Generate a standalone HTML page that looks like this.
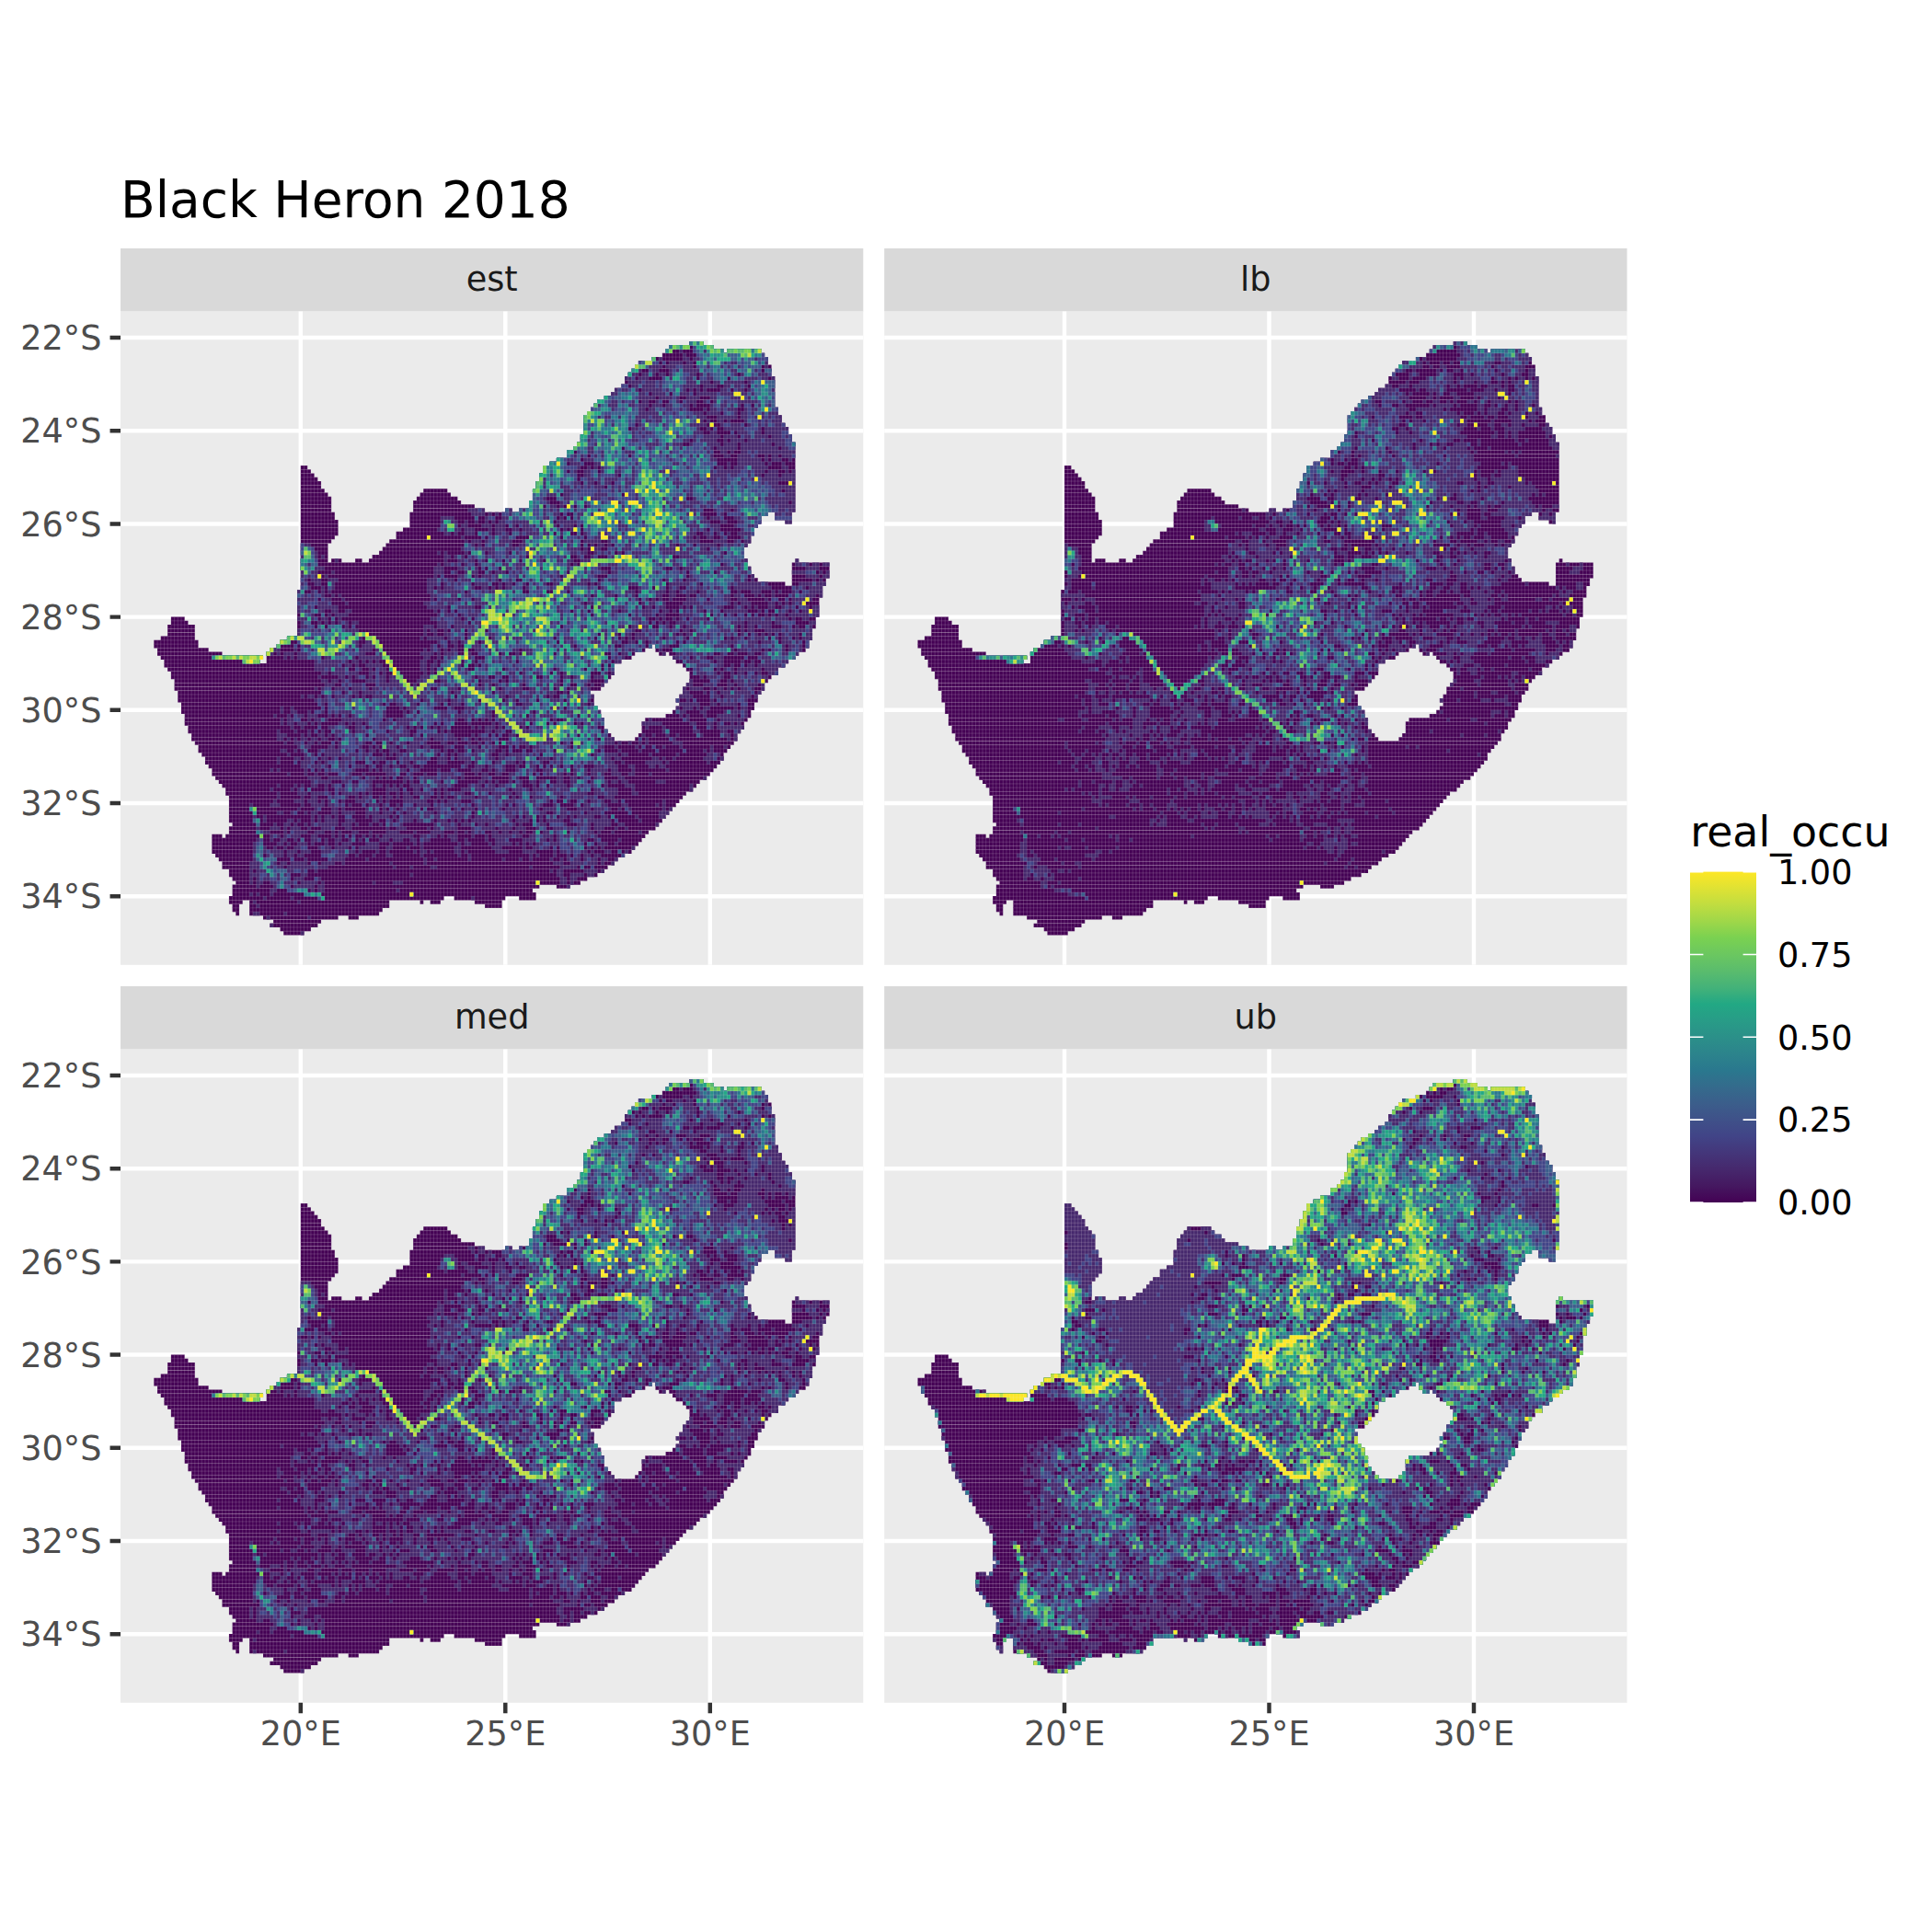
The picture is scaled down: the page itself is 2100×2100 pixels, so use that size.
<!DOCTYPE html><html><head><meta charset="utf-8"><title>Black Heron 2018</title><style>html,body{margin:0;padding:0;background:#fff}svg{display:block}text{font-family:"DejaVu Sans","Liberation Sans",sans-serif}</style></head><body><svg width="2100" height="2100" viewBox="0 0 2100 2100"><rect width="2100" height="2100" fill="#fff"/><defs><clipPath id="sa"><path d="M62.83 413.04L59.19 408.89L59.19 403.93L55.38 399.79L55.38 391.5L51.73 387.36L47.92 383.22L47.92 379.08L44.28 374.94L40.47 370.8L40.47 365.83L36.83 365.83L36.83 357.55L44.28 357.55L44.28 353.41L51.73 353.41L51.73 340.99L55.38 340.99L55.38 332.37L69.95 332.37L69.95 336.85L73.6 336.85L73.6 340.99L81.05 340.99L81.05 357.55L84.86 357.55L84.86 365.83L95.96 365.83L95.96 369.97L110.86 369.97L110.86 374.61L155.58 374.61L155.58 378.58L151.77 378.58L151.77 382.39L159.39 382.39L159.39 369.97L163.04 369.97L163.04 365.83L170.49 365.83L170.49 361.69L174.13 361.69L174.13 357.55L181.26 357.55L181.26 353.41L192.52 353.41L192.52 302.06L196.16 302.06L196.16 167.07L203.62 167.07L203.62 171.21L207.26 171.21L207.26 175.69L211.07 175.69L211.07 180.32L214.88 180.32L214.88 184.46L218.52 184.46L218.52 192.75L222.33 192.75L222.33 196.89L225.98 196.89L225.98 201.03L229.79 201.03L229.79 218.42L233.43 218.42L233.43 226.7L237.24 226.7L237.24 243.26L233.43 243.26L233.43 247.4L229.79 247.4L229.79 251.54L225.98 251.54L225.98 273.08L229.79 273.08L229.79 268.94L240.55 268.94L240.55 273.08L255.46 273.08L255.46 268.94L262.91 268.94L262.91 273.08L270.37 273.08L270.37 268.94L274.01 268.94L273.97 264.3L281.42 264.3L281.42 260.16L285.23 260.16L285.23 256.02L288.88 256.02L288.88 251.88L292.69 251.88L292.69 247.74L300.14 247.74L300.14 239.45L307.59 239.45L307.59 234.98L315.05 234.98L315.05 218.42L318.69 218.42L318.69 205.5L322.5 205.5L322.5 201.36L326.14 201.36L326.14 197.22L329.95 197.22L329.95 193.08L355.13 193.08L355.13 197.22L359.27 197.22L359.27 201.36L366.72 201.36L366.72 205.5L370.04 205.5L370.04 209.64L384.94 209.64L384.94 213.78L396.2 213.78L396.2 218.42L418.9 218.42L418.9 213.78L425.52 213.78L425.52 218.42L432.98 218.42L432.98 213.78L444.57 213.78L444.57 205.5L448.38 205.5L448.38 193.08L452.02 193.08L452.02 184.8L455.83 184.8L455.83 176.51L459.48 176.51L459.48 167.4L466.93 167.4L466.93 163.26L474.38 163.26L474.38 159.12L485.15 159.12L485.15 150.84L492.6 150.84L492.6 146.7L496.74 146.7L496.74 142.56L500.55 142.56L500.55 134.28L504.2 134.28L503.79 112.91L507.31 108.86L511.71 104.46L515.23 100.59L518.75 96.19L533.71 91.79L533.71 87.39L541.63 82.99L545.15 78.59L548.67 75.07L552.19 66.28L555.71 62.23L559.58 58L567.15 53.96L585.63 49.56L592.66 41.64L596.18 37.24L619.06 37.24L619.06 32.84L633.14 32.84L633.14 37.24L644.58 37.24L644.58 41.11L656.02 41.11L656.02 45.16L659.54 45.16L659.54 41.11L696.49 41.11L700.01 46.04L703.53 53.96L707.93 66.28L711.45 79.47L711.45 104.11L714.97 107.63L719.02 121.71L722.54 125.23L726.41 129.1L729.93 142.83L733.8 146.35L733.8 218.5L729.93 218.5L729.93 230.82L722.54 230.82L722.54 226.42L711.45 226.42L711.45 218.5L704.06 218.5L704.06 222.02L696.49 222.02L696.49 226.42L692.98 230.82L689.46 238.74L685.41 246.66L681.89 251.94L678.02 255.46L678.02 268.66L681.89 273.06L685.41 285.38L689.46 289.77L696.49 294.17L718.49 294.17L722.54 298.22L729.93 298.22L729.93 273.06L733.8 272.99L733.8 268.85L737.45 268.85L737.45 272.99L770.57 272.99L770.57 289.56L767.26 289.56L767.26 297.84L763.12 297.84L763.12 310.26L759.81 310.26L759.81 331.79L755.67 331.79L755.67 344.22L752.35 344.22L752.35 356.64L748.21 356.64L748.21 364.92L740.76 369.89L733.31 375.69L725.85 380.65L718.4 386.45L710.95 395.56L703.49 403.01L700.18 407.16L696.04 415.44L689.41 424.55L689.41 432L685.27 436.97L677.82 449.39L674.51 457.67L670.37 462.64L667.05 470.1L659.6 475.06L655.46 483.35L652.15 490.8L644.69 496.6L640.55 504.05L633.1 509.02L625.65 516.47L618.19 521.44L610.74 528.89L607.43 533.86L603.29 537.18L596.66 545.46L592.52 549.6L588.38 554.57L585.07 558.71L577.61 563.68L570.16 571.13L566.85 575.27L559.39 581.4L555.54 585.38L552.23 588.69L544.78 592.83L540.64 597.8L533.51 601.94L526.06 606.08L522.42 610.22L514.96 614.36L504.2 618.5L496.74 622.64L489.29 622.64L489.29 627.28L474.38 627.28L474.38 622.64L456.16 622.64L456.16 627.28L448.71 627.28L448.71 631.42L452.02 631.42L452.02 640.03L432.98 640.03L432.98 635.89L418.9 635.89L418.9 640.03L414.76 640.03L414.76 648.32L396.2 648.32L396.2 644.17L384.94 644.17L384.94 640.03L363.41 640.03L363.41 635.89L351.82 635.89L351.82 640.03L348.17 640.03L348.17 644.17L336.91 644.17L336.91 640.03L329.95 640.03L329.95 644.17L326.14 644.17L326.14 640.03L293.02 640.03L293.02 648.32L285.56 648.32L285.56 652.46L281.42 652.46L281.42 656.6L259.1 656.6L259.1 660.74L248.34 660.74L248.34 656.6L236.74 656.6L236.74 660.74L218.52 660.74L218.52 664.88L214.88 664.88L214.88 669.02L206.93 669.02L206.93 673.16L199.48 673.16L199.48 677.63L177.94 677.63L177.94 673.16L173.8 673.16L173.8 669.02L163.04 669.02L163.04 664.88L166.35 664.88L166.35 660.74L155.58 660.74L155.58 656.6L140.68 656.6L140.68 640.03L133.22 640.03L133.22 644.17L129.41 644.17L129.41 656.6L125.77 656.6L125.77 652.46L122.13 652.46L122.13 644.17L118.32 644.17L118.32 635.89L122.13 635.89L122.13 622.64L125.77 622.64L125.77 618.5L122.13 618.5L122.13 614.36L118.32 614.36L118.32 606.08L110.86 606.08L110.86 597.8L107.22 597.8L107.22 592.83L103.41 592.83L103.41 588.69L99.77 588.69L99.77 567.98L110.86 567.98L110.86 572.12L114.67 572.12L114.67 567.98L118.32 567.98L118.32 559.7L122.13 559.7L122.13 555.56L118.32 555.56L118.32 525.75L114.67 525.75L114.67 517.47L110.86 517.47L110.86 512.5L107.22 512.5L107.22 508.36L103.41 508.36L103.41 504.22L99.77 504.22L99.77 500.07L95.96 495.93L92.31 487.65L88.5 483.51L85.19 475.23L81.38 471.09L77.74 462.81L74.09 457.84L74.09 453.7L70.28 445.42L70.28 441.28L66.47 437.13L66.47 424.71L62.83 424.71L62.83 421.4ZM578.44 361.61L581.75 361.61L581.75 369.06L585.07 369.06L585.07 374.03L592.52 374.03L592.52 369.89L596.66 369.89L596.66 374.03L599.97 374.03L599.97 377.34L604.11 377.34L604.11 382.31L611.57 382.31L611.57 386.45L614.88 386.45L614.88 391.42L619.02 391.42L619.02 403.84L614.88 403.84L614.88 407.98L611.57 407.98L611.57 416.27L607.43 416.27L607.43 420.41L604.11 420.41L604.11 424.55L607.43 424.55L607.43 428.69L604.11 428.69L604.11 432.83L599.97 432.83L599.97 436.97L592.52 436.97L592.52 441.11L570.99 441.11L570.99 445.25L566.85 445.25L566.85 457.67L562.71 457.67L562.71 462.64L559.39 462.64L559.39 466.78L537.03 466.78L537.03 462.64L533.72 462.64L533.72 458.5L529.58 458.5L529.58 454.36L526.27 454.36L526.27 441.94L522.13 441.94L522.13 432.83L518.81 432.83L518.81 428.69L514.67 428.69L514.67 416.27L511.36 416.27L511.36 412.12L522.13 412.12L522.13 407.98L526.27 407.98L526.27 403.84L529.58 403.84L529.58 399.7L533.72 399.7L533.72 394.73L537.03 394.73L537.03 382.31L544.49 382.31L544.49 378.17L555.25 378.17L555.25 374.03L559.39 374.03L559.39 369.89L570.99 369.89L570.99 365.75L578.44 365.75Z" clip-rule="evenodd"/></clipPath><g id="grid" clip-path="url(#sa)"><g transform="translate(25.22,28.4) scale(3.7083,4.2167)"><path d="M3 0V160M4 0V160M5 0V160M6 0V160M7 0V160M8 0V160M9 0V160M10 0V160M11 0V160M12 0V160M13 0V160M14 0V160M15 0V160M16 0V160M17 0V160M18 0V160M19 0V160M20 0V160M21 0V160M22 0V160M23 0V160M24 0V160M25 0V160M26 0V160M27 0V160M28 0V160M29 0V160M30 0V160M31 0V160M32 0V160M33 0V160M34 0V160M35 0V160M36 0V160M37 0V160M38 0V160M39 0V160M40 0V160M41 0V160M42 0V160M43 0V160M44 0V160M45 0V160M46 0V160M47 0V160M48 0V160M49 0V160M50 0V160M51 0V160M52 0V160M53 0V160M54 0V160M55 0V160M56 0V160M57 0V160M58 0V160M59 0V160M60 0V160M61 0V160M62 0V160M63 0V160M64 0V160M65 0V160M66 0V160M67 0V160M68 0V160M69 0V160M70 0V160M71 0V160M72 0V160M73 0V160M74 0V160M75 0V160M76 0V160M77 0V160M78 0V160M79 0V160M80 0V160M81 0V160M82 0V160M83 0V160M84 0V160M85 0V160M86 0V160M87 0V160M88 0V160M89 0V160M90 0V160M91 0V160M92 0V160M93 0V160M94 0V160M95 0V160M96 0V160M97 0V160M98 0V160M99 0V160M100 0V160M101 0V160M102 0V160M103 0V160M104 0V160M105 0V160M106 0V160M107 0V160M108 0V160M109 0V160M110 0V160M111 0V160M112 0V160M113 0V160M114 0V160M115 0V160M116 0V160M117 0V160M118 0V160M119 0V160M120 0V160M121 0V160M122 0V160M123 0V160M124 0V160M125 0V160M126 0V160M127 0V160M128 0V160M129 0V160M130 0V160M131 0V160M132 0V160M133 0V160M134 0V160M135 0V160M136 0V160M137 0V160M138 0V160M139 0V160M140 0V160M141 0V160M142 0V160M143 0V160M144 0V160M145 0V160M146 0V160M147 0V160M148 0V160M149 0V160M150 0V160M151 0V160M152 0V160M153 0V160M154 0V160M155 0V160M156 0V160M157 0V160M158 0V160M159 0V160M160 0V160M161 0V160M162 0V160M163 0V160M164 0V160M165 0V160M166 0V160M167 0V160M168 0V160M169 0V160M170 0V160M171 0V160M172 0V160M173 0V160M174 0V160M175 0V160M176 0V160M177 0V160M178 0V160M179 0V160M180 0V160M181 0V160M182 0V160M183 0V160M184 0V160M185 0V160M186 0V160M187 0V160M188 0V160M189 0V160M190 0V160M191 0V160M192 0V160M193 0V160M194 0V160M195 0V160M196 0V160M197 0V160M198 0V160M199 0V160M200 0V160M201 0V160M0 1H205M0 2H205M0 3H205M0 4H205M0 5H205M0 6H205M0 7H205M0 8H205M0 9H205M0 10H205M0 11H205M0 12H205M0 13H205M0 14H205M0 15H205M0 16H205M0 17H205M0 18H205M0 19H205M0 20H205M0 21H205M0 22H205M0 23H205M0 24H205M0 25H205M0 26H205M0 27H205M0 28H205M0 29H205M0 30H205M0 31H205M0 32H205M0 33H205M0 34H205M0 35H205M0 36H205M0 37H205M0 38H205M0 39H205M0 40H205M0 41H205M0 42H205M0 43H205M0 44H205M0 45H205M0 46H205M0 47H205M0 48H205M0 49H205M0 50H205M0 51H205M0 52H205M0 53H205M0 54H205M0 55H205M0 56H205M0 57H205M0 58H205M0 59H205M0 60H205M0 61H205M0 62H205M0 63H205M0 64H205M0 65H205M0 66H205M0 67H205M0 68H205M0 69H205M0 70H205M0 71H205M0 72H205M0 73H205M0 74H205M0 75H205M0 76H205M0 77H205M0 78H205M0 79H205M0 80H205M0 81H205M0 82H205M0 83H205M0 84H205M0 85H205M0 86H205M0 87H205M0 88H205M0 89H205M0 90H205M0 91H205M0 92H205M0 93H205M0 94H205M0 95H205M0 96H205M0 97H205M0 98H205M0 99H205M0 100H205M0 101H205M0 102H205M0 103H205M0 104H205M0 105H205M0 106H205M0 107H205M0 108H205M0 109H205M0 110H205M0 111H205M0 112H205M0 113H205M0 114H205M0 115H205M0 116H205M0 117H205M0 118H205M0 119H205M0 120H205M0 121H205M0 122H205M0 123H205M0 124H205M0 125H205M0 126H205M0 127H205M0 128H205M0 129H205M0 130H205M0 131H205M0 132H205M0 133H205M0 134H205M0 135H205M0 136H205M0 137H205M0 138H205M0 139H205M0 140H205M0 141H205M0 142H205M0 143H205M0 144H205M0 145H205M0 146H205M0 147H205M0 148H205M0 149H205M0 150H205M0 151H205M0 152H205M0 153H205M0 154H205" fill="none" stroke="#ebebeb" stroke-opacity="0.17" stroke-width="1" vector-effect="non-scaling-stroke"/></g></g></defs><text x="131" y="235.5" font-size="55" fill="#000">Black Heron 2018</text><g transform="translate(131,270)"><rect width="807.3" height="68.6" fill="#d9d9d9"/><text x="403.65" y="46.2" font-size="36.67" fill="#1a1a1a" text-anchor="middle">est</text></g><g transform="translate(131,338.6)"><rect width="807.3" height="710.2" fill="#ebebeb"/><path d="M0 28.4H807.3M0 129.6H807.3M0 230.8H807.3M0 332H807.3M0 433.2H807.3M0 534.4H807.3M0 635.6H807.3M195.8 0V710.2M418.3 0V710.2M640.8 0V710.2" stroke="#fff" stroke-width="4.45" fill="none"/><g transform="translate(25.22,28.4) scale(3.7083,4.2167)" fill="none" stroke-width="1.04"><g stroke="#440154"><path d="M160 1.5h4"/><path d="M154 2.5h13"/><path d="M153 3.5h28" stroke-dasharray="17 1 10 1"/><path d="M152 4.5h30"/><path d="M149 5.5h34"/><path d="M145 6.5h38"/><path d="M144 7.5h40"/><path d="M143 8.5h41"/><path d="M142 9.5h42"/><path d="M141 10.5h44"/><path d="M141 11.5h44"/><path d="M140 12.5h45"/><path d="M138 13.5h47"/><path d="M137 14.5h48"/><path d="M135 15.5h50"/><path d="M133 16.5h52"/><path d="M132 17.5h53"/><path d="M131 18.5h55"/><path d="M130 19.5h56"/><path d="M129 20.5h58"/><path d="M129 21.5h58"/><path d="M129 22.5h59"/><path d="M129 23.5h60"/><path d="M129 24.5h60"/><path d="M128 25.5h62"/><path d="M128 26.5h62"/><path d="M127 27.5h64"/><path d="M126 28.5h65"/><path d="M124 29.5h67"/><path d="M124 30.5h67"/><path d="M121 31.5h70"/><path d="M119 32.5h72"/><path d="M46 33.5h145" stroke-dasharray="2 69 74 1"/><path d="M46 34.5h145" stroke-dasharray="3 68 74 1"/><path d="M46 35.5h145" stroke-dasharray="4 66 75 1"/><path d="M46 36.5h145" stroke-dasharray="5 65 75 1"/><path d="M46 37.5h145" stroke-dasharray="6 63 76 1"/><path d="M46 38.5h145" stroke-dasharray="6 63 76 1"/><path d="M46 39.5h145" stroke-dasharray="7 29 7 25 77 1"/><path d="M46 40.5h145" stroke-dasharray="8 27 9 24 77 1"/><path d="M46 41.5h145" stroke-dasharray="9 25 12 22 77 1"/><path d="M46 42.5h145" stroke-dasharray="9 24 14 20 78 1"/><path d="M46 43.5h145" stroke-dasharray="9 24 18 16 78 1"/><path d="M46 44.5h145" stroke-dasharray="9 24 21 6 2 2 81 1"/><path d="M46 45.5h144" stroke-dasharray="10 22 105 2 5 1"/><path d="M46 46.5h144" stroke-dasharray="10 22 103 4 5 1"/><path d="M46 47.5h144" stroke-dasharray="11 21 103 7 2 1"/><path d="M46 48.5h134" stroke-dasharray="11 21 102 1"/><path d="M46 49.5h133" stroke-dasharray="11 19 103 1"/><path d="M46 50.5h133" stroke-dasharray="11 17 105 1"/><path d="M46 51.5h132" stroke-dasharray="10 18 104 1"/><path d="M46 52.5h132" stroke-dasharray="9 17 106 1"/><path d="M46 53.5h131" stroke-dasharray="8 17 106 1"/><path d="M46 54.5h130" stroke-dasharray="8 16 106 1"/><path d="M46 55.5h130" stroke-dasharray="8 15 107 1"/><path d="M46 56.5h130" stroke-dasharray="8 13 109 1"/><path d="M46 57.5h146" stroke-dasharray="8 1 3 4 2 2 111 14 1 1"/><path d="M46 58.5h155" stroke-dasharray="131 13 11 1"/><path d="M46 59.5h155" stroke-dasharray="132 12 11 1"/><path d="M46 60.5h155" stroke-dasharray="132 12 11 1"/><path d="M46 61.5h155" stroke-dasharray="133 11 11 1"/><path d="M46 62.5h154" stroke-dasharray="134 10 10 1"/><path d="M46 63.5h154" stroke-dasharray="142 2 10 1"/><path d="M46 64.5h153"/><path d="M45 65.5h154"/><path d="M45 66.5h154"/><path d="M45 67.5h153"/><path d="M45 68.5h153"/><path d="M45 69.5h153"/><path d="M45 70.5h153"/><path d="M45 71.5h153"/><path d="M8 72.5h189" stroke-dasharray="4 33 152 1"/><path d="M8 73.5h189" stroke-dasharray="5 32 152 1"/><path d="M7 74.5h190" stroke-dasharray="8 30 152 1"/><path d="M7 75.5h189" stroke-dasharray="8 30 151 1"/><path d="M7 76.5h189" stroke-dasharray="8 30 151 1"/><path d="M5 77.5h191" stroke-dasharray="10 27 154 1"/><path d="M3 78.5h192" stroke-dasharray="13 24 155 1"/><path d="M3 79.5h192" stroke-dasharray="13 23 110 1 45 1"/><path d="M4 80.5h190" stroke-dasharray="15 18 110 3 44 1"/><path d="M4 81.5h188" stroke-dasharray="19 13 108 7 2 1 38 1"/><path d="M5 82.5h186" stroke-dasharray="30 1 107 12 36 1"/><path d="M6 83.5h183" stroke-dasharray="28 2 104 16 33 1"/><path d="M6 84.5h182" stroke-dasharray="132 20 30 1"/><path d="M7 85.5h179" stroke-dasharray="131 21 27 1"/><path d="M8 86.5h178" stroke-dasharray="130 22 26 1"/><path d="M8 87.5h176" stroke-dasharray="129 23 24 1"/><path d="M9 88.5h174" stroke-dasharray="127 24 23 1"/><path d="M9 89.5h173" stroke-dasharray="126 24 23 1"/><path d="M9 90.5h173" stroke-dasharray="125 24 24 1"/><path d="M10 91.5h171" stroke-dasharray="121 27 23 1"/><path d="M10 92.5h170" stroke-dasharray="122 25 23 1"/><path d="M10 93.5h170" stroke-dasharray="122 24 24 1"/><path d="M11 94.5h168" stroke-dasharray="121 25 22 1"/><path d="M11 95.5h168" stroke-dasharray="122 23 23 1"/><path d="M11 96.5h167" stroke-dasharray="123 21 23 1"/><path d="M12 97.5h166" stroke-dasharray="122 19 25 1"/><path d="M12 98.5h165" stroke-dasharray="123 12 30 1"/><path d="M12 99.5h164" stroke-dasharray="123 11 30 1"/><path d="M13 100.5h163" stroke-dasharray="122 11 30 1"/><path d="M13 101.5h162" stroke-dasharray="123 10 29 1"/><path d="M14 102.5h160" stroke-dasharray="123 8 29 1"/><path d="M14 103.5h160" stroke-dasharray="124 6 30 1"/><path d="M15 104.5h158"/><path d="M16 105.5h156"/><path d="M16 106.5h155"/><path d="M17 107.5h153"/><path d="M18 108.5h152"/><path d="M18 109.5h151"/><path d="M19 110.5h149"/><path d="M20 111.5h147"/><path d="M20 112.5h146"/><path d="M21 113.5h144"/><path d="M22 114.5h141"/><path d="M23 115.5h139"/><path d="M24 116.5h137"/><path d="M24 117.5h135"/><path d="M25 118.5h133"/><path d="M25 119.5h132"/><path d="M25 120.5h131"/><path d="M25 121.5h130"/><path d="M25 122.5h129"/><path d="M25 123.5h128"/><path d="M25 124.5h127"/><path d="M26 125.5h125"/><path d="M25 126.5h125"/><path d="M25 127.5h123"/><path d="M20 128.5h127" stroke-dasharray="3 1 123 1"/><path d="M20 129.5h126"/><path d="M20 130.5h125"/><path d="M20 131.5h124"/><path d="M20 132.5h123"/><path d="M21 133.5h120"/><path d="M22 134.5h117"/><path d="M23 135.5h115"/><path d="M23 136.5h113"/><path d="M25 137.5h110"/><path d="M25 138.5h108"/><path d="M26 139.5h104"/><path d="M27 140.5h101"/><path d="M26 141.5h99" stroke-dasharray="90 5 4 1"/><path d="M26 142.5h88"/><path d="M26 143.5h89"/><path d="M25 144.5h90" stroke-dasharray="63 3 15 4 5 1"/><path d="M25 145.5h80" stroke-dasharray="4 2 41 9 1 2 3 10 8 1"/><path d="M26 146.5h79" stroke-dasharray="2 3 41 28 5 1"/><path d="M26 147.5h44" stroke-dasharray="2 3 39 1"/><path d="M27 148.5h42" stroke-dasharray="1 3 38 1"/><path d="M35 149.5h28" stroke-dasharray="22 3 3 1"/><path d="M38 150.5h14"/><path d="M37 151.5h14"/><path d="M40 152.5h9"/><path d="M41 153.5h6"/></g><g stroke="#46286d"><path d="M160 1.5h4"/><path d="M154 2.5h13" stroke-dasharray="6 1 6 1"/><path d="M153 3.5h28" stroke-dasharray="2 2 1 3 9 1 10 1"/><path d="M158 4.5h24" stroke-dasharray="1 3 20 1"/><path d="M149 5.5h34" stroke-dasharray="1 1 1 6 2 1 22 1"/><path d="M145 6.5h38" stroke-dasharray="6 1 1 1 4 1 2 1 21 1"/><path d="M144 7.5h39" stroke-dasharray="8 1 8 1 19 1 1 1"/><path d="M143 8.5h41" stroke-dasharray="3 2 3 3 27 1 2 1"/><path d="M142 9.5h42" stroke-dasharray="3 1 4 1 2 1 8 1 11 1 9 1"/><path d="M141 10.5h44" stroke-dasharray="3 1 3 4 10 1 8 1 11 1 1 1"/><path d="M142 11.5h43" stroke-dasharray="24 1 9 1 8 1"/><path d="M140 12.5h45" stroke-dasharray="2 1 20 1 4 2 7 1 7 1"/><path d="M138 13.5h47" stroke-dasharray="7 1 13 1 1 1 1 1 1 4 3 1 3 1 8 1"/><path d="M137 14.5h48" stroke-dasharray="11 1 5 1 6 1 23 1"/><path d="M135 15.5h50" stroke-dasharray="15 1 6 2 4 3 19 1"/><path d="M133 16.5h52" stroke-dasharray="12 1 2 2 2 2 3 1 4 2 2 1 18 1"/><path d="M132 17.5h53" stroke-dasharray="16 1 3 1 7 1 1 4 9 1 2 1 6 1"/><path d="M131 18.5h55" stroke-dasharray="16 1 12 4 1 1 8 2 10 1"/><path d="M130 19.5h56" stroke-dasharray="34 1 4 1 4 1 11 1"/><path d="M129 20.5h58" stroke-dasharray="36 3 6 1 12 1"/><path d="M129 21.5h58" stroke-dasharray="35 1 1 2 2 1 1 4 11 1"/><path d="M129 22.5h59" stroke-dasharray="15 1 20 1 1 2 7 1 11 1"/><path d="M129 23.5h60" stroke-dasharray="13 1 20 2 1 1 1 2 11 1 7 1"/><path d="M129 24.5h60" stroke-dasharray="35 2 2 4 1 1 7 1 7 1"/><path d="M128 25.5h62" stroke-dasharray="41 1 4 1 8 1 6 1"/><path d="M128 26.5h62" stroke-dasharray="32 1 7 2 1 1 4 1 13 1"/><path d="M127 27.5h64" stroke-dasharray="31 2 9 1 4 1 9 1 6 1"/><path d="M126 28.5h65" stroke-dasharray="14 1 26 1 6 1 11 1 4 1"/><path d="M124 29.5h67" stroke-dasharray="2 1 40 2 2 1 1 2 16 1"/><path d="M124 30.5h67" stroke-dasharray="6 1 11 1 24 3 2 2 6 2 1 1 2 1 4 1"/><path d="M121 31.5h69" stroke-dasharray="7 1 39 6 7 1 1 1 3 2 1 1"/><path d="M119 32.5h69" stroke-dasharray="5 1 4 3 36 3 1 2 8 1 1 3 1 1"/><path d="M117 33.5h72" stroke-dasharray="11 2 1 1 1 1 33 1 2 1 1 1 10 4 2 1"/><path d="M117 34.5h74" stroke-dasharray="7 1 2 2 4 1 48 1 3 2 1 1 1 1"/><path d="M116 35.5h75" stroke-dasharray="11 2 10 1 41 1 4 1 4 1"/><path d="M116 36.5h75" stroke-dasharray="11 1 63 1"/><path d="M115 37.5h76" stroke-dasharray="13 1 3 1 4 1 48 3 2 1"/><path d="M115 38.5h76" stroke-dasharray="20 1 55 1"/><path d="M114 39.5h77" stroke-dasharray="73 1 3 1"/><path d="M114 40.5h77" stroke-dasharray="8 1 17 1 50 1"/><path d="M114 41.5h77" stroke-dasharray="4 3 38 2 30 1"/><path d="M113 42.5h78" stroke-dasharray="6 3 67 1 1 1"/><path d="M113 43.5h78" stroke-dasharray="4 1 3 1 1 1 2 1 2 1 61 1"/><path d="M95 44.5h96" stroke-dasharray="5 6 2 2 54 3 5 1 18 1"/><path d="M96 45.5h94" stroke-dasharray="4 1 1 1 1 1 17 1 1 2 38 4 2 1 12 2 5 1"/><path d="M87 46.5h103" stroke-dasharray="4 6 1 2 3 2 16 1 1 1 1 1 39 1 4 3 8 4 5 1"/><path d="M87 47.5h103" stroke-dasharray="5 2 1 2 1 2 1 1 1 1 16 1 45 3 2 3 7 7 2 1"/><path d="M87 48.5h93" stroke-dasharray="5 1 2 4 3 1 3 1 2 1 11 1 4 1 1 1 40 4 7 1"/><path d="M86 49.5h93" stroke-dasharray="7 1 3 4 1 1 3 2 2 1 11 1 1 1 3 1 36 1 3 6 4 1"/><path d="M88 50.5h91" stroke-dasharray="2 1 1 2 3 1 4 1 4 1 12 1 4 2 1 1 33 2 3 1 2 1 1 2 5 1"/><path d="M83 51.5h95" stroke-dasharray="1 9 1 5 1 1 8 4 9 1 6 1 31 1 1 2 2 2 2 4 3 1"/><path d="M94 52.5h84" stroke-dasharray="1 1 3 1 8 3 17 1 5 2 27 4 4 2 2 1 2 1"/><path d="M46 53.5h131" stroke-dasharray="3 45 3 1 1 1 8 2 18 1 1 1 1 1 2 1 1 1 18 1 4 1 6 1 8 1"/><path d="M46 54.5h130" stroke-dasharray="4 43 35 1 1 1 3 2 29 1 10 1"/><path d="M46 55.5h130" stroke-dasharray="5 35 1 1 1 5 1 1 4 1 6 1 22 2 6 1 1 1 29 1 5 1"/><path d="M46 56.5h130" stroke-dasharray="5 1 1 35 2 1 3 1 17 1 12 2 2 2 2 3 19 2 19 1"/><path d="M46 57.5h146" stroke-dasharray="5 5 1 31 1 3 5 1 2 1 4 1 4 1 6 1 8 2 49 14 1 1"/><path d="M46 58.5h155" stroke-dasharray="5 35 1 1 5 1 3 1 27 1 1 1 41 1 7 14 4 1 2 1 2 1"/><path d="M46 59.5h152" stroke-dasharray="7 32 3 4 6 1 1 1 3 1 29 3 16 2 2 1 20 16 4 1"/><path d="M46 60.5h155" stroke-dasharray="5 4 1 29 3 2 2 2 4 2 2 1 3 1 17 1 11 1 22 1 7 1 10 12 7 1 1 1 1 1"/><path d="M46 61.5h155" stroke-dasharray="6 1 1 31 1 1 1 4 4 1 1 1 23 1 10 3 23 1 17 1 1 15 4 1 2 1"/><path d="M46 62.5h153" stroke-dasharray="2 1 3 2 3 26 8 1 12 1 4 2 22 1 18 1 5 1 18 1 1 17 1 1 1 1"/><path d="M46 63.5h154" stroke-dasharray="2 2 2 2 2 27 4 1 8 1 5 2 1 1 2 1 3 1 5 2 10 1 1 1 20 1 9 1 19 9 8 1"/><path d="M46 64.5h153" stroke-dasharray="3 3 1 1 2 27 2 1 1 1 9 2 2 1 1 1 1 1 5 1 21 1 8 3 4 1 3 1 3 2 13 1 11 6 4 1 4 1"/><path d="M45 65.5h154" stroke-dasharray="2 2 2 1 1 1 1 28 11 1 16 2 5 2 4 1 19 1 8 1 2 1 5 1 9 2 1 3 3 3 1 1 1 3 2 1 6 1"/><path d="M45 66.5h154" stroke-dasharray="8 2 1 1 1 26 47 1 6 1 5 1 7 2 2 3 1 2 10 1 3 3 1 1 1 2 1 4 8 1 1 1"/><path d="M45 67.5h151" stroke-dasharray="6 1 3 3 1 25 1 1 6 1 3 1 48 1 2 1 1 1 1 2 1 4 6 1 6 2 3 5 1 1 2 2 1 1 6 1"/><path d="M45 68.5h149" stroke-dasharray="10 4 1 22 47 1 15 1 7 5 14 1 1 1 3 5 2 1 1 1 1 1 4 1"/><path d="M45 69.5h153" stroke-dasharray="5 1 6 26 6 1 7 2 32 1 14 1 2 1 3 4 1 1 1 1 9 3 3 1 1 1 1 3 2 2 4 1 3 1 2 1"/><path d="M45 70.5h153" stroke-dasharray="8 2 2 2 2 24 1 1 2 1 1 1 33 1 4 1 8 1 11 1 2 1 1 1 7 1 4 1 7 3 1 1 1 2 4 1 2 1 5 1"/><path d="M46 71.5h152" stroke-dasharray="4 2 1 1 1 1 4 26 6 1 38 1 10 1 7 1 2 4 9 1 3 1 2 1 2 1 1 1 1 2 1 1 1 1 2 1 9 1"/><path d="M45 72.5h150" stroke-dasharray="6 1 2 1 1 1 1 26 9 1 2 1 51 2 1 1 1 2 1 1 2 1 5 1 23 1 1 2 2 1"/><path d="M46 73.5h151" stroke-dasharray="3 2 1 1 1 1 1 1 3 1 2 23 9 1 52 1 1 1 1 1 1 2 20 1 7 1 6 4 2 1"/><path d="M46 74.5h150" stroke-dasharray="4 1 2 1 4 1 1 1 1 20 3 1 4 1 31 1 19 1 6 2 3 1 3 1 15 1 1 1 2 1 4 3 3 1 1 2 2 1"/><path d="M45 75.5h151" stroke-dasharray="18 19 1 1 2 2 1 1 4 1 5 1 43 2 11 1 2 1 13 1 1 1 2 3 14 1"/><path d="M45 76.5h151" stroke-dasharray="21 16 1 2 1 2 6 1 38 1 5 1 3 1 12 1 1 1 15 1 2 1 2 1 1 1 1 1 1 1 5 1 3 1"/><path d="M42 77.5h154" stroke-dasharray="22 1 3 13 1 1 5 1 5 1 6 1 18 1 11 1 6 1 1 1 1 1 8 1 6 1 10 1 1 1 3 1 6 1 2 1 3 1 1 1 3 1"/><path d="M40 78.5h155" stroke-dasharray="3 2 18 2 4 17 3 1 2 1 5 1 22 1 18 2 2 1 2 1 8 1 1 1 21 1 5 1 6 1 1 1"/><path d="M39 79.5h156" stroke-dasharray="1 4 1 1 17 1 6 14 2 1 2 2 1 2 32 1 11 2 7 1 1 1 4 3 15 1 15 1 4 1 1 1"/><path d="M37 80.5h156" stroke-dasharray="3 4 1 1 21 1 2 12 1 1 3 1 1 1 2 2 1 2 13 1 35 5 1 3 18 1 7 1 1 1 4 1 4 1"/><path d="M36 81.5h156" stroke-dasharray="2 1 1 1 3 1 20 3 3 10 4 1 1 1 4 2 2 2 6 1 2 2 1 1 9 1 14 2 2 1 3 9 1 3 11 2 2 2 1 3 2 2 11 1"/><path d="M20 82.5h171" stroke-dasharray="15 6 1 1 1 1 7 1 9 1 9 10 2 2 1 1 9 3 36 1 4 14 5 1 4 2 3 6 1 3 11 1"/><path d="M29 83.5h160" stroke-dasharray="5 16 10 1 2 1 1 1 1 1 1 2 2 8 2 2 1 1 6 1 3 1 11 1 27 1 2 18 9 1 2 5 1 2 1 2 8 1"/><path d="M50 84.5h138" stroke-dasharray="8 1 2 1 1 2 5 2 1 8 2 1 2 1 6 1 1 2 1 1 35 1 1 1 1 21 11 2 1 2 1 1 2 1 8 1"/><path d="M50 85.5h136" stroke-dasharray="10 2 2 2 1 1 3 1 2 7 2 1 1 1 9 2 8 1 14 1 8 1 4 1 3 23 6 1 1 1 3 1 7 1 4 1"/><path d="M52 86.5h134" stroke-dasharray="2 1 8 3 3 1 1 2 2 7 1 1 1 1 24 1 8 1 2 1 8 3 2 1 1 23 7 1 1 2 1 1 2 1 2 1 1 2 3 1"/><path d="M51 87.5h132" stroke-dasharray="1 5 2 1 1 1 3 1 1 1 3 1 4 5 16 1 3 2 2 2 8 2 5 1 2 1 5 1 4 27 1 1 5 2 11 1"/><path d="M52 88.5h130" stroke-dasharray="2 1 2 1 3 4 6 1 5 3 5 2 11 1 5 1 1 1 15 1 8 4 1 24 1 5 3 2 1 1 9 1"/><path d="M53 89.5h129" stroke-dasharray="3 2 7 3 10 1 1 1 17 1 3 1 8 1 10 1 2 2 3 1 1 2 1 24 2 3 4 3 2 1 6 1 1 1"/><path d="M50 90.5h132" stroke-dasharray="1 1 3 1 4 1 5 1 17 2 6 1 11 1 6 2 7 1 3 1 6 27 1 1 4 2 1 1 2 1 1 1 1 1 4 2 1 1"/><path d="M52 91.5h129" stroke-dasharray="6 1 4 1 26 1 11 1 18 2 1 1 6 27 2 4 1 1 2 1 10 1 1 1"/><path d="M46 92.5h134" stroke-dasharray="1 1 2 1 1 1 2 1 5 1 1 1 1 2 24 1 14 1 11 1 1 2 10 25 4 5 3 1 8 1 1 1"/><path d="M50 93.5h127" stroke-dasharray="31 1 7 1 8 1 6 1 3 1 5 1 7 1 7 25 1 2 1 1 1 4 1 1 9 1"/><path d="M51 94.5h126" stroke-dasharray="2 1 16 1 1 2 6 1 6 1 1 1 3 1 15 2 19 1 1 25 6 3 2 1 5 1 2 1"/><path d="M40 95.5h137" stroke-dasharray="1 2 1 8 1 1 17 4 1 1 8 4 2 3 29 1 9 23 1 1 3 1 1 1 2 7 1 1 2 1"/><path d="M40 96.5h137" stroke-dasharray="1 2 2 3 1 1 3 1 17 5 1 1 2 1 11 1 9 1 11 1 19 22 3 4 2 5 7 1"/><path d="M38 97.5h139" stroke-dasharray="1 3 1 1 3 1 3 3 1 1 1 1 2 1 10 5 26 1 9 1 14 1 6 23 1 1 1 4 1 3 6 1 2 1"/><path d="M40 98.5h136" stroke-dasharray="1 1 4 2 1 1 4 4 12 1 2 1 18 2 2 1 1 1 1 1 1 1 16 1 1 2 12 13 1 9 2 5 3 1 7 1"/><path d="M40 99.5h135" stroke-dasharray="1 1 2 1 3 1 1 1 1 5 2 1 1 1 2 1 20 1 1 1 3 4 1 6 1 1 9 1 4 1 1 1 5 1 1 1 6 11 6 8 2 3 2 1 2 2 1 1 1 1"/><path d="M43 100.5h133" stroke-dasharray="1 2 1 4 1 2 6 2 3 1 11 1 1 1 1 1 2 1 1 1 3 6 1 1 1 1 3 1 1 1 4 1 1 1 20 14 1 4 1 8 1 3 2 1 8 1"/><path d="M39 101.5h136" stroke-dasharray="1 4 1 3 1 1 1 1 1 2 6 1 9 1 6 2 6 1 1 1 1 10 2 1 3 2 26 1 1 16 2 7 2 6 2 2 2 1"/><path d="M39 102.5h135" stroke-dasharray="3 4 1 1 1 2 2 1 1 1 9 1 12 1 2 1 9 5 1 1 3 1 1 1 1 2 2 1 17 1 8 10 1 2 1 3 1 2 1 5 2 5 3 1 1 1"/><path d="M39 103.5h135" stroke-dasharray="2 1 1 1 1 1 2 1 2 1 2 2 1 1 9 1 16 1 7 1 3 1 1 1 5 3 26 1 4 7 1 1 1 6 2 15 1 1 1 1"/><path d="M41 104.5h117" stroke-dasharray="1 2 3 1 2 1 1 3 1 1 8 2 1 2 2 1 4 1 5 4 2 2 1 3 1 2 1 1 2 1 1 1 17 1 2 1 12 1 1 2 1 2 1 1 1 7 3 1"/><path d="M45 105.5h126" stroke-dasharray="4 5 2 1 7 2 1 1 1 1 4 1 6 1 2 4 3 3 4 1 5 3 1 1 1 2 1 1 11 1 9 3 1 5 1 1 1 2 1 2 1 4 1 8 1 3 1 1"/><path d="M40 106.5h127" stroke-dasharray="2 2 1 1 2 3 11 1 2 1 2 1 1 2 3 2 10 1 1 2 1 2 2 1 6 2 1 1 1 3 1 2 6 1 12 1 1 4 1 5 1 4 1 7 1 5 1 1 1 1"/><path d="M42 107.5h127" stroke-dasharray="1 4 3 1 1 1 14 3 1 1 1 1 12 1 2 1 1 1 10 2 2 1 9 1 14 1 7 1 2 6 1 7 1 8 4 1"/><path d="M39 108.5h131" stroke-dasharray="1 4 2 1 4 1 2 1 2 1 13 3 10 2 3 1 1 1 11 1 11 1 3 1 17 1 2 9 2 1 1 2 1 8 4 1 1 1"/><path d="M39 109.5h127" stroke-dasharray="1 4 1 1 4 1 1 1 9 3 2 1 1 2 3 1 3 1 4 3 3 5 2 1 5 1 6 1 1 1 5 2 19 2 1 6 5 1 1 11 1 1"/><path d="M46 110.5h107" stroke-dasharray="8 1 5 1 4 1 2 2 2 1 2 2 2 2 1 11 2 2 3 1 5 3 1 2 3 1 1 1 1 1 2 1 2 1 3 3 7 3 2 4 2 1 2 1"/><path d="M37 111.5h117" stroke-dasharray="1 1 1 7 1 1 1 1 1 1 9 4 1 1 1 1 7 1 3 5 1 3 2 4 3 2 1 1 3 3 6 2 8 1 4 1 5 1 2 4 1 9 1 1"/><path d="M42 112.5h107" stroke-dasharray="1 4 1 2 1 2 1 3 4 3 1 6 4 2 2 3 1 3 8 3 1 1 2 2 2 2 7 1 1 1 6 1 1 1 4 1 4 2 3 2 2 4 1 1"/><path d="M48 113.5h117" stroke-dasharray="4 2 10 1 3 1 1 1 1 1 1 2 3 1 12 1 1 5 3 5 3 3 2 6 2 2 2 1 3 1 3 4 2 23 1 1"/><path d="M49 114.5h104" stroke-dasharray="6 3 3 2 4 9 1 1 1 2 6 1 4 6 2 1 1 1 1 3 1 1 2 2 2 1 3 2 2 2 5 1 5 1 2 1 2 8 3 1"/><path d="M39 115.5h122" stroke-dasharray="1 4 1 1 1 2 2 2 1 1 3 1 8 1 2 1 1 1 1 1 1 2 13 4 4 1 3 1 7 3 1 1 2 1 5 1 9 1 1 5 3 16 1 1"/><path d="M37 116.5h124" stroke-dasharray="1 5 1 1 2 1 1 4 1 2 11 4 4 1 1 2 2 1 3 1 1 1 1 4 14 1 5 1 17 1 7 4 1 16 1 1"/><path d="M39 117.5h106" stroke-dasharray="1 5 3 1 6 1 1 1 5 1 1 1 1 4 1 2 1 1 2 1 6 1 1 1 6 2 5 1 6 1 21 2 7 4 2 1"/><path d="M39 118.5h99" stroke-dasharray="1 6 1 2 2 3 6 2 1 1 3 2 1 1 2 1 1 1 3 2 3 2 1 1 1 2 6 1 9 1 1 1 3 1 8 1 10 2 3 1"/><path d="M38 119.5h115" stroke-dasharray="1 5 3 1 3 1 1 1 3 1 1 3 6 1 1 1 1 4 7 2 1 1 1 1 4 3 23 1 1 2 2 2 3 1 4 2 2 1 1 11 1 1"/><path d="M31 120.5h122" stroke-dasharray="1 5 3 6 1 2 4 1 5 1 1 3 1 1 3 1 2 2 1 1 3 1 4 1 11 1 9 1 1 1 8 3 2 4 2 1 7 4 2 8 1 1 1 1"/><path d="M31 121.5h124" stroke-dasharray="2 12 1 4 2 3 2 1 1 6 4 1 1 1 2 1 6 1 1 2 5 1 2 1 3 1 7 1 10 1 7 3 4 1 5 2 1 1 2 9 1 1 1 1"/><path d="M32 122.5h122" stroke-dasharray="1 6 2 2 2 2 1 1 2 4 2 1 4 3 4 1 3 1 2 1 8 1 10 1 21 2 9 1 5 7 1 8 3 1"/><path d="M32 123.5h121" stroke-dasharray="1 2 1 13 1 1 1 1 2 1 1 2 2 4 1 1 5 1 1 1 21 1 12 1 1 1 3 1 1 1 3 1 2 1 1 1 5 2 2 1 1 6 1 6 2 1"/><path d="M32 124.5h114" stroke-dasharray="2 1 1 6 2 1 1 3 1 1 1 1 4 2 3 5 2 2 2 1 5 1 5 1 3 1 1 1 1 1 1 1 12 1 4 1 1 1 1 1 5 2 12 1 1 6 1 1"/><path d="M33 125.5h118" stroke-dasharray="1 4 1 2 2 1 1 2 1 1 8 1 3 1 1 3 1 2 1 1 5 9 7 1 4 1 2 1 8 1 1 3 4 1 5 3 4 1 5 2 2 9 1 1"/><path d="M33 126.5h109" stroke-dasharray="1 3 3 1 1 1 3 2 1 3 4 3 2 10 1 2 3 6 1 1 7 4 7 1 4 1 3 3 3 2 11 1 3 3 1 2 1 1"/><path d="M33 127.5h113" stroke-dasharray="4 4 1 1 5 2 3 2 1 1 1 3 2 3 1 4 4 4 1 4 4 3 1 2 1 1 4 2 2 1 2 1 2 1 1 2 2 1 7 1 7 1 1 3 1 7 1 1"/><path d="M34 128.5h99" stroke-dasharray="1 2 3 1 5 3 2 4 1 1 1 1 1 1 1 2 1 1 1 1 1 1 9 2 5 1 1 1 3 4 1 3 1 1 9 2 7 1 12 1"/><path d="M33 129.5h107" stroke-dasharray="2 2 1 2 2 2 1 1 1 2 3 1 1 2 2 2 2 1 1 1 1 3 3 1 3 2 2 1 3 6 2 2 1 5 1 2 4 4 7 1 1 1 9 2 2 5 1 1"/><path d="M32 130.5h107" stroke-dasharray="3 4 2 1 1 2 3 1 1 3 1 2 1 1 3 4 4 3 1 6 1 1 1 10 1 1 2 5 1 1 5 1 1 1 1 1 1 1 14 1 2 1 3 2 1 1"/><path d="M32 131.5h112" stroke-dasharray="4 2 1 2 1 2 4 3 4 1 4 1 1 1 6 2 2 4 1 3 1 9 2 9 3 6 1 2 5 1 1 1 7 1 1 1 1 1 1 8 1 1"/><path d="M32 132.5h110" stroke-dasharray="9 1 3 1 3 3 10 1 1 4 1 2 1 7 1 1 2 1 1 6 2 1 1 8 4 4 4 5 1 1 8 1 1 3 2 2 1 1 1 1"/><path d="M32 133.5h109" stroke-dasharray="3 1 5 1 2 1 2 5 8 2 1 4 1 3 2 8 1 10 1 2 1 17 1 1 1 4 1 3 1 1 2 1 2 1 2 6 1 1"/><path d="M32 134.5h107" stroke-dasharray="7 4 1 3 1 6 5 6 1 16 1 2 1 9 1 9 1 4 1 2 1 5 1 2 1 1 4 1 4 1 2 2 1 1"/><path d="M31 135.5h107" stroke-dasharray="8 1 2 1 5 1 2 1 4 2 1 13 1 9 1 37 3 2 8 1 1 2 1 1"/><path d="M31 136.5h101" stroke-dasharray="10 1 12 19 1 4 1 5 2 27 1 8 5 1 1 2 1 1"/><path d="M31 137.5h104" stroke-dasharray="1 1 15 2 1 68 1 1 2 6 4 1 1 1"/><path d="M31 138.5h101" stroke-dasharray="12 3 2 30 1 42 2 2 4 1 2 1"/><path d="M31 139.5h96" stroke-dasharray="1 1 10 1 3 3 2 70 2 1 2 1"/><path d="M31 140.5h95" stroke-dasharray="1 1 2 2 8 1 5 1 1 14 1 5 3 39 1 6 2 1 1 1"/><path d="M33 141.5h92" stroke-dasharray="1 4 5 1 6 1 2 71 1 1"/><path d="M37 142.5h38" stroke-dasharray="2 3 6 1 1 1 2 21 1 1"/><path d="M31 143.5h48" stroke-dasharray="1 1 1 3 1 9 5 26 1 1"/><path d="M35 144.5h62" stroke-dasharray="1 7 1 7 2 43 1 1"/><path d="M32 145.5h14" stroke-dasharray="1 12 1 1"/><path d="M33 146.5h1"/><path d="M32 148.5h10" stroke-dasharray="2 7 1 1"/><path d="M36 149.5h13" stroke-dasharray="1 11 1 1"/><path d="M37 151.5h1"/><path d="M46 153.5h1"/></g><g stroke="#414487"><path d="M160 1.5h4"/><path d="M154 2.5h13" stroke-dasharray="6 1 6 1"/><path d="M153 3.5h28" stroke-dasharray="2 6 3 1 5 1 10 1"/><path d="M162 4.5h20"/><path d="M149 5.5h34" stroke-dasharray="1 13 16 1 3 1"/><path d="M145 6.5h37" stroke-dasharray="6 1 1 9 8 1 1 2 8 1"/><path d="M144 7.5h37" stroke-dasharray="4 8 2 4 3 1 3 1 1 1 2 1 6 1"/><path d="M143 8.5h41" stroke-dasharray="2 3 1 6 1 1 1 5 9 2 5 1 1 1 2 1"/><path d="M142 9.5h42" stroke-dasharray="1 5 1 6 5 4 1 1 7 3 4 3 1 1"/><path d="M143 10.5h38" stroke-dasharray="1 8 2 1 4 2 1 1 2 2 4 1 4 4 1 1"/><path d="M146 11.5h39" stroke-dasharray="1 3 1 1 7 3 1 6 1 8 7 1"/><path d="M140 12.5h45" stroke-dasharray="2 3 1 4 1 1 6 14 1 2 1 2 7 1"/><path d="M139 13.5h45" stroke-dasharray="1 2 2 8 1 1 4 13 1 1 1 4 6 1"/><path d="M139 14.5h46" stroke-dasharray="6 2 1 5 1 1 2 3 1 7 1 4 2 2 1 1 6 1"/><path d="M135 15.5h50" stroke-dasharray="10 10 1 12 4 3 2 1 7 1"/><path d="M133 16.5h52" stroke-dasharray="4 2 1 1 2 1 1 6 1 2 2 2 1 6 1 2 2 1 3 6 5 1"/><path d="M132 17.5h53" stroke-dasharray="1 1 2 3 3 2 1 10 3 9 2 2 1 1 1 2 2 1 1 1 2 1 1 1"/><path d="M131 18.5h55" stroke-dasharray="6 1 7 5 3 2 2 1 1 9 1 1 1 6 1 2 6 1"/><path d="M130 19.5h53" stroke-dasharray="15 6 1 1 2 1 5 9 3 4 1 1 2 1 1 1"/><path d="M129 20.5h56" stroke-dasharray="4 1 1 2 2 1 4 4 1 3 7 1 2 15 2 1 1 1 1 1 1 1"/><path d="M129 21.5h55" stroke-dasharray="15 2 1 2 1 2 11 14 3 1 1 1 1 1"/><path d="M129 22.5h59" stroke-dasharray="8 1 6 2 6 1 7 6 1 3 2 3 1 2 2 1 1 1 2 2 1 1"/><path d="M129 23.5h51" stroke-dasharray="13 3 1 1 15 5 1 8 4 1"/><path d="M129 24.5h60" stroke-dasharray="2 1 11 1 1 1 1 2 12 11 1 4 2 8 2 1"/><path d="M128 25.5h62" stroke-dasharray="3 1 11 1 2 1 9 1 4 1 2 11 1 2 1 8 1 1 1 1"/><path d="M128 26.5h62" stroke-dasharray="2 1 5 1 6 2 5 1 7 4 1 18 1 6 2 1"/><path d="M127 27.5h64" stroke-dasharray="5 1 14 4 2 1 1 6 4 23 3 1"/><path d="M126 28.5h65" stroke-dasharray="4 2 8 1 4 1 2 1 4 1 3 1 6 1 1 23 2 1"/><path d="M124 29.5h56" stroke-dasharray="2 1 3 2 2 1 6 3 7 1 2 1 10 1 1 10 1 1 1 1"/><path d="M124 30.5h67" stroke-dasharray="2 1 1 1 1 1 1 1 1 1 7 1 10 1 3 1 2 1 1 1 3 12 1 11 1 1"/><path d="M121 31.5h45" stroke-dasharray="3 2 2 4 16 1 5 1 11 1"/><path d="M119 32.5h49" stroke-dasharray="5 4 1 5 10 1 10 2 1 1 9 1"/><path d="M117 33.5h61" stroke-dasharray="10 8 4 1 3 1 15 1 7 9 2 1"/><path d="M117 34.5h62" stroke-dasharray="7 1 1 5 2 2 3 2 3 1 7 2 1 2 10 1 1 7 2 1 1 1"/><path d="M116 35.5h63" stroke-dasharray="3 1 7 4 2 1 4 2 3 1 10 1 6 2 3 5 1 2 3 1 1 1"/><path d="M116 36.5h65" stroke-dasharray="1 1 9 1 2 2 1 1 1 4 2 1 1 1 9 1 2 1 5 1 2 3 1 2 4 1 2 1 2 1"/><path d="M115 37.5h75" stroke-dasharray="2 1 4 1 3 3 1 4 1 3 3 3 11 3 2 4 2 2 1 3 2 1 6 1 1 6 1 1"/><path d="M115 38.5h69" stroke-dasharray="2 1 4 3 1 1 1 1 1 1 1 4 1 1 1 1 1 1 14 1 3 1 6 1 1 1 6 1 7 1"/><path d="M114 39.5h71" stroke-dasharray="9 3 1 1 5 1 3 1 1 1 18 1 1 1 4 1 1 2 1 1 14 1"/><path d="M114 40.5h74" stroke-dasharray="4 3 1 3 7 4 4 1 3 1 14 2 3 1 2 1 2 1 12 1 1 1 2 1"/><path d="M114 41.5h68" stroke-dasharray="3 4 2 2 3 1 2 3 2 2 6 1 7 1 2 1 3 3 6 2 10 1 1 1"/><path d="M113 42.5h70" stroke-dasharray="5 5 1 1 4 1 4 1 4 1 13 1 3 2 1 3 2 3 2 1 3 1 3 1 4 1"/><path d="M113 43.5h73" stroke-dasharray="4 1 1 5 2 1 2 2 9 1 11 1 1 2 2 3 2 2 1 1 2 5 10 1 1 1"/><path d="M98 44.5h91" stroke-dasharray="1 7 1 3 1 1 5 1 1 1 1 1 4 1 6 1 23 1 2 2 2 4 2 4 12 2 1 1"/><path d="M105 45.5h83" stroke-dasharray="2 1 9 1 2 3 1 2 1 2 2 1 11 1 1 1 13 1 1 1 1 5 1 2 4 1 7 4 1 1"/><path d="M97 46.5h93" stroke-dasharray="1 3 2 4 10 2 2 3 1 1 1 1 29 1 6 5 1 5 2 3 1 4 5 1"/><path d="M88 47.5h93" stroke-dasharray="2 16 2 5 3 1 3 7 12 1 4 1 1 1 11 1 2 1 1 13 5 1"/><path d="M87 48.5h93" stroke-dasharray="5 15 1 2 1 2 1 1 1 1 3 2 1 4 1 1 10 3 17 4 3 8 3 2 1 1"/><path d="M87 49.5h92" stroke-dasharray="1 1 2 23 1 1 1 1 4 4 2 1 10 1 1 1 18 1 1 1 1 2 1 9 3 1"/><path d="M98 50.5h81" stroke-dasharray="3 4 1 2 2 1 1 4 1 2 1 1 1 1 2 2 1 2 3 1 1 1 4 1 19 6 1 2 1 8 1 1"/><path d="M83 51.5h94" stroke-dasharray="1 15 1 1 1 1 2 2 2 4 9 1 4 1 1 1 2 2 2 2 18 1 2 11 1 5 1 1"/><path d="M101 52.5h74" stroke-dasharray="3 8 10 2 1 1 2 9 5 1 11 1 4 15 1 1"/><path d="M46 53.5h130" stroke-dasharray="1 47 2 4 2 1 1 2 1 5 8 1 3 1 3 1 1 8 3 2 2 1 2 1 3 1 1 5 2 1 1 7 1 2 1 1 1 1"/><path d="M46 54.5h130" stroke-dasharray="4 44 3 1 1 4 3 3 1 1 2 2 9 7 1 4 2 1 1 3 5 1 2 5 1 1 1 2 2 3 2 1 7 1"/><path d="M46 55.5h130" stroke-dasharray="4 46 4 3 3 2 1 1 2 1 12 2 1 5 1 1 1 1 1 3 2 5 4 4 1 3 1 6 2 2 5 1"/><path d="M47 56.5h129" stroke-dasharray="3 42 1 2 1 1 3 1 1 1 3 1 3 1 1 1 3 1 4 1 1 1 1 3 1 3 1 3 1 1 6 1 10 6 6 1 1 1 6 1"/><path d="M46 57.5h129" stroke-dasharray="5 43 1 3 1 2 2 1 1 1 1 1 2 1 5 2 3 2 1 7 18 1 5 1 5 1 6 1 6 1"/><path d="M46 58.5h148" stroke-dasharray="2 1 2 39 1 1 1 2 2 2 3 1 2 2 2 3 12 4 5 1 2 3 12 1 3 2 3 1 1 1 6 2 2 2 2 16 1 1"/><path d="M46 59.5h131" stroke-dasharray="4 44 1 1 1 2 1 1 3 1 1 2 1 2 1 1 3 1 7 1 4 1 3 4 1 1 1 1 11 3 1 5 7 5 1 1 2 1"/><path d="M47 60.5h150" stroke-dasharray="2 41 1 4 1 4 1 6 1 1 1 1 6 1 3 1 2 1 4 1 1 1 2 5 5 1 5 1 2 1 3 1 1 1 3 3 1 2 2 1 3 2 1 16 3 1"/><path d="M47 61.5h130" stroke-dasharray="1 1 1 1 1 35 1 6 2 6 1 1 5 1 1 1 7 1 1 2 9 4 9 1 13 2 12 2 2 1"/><path d="M46 62.5h130" stroke-dasharray="1 39 1 1 1 3 1 3 5 1 1 2 2 1 1 2 2 1 2 1 3 1 1 1 2 2 1 3 2 2 1 3 13 2 2 1 1 4 11 2 1 1"/><path d="M47 63.5h150" stroke-dasharray="1 6 1 31 1 2 1 1 1 1 3 5 1 7 2 2 1 1 2 5 3 9 8 3 8 7 2 2 8 1 1 7 1 14 1 1"/><path d="M46 64.5h147" stroke-dasharray="2 6 1 36 5 12 3 2 2 1 3 1 3 2 5 1 2 2 7 4 3 1 3 2 1 3 1 1 1 2 1 1 1 2 2 19 1 1 1 1"/><path d="M46 65.5h149" stroke-dasharray="1 3 1 34 1 7 1 2 3 1 1 2 5 1 2 2 5 2 4 1 10 2 4 5 4 8 1 6 4 1 2 19 1 1 2 1"/><path d="M45 66.5h149" stroke-dasharray="2 1 1 1 2 34 4 2 2 2 20 1 8 1 3 1 1 2 2 4 2 1 1 2 5 12 1 2 1 1 3 5 1 13 1 1 3 1"/><path d="M50 67.5h145" stroke-dasharray="1 1 1 33 1 6 3 3 9 1 11 1 6 1 2 1 7 1 3 1 1 2 1 15 3 1 4 14 2 2 1 5 1 1"/><path d="M45 68.5h149" stroke-dasharray="1 2 3 3 1 29 2 2 1 2 3 1 2 4 14 1 1 1 4 2 4 4 2 1 6 1 3 2 1 2 2 11 1 3 4 20 1 1 1 1"/><path d="M46 69.5h148" stroke-dasharray="2 1 1 40 2 7 2 1 19 1 4 1 2 1 1 1 1 1 3 1 1 2 3 1 1 4 1 10 1 2 4 6 1 13 1 1 1 1 2 1"/><path d="M46 70.5h150" stroke-dasharray="1 2 2 36 1 2 1 1 3 1 1 2 7 1 2 1 11 2 2 1 2 1 1 1 3 2 1 5 2 1 1 3 2 6 1 1 1 1 1 3 1 1 2 13 1 2 1 1 1 3 1 3 1 1"/><path d="M46 71.5h150" stroke-dasharray="3 3 1 34 1 3 1 2 1 3 1 1 5 1 2 1 13 1 3 1 1 1 2 1 5 1 4 1 1 1 1 3 1 11 3 1 1 1 1 1 1 1 1 2 2 1 1 1 1 15 1 1"/><path d="M48 72.5h137" stroke-dasharray="1 1 1 4 1 30 1 1 3 4 1 1 25 1 6 1 13 3 1 11 1 1 1 5 1 1 6 1 1 5 1 2 1 1"/><path d="M47 73.5h144" stroke-dasharray="2 9 1 30 2 3 1 1 1 2 20 1 1 1 2 1 10 1 9 1 2 1 1 9 1 3 1 1 2 2 3 15 4 1"/><path d="M48 74.5h147" stroke-dasharray="2 1 2 1 4 3 1 27 1 7 1 1 4 1 4 1 1 1 11 1 5 2 7 1 1 2 1 3 1 2 1 2 2 3 1 4 7 2 3 7 1 8 1 4 1 1"/><path d="M46 75.5h149" stroke-dasharray="3 1 1 1 2 1 4 31 1 2 1 1 1 1 3 1 13 1 9 1 3 1 5 2 7 3 1 1 2 1 3 1 2 5 7 3 1 14 1 1 1 4 1 1"/><path d="M46 76.5h148" stroke-dasharray="15 1 4 24 4 2 5 2 18 1 11 1 1 1 2 2 1 6 1 1 1 1 1 2 1 6 1 2 1 1 2 1 1 1 1 1 1 2 1 1 1 6 1 2 1 4 1 1"/><path d="M42 77.5h148" stroke-dasharray="7 1 2 1 3 1 6 2 3 22 1 2 1 1 6 2 3 1 1 3 9 1 2 3 4 1 1 1 2 1 1 1 1 9 3 3 1 1 2 2 1 2 2 1 4 5 1 2 1 3 1 1 1 4 1 1"/><path d="M40 78.5h155" stroke-dasharray="3 2 7 1 4 1 4 5 2 18 2 5 3 3 2 2 5 1 8 1 2 1 1 1 1 1 5 3 3 2 1 5 1 3 1 1 5 1 1 1 2 4 4 5 3 7 2 4 1 1 1 1 1 1"/><path d="M39 79.5h156" stroke-dasharray="1 4 1 1 1 2 11 1 1 6 2 15 1 2 1 5 2 3 1 1 19 1 1 1 2 2 9 1 1 3 4 1 1 1 1 1 2 5 10 3 1 2 2 1 1 2 1 1 3 1 2 4 1 2 1 1"/><path d="M37 80.5h155" stroke-dasharray="1 8 3 1 9 1 1 1 1 6 1 15 1 8 1 4 2 1 1 1 4 6 7 1 1 1 2 2 1 1 8 1 1 1 1 2 2 9 17 5 1 6 3 3 2 1"/><path d="M36 81.5h155" stroke-dasharray="1 11 8 2 5 5 1 1 1 20 1 2 1 3 3 1 2 2 1 4 1 2 6 1 2 1 11 2 2 3 1 15 1 2 1 2 1 1 1 3 1 11 5 2 2 1"/><path d="M20 82.5h171" stroke-dasharray="15 13 4 3 6 9 2 16 1 1 5 1 1 3 4 1 1 2 1 1 13 2 3 1 7 1 1 1 1 17 1 1 1 2 1 13 1 3 1 3 7 1"/><path d="M29 83.5h158" stroke-dasharray="5 17 1 6 1 12 2 15 5 1 2 2 1 1 2 1 1 1 2 1 1 1 13 1 6 1 4 1 1 21 1 4 3 15 1 2 1 1 1 1"/><path d="M57 84.5h131" stroke-dasharray="1 14 1 14 5 2 1 4 1 1 7 1 21 1 3 1 1 1 1 21 3 4 2 7 1 11 1 1"/><path d="M53 85.5h119" stroke-dasharray="1 1 1 3 1 2 1 5 1 3 2 12 1 1 4 1 1 3 3 1 4 2 2 1 1 1 1 1 6 2 7 1 2 1 1 1 1 1 1 23 1 1 4 4 1 1"/><path d="M59 86.5h127" stroke-dasharray="1 8 1 4 2 11 8 1 8 2 2 2 1 2 2 2 3 1 1 3 7 3 1 26 1 3 2 10 2 6 1 1"/><path d="M63 87.5h118" stroke-dasharray="2 3 1 5 2 8 2 1 3 1 5 4 1 2 2 2 1 1 2 1 1 1 1 2 1 1 3 5 4 4 1 32 1 4 1 1 1 1 1 2 1 1"/><path d="M59 88.5h123" stroke-dasharray="1 8 1 6 2 5 3 4 7 1 1 4 2 3 1 2 1 1 4 1 4 2 2 1 4 5 1 30 2 8 1 1 1 1 2 1"/><path d="M58 89.5h119" stroke-dasharray="1 1 1 3 1 3 1 6 3 3 5 1 1 1 2 1 3 1 2 2 1 3 2 1 3 2 3 2 1 1 1 3 2 2 2 38 1 8 1 1"/><path d="M53 90.5h125" stroke-dasharray="2 4 1 4 1 4 1 1 1 1 1 2 3 1 2 1 1 2 3 4 4 3 1 1 1 3 2 7 2 2 1 2 2 3 1 1 1 47 1 1"/><path d="M52 91.5h127" stroke-dasharray="3 1 2 2 1 7 1 1 5 1 1 1 3 1 1 1 1 1 3 4 9 1 1 2 1 4 2 2 1 1 1 7 3 1 2 35 1 5 1 5 1 1"/><path d="M54 92.5h122" stroke-dasharray="1 4 1 12 1 2 1 3 1 3 2 3 1 1 1 1 1 2 9 5 1 4 1 1 1 5 2 1 2 1 3 35 1 8 1 1"/><path d="M51 93.5h125" stroke-dasharray="1 2 2 1 3 1 3 1 1 1 4 1 1 1 3 2 2 3 1 7 1 1 4 1 6 2 1 2 2 1 2 1 3 3 1 1 6 26 1 4 1 6 1 1 1 1 1 1 2 1"/><path d="M51 94.5h126" stroke-dasharray="1 2 2 3 10 2 1 4 2 3 2 1 2 2 1 5 3 2 1 1 3 1 1 1 2 5 2 1 7 1 3 47 2 1"/><path d="M52 95.5h81" stroke-dasharray="1 1 7 1 4 1 4 9 5 4 1 7 3 1 7 1 2 1 7 1 1 1 1 1 3 2 4 1"/><path d="M50 96.5h126" stroke-dasharray="2 2 1 1 1 4 5 1 3 9 1 1 6 2 3 2 1 1 1 1 2 3 10 2 3 1 1 1 1 4 7 23 1 14 1 3 1 1"/><path d="M44 97.5h132" stroke-dasharray="1 13 1 3 4 1 3 7 2 1 7 3 1 4 1 1 3 4 4 1 1 1 1 1 1 1 1 4 5 1 1 1 2 1 3 41 1 1"/><path d="M44 98.5h123" stroke-dasharray="2 6 1 13 4 2 1 6 2 1 5 1 1 1 1 4 1 7 1 2 5 4 4 5 2 1 4 1 3 23 1 6 2 1"/><path d="M66 99.5h104" stroke-dasharray="3 4 1 4 2 1 4 1 1 1 3 14 1 1 2 3 1 1 4 1 1 1 5 3 1 1 2 1 1 34 1 1"/><path d="M51 100.5h115" stroke-dasharray="1 4 3 5 1 2 2 2 2 2 1 6 1 6 1 16 4 3 2 2 10 2 2 1 1 28 1 3 1 1"/><path d="M50 101.5h124" stroke-dasharray="1 4 1 2 2 5 2 1 3 3 2 4 6 19 1 2 3 3 20 1 1 17 1 19 1 1"/><path d="M57 102.5h113" stroke-dasharray="1 1 2 1 3 1 2 3 1 8 1 1 1 5 1 10 2 1 1 1 1 5 14 1 2 1 4 1 3 26 1 6 1 1"/><path d="M58 103.5h97" stroke-dasharray="4 1 4 5 1 2 4 3 1 5 1 5 1 7 2 3 3 1 7 2 10 1 1 2 1 10 1 8 1 1"/><path d="M46 104.5h89" stroke-dasharray="1 8 1 2 4 1 1 3 1 2 1 3 1 6 1 18 1 2 1 1 1 2 2 3 2 1 1 4 1 2 1 1 2 1 6 1"/><path d="M46 105.5h104" stroke-dasharray="1 11 5 7 1 5 1 13 1 3 1 4 1 1 1 5 1 1 1 6 3 1 4 2 1 1 5 13 1 2 1 1"/><path d="M47 106.5h112" stroke-dasharray="1 4 1 5 1 1 2 1 1 16 3 1 1 10 1 4 1 6 1 3 1 2 1 3 2 1 2 1 8 2 1 15 1 7 1 1"/><path d="M48 107.5h120" stroke-dasharray="1 2 1 7 1 3 1 2 1 9 1 1 1 1 1 1 3 2 1 6 2 2 3 10 1 1 1 1 1 1 3 1 10 2 2 32 1 1"/><path d="M49 108.5h119" stroke-dasharray="2 5 1 4 1 1 1 1 1 1 1 7 1 2 1 4 1 6 1 5 1 2 2 5 3 2 4 6 1 1 2 1 6 1 2 32 1 1"/><path d="M44 109.5h91" stroke-dasharray="1 4 1 4 3 2 1 1 1 3 2 4 1 1 1 1 1 4 3 15 4 3 1 6 1 1 2 3 1 1 1 1 5 1 1 2 1 1 1 1"/><path d="M48 110.5h88" stroke-dasharray="1 3 1 2 2 2 1 1 1 5 1 25 1 9 2 7 1 3 1 1 1 1 1 2 2 1 1 1 1 6 1 1"/><path d="M49 111.5h80" stroke-dasharray="1 3 1 1 3 1 2 12 2 3 1 11 1 13 1 5 2 1 1 6 3 1 1 2 2 1"/><path d="M57 112.5h77" stroke-dasharray="3 14 1 2 1 8 1 4 2 16 3 1 1 1 1 1 1 1 2 6 2 4 1 1"/><path d="M58 113.5h77" stroke-dasharray="1 2 2 2 1 7 1 4 1 2 1 4 1 2 1 11 1 6 1 4 2 14 2 2 2 1"/><path d="M50 114.5h85" stroke-dasharray="1 9 1 2 2 16 1 1 2 3 4 17 1 8 1 8 3 2 3 1"/><path d="M56 115.5h78" stroke-dasharray="2 1 2 2 3 16 1 1 2 3 1 6 1 3 1 5 3 7 2 1 1 6 2 1 2 1 2 1"/><path d="M46 116.5h89" stroke-dasharray="1 1 1 7 1 2 2 1 3 11 1 5 2 12 1 6 3 5 1 5 1 3 1 3 2 1 3 3 1 1"/><path d="M53 117.5h83" stroke-dasharray="1 2 1 27 1 5 1 6 1 1 2 10 2 2 5 3 2 10 1 1"/><path d="M54 118.5h79" stroke-dasharray="1 1 3 7 1 14 1 10 1 8 2 2 2 4 2 4 1 1 2 3 1 4 1 2 1 1"/><path d="M55 119.5h86" stroke-dasharray="2 8 1 1 1 29 2 3 1 1 1 4 4 2 3 2 1 2 1 3 2 4 1 6 1 1"/><path d="M56 120.5h78" stroke-dasharray="1 1 1 5 1 6 1 4 3 6 1 1 1 3 1 1 1 1 1 2 1 3 1 1 1 2 1 2 1 1 2 1 1 5 1 5 1 3 3 1"/><path d="M31 121.5h111" stroke-dasharray="2 18 1 14 1 1 1 3 1 3 1 3 1 1 1 4 3 2 1 5 1 1 1 1 2 6 1 1 3 6 1 13 1 5 1 1"/><path d="M32 122.5h111" stroke-dasharray="1 11 1 29 1 4 1 1 1 5 1 1 2 3 2 2 1 1 6 2 1 1 1 2 3 5 1 2 1 3 1 5 1 7 1 1"/><path d="M59 123.5h79" stroke-dasharray="2 14 1 5 1 2 1 2 3 4 1 4 1 1 2 2 1 4 1 3 1 3 1 1 1 16 1 1"/><path d="M32 124.5h107" stroke-dasharray="2 37 1 3 1 6 2 21 2 7 1 11 2 1 1 8 1 1"/><path d="M33 125.5h97" stroke-dasharray="1 16 1 20 1 1 2 11 1 3 1 5 1 6 2 2 1 6 2 3 4 6 1 1"/><path d="M55 126.5h75" stroke-dasharray="1 31 1 9 2 17 2 5 1 2 1 1 2 1"/><path d="M33 127.5h97" stroke-dasharray="2 8 1 53 1 1 1 15 1 3 1 1 3 1 2 1 2 1"/><path d="M34 128.5h98" stroke-dasharray="1 3 1 3 1 16 1 1 1 21 1 24 1 6 2 5 1 2 1 1 1 3 1 1"/><path d="M34 129.5h100" stroke-dasharray="1 11 1 4 1 9 1 3 1 15 1 24 1 8 1 6 4 1 1 5 1 1"/><path d="M33 130.5h99" stroke-dasharray="2 82 2 3 2 1 4 1 2 1"/><path d="M33 131.5h96" stroke-dasharray="2 11 2 4 1 8 1 54 1 3 1 1 3 1 3 1"/><path d="M33 132.5h107" stroke-dasharray="2 1 1 18 2 2 1 64 1 1 2 11 1 1"/><path d="M32 133.5h109" stroke-dasharray="3 2 1 14 4 70 1 13 1 1"/><path d="M33 134.5h98" stroke-dasharray="6 4 1 10 1 70 1 4 1 1"/><path d="M34 135.5h96" stroke-dasharray="4 11 2 78 1 1"/><path d="M34 136.5h98" stroke-dasharray="3 1 1 11 1 77 1 2 1 1"/><path d="M36 137.5h12" stroke-dasharray="6 2 2 1 1 1"/><path d="M34 138.5h9" stroke-dasharray="2 1 2 1 1 1 1 1"/><path d="M34 139.5h17" stroke-dasharray="1 2 2 1 3 7 1 1"/><path d="M39 140.5h77" stroke-dasharray="2 3 1 70 1 1"/><path d="M39 141.5h4"/><path d="M42 142.5h6"/><path d="M47 143.5h32" stroke-dasharray="5 26 1 1"/><path d="M51 144.5h2"/></g><g stroke="#3b5e8b"><path d="M160 1.5h4"/><path d="M154 2.5h13" stroke-dasharray="6 2 5 1"/><path d="M153 3.5h28" stroke-dasharray="2 7 2 1 5 1 10 1"/><path d="M163 4.5h18"/><path d="M149 5.5h30" stroke-dasharray="1 14 11 1 3 1"/><path d="M146 6.5h36" stroke-dasharray="3 13 3 1 4 4 1 1 4 1 1 1"/><path d="M144 7.5h37" stroke-dasharray="4 15 2 1 3 1 1 2 1 2 1 1 3 1"/><path d="M143 8.5h41" stroke-dasharray="2 12 1 5 1 1 5 1 1 2 5 3 2 1"/><path d="M142 9.5h38" stroke-dasharray="1 5 1 6 3 6 1 2 3 1 1 4 2 1 1 1"/><path d="M153 10.5h23" stroke-dasharray="1 1 3 3 1 5 4 1 2 1 1 1"/><path d="M153 11.5h32" stroke-dasharray="6 3 1 6 1 9 6 1"/><path d="M145 12.5h40" stroke-dasharray="1 6 3 1 1 15 1 5 1 1 5 1"/><path d="M143 13.5h41" stroke-dasharray="1 10 1 1 1 22 5 1"/><path d="M139 14.5h46" stroke-dasharray="6 8 1 1 2 16 2 2 1 1 6 1"/><path d="M135 15.5h49" stroke-dasharray="2 1 6 24 2 5 1 2 1 1 4 1"/><path d="M133 16.5h52" stroke-dasharray="3 3 1 4 1 10 1 12 1 12 2 1 1 1"/><path d="M132 17.5h53" stroke-dasharray="1 1 2 3 3 13 2 11 1 2 1 1 1 5 1 1 1 2 1 1"/><path d="M132 18.5h52" stroke-dasharray="5 2 1 1 2 1 1 5 1 29 4 1"/><path d="M130 19.5h53" stroke-dasharray="5 2 8 6 1 5 2 12 1 7 2 1 1 1"/><path d="M129 20.5h52" stroke-dasharray="4 1 1 2 2 1 2 1 1 8 1 1 1 3 1 2 1 18 1 1"/><path d="M129 21.5h49" stroke-dasharray="6 1 1 1 4 1 1 2 1 5 1 1 7 1 1 14 1 1"/><path d="M129 22.5h55" stroke-dasharray="1 2 3 1 1 1 4 5 3 1 1 2 6 6 1 12 1 3 1 1"/><path d="M129 23.5h33" stroke-dasharray="1 1 11 5 6 1 8 1"/><path d="M129 24.5h50" stroke-dasharray="2 1 11 7 6 1 1 1 2 17 1 1"/><path d="M128 25.5h51" stroke-dasharray="2 2 2 2 7 7 6 2 1 19 1 1"/><path d="M128 26.5h35" stroke-dasharray="2 3 3 1 4 7 1 2 4 1 2 4 1 1"/><path d="M127 27.5h64" stroke-dasharray="3 3 1 1 7 2 1 1 1 5 1 1 1 9 1 25 1 1"/><path d="M126 28.5h38" stroke-dasharray="4 2 8 1 4 1 1 3 3 1 1 1 1 1 1 1 1 2 1 1"/><path d="M124 29.5h41" stroke-dasharray="2 2 2 2 1 2 3 1 1 4 4 1 2 1 2 3 1 2 1 1 1 1 1 1"/><path d="M124 30.5h42" stroke-dasharray="1 2 1 5 1 1 5 1 1 2 1 1 2 2 1 1 1 1 3 1 2 1 1 1 1 1 1 1"/><path d="M121 31.5h45" stroke-dasharray="2 4 1 4 2 1 5 2 1 2 3 1 4 3 3 3 1 1 2 1"/><path d="M119 32.5h49" stroke-dasharray="5 10 8 1 1 1 3 2 5 2 1 1 1 2 2 3 1 1"/><path d="M117 33.5h61" stroke-dasharray="6 13 2 4 1 1 1 1 3 1 2 3 4 2 5 11 1 1"/><path d="M117 34.5h49" stroke-dasharray="6 9 1 2 3 2 3 2 6 2 1 3 3 1 5 1"/><path d="M116 35.5h63" stroke-dasharray="3 1 3 1 1 7 1 7 1 1 1 2 9 3 1 2 1 2 3 10 1 1 1 1"/><path d="M116 36.5h64" stroke-dasharray="1 1 4 1 3 8 1 5 1 3 9 1 1 2 3 3 2 8 2 4 1 1"/><path d="M115 37.5h75" stroke-dasharray="2 1 1 1 2 1 2 4 1 4 1 5 1 3 1 1 9 3 1 6 1 6 2 3 1 1 1 9 1 1"/><path d="M115 38.5h67" stroke-dasharray="2 1 4 3 1 10 1 3 1 2 13 1 3 1 3 1 1 5 1 1 2 2 3 1 1 1"/><path d="M114 39.5h69" stroke-dasharray="4 1 2 1 1 15 1 1 1 3 14 3 4 1 1 2 1 1 1 1 2 1 2 2 1 1 1 1"/><path d="M114 40.5h69" stroke-dasharray="2 1 1 3 1 4 1 9 1 1 2 1 1 3 11 2 1 2 3 1 1 5 1 1 7 1 2 1"/><path d="M114 41.5h68" stroke-dasharray="1 6 2 3 1 2 2 8 1 5 1 1 5 1 2 2 2 3 4 4 10 1 1 1"/><path d="M113 42.5h69" stroke-dasharray="3 9 1 1 2 2 3 2 3 2 5 1 6 11 1 3 1 3 2 5 1 1 1 1"/><path d="M113 43.5h70" stroke-dasharray="2 1 1 1 1 5 1 2 2 2 9 1 1 1 3 1 5 1 1 2 1 5 1 4 1 8 2 1 4 1"/><path d="M106 44.5h78" stroke-dasharray="1 3 1 1 2 2 1 5 2 1 1 1 1 2 3 1 6 1 3 2 6 1 3 3 1 15 4 1 4 1"/><path d="M108 45.5h75" stroke-dasharray="2 1 3 2 1 1 2 6 1 2 2 1 6 1 4 3 13 1 1 1 1 13 4 1 2 1"/><path d="M97 46.5h84" stroke-dasharray="1 9 1 2 5 1 1 2 1 4 1 1 1 1 6 1 7 1 1 1 12 1 4 14 1 3 1 1"/><path d="M88 47.5h91" stroke-dasharray="2 23 3 1 3 9 10 1 3 2 1 1 6 1 4 1 1 2 1 13 3 1"/><path d="M89 48.5h88" stroke-dasharray="2 16 1 7 1 1 3 9 1 1 8 3 4 1 5 1 6 4 2 11 1 1"/><path d="M89 49.5h90" stroke-dasharray="2 25 1 1 1 1 1 5 2 1 1 1 4 1 3 5 11 2 3 16 1 1 1 1"/><path d="M98 50.5h61" stroke-dasharray="1 1 1 7 2 6 1 2 1 1 1 1 2 2 1 3 2 1 1 2 1 1 1 1 4 1 10 1 2 1"/><path d="M83 51.5h94" stroke-dasharray="1 19 1 3 1 5 1 2 5 2 1 10 2 3 1 3 3 1 9 1 1 18 1 1"/><path d="M103 52.5h56" stroke-dasharray="1 8 1 1 6 1 1 4 2 9 1 1 1 1 1 2 10 1 1 1 2 1"/><path d="M94 53.5h82" stroke-dasharray="1 6 1 4 1 5 3 1 4 1 1 1 1 2 1 2 1 8 1 1 1 2 2 1 2 2 1 2 1 5 1 15 1 1"/><path d="M47 54.5h129" stroke-dasharray="2 47 1 6 3 6 1 2 4 1 1 1 2 7 1 7 1 3 1 2 2 1 2 5 1 1 1 2 2 6 2 1 4 1"/><path d="M46 55.5h129" stroke-dasharray="3 47 3 9 1 2 1 1 2 1 9 12 1 4 1 6 2 9 1 6 2 2 1 1 2 1"/><path d="M47 56.5h129" stroke-dasharray="3 42 1 5 2 5 1 3 1 3 1 1 1 2 1 5 1 13 6 2 2 1 3 1 2 7 3 1 1 3 2 2 2 1"/><path d="M46 57.5h127" stroke-dasharray="4 51 2 3 1 1 2 1 4 3 3 2 1 7 18 1 4 2 3 1 1 3 2 6 1 1"/><path d="M46 58.5h131" stroke-dasharray="2 1 2 48 3 1 2 2 1 4 4 1 4 2 1 4 5 6 2 1 8 2 3 3 1 4 6 3 1 3 1 1"/><path d="M46 59.5h131" stroke-dasharray="4 44 1 1 1 4 1 3 1 2 1 2 1 1 3 1 7 1 4 1 1 13 8 10 1 1 3 6 1 2 1 1"/><path d="M47 60.5h150" stroke-dasharray="2 46 1 4 1 10 5 3 1 2 2 1 4 1 1 8 1 5 4 3 1 1 1 6 2 3 1 2 2 6 1 18 1 1"/><path d="M51 61.5h125" stroke-dasharray="1 42 2 8 3 3 1 1 4 1 1 6 2 1 3 6 1 2 6 1 7 1 2 1 1 5 5 2 3 2 1 1"/><path d="M86 62.5h90" stroke-dasharray="1 9 1 2 1 5 1 2 1 2 2 1 2 1 2 4 2 2 1 3 2 2 1 3 1 2 7 1 1 3 1 8 4 1 5 2 1 1"/><path d="M54 63.5h143" stroke-dasharray="1 39 1 6 1 8 1 2 1 2 1 5 2 10 3 2 1 1 1 3 2 1 3 1 1 8 1 2 1 1 1 1 3 25 1 1"/><path d="M47 64.5h124" stroke-dasharray="1 46 1 13 1 4 2 2 1 3 2 3 4 2 1 3 2 1 3 6 1 1 1 15 1 3 1 1"/><path d="M46 65.5h126" stroke-dasharray="1 38 1 10 1 6 5 1 2 2 1 3 1 2 2 4 4 1 1 1 1 4 3 5 2 1 1 15 1 1 1 2 2 1"/><path d="M45 66.5h147" stroke-dasharray="1 42 2 2 1 4 1 1 7 1 5 1 2 3 2 1 4 1 3 4 2 5 1 1 1 2 5 17 1 23 1 1"/><path d="M99 67.5h96" stroke-dasharray="3 1 5 4 7 2 2 2 1 2 2 2 1 1 4 1 3 1 1 2 1 16 1 30 1 1"/><path d="M88 68.5h106" stroke-dasharray="1 4 1 1 1 5 14 1 1 1 2 1 1 3 3 4 2 3 4 1 3 2 1 2 2 41 1 1"/><path d="M47 69.5h115" stroke-dasharray="1 42 2 8 1 1 1 1 17 3 2 2 1 1 1 1 1 1 3 5 2 1 1 15 1 1"/><path d="M49 70.5h147" stroke-dasharray="2 48 7 1 2 1 5 1 5 6 1 1 1 2 2 2 1 5 1 14 1 3 1 3 1 1 1 17 1 9 1 1"/><path d="M46 71.5h132" stroke-dasharray="2 4 1 34 1 12 5 1 2 1 9 1 3 1 3 1 1 2 1 1 5 2 3 1 1 1 1 17 1 1 1 1 1 1 1 7 1 1"/><path d="M48 72.5h137" stroke-dasharray="1 6 1 39 1 2 16 1 7 1 1 1 1 1 1 2 2 1 1 1 2 2 4 3 1 19 1 2 1 14 1 1"/><path d="M47 73.5h125" stroke-dasharray="2 47 1 2 11 1 8 3 2 2 8 2 3 2 3 19 1 6 2 1"/><path d="M51 74.5h144" stroke-dasharray="2 1 4 39 1 1 2 3 4 1 1 1 1 1 2 1 3 2 1 4 2 2 7 1 1 2 1 3 1 2 1 2 1 4 1 4 1 1 5 2 1 1 1 21 1 1"/><path d="M52 75.5h121" stroke-dasharray="1 2 3 32 1 2 1 4 2 2 7 1 4 1 3 1 2 4 3 1 2 1 2 2 1 1 3 10 1 10 3 7 1 1"/><path d="M46 76.5h148" stroke-dasharray="3 4 8 1 4 25 1 5 3 4 2 1 4 3 6 2 1 2 8 1 1 1 2 2 1 6 1 3 1 2 1 6 1 5 1 1 1 3 1 2 1 16 1 1"/><path d="M42 77.5h143" stroke-dasharray="5 3 2 1 3 1 2 1 3 2 3 25 1 2 5 2 3 1 1 3 1 2 3 1 2 2 1 3 2 1 1 1 1 1 2 1 1 1 1 11 1 6 1 2 1 6 1 1 1 12 1 1 1 1"/><path d="M40 78.5h151" stroke-dasharray="3 3 6 2 2 2 3 6 2 26 2 3 2 2 5 1 8 1 2 1 1 4 4 3 1 1 1 8 1 6 1 1 1 10 1 1 1 8 1 8 1 4 1 1"/><path d="M39 79.5h148" stroke-dasharray="1 9 4 1 6 1 1 6 2 24 2 3 1 1 2 1 3 1 1 4 3 1 3 1 1 1 2 4 4 1 2 1 1 5 1 4 1 1 1 6 5 1 4 7 1 8 1 1 2 1"/><path d="M37 80.5h150" stroke-dasharray="1 9 1 2 9 3 1 6 1 24 1 5 1 1 1 1 4 6 7 1 1 1 2 2 1 1 1 1 4 1 1 1 1 5 1 9 17 14 1 1"/><path d="M36 81.5h155" stroke-dasharray="1 12 7 3 1 8 1 1 1 23 1 7 2 2 1 4 1 2 6 1 2 1 7 1 3 2 1 4 1 21 1 18 1 1 2 2 2 1"/><path d="M20 82.5h171" stroke-dasharray="15 13 1 2 1 3 4 1 1 9 2 16 1 2 4 5 2 1 1 1 1 2 1 1 10 1 2 2 3 1 7 26 1 21 3 1 3 1"/><path d="M29 83.5h153" stroke-dasharray="5 37 2 16 4 1 2 4 2 6 1 2 2 1 9 1 1 1 3 2 3 24 1 22 1 1"/><path d="M72 84.5h95" stroke-dasharray="1 14 5 2 1 6 4 2 1 3 3 1 1 1 3 1 5 1 3 1 3 1 1 1 1 21 3 4 1 1"/><path d="M55 85.5h112" stroke-dasharray="1 3 1 12 2 12 1 1 4 1 1 3 1 3 4 5 1 3 1 2 2 3 6 2 2 1 1 1 1 28 3 1"/><path d="M73 86.5h89" stroke-dasharray="2 11 3 1 2 3 8 2 2 2 1 2 2 3 2 1 1 3 7 3 1 26 1 1"/><path d="M74 87.5h100" stroke-dasharray="2 8 2 3 1 1 5 14 1 3 1 4 1 8 3 4 1 37 1 1"/><path d="M75 88.5h107" stroke-dasharray="2 6 2 4 1 1 3 3 1 15 2 5 1 2 2 1 2 48 1 4 1 1"/><path d="M76 89.5h53" stroke-dasharray="2 3 2 7 1 2 2 1 1 3 1 4 1 1 3 3 2 2 1 1 1 3 1 3 2 1"/><path d="M77 90.5h51" stroke-dasharray="2 1 2 1 1 3 2 4 1 1 2 3 1 1 1 12 1 3 1 2 1 4 1 1"/><path d="M53 91.5h120" stroke-dasharray="2 5 1 9 1 3 1 1 1 1 3 3 1 1 1 1 1 4 1 1 4 1 2 9 1 3 1 1 1 7 2 2 1 42 1 1"/><path d="M72 92.5h58" stroke-dasharray="1 2 1 3 1 3 2 3 1 1 1 1 1 3 4 3 1 5 1 4 1 1 1 5 2 1 2 1 2 1"/><path d="M58 93.5h72" stroke-dasharray="1 2 3 1 1 1 2 1 1 5 1 7 1 9 4 1 6 2 1 5 2 1 3 6 3 1 1 1"/><path d="M55 94.5h73" stroke-dasharray="1 3 6 1 1 9 2 3 2 1 1 3 1 6 2 2 1 1 3 1 1 1 1 6 2 1 1 1 1 1 1 1 1 1 1 1 1 1"/><path d="M56 95.5h77" stroke-dasharray="1 2 2 1 3 3 3 9 3 15 2 1 3 1 2 6 3 1 2 1 1 1 1 2 2 2 1 1 2 1"/><path d="M61 96.5h111" stroke-dasharray="1 2 1 4 1 9 1 1 4 11 1 1 2 3 3 1 3 1 2 3 2 1 1 1 1 4 2 1 4 23 1 14 1 1"/><path d="M63 97.5h71" stroke-dasharray="2 4 1 7 2 1 2 3 1 4 1 6 2 5 4 1 1 1 1 3 1 5 3 2 1 1 2 1 1 1 1 1"/><path d="M52 98.5h79" stroke-dasharray="1 27 1 1 1 12 1 10 1 1 1 6 4 5 2 4 1 1"/><path d="M66 99.5h69" stroke-dasharray="1 6 1 4 2 2 1 7 1 16 2 3 1 2 3 1 1 1 3 1 1 5 1 2 1 1"/><path d="M57 100.5h73" stroke-dasharray="1 14 1 9 1 6 1 16 1 1 2 7 1 1 8 2 1 1"/><path d="M55 101.5h99" stroke-dasharray="1 3 1 6 1 7 1 10 1 22 3 6 9 1 1 1 1 1 3 1 1 17 1 1"/><path d="M62 102.5h108" stroke-dasharray="2 2 2 14 1 27 8 1 5 1 2 1 1 1 1 2 1 28 1 6 1 1"/><path d="M59 103.5h76" stroke-dasharray="1 3 1 2 1 5 1 2 4 29 1 2 7 2 5 1 4 1 1 2 1 1"/><path d="M58 104.5h77" stroke-dasharray="2 10 1 3 1 28 1 1 1 7 2 6 1 4 2 1 3 2 1 1"/><path d="M46 105.5h87" stroke-dasharray="1 23 1 5 1 22 1 18 1 1 3 3 1 1 3 1 1 1"/><path d="M47 106.5h85" stroke-dasharray="1 10 1 21 2 2 1 10 1 4 1 17 1 2 2 1 1 1 6 1"/><path d="M48 107.5h87" stroke-dasharray="1 29 1 1 1 1 3 13 2 17 3 3 7 4 1 1"/><path d="M61 108.5h73" stroke-dasharray="1 3 1 30 1 2 1 8 1 3 3 6 1 1 2 1 6 1 1 1"/><path d="M56 109.5h79" stroke-dasharray="1 8 1 7 1 6 1 17 2 1 1 3 1 6 1 2 1 7 3 1 1 1 1 2 1 1 1 1"/><path d="M55 110.5h66" stroke-dasharray="2 55 1 3 1 3 1 1"/><path d="M74 111.5h55" stroke-dasharray="1 36 1 8 1 1 1 1 1 3 1 1"/><path d="M58 112.5h76" stroke-dasharray="1 15 1 34 1 1 1 1 1 13 2 4 1 1"/><path d="M108 113.5h7" stroke-dasharray="1 4 2 1"/><path d="M81 114.5h54" stroke-dasharray="1 1 2 3 1 1 1 27 1 8 2 3 3 1"/><path d="M60 115.5h74" stroke-dasharray="1 2 1 20 2 22 1 8 1 8 1 6 1 1"/><path d="M48 116.5h87" stroke-dasharray="1 11 1 21 1 13 1 8 1 19 2 1 1 1 1 3 1 1"/><path d="M97 117.5h23" stroke-dasharray="1 1 1 11 2 5 2 1"/><path d="M58 118.5h63" stroke-dasharray="1 22 1 10 1 8 1 3 2 4 2 6 2 1"/><path d="M55 119.5h74" stroke-dasharray="1 11 1 30 1 5 1 7 1 2 2 6 1 4 1 1"/><path d="M112 120.5h22" stroke-dasharray="2 7 1 5 1 3 1 1 1 1"/><path d="M31 121.5h91" stroke-dasharray="2 33 1 1 1 11 1 1 1 6 1 10 1 12 1 7 1 1"/><path d="M32 122.5h90" stroke-dasharray="1 48 1 13 1 2 1 1 1 1 1 7 1 2 1 7 1 1"/><path d="M81 123.5h57" stroke-dasharray="1 2 1 2 1 6 1 7 1 2 1 8 1 3 1 1 1 16 1 1"/><path d="M32 124.5h98" stroke-dasharray="2 48 2 21 2 7 1 14 1 1"/><path d="M33 125.5h82" stroke-dasharray="1 37 1 14 1 9 1 17 1 1"/><path d="M87 126.5h30" stroke-dasharray="1 28 1 1"/><path d="M33 127.5h96" stroke-dasharray="1 81 1 3 1 2 2 1 1 2 1 1"/><path d="M34 128.5h92" stroke-dasharray="1 80 1 9 1 1"/><path d="M46 129.5h82" stroke-dasharray="1 14 1 3 1 49 1 7 1 1 1 1 1 1"/><path d="M34 130.5h97" stroke-dasharray="1 91 1 3 1 1"/><path d="M33 131.5h96" stroke-dasharray="2 91 3 1"/><path d="M33 132.5h107" stroke-dasharray="2 24 1 79 1 1"/><path d="M33 133.5h23" stroke-dasharray="2 2 1 16 2 1"/><path d="M33 134.5h6" stroke-dasharray="2 1 3 1"/><path d="M35 135.5h2"/><path d="M34 136.5h95" stroke-dasharray="2 92 1 1"/><path d="M36 137.5h6" stroke-dasharray="2 1 3 1"/><path d="M37 138.5h4" stroke-dasharray="2 1 1 1"/><path d="M40 139.5h2"/><path d="M40 140.5h76" stroke-dasharray="1 74 1 1"/><path d="M39 141.5h2"/><path d="M44 142.5h4"/><path d="M47 143.5h32" stroke-dasharray="5 26 1 1"/><path d="M52 144.5h1"/></g><g stroke="#2a788e"><path d="M160 1.5h4"/><path d="M154 2.5h13" stroke-dasharray="6 2 5 1"/><path d="M153 3.5h28" stroke-dasharray="2 8 1 1 5 1 10 1"/><path d="M164 4.5h17" stroke-dasharray="1 1 5 3 7 1"/><path d="M149 5.5h28" stroke-dasharray="1 14 3 1 4 2 1 1 1 1"/><path d="M147 6.5h35" stroke-dasharray="2 13 3 1 3 9 2 1 1 1"/><path d="M144 7.5h33" stroke-dasharray="3 20 2 4 1 2 1 1"/><path d="M143 8.5h35" stroke-dasharray="2 12 1 5 1 3 1 1 1 4 1 2 1 1"/><path d="M142 9.5h36" stroke-dasharray="1 5 1 7 2 11 1 1 1 4 2 1"/><path d="M153 10.5h21" stroke-dasharray="1 1 2 12 2 2 1 1"/><path d="M157 11.5h25" stroke-dasharray="1 4 1 6 1 9 1 1 1 1"/><path d="M154 12.5h29" stroke-dasharray="1 23 1 2 2 1"/><path d="M143 13.5h40" stroke-dasharray="1 12 1 22 1 1 2 1"/><path d="M140 14.5h43" stroke-dasharray="1 1 1 1 1 11 1 16 2 6 2 1"/><path d="M135 15.5h49" stroke-dasharray="1 4 3 32 1 2 1 1 2 1 1 1"/><path d="M133 16.5h49" stroke-dasharray="2 9 1 23 1 12 1 1"/><path d="M132 17.5h50" stroke-dasharray="1 2 1 3 1 1 1 31 1 7 1 1"/><path d="M134 18.5h50" stroke-dasharray="3 5 1 38 3 1"/><path d="M130 19.5h28" stroke-dasharray="4 7 1 9 1 5 1 1"/><path d="M129 20.5h52" stroke-dasharray="4 4 2 1 2 1 1 10 1 25 1 1"/><path d="M129 21.5h34" stroke-dasharray="6 3 4 4 1 5 1 3 1 1 2 2 1 1"/><path d="M129 22.5h38" stroke-dasharray="1 2 3 1 1 1 1 1 2 5 1 3 1 2 1 1 3 7 1 1"/><path d="M129 23.5h31" stroke-dasharray="1 1 11 6 1 1 2 2 4 1 1 1"/><path d="M129 24.5h32" stroke-dasharray="2 3 3 1 4 8 1 2 2 2 1 1 2 1"/><path d="M128 25.5h28" stroke-dasharray="2 2 1 4 6 8 5 1"/><path d="M128 26.5h27" stroke-dasharray="2 3 1 1 1 2 1 1 1 7 1 3 3 1"/><path d="M127 27.5h64" stroke-dasharray="3 3 1 1 2 1 4 10 1 11 1 25 1 1"/><path d="M126 28.5h33" stroke-dasharray="1 1 1 3 1 2 5 2 2 2 1 3 2 2 1 3 1 1"/><path d="M124 29.5h34" stroke-dasharray="2 3 1 5 1 1 1 1 1 4 4 1 2 1 2 3 1 1"/><path d="M124 30.5h40" stroke-dasharray="1 10 2 2 1 4 1 2 1 7 1 5 1 1 1 1"/><path d="M121 31.5h44" stroke-dasharray="2 12 2 1 1 3 1 2 3 1 1 8 1 3 1 1 1 1"/><path d="M119 32.5h44" stroke-dasharray="4 11 4 2 1 5 2 4 1 9 1 1"/><path d="M117 33.5h61" stroke-dasharray="5 15 1 4 1 3 2 3 1 3 2 4 2 2 1 11 1 1"/><path d="M117 34.5h49" stroke-dasharray="2 1 3 12 3 3 2 3 5 2 1 9 3 1"/><path d="M116 35.5h50" stroke-dasharray="3 1 3 9 1 7 1 4 4 1 2 1 1 6 1 2 1 1 1 1"/><path d="M116 36.5h64" stroke-dasharray="1 1 1 1 2 2 2 19 5 1 2 5 1 15 1 4 1 1"/><path d="M115 37.5h75" stroke-dasharray="2 1 1 2 1 18 1 3 1 1 6 1 2 22 1 11 1 1"/><path d="M115 38.5h59" stroke-dasharray="2 1 4 21 13 1 1 4 2 1 1 5 1 1 1 1"/><path d="M114 39.5h63" stroke-dasharray="2 3 2 1 1 21 7 1 3 2 1 4 2 9 1 2 1 1"/><path d="M115 40.5h67" stroke-dasharray="1 5 1 17 1 1 1 3 9 4 1 4 1 1 1 5 1 1 2 1 1 1 1 2 1 1"/><path d="M129 41.5h51" stroke-dasharray="2 16 2 1 2 2 1 2 1 6 2 4 2 2 1 1 1 2 1 1"/><path d="M113 42.5h60" stroke-dasharray="1 1 1 9 1 1 2 2 3 3 2 2 4 2 6 15 1 3 1 1"/><path d="M113 43.5h69" stroke-dasharray="1 2 1 7 1 3 1 5 6 1 1 1 3 1 5 1 1 2 1 24 1 1"/><path d="M112 44.5h71" stroke-dasharray="2 2 1 5 1 2 1 4 3 1 6 1 1 1 1 2 6 1 1 5 1 15 4 1 3 1"/><path d="M109 45.5h73" stroke-dasharray="1 1 3 2 1 12 2 1 6 1 4 3 9 1 3 1 1 1 1 13 4 1 1 1"/><path d="M107 46.5h54" stroke-dasharray="1 2 1 1 3 4 1 4 1 3 6 1 3 1 1 1 1 3 12 3 1 1"/><path d="M88 47.5h91" stroke-dasharray="2 23 3 1 3 9 8 1 1 2 2 2 1 1 6 1 4 4 1 15 1 1"/><path d="M89 48.5h75" stroke-dasharray="2 24 1 2 2 9 1 1 7 4 2 4 4 1 6 4 1 1"/><path d="M89 49.5h90" stroke-dasharray="2 25 1 1 1 1 1 5 2 3 2 3 1 1 1 5 11 2 3 18 1 1"/><path d="M98 50.5h61" stroke-dasharray="1 17 1 2 1 1 1 1 2 6 2 1 1 2 1 1 1 1 3 2 4 2 2 1 1 1 2 1"/><path d="M83 51.5h75" stroke-dasharray="1 19 1 9 1 3 1 1 2 2 1 10 2 3 1 5 1 1 6 1 1 2 1 1"/><path d="M103 52.5h56" stroke-dasharray="1 8 1 1 6 6 1 12 1 1 1 2 2 1 1 1 1 1 3 3 2 1"/><path d="M94 53.5h60" stroke-dasharray="1 18 2 1 4 3 1 2 1 16 2 2 1 2 1 2 1 1"/><path d="M47 54.5h128" stroke-dasharray="1 55 1 8 1 2 3 2 1 1 1 8 1 7 1 6 1 2 2 5 1 1 1 3 1 7 1 1 3 1"/><path d="M47 55.5h128" stroke-dasharray="2 47 3 9 1 4 2 1 2 1 1 1 3 25 2 22 2 1"/><path d="M47 56.5h118" stroke-dasharray="2 49 1 14 1 4 1 5 1 13 5 3 1 2 3 2 1 8 2 1"/><path d="M46 57.5h120" stroke-dasharray="4 51 1 6 1 2 2 1 1 3 1 1 1 2 1 7 14 1 3 2 1 1 1 4 1 5 2 1"/><path d="M46 58.5h131" stroke-dasharray="1 56 2 2 1 4 1 1 2 1 3 8 5 9 8 3 2 3 1 4 3 1 2 3 1 3 1 1"/><path d="M46 59.5h131" stroke-dasharray="2 1 1 46 1 4 1 3 1 5 1 1 3 1 7 2 3 1 1 13 5 13 1 1 2 7 1 2 1 1"/><path d="M47 60.5h123" stroke-dasharray="1 47 1 16 4 6 1 2 2 1 1 17 3 3 1 9 1 3 1 2 1 1"/><path d="M51 61.5h121" stroke-dasharray="1 43 1 8 3 3 1 1 4 8 2 1 1 1 1 11 1 1 2 1 2 1 1 1 1 5 1 7 1 1 1 2 2 1"/><path d="M96 62.5h74" stroke-dasharray="1 14 1 3 1 2 1 4 2 2 1 15 2 1 1 1 1 1 1 3 1 11 1 1 2 1"/><path d="M54 63.5h117" stroke-dasharray="1 61 1 5 2 11 2 2 1 5 1 2 1 1 1 1 1 16 2 1"/><path d="M94 64.5h77" stroke-dasharray="1 19 1 6 2 3 2 8 2 2 2 6 1 1 1 19 1 1"/><path d="M46 65.5h125" stroke-dasharray="1 56 5 1 2 6 1 2 2 4 4 1 1 1 1 6 1 5 2 19 1 2 1 1"/><path d="M89 66.5h103" stroke-dasharray="1 2 1 7 2 1 3 1 2 5 1 3 2 2 3 3 1 4 2 10 2 1 2 41 1 1"/><path d="M99 67.5h96" stroke-dasharray="3 1 3 1 1 4 7 2 2 2 1 3 1 2 1 3 2 1 3 52 1 1"/><path d="M93 68.5h101" stroke-dasharray="1 1 1 5 13 2 1 1 2 1 1 10 2 3 2 1 1 1 1 1 1 2 1 3 1 41 1 1"/><path d="M47 69.5h99" stroke-dasharray="1 42 1 9 1 1 1 2 1 1 12 1 1 4 1 4 1 1 1 2 2 5 2 1 1 1"/><path d="M50 70.5h146" stroke-dasharray="1 48 7 1 2 3 3 1 5 6 1 4 2 2 1 5 1 14 1 27 1 9 1 1"/><path d="M46 71.5h120" stroke-dasharray="1 54 4 1 2 2 7 2 3 1 1 1 1 1 1 2 1 2 1 1 1 5 1 21 1 1 1 1"/><path d="M48 72.5h119" stroke-dasharray="1 50 1 1 7 1 5 1 7 1 1 1 1 1 1 2 1 5 1 2 1 1 1 4 1 19 1 1"/><path d="M99 73.5h65" stroke-dasharray="11 1 2 1 5 3 2 2 1 2 5 2 3 3 1 20 1 1"/><path d="M52 74.5h121" stroke-dasharray="1 3 2 41 2 3 4 1 1 1 1 1 2 1 3 2 1 4 1 3 7 1 1 2 1 3 1 2 1 7 1 6 1 1 1 6 1 1"/><path d="M55 75.5h110" stroke-dasharray="1 1 1 35 1 4 2 2 1 1 5 1 2 1 1 1 3 1 2 4 3 1 2 1 2 2 1 2 2 10 1 12 1 1"/><path d="M47 76.5h147" stroke-dasharray="2 5 3 1 3 1 4 25 1 5 3 4 1 3 3 3 6 2 1 2 6 3 1 1 2 2 1 13 1 6 1 31 1 1"/><path d="M42 77.5h143" stroke-dasharray="5 3 2 1 1 1 1 2 1 1 3 2 3 28 2 1 2 4 1 1 1 3 1 10 1 4 1 1 1 3 2 1 1 13 1 18 1 14 1 1"/><path d="M40 78.5h146" stroke-dasharray="3 3 4 4 2 2 3 6 2 26 2 3 2 2 2 1 2 2 7 2 1 1 1 4 3 4 1 1 1 8 1 6 1 1 1 10 1 1 1 17 1 1"/><path d="M39 79.5h148" stroke-dasharray="1 9 4 1 6 1 1 6 2 24 2 3 1 1 2 1 3 6 2 2 2 4 2 4 4 2 1 14 1 7 4 1 1 1 1 8 1 10 2 1"/><path d="M37 80.5h135" stroke-dasharray="1 9 1 3 2 1 4 4 1 6 1 24 1 5 1 1 1 12 1 1 1 1 2 1 1 1 1 3 1 1 1 1 4 19 3 3 6 1 1 2 1 1"/><path d="M36 81.5h155" stroke-dasharray="1 12 7 3 1 10 1 23 1 7 2 2 1 4 1 2 6 2 1 2 6 3 1 7 1 40 1 1 1 3 2 1"/><path d="M20 82.5h170" stroke-dasharray="15 20 1 4 1 9 2 20 3 6 1 6 1 3 6 1 1 1 2 3 2 2 6 48 1 4 1 1"/><path d="M29 83.5h105" stroke-dasharray="5 37 2 17 3 2 1 5 1 12 3 3 1 1 1 1 1 1 3 3 2 1"/><path d="M72 84.5h88" stroke-dasharray="1 16 2 3 1 7 3 6 1 3 1 1 3 3 3 1 3 1 3 1 1 1 1 21 1 1"/><path d="M55 85.5h81" stroke-dasharray="1 16 2 14 4 5 1 3 2 1 1 9 1 2 1 5 5 2 1 2 1 1 1 1"/><path d="M73 86.5h58" stroke-dasharray="2 11 2 2 2 4 1 2 1 1 2 2 1 3 1 3 1 3 1 2 1 3 7 1"/><path d="M74 87.5h62" stroke-dasharray="2 8 2 3 1 1 3 16 1 3 1 4 1 8 2 5 1 1"/><path d="M75 88.5h107" stroke-dasharray="2 6 2 4 1 1 3 3 1 16 1 9 1 56 1 1"/><path d="M76 89.5h52" stroke-dasharray="2 3 2 10 2 1 1 10 3 3 2 2 1 1 1 3 1 3 1 1"/><path d="M77 90.5h51" stroke-dasharray="2 1 2 5 2 6 2 5 1 12 1 3 1 2 1 4 1 1"/><path d="M53 91.5h120" stroke-dasharray="2 15 1 7 3 5 1 1 1 4 1 1 4 1 1 24 1 46 1 1"/><path d="M72 92.5h58" stroke-dasharray="1 2 1 3 1 10 1 6 3 3 1 5 1 4 1 1 1 6 1 2 1 2 1 1"/><path d="M63 93.5h67" stroke-dasharray="1 1 1 4 1 5 1 7 1 10 1 3 6 12 2 6 3 1 1 1"/><path d="M59 94.5h69" stroke-dasharray="1 1 1 1 1 2 1 10 1 17 2 2 1 1 2 4 1 6 2 3 1 1 1 1 1 1 1 1 1 1"/><path d="M59 95.5h74" stroke-dasharray="2 2 2 3 1 12 1 16 2 2 2 1 1 7 3 2 1 1 1 8 1 2 1 1"/><path d="M61 96.5h111" stroke-dasharray="1 20 1 15 2 3 2 2 2 3 1 3 2 1 1 1 1 4 2 2 1 40 1 1"/><path d="M63 97.5h71" stroke-dasharray="1 21 1 4 1 6 1 6 4 3 1 3 1 5 3 2 1 1 2 1 1 1 1 1"/><path d="M106 98.5h25" stroke-dasharray="1 10 1 6 2 4 1 1"/><path d="M79 99.5h53" stroke-dasharray="1 2 1 7 1 16 2 3 1 2 3 4 2 7 1 1"/><path d="M72 100.5h58" stroke-dasharray="1 9 1 25 2 7 1 1 8 2 1 1"/><path d="M59 101.5h95" stroke-dasharray="1 6 1 42 2 6 2 1 3 1 2 1 1 1 1 1 1 21 1 1"/><path d="M63 102.5h71" stroke-dasharray="1 18 1 27 6 1 1 1 5 1 1 2 1 1 1 2 1 1"/><path d="M59 103.5h76" stroke-dasharray="1 3 1 11 2 1 1 29 1 3 6 2 3 3 4 1 1 2 1 1"/><path d="M58 104.5h74" stroke-dasharray="2 10 1 32 1 1 1 7 2 6 1 4 2 1 3 1"/><path d="M70 105.5h63" stroke-dasharray="1 49 1 5 1 1 3 1 1 1"/><path d="M58 106.5h74" stroke-dasharray="1 36 1 25 2 4 5 1"/><path d="M78 107.5h52" stroke-dasharray="1 4 2 14 1 17 1 1 1 4 3 1 2 1"/><path d="M96 108.5h38" stroke-dasharray="1 2 1 12 1 1 1 9 1 1 1 1 3 2 1 1"/><path d="M56 109.5h79" stroke-dasharray="1 41 2 5 1 17 3 8 1 1"/><path d="M56 110.5h57" stroke-dasharray="1 55 1 1"/><path d="M74 111.5h55" stroke-dasharray="1 36 1 8 1 3 1 3 1 1"/><path d="M111 112.5h17" stroke-dasharray="1 15 1 1"/><path d="M113 113.5h1"/><path d="M83 114.5h51" stroke-dasharray="1 6 1 27 1 8 2 3 2 1"/><path d="M108 115.5h26" stroke-dasharray="1 24 1 1"/><path d="M60 116.5h67" stroke-dasharray="1 35 1 28 2 1"/><path d="M97 117.5h22" stroke-dasharray="1 13 1 6 1 1"/><path d="M105 118.5h8" stroke-dasharray="1 5 2 1"/><path d="M55 119.5h69" stroke-dasharray="1 11 1 55 1 1"/><path d="M112 120.5h2"/><path d="M31 121.5h91" stroke-dasharray="2 33 1 46 1 7 1 1"/><path d="M32 122.5h82" stroke-dasharray="1 65 1 1 1 12 1 1"/><path d="M87 123.5h51" stroke-dasharray="1 26 1 22 1 1"/><path d="M33 124.5h82" stroke-dasharray="1 71 1 8 1 1"/><path d="M114 125.5h1"/><path d="M33 127.5h91" stroke-dasharray="1 81 1 3 1 3 1 1"/><path d="M34 128.5h1"/><path d="M115 129.5h11" stroke-dasharray="1 9 1 1"/><path d="M126 130.5h1"/><path d="M34 131.5h95" stroke-dasharray="1 93 1 1"/><path d="M59 132.5h1"/><path d="M33 133.5h1"/><path d="M34 134.5h1"/><path d="M35 135.5h2"/><path d="M35 136.5h1"/><path d="M36 137.5h2"/><path d="M37 138.5h4" stroke-dasharray="1 2 1 1"/><path d="M40 140.5h76" stroke-dasharray="1 74 1 1"/><path d="M40 141.5h1"/><path d="M45 142.5h3"/><path d="M47 143.5h32" stroke-dasharray="5 26 1 1"/><path d="M52 144.5h1"/></g><g stroke="#2b9089"><path d="M161 1.5h3" stroke-dasharray="1 1 1 1"/><path d="M155 2.5h12" stroke-dasharray="5 2 5 1"/><path d="M153 3.5h28" stroke-dasharray="2 8 1 1 5 1 7 1 2 1"/><path d="M166 4.5h15" stroke-dasharray="5 4 4 1 1 1"/><path d="M149 5.5h28" stroke-dasharray="1 15 2 1 4 2 1 1 1 1"/><path d="M147 6.5h33" stroke-dasharray="2 13 1 1 1 1 3 9 2 1"/><path d="M144 7.5h3"/><path d="M143 8.5h35" stroke-dasharray="2 18 1 3 1 1 1 7 1 1"/><path d="M142 9.5h36" stroke-dasharray="1 13 1 20 1 1"/><path d="M153 10.5h4" stroke-dasharray="1 1 2 1"/><path d="M162 11.5h20" stroke-dasharray="1 18 1 1"/><path d="M154 12.5h29" stroke-dasharray="1 27 1 1"/><path d="M156 13.5h26" stroke-dasharray="1 24 1 1"/><path d="M173 14.5h10" stroke-dasharray="2 6 2 1"/><path d="M135 15.5h49" stroke-dasharray="1 6 1 32 1 4 1 2 1 1"/><path d="M133 16.5h49" stroke-dasharray="2 33 1 12 1 1"/><path d="M132 17.5h50" stroke-dasharray="1 48 1 1"/><path d="M134 18.5h49" stroke-dasharray="2 6 1 38 2 1"/><path d="M130 19.5h22" stroke-dasharray="4 17 1 1"/><path d="M129 20.5h52" stroke-dasharray="3 8 1 39 1 1"/><path d="M129 21.5h34" stroke-dasharray="1 1 4 5 1 11 1 3 1 1 2 2 1 1"/><path d="M129 22.5h38" stroke-dasharray="1 3 2 3 1 1 2 5 1 3 1 2 1 1 2 8 1 1"/><path d="M129 23.5h31" stroke-dasharray="1 1 3 3 2 1 1 9 2 2 1 4 1 1"/><path d="M129 24.5h29" stroke-dasharray="2 4 1 3 1 13 2 2 1 1"/><path d="M128 25.5h28" stroke-dasharray="2 7 4 1 1 9 1 1 2 1"/><path d="M128 26.5h27" stroke-dasharray="1 4 1 1 1 2 1 1 1 7 1 4 2 1"/><path d="M127 27.5h14" stroke-dasharray="3 3 1 1 1 2 3 1"/><path d="M126 28.5h29" stroke-dasharray="1 5 1 4 3 3 1 6 1 3 1 1"/><path d="M124 29.5h30" stroke-dasharray="2 9 1 1 1 1 1 5 1 1 1 2 1 2 1 1"/><path d="M136 30.5h28" stroke-dasharray="1 10 1 7 1 7 1 1"/><path d="M121 31.5h42" stroke-dasharray="1 14 1 1 1 6 2 2 1 8 1 3 1 1"/><path d="M119 32.5h44" stroke-dasharray="1 1 1 12 1 1 2 2 1 5 2 14 1 1"/><path d="M117 33.5h61" stroke-dasharray="1 2 2 15 1 8 2 3 1 3 1 21 1 1"/><path d="M117 34.5h49" stroke-dasharray="2 1 3 13 2 3 2 3 4 3 1 9 1 1 1 1"/><path d="M116 35.5h50" stroke-dasharray="2 3 2 22 4 2 1 13 1 1"/><path d="M116 36.5h64" stroke-dasharray="1 7 1 20 5 1 2 5 1 20 1 1"/><path d="M115 37.5h75" stroke-dasharray="2 1 1 21 1 5 6 2 1 34 1 1"/><path d="M115 38.5h49" stroke-dasharray="2 1 4 21 4 1 5 1 1 7 2 1"/><path d="M114 39.5h63" stroke-dasharray="2 3 1 24 5 1 1 2 1 22 1 1"/><path d="M115 40.5h64" stroke-dasharray="1 5 1 19 1 4 8 17 1 2 1 3 1 1"/><path d="M129 41.5h51" stroke-dasharray="2 16 2 1 2 2 1 2 1 12 2 4 1 2 1 1"/><path d="M113 42.5h56" stroke-dasharray="1 11 1 1 2 2 2 4 2 3 3 3 3 1 1 15 1 1"/><path d="M113 43.5h69" stroke-dasharray="1 2 1 7 1 3 1 6 5 3 3 2 4 1 1 27 1 1"/><path d="M113 44.5h68" stroke-dasharray="1 8 1 7 1 1 1 3 3 2 1 1 1 2 6 24 1 3 1 1"/><path d="M111 45.5h69" stroke-dasharray="3 15 1 2 6 2 1 5 1 1 1 1 5 1 1 3 1 1 1 14 3 1"/><path d="M107 46.5h54" stroke-dasharray="1 4 1 15 5 2 3 3 1 3 6 1 5 3 1 1"/><path d="M88 47.5h91" stroke-dasharray="2 23 3 1 2 10 5 2 1 1 1 2 2 4 6 1 4 4 1 15 1 1"/><path d="M89 48.5h75" stroke-dasharray="2 27 2 9 1 3 2 1 1 11 1 1 2 2 2 1 2 4 1 1"/><path d="M89 49.5h71" stroke-dasharray="2 25 1 1 1 1 1 5 1 5 1 3 1 7 3 1 7 2 3 1"/><path d="M119 50.5h40" stroke-dasharray="1 1 1 2 1 9 1 4 1 2 2 3 3 2 2 4 1 1"/><path d="M83 51.5h75" stroke-dasharray="1 29 1 3 1 1 1 3 1 10 2 3 1 5 1 1 2 1 3 1 1 2 1 1"/><path d="M103 52.5h50" stroke-dasharray="1 8 1 3 4 19 1 1 1 2 2 1 1 1 1 1 2 1"/><path d="M113 53.5h41" stroke-dasharray="2 1 4 3 1 2 1 17 1 5 1 2 1 1"/><path d="M47 54.5h126" stroke-dasharray="1 64 1 2 1 1 1 2 1 10 1 17 2 5 1 15 1 1"/><path d="M47 55.5h127" stroke-dasharray="2 47 3 14 2 1 1 5 1 26 2 22 1 1"/><path d="M47 56.5h117" stroke-dasharray="2 64 1 10 1 13 5 6 2 3 1 8 1 1"/><path d="M46 57.5h120" stroke-dasharray="2 53 1 6 1 3 1 1 1 3 1 1 1 2 1 7 14 1 3 2 1 1 1 4 1 6 1 1"/><path d="M107 58.5h70" stroke-dasharray="1 4 1 1 1 2 1 1 1 8 5 9 7 5 1 3 1 4 3 10 1 1"/><path d="M46 59.5h131" stroke-dasharray="2 1 1 55 1 7 3 1 3 1 3 2 3 1 1 13 5 13 1 1 1 11 1 1"/><path d="M47 60.5h123" stroke-dasharray="1 47 1 17 3 6 1 2 2 19 3 13 1 6 1 1"/><path d="M51 61.5h120" stroke-dasharray="1 43 1 8 1 5 1 2 3 8 2 3 1 14 1 1 2 9 1 9 1 2 1 1"/><path d="M96 62.5h74" stroke-dasharray="1 18 1 2 1 4 2 2 1 15 1 2 1 1 1 5 1 11 1 2 1 1"/><path d="M54 63.5h99" stroke-dasharray="1 67 2 21 1 2 1 3 1 1"/><path d="M94 64.5h57" stroke-dasharray="1 19 1 6 2 13 2 2 2 6 1 1 1 1"/><path d="M46 65.5h102" stroke-dasharray="1 56 3 1 1 1 1 7 1 2 2 4 4 1 1 1 1 6 1 5 2 1"/><path d="M92 66.5h57" stroke-dasharray="1 7 2 1 1 1 1 1 1 10 2 3 1 9 2 13 1 1"/><path d="M99 67.5h96" stroke-dasharray="2 2 1 1 1 6 7 2 2 6 1 6 2 1 3 52 1 1"/><path d="M95 68.5h99" stroke-dasharray="1 5 3 3 7 2 1 1 2 12 2 3 2 5 1 48 1 1"/><path d="M100 69.5h44" stroke-dasharray="1 1 1 2 1 1 10 1 1 6 1 4 1 1 1 2 2 6 1 1"/><path d="M99 70.5h97" stroke-dasharray="4 1 2 1 2 3 3 1 2 1 1 7 1 4 2 61 1 1"/><path d="M46 71.5h120" stroke-dasharray="1 54 4 1 2 2 3 1 3 3 2 3 1 7 1 1 1 29 1 1"/><path d="M48 72.5h119" stroke-dasharray="1 50 1 1 7 2 1 4 7 1 1 3 1 2 1 10 1 24 1 1"/><path d="M99 73.5h44" stroke-dasharray="10 3 1 2 4 4 1 6 3 3 3 3 1 1"/><path d="M52 74.5h121" stroke-dasharray="1 46 2 3 4 1 1 1 1 2 1 1 1 1 1 2 1 4 1 4 1 1 1 2 1 1 1 2 1 3 1 2 1 7 1 8 1 6 1 1"/><path d="M55 75.5h110" stroke-dasharray="1 1 1 40 2 4 4 3 1 1 1 1 3 1 2 4 3 1 1 2 2 5 2 10 1 12 1 1"/><path d="M47 76.5h115" stroke-dasharray="2 7 1 1 3 1 4 31 3 8 3 3 6 5 1 1 4 3 1 2 1 2 1 13 1 6 1 1"/><path d="M42 77.5h95" stroke-dasharray="5 3 2 1 1 1 1 2 1 1 3 2 3 28 2 1 2 4 1 1 1 14 1 4 1 6 1 1 1 1"/><path d="M40 78.5h113" stroke-dasharray="3 3 4 4 2 2 3 6 2 26 2 3 2 2 2 1 2 3 1 2 3 4 1 5 2 4 1 1 1 8 1 6 1 1"/><path d="M39 79.5h136" stroke-dasharray="1 9 4 1 5 2 1 6 2 24 2 5 2 1 3 6 2 2 1 5 2 5 3 2 1 24 2 1 1 10 1 1"/><path d="M37 80.5h135" stroke-dasharray="1 13 2 1 4 11 1 24 1 7 1 14 1 1 1 2 1 1 1 5 1 2 1 22 1 5 5 4 1 1"/><path d="M36 81.5h150" stroke-dasharray="1 14 5 3 1 10 1 23 1 7 2 2 1 4 1 3 3 1 1 2 1 2 6 3 1 48 1 1 1 1"/><path d="M20 82.5h170" stroke-dasharray="15 20 1 4 1 9 2 20 3 6 1 6 1 3 2 1 3 1 1 7 1 2 6 53 1 1"/><path d="M29 83.5h105" stroke-dasharray="5 37 2 17 3 2 1 5 1 12 3 7 1 1 1 1 1 3 2 1"/><path d="M72 84.5h88" stroke-dasharray="1 17 1 3 1 20 1 1 3 4 2 2 2 2 1 26 1 1"/><path d="M55 85.5h79" stroke-dasharray="1 16 2 14 3 10 2 1 1 12 1 6 2 1 1 2 1 2 1 1"/><path d="M73 86.5h56" stroke-dasharray="2 11 2 2 2 4 1 4 1 3 1 11 1 2 1 3 1 2 2 1"/><path d="M74 87.5h62" stroke-dasharray="2 8 2 5 2 21 1 4 1 8 2 5 1 1"/><path d="M75 88.5h107" stroke-dasharray="2 6 2 7 2 20 1 9 1 56 1 1"/><path d="M76 89.5h44" stroke-dasharray="2 3 2 10 2 13 1 10 1 1"/><path d="M77 90.5h51" stroke-dasharray="2 1 2 5 2 6 2 5 1 12 1 3 1 2 1 4 1 1"/><path d="M53 91.5h73" stroke-dasharray="1 24 3 12 1 1 4 1 1 24 1 1"/><path d="M72 92.5h55" stroke-dasharray="1 6 1 18 2 3 1 22 1 1"/><path d="M63 93.5h67" stroke-dasharray="1 20 1 10 1 3 3 2 1 12 1 7 3 1 1 1"/><path d="M59 94.5h69" stroke-dasharray="1 1 1 15 1 18 1 2 1 1 2 4 1 6 2 3 1 1 1 1 1 1 1 1 1 1"/><path d="M59 95.5h74" stroke-dasharray="1 3 2 3 1 34 1 1 1 7 1 1 1 4 1 11 1 1"/><path d="M98 96.5h33" stroke-dasharray="2 3 2 2 1 4 1 3 1 4 1 4 2 2 1 1"/><path d="M63 97.5h71" stroke-dasharray="1 21 1 18 4 3 1 3 1 5 3 4 2 1 1 1 1 1"/><path d="M106 98.5h25" stroke-dasharray="1 10 1 6 1 5 1 1"/><path d="M79 99.5h53" stroke-dasharray="1 27 2 3 1 2 3 4 2 7 1 1"/><path d="M108 100.5h22" stroke-dasharray="2 7 1 1 8 2 1 1"/><path d="M59 101.5h71" stroke-dasharray="1 49 2 6 1 2 3 2 1 1 1 1 1 1"/><path d="M110 102.5h24" stroke-dasharray="6 1 1 1 5 1 1 2 1 1 1 2 1 1"/><path d="M63 103.5h72" stroke-dasharray="1 11 1 32 1 3 6 2 2 4 2 6 1 1"/><path d="M58 104.5h73" stroke-dasharray="2 10 1 34 1 7 2 6 1 4 2 2 1 1"/><path d="M70 105.5h61" stroke-dasharray="1 49 1 9 1 1"/><path d="M121 106.5h11" stroke-dasharray="2 4 5 1"/><path d="M78 107.5h52" stroke-dasharray="1 20 1 24 3 1 2 1"/><path d="M112 108.5h22" stroke-dasharray="1 13 1 2 1 3 1 1"/><path d="M98 109.5h28" stroke-dasharray="1 26 1 1"/><path d="M112 110.5h1"/><path d="M120 111.5h5" stroke-dasharray="1 3 1 1"/><path d="M127 112.5h1"/><path d="M113 113.5h1"/><path d="M83 114.5h51" stroke-dasharray="1 6 1 36 1 5 1 1"/><path d="M108 115.5h1"/><path d="M126 116.5h1"/><path d="M118 117.5h1"/><path d="M105 118.5h1"/><path d="M113 120.5h1"/><path d="M31 121.5h83" stroke-dasharray="2 80 1 1"/><path d="M32 122.5h82" stroke-dasharray="1 65 1 14 1 1"/><path d="M114 123.5h1"/><path d="M33 124.5h1"/><path d="M115 127.5h9" stroke-dasharray="1 7 1 1"/><path d="M34 128.5h1"/><path d="M125 129.5h1"/><path d="M33 133.5h1"/><path d="M34 134.5h1"/><path d="M35 135.5h2"/><path d="M35 136.5h1"/><path d="M36 137.5h1"/><path d="M37 138.5h1"/><path d="M115 140.5h1"/><path d="M40 141.5h1"/><path d="M45 142.5h3" stroke-dasharray="1 1 1 1"/><path d="M49 143.5h30" stroke-dasharray="1 1 1 26 1 1"/><path d="M52 144.5h1"/></g><g stroke="#22a884"><path d="M161 1.5h3" stroke-dasharray="1 1 1 1"/><path d="M155 2.5h12" stroke-dasharray="2 1 2 2 1 1 3 1"/><path d="M154 3.5h27" stroke-dasharray="1 11 3 2 7 1 2 1"/><path d="M166 4.5h13" stroke-dasharray="1 2 2 4 4 1"/><path d="M149 5.5h23" stroke-dasharray="1 18 4 1"/><path d="M147 6.5h32" stroke-dasharray="2 13 1 1 1 1 3 9 1 1"/><path d="M144 7.5h3"/><path d="M144 8.5h34" stroke-dasharray="1 32 1 1"/><path d="M142 9.5h1"/><path d="M155 10.5h2"/><path d="M181 11.5h1"/><path d="M182 12.5h1"/><path d="M156 13.5h1"/><path d="M173 14.5h2"/><path d="M135 15.5h46" stroke-dasharray="1 6 1 32 1 4 1 1"/><path d="M133 16.5h2"/><path d="M132 17.5h1"/><path d="M142 18.5h41" stroke-dasharray="1 39 1 1"/><path d="M130 19.5h4"/><path d="M129 20.5h52" stroke-dasharray="2 49 1 1"/><path d="M129 21.5h34" stroke-dasharray="1 1 1 1 2 5 1 15 1 2 1 2 1 1"/><path d="M133 22.5h34" stroke-dasharray="1 13 1 8 2 8 1 1"/><path d="M131 23.5h24" stroke-dasharray="1 1 1 3 2 11 2 2 1 1"/><path d="M129 24.5h29" stroke-dasharray="1 5 1 3 1 13 2 2 1 1"/><path d="M128 25.5h28" stroke-dasharray="2 7 2 3 1 12 1 1"/><path d="M138 26.5h17" stroke-dasharray="1 1 1 12 2 1"/><path d="M127 27.5h12" stroke-dasharray="3 3 1 4 1 1"/><path d="M126 28.5h29" stroke-dasharray="1 10 1 5 1 10 1 1"/><path d="M125 29.5h26" stroke-dasharray="1 19 1 1 1 2 1 1"/><path d="M136 30.5h28" stroke-dasharray="1 10 1 15 1 1"/><path d="M121 31.5h38" stroke-dasharray="1 14 1 1 1 6 1 12 1 1"/><path d="M121 32.5h27" stroke-dasharray="1 12 1 1 2 8 2 1"/><path d="M117 33.5h39" stroke-dasharray="1 2 2 33 1 1"/><path d="M117 34.5h37" stroke-dasharray="1 2 2 14 2 8 1 1 1 4 1 1"/><path d="M116 35.5h50" stroke-dasharray="2 3 1 23 4 2 1 13 1 1"/><path d="M116 36.5h64" stroke-dasharray="1 29 2 3 1 27 1 1"/><path d="M115 37.5h75" stroke-dasharray="2 1 1 27 6 37 1 1"/><path d="M115 38.5h38" stroke-dasharray="2 2 1 24 3 1 2 1 2 1"/><path d="M114 39.5h40" stroke-dasharray="2 3 1 24 2 1 2 1 1 2 1 1"/><path d="M141 40.5h34" stroke-dasharray="1 4 2 3 2 21 1 1"/><path d="M129 41.5h51" stroke-dasharray="2 16 2 2 1 5 1 12 1 5 1 2 1 1"/><path d="M113 42.5h40" stroke-dasharray="1 11 1 2 1 3 1 4 2 3 3 3 3 1 1 1"/><path d="M116 43.5h36" stroke-dasharray="1 7 1 12 2 4 3 2 4 1"/><path d="M130 44.5h47" stroke-dasharray="1 5 3 2 1 1 1 4 4 24 1 1"/><path d="M111 45.5h67" stroke-dasharray="3 15 1 2 4 1 1 2 1 5 1 1 1 1 5 5 1 16 1 1"/><path d="M130 46.5h31" stroke-dasharray="3 2 2 4 1 4 5 1 2 1 1 4 1 1"/><path d="M88 47.5h70" stroke-dasharray="1 24 1 1 1 1 2 11 4 2 1 1 1 2 2 4 6 1 2 1 1 1"/><path d="M89 48.5h67" stroke-dasharray="2 27 2 9 1 3 1 16 2 2 2 1"/><path d="M89 49.5h65" stroke-dasharray="2 25 1 1 1 7 1 9 1 8 2 1 1 1 4 1"/><path d="M119 50.5h40" stroke-dasharray="1 4 1 9 1 7 2 3 3 2 2 4 1 1"/><path d="M83 51.5h75" stroke-dasharray="1 29 1 3 1 1 1 14 2 3 1 7 2 1 3 1 1 2 1 1"/><path d="M116 52.5h36" stroke-dasharray="1 1 2 19 1 7 1 1 1 1 1 1"/><path d="M113 53.5h32" stroke-dasharray="1 2 4 3 1 2 1 17 1 1"/><path d="M47 54.5h110" stroke-dasharray="1 64 1 2 1 4 1 10 1 24 1 1"/><path d="M47 55.5h127" stroke-dasharray="2 49 1 14 2 7 1 27 1 22 1 1"/><path d="M47 56.5h108" stroke-dasharray="2 64 1 10 1 13 1 1 3 11 1 1"/><path d="M47 57.5h107" stroke-dasharray="1 53 1 6 1 3 1 1 1 3 1 12 9 1 4 1 3 2 1 1 1 1"/><path d="M112 58.5h65" stroke-dasharray="1 1 1 2 1 1 1 8 5 9 7 9 1 5 2 10 1 1"/><path d="M46 59.5h131" stroke-dasharray="1 58 1 7 3 1 3 1 1 4 3 1 1 13 1 1 3 13 1 13 1 1"/><path d="M47 60.5h102" stroke-dasharray="1 47 1 17 3 6 1 2 2 19 1 1 1 1"/><path d="M51 61.5h97" stroke-dasharray="1 52 1 10 1 8 2 3 1 16 2 1"/><path d="M115 62.5h52" stroke-dasharray="1 7 2 21 1 19 1 1"/><path d="M122 63.5h31" stroke-dasharray="2 24 1 3 1 1"/><path d="M94 64.5h57" stroke-dasharray="1 26 2 13 1 4 1 8 1 1"/><path d="M103 65.5h45" stroke-dasharray="3 11 1 2 2 4 3 4 1 6 1 5 2 1"/><path d="M100 66.5h49" stroke-dasharray="1 2 1 1 1 12 2 3 1 9 1 14 1 1"/><path d="M100 67.5h95" stroke-dasharray="1 2 1 1 1 6 7 2 2 14 1 1 1 54 1 1"/><path d="M101 68.5h93" stroke-dasharray="3 3 7 2 1 1 2 13 1 3 1 55 1 1"/><path d="M102 69.5h31" stroke-dasharray="1 4 7 1 2 1 1 6 1 6 1 1"/><path d="M99 70.5h97" stroke-dasharray="4 1 2 1 2 3 2 2 2 14 2 61 1 1"/><path d="M46 71.5h120" stroke-dasharray="1 54 4 1 2 2 3 1 1 5 1 12 1 1 1 29 1 1"/><path d="M48 72.5h83" stroke-dasharray="1 52 7 2 1 4 5 7 1 2 1 1"/><path d="M99 73.5h39" stroke-dasharray="9 4 1 2 4 12 2 3 2 1"/><path d="M99 74.5h67" stroke-dasharray="2 3 4 1 1 6 1 1 1 2 1 9 1 1 1 7 1 3 1 19 1 1"/><path d="M55 75.5h86" stroke-dasharray="1 42 2 5 3 5 1 1 2 2 1 6 1 2 1 2 1 6 2 1"/><path d="M47 76.5h115" stroke-dasharray="2 7 1 1 2 2 4 31 3 8 3 3 6 5 1 2 3 3 1 2 1 23 1 1"/><path d="M42 77.5h93" stroke-dasharray="2 1 2 4 1 3 1 2 1 1 3 2 3 28 2 2 1 4 1 1 1 19 1 6 1 1"/><path d="M40 78.5h97" stroke-dasharray="3 3 4 5 1 2 3 6 2 26 2 3 2 2 2 6 1 3 2 4 1 6 1 4 1 1 1 1"/><path d="M39 79.5h125" stroke-dasharray="1 9 3 5 2 9 2 24 2 5 1 2 2 8 1 2 1 5 2 6 2 27 1 2 1 1"/><path d="M37 80.5h135" stroke-dasharray="1 13 2 1 3 12 1 24 1 7 1 14 1 1 1 2 1 1 1 5 1 2 1 28 1 2 1 5 1 1"/><path d="M36 81.5h150" stroke-dasharray="1 14 5 14 1 23 1 7 2 2 1 4 1 3 3 1 1 2 1 3 1 1 1 1 1 3 1 50 1 1"/><path d="M21 82.5h114" stroke-dasharray="14 20 1 14 2 20 3 18 1 1 2 2 1 11 4 1"/><path d="M29 83.5h105" stroke-dasharray="5 37 2 18 2 2 1 18 1 1 1 15 2 1"/><path d="M72 84.5h57" stroke-dasharray="1 17 1 3 1 20 1 1 1 6 2 2 1 1"/><path d="M72 85.5h53" stroke-dasharray="2 14 2 27 1 6 1 1"/><path d="M73 86.5h52" stroke-dasharray="2 11 2 2 2 4 1 20 1 6 1 1"/><path d="M74 87.5h62" stroke-dasharray="2 8 2 5 2 21 1 4 1 8 1 6 1 1"/><path d="M75 88.5h107" stroke-dasharray="2 6 2 7 2 87 1 1"/><path d="M76 89.5h44" stroke-dasharray="2 3 2 10 2 13 1 10 1 1"/><path d="M77 90.5h51" stroke-dasharray="2 1 2 13 2 5 1 19 1 4 1 1"/><path d="M78 91.5h48" stroke-dasharray="3 15 2 27 1 1"/><path d="M72 92.5h55" stroke-dasharray="1 6 1 18 2 26 1 1"/><path d="M95 93.5h33" stroke-dasharray="1 3 3 2 1 20 1 1 1 1"/><path d="M61 94.5h67" stroke-dasharray="1 39 2 4 1 11 1 1 1 1 1 1 1 1 1 1"/><path d="M63 95.5h70" stroke-dasharray="1 4 1 34 1 1 1 14 1 11 1 1"/><path d="M98 96.5h33" stroke-dasharray="1 4 2 2 1 4 1 3 1 9 2 2 1 1"/><path d="M85 97.5h49" stroke-dasharray="1 18 2 1 1 3 1 10 1 5 1 4 1 1"/><path d="M106 98.5h25" stroke-dasharray="1 10 1 6 1 5 1 1"/><path d="M107 99.5h17" stroke-dasharray="2 3 1 2 3 4 2 1"/><path d="M108 100.5h22" stroke-dasharray="2 7 1 1 1 1 6 2 1 1"/><path d="M59 101.5h69" stroke-dasharray="1 49 2 6 1 2 2 3 1 1 1 1"/><path d="M110 102.5h21" stroke-dasharray="3 1 2 1 1 1 5 1 1 2 1 1 1 1"/><path d="M112 103.5h15" stroke-dasharray="6 2 2 4 1 1"/><path d="M105 104.5h26" stroke-dasharray="1 8 1 11 2 2 1 1"/><path d="M70 105.5h61" stroke-dasharray="1 59 1 1"/><path d="M121 106.5h11" stroke-dasharray="2 4 5 1"/><path d="M126 107.5h4" stroke-dasharray="1 1 2 1"/><path d="M112 108.5h22" stroke-dasharray="1 20 1 1"/><path d="M125 109.5h1"/><path d="M120 111.5h5" stroke-dasharray="1 3 1 1"/><path d="M118 117.5h1"/><path d="M32 121.5h1"/><path d="M32 122.5h67" stroke-dasharray="1 65 1 1"/><path d="M115 127.5h9" stroke-dasharray="1 7 1 1"/><path d="M34 128.5h1"/><path d="M125 129.5h1"/><path d="M34 134.5h1"/><path d="M36 135.5h1"/><path d="M36 137.5h1"/><path d="M115 140.5h1"/><path d="M49 143.5h30" stroke-dasharray="1 1 1 26 1 1"/><path d="M52 144.5h1"/></g><g stroke="#5abc6d"><path d="M161 1.5h3" stroke-dasharray="1 1 1 1"/><path d="M155 2.5h12" stroke-dasharray="2 1 2 5 2 1"/><path d="M154 3.5h27" stroke-dasharray="1 11 3 2 7 1 2 1"/><path d="M170 4.5h8" stroke-dasharray="1 4 3 1"/><path d="M149 5.5h1"/><path d="M147 6.5h32" stroke-dasharray="2 15 1 2 2 9 1 1"/><path d="M144 7.5h3"/><path d="M177 8.5h1"/><path d="M181 11.5h1"/><path d="M173 14.5h2"/><path d="M175 15.5h1"/><path d="M132 17.5h1"/><path d="M182 18.5h1"/><path d="M130 19.5h2"/><path d="M129 20.5h52" stroke-dasharray="2 49 1 1"/><path d="M129 21.5h34" stroke-dasharray="1 1 1 1 2 21 1 2 1 2 1 1"/><path d="M133 22.5h34" stroke-dasharray="1 13 1 8 2 8 1 1"/><path d="M133 23.5h22" stroke-dasharray="1 4 1 15 1 1"/><path d="M129 24.5h26" stroke-dasharray="1 9 1 13 2 1"/><path d="M137 25.5h19" stroke-dasharray="2 16 1 1"/><path d="M138 26.5h17" stroke-dasharray="1 15 1 1"/><path d="M127 27.5h12" stroke-dasharray="1 1 1 3 1 4 1 1"/><path d="M126 28.5h29" stroke-dasharray="1 10 1 16 1 1"/><path d="M150 29.5h1"/><path d="M145 31.5h1"/><path d="M121 32.5h17" stroke-dasharray="1 12 1 1 2 1"/><path d="M117 33.5h1"/><path d="M117 34.5h37" stroke-dasharray="1 3 1 24 1 1 1 4 1 1"/><path d="M121 35.5h45" stroke-dasharray="1 24 1 1 1 2 1 13 1 1"/><path d="M116 36.5h64" stroke-dasharray="1 29 2 31 1 1"/><path d="M115 37.5h75" stroke-dasharray="2 29 2 1 1 1 1 37 1 1"/><path d="M115 38.5h35" stroke-dasharray="1 28 3 1 2 1"/><path d="M114 39.5h40" stroke-dasharray="2 3 1 24 2 1 1 2 1 2 1 1"/><path d="M141 40.5h12" stroke-dasharray="1 4 2 3 2 1"/><path d="M130 41.5h50" stroke-dasharray="1 26 1 18 1 2 1 1"/><path d="M125 42.5h28" stroke-dasharray="1 6 1 4 2 3 3 3 1 1 1 1 1 1"/><path d="M116 43.5h35" stroke-dasharray="1 7 1 13 1 5 2 4 1 1"/><path d="M136 44.5h16" stroke-dasharray="2 3 1 7 3 1"/><path d="M111 45.5h67" stroke-dasharray="1 1 1 15 1 2 4 12 1 1 2 1 1 6 1 16 1 1"/><path d="M130 46.5h31" stroke-dasharray="3 2 2 9 1 1 2 2 1 2 1 4 1 1"/><path d="M113 47.5h45" stroke-dasharray="1 3 2 11 4 2 1 1 1 3 1 4 6 4 1 1"/><path d="M89 48.5h67" stroke-dasharray="2 27 2 13 1 16 2 3 1 1"/><path d="M118 49.5h36" stroke-dasharray="1 7 1 9 1 8 2 1 1 1 2 1 1 1"/><path d="M134 50.5h25" stroke-dasharray="1 7 2 3 2 4 1 4 1 1"/><path d="M83 51.5h72" stroke-dasharray="1 29 1 3 1 1 1 14 2 3 1 7 2 1 1 1 1 1 1 1"/><path d="M119 52.5h33" stroke-dasharray="1 27 1 1 1 1 1 1"/><path d="M113 53.5h32" stroke-dasharray="1 2 4 24 1 1"/><path d="M47 54.5h110" stroke-dasharray="1 64 1 2 1 4 1 10 1 24 1 1"/><path d="M47 55.5h104" stroke-dasharray="2 49 1 14 2 7 1 27 1 1"/><path d="M47 56.5h96" stroke-dasharray="2 64 1 24 1 1 3 1"/><path d="M108 57.5h46" stroke-dasharray="1 3 1 5 1 12 9 1 4 1 2 3 1 1 1 1"/><path d="M112 58.5h37" stroke-dasharray="1 1 1 4 1 8 5 12 2 1 1 1"/><path d="M46 59.5h117" stroke-dasharray="1 58 1 7 1 1 1 3 1 1 1 4 3 17 3 13 1 1"/><path d="M47 60.5h102" stroke-dasharray="1 47 1 17 2 10 2 19 1 1 1 1"/><path d="M51 61.5h97" stroke-dasharray="1 52 1 19 2 21 1 1"/><path d="M123 62.5h24" stroke-dasharray="2 21 1 1"/><path d="M123 63.5h1"/><path d="M121 64.5h30" stroke-dasharray="2 27 1 1"/><path d="M103 65.5h38" stroke-dasharray="2 15 2 5 2 11 1 1"/><path d="M100 66.5h24" stroke-dasharray="1 2 1 1 1 13 1 3 1 1"/><path d="M100 67.5h95" stroke-dasharray="1 2 1 8 7 3 1 71 1 1"/><path d="M101 68.5h93" stroke-dasharray="1 1 1 4 1 1 4 2 1 1 1 14 1 3 1 55 1 1"/><path d="M102 69.5h31" stroke-dasharray="1 4 7 1 2 1 1 13 1 1"/><path d="M100 70.5h96" stroke-dasharray="3 4 2 3 1 3 1 15 1 62 1 1"/><path d="M46 71.5h88" stroke-dasharray="1 54 4 1 2 3 2 20 1 1"/><path d="M101 72.5h27" stroke-dasharray="6 8 4 8 1 1"/><path d="M99 73.5h33" stroke-dasharray="3 2 3 5 1 2 1 1 2 12 1 1"/><path d="M99 74.5h47" stroke-dasharray="2 3 3 2 1 6 1 1 1 14 1 7 1 3 1 1"/><path d="M98 75.5h43" stroke-dasharray="2 5 3 5 1 1 2 2 1 9 1 2 1 6 2 1"/><path d="M47 76.5h91" stroke-dasharray="1 8 1 5 4 31 3 8 1 1 1 4 3 1 1 14 1 2 1 1"/><path d="M42 77.5h93" stroke-dasharray="2 1 2 4 1 3 1 4 2 3 3 28 2 2 1 4 1 1 1 26 1 1"/><path d="M40 78.5h97" stroke-dasharray="3 3 4 5 1 2 3 6 2 26 2 3 2 2 2 6 1 23 1 1"/><path d="M39 79.5h94" stroke-dasharray="1 17 2 9 2 31 1 3 1 8 1 17 1 1"/><path d="M37 80.5h94" stroke-dasharray="1 13 2 1 3 12 1 24 1 7 1 14 1 12 1 1"/><path d="M36 81.5h99" stroke-dasharray="1 14 5 14 1 23 1 8 1 7 1 3 2 5 1 5 1 5 1 1"/><path d="M21 82.5h113" stroke-dasharray="14 35 2 20 3 20 2 2 1 11 3 1"/><path d="M29 83.5h105" stroke-dasharray="5 37 2 18 2 21 1 1 1 16 1 1"/><path d="M72 84.5h54" stroke-dasharray="1 17 1 24 1 1 1 6 2 1"/><path d="M73 85.5h45" stroke-dasharray="1 14 2 27 1 1"/><path d="M73 86.5h52" stroke-dasharray="2 11 2 2 2 32 1 1"/><path d="M74 87.5h55" stroke-dasharray="2 8 2 5 2 35 1 1"/><path d="M75 88.5h107" stroke-dasharray="2 6 2 7 2 87 1 1"/><path d="M76 89.5h19" stroke-dasharray="2 3 2 10 2 1"/><path d="M77 90.5h51" stroke-dasharray="2 1 2 13 2 5 1 19 1 4 1 1"/><path d="M78 91.5h48" stroke-dasharray="3 15 2 27 1 1"/><path d="M72 92.5h55" stroke-dasharray="1 6 1 18 2 26 1 1"/><path d="M95 93.5h33" stroke-dasharray="1 3 3 2 1 20 1 1 1 1"/><path d="M61 94.5h61" stroke-dasharray="1 39 2 4 1 13 1 1"/><path d="M103 95.5h18" stroke-dasharray="1 16 1 1"/><path d="M98 96.5h33" stroke-dasharray="1 4 2 2 1 8 1 9 2 2 1 1"/><path d="M85 97.5h21" stroke-dasharray="1 18 2 1"/><path d="M106 98.5h25" stroke-dasharray="1 17 1 5 1 1"/><path d="M107 99.5h17" stroke-dasharray="2 7 1 6 1 1"/><path d="M108 100.5h17" stroke-dasharray="2 9 1 1 4 1"/><path d="M109 101.5h19" stroke-dasharray="2 6 1 2 2 3 1 1 1 1"/><path d="M110 102.5h14" stroke-dasharray="3 4 1 1 3 1 1 1"/><path d="M112 103.5h10" stroke-dasharray="6 2 2 1"/><path d="M126 104.5h2"/><path d="M70 105.5h1"/><path d="M121 106.5h10" stroke-dasharray="2 4 1 1 2 1"/><path d="M126 107.5h3" stroke-dasharray="1 1 1 1"/><path d="M112 108.5h1"/><path d="M120 111.5h1"/><path d="M32 121.5h1"/><path d="M34 128.5h1"/><path d="M115 140.5h1"/><path d="M78 143.5h1"/></g><g stroke="#7ad151"><path d="M163 1.5h1"/><path d="M155 2.5h11" stroke-dasharray="1 2 2 5 1 1"/><path d="M154 3.5h27" stroke-dasharray="1 11 1 1 1 4 1 2 2 2 1 1"/><path d="M175 4.5h3" stroke-dasharray="1 1 1 1"/><path d="M147 6.5h2"/><path d="M144 7.5h1"/><path d="M181 11.5h1"/><path d="M173 14.5h2"/><path d="M175 15.5h1"/><path d="M182 18.5h1"/><path d="M130 19.5h1"/><path d="M130 20.5h51" stroke-dasharray="1 49 1 1"/><path d="M131 21.5h32" stroke-dasharray="1 1 2 21 1 5 1 1"/><path d="M133 22.5h34" stroke-dasharray="1 13 1 8 1 9 1 1"/><path d="M138 23.5h1"/><path d="M129 24.5h26" stroke-dasharray="1 24 1 1"/><path d="M127 27.5h12" stroke-dasharray="1 10 1 1"/><path d="M145 31.5h1"/><path d="M121 32.5h17" stroke-dasharray="1 12 1 1 2 1"/><path d="M117 33.5h1"/><path d="M117 34.5h37" stroke-dasharray="1 3 1 24 1 6 1 1"/><path d="M146 35.5h20" stroke-dasharray="1 1 1 2 1 13 1 1"/><path d="M116 36.5h64" stroke-dasharray="1 30 1 31 1 1"/><path d="M146 37.5h44" stroke-dasharray="2 1 1 39 1 1"/><path d="M148 38.5h2"/><path d="M115 39.5h39" stroke-dasharray="1 3 1 24 2 1 1 2 1 2 1 1"/><path d="M141 40.5h11" stroke-dasharray="1 9 1 1"/><path d="M130 41.5h28" stroke-dasharray="1 26 1 1"/><path d="M125 42.5h28" stroke-dasharray="1 6 1 4 2 3 3 3 1 3 1 1"/><path d="M124 43.5h22" stroke-dasharray="1 13 1 6 1 1"/><path d="M136 44.5h15" stroke-dasharray="2 3 1 8 1 1"/><path d="M113 45.5h48" stroke-dasharray="1 18 4 14 2 1 1 6 1 1"/><path d="M131 46.5h25" stroke-dasharray="1 3 2 11 2 5 1 1"/><path d="M118 47.5h34" stroke-dasharray="1 11 1 1 2 2 1 1 1 3 1 6 3 1"/><path d="M89 48.5h67" stroke-dasharray="2 27 1 31 2 3 1 1"/><path d="M126 49.5h26" stroke-dasharray="1 9 1 9 1 1 1 2 1 1"/><path d="M134 50.5h25" stroke-dasharray="1 7 2 4 1 4 1 4 1 1"/><path d="M83 51.5h72" stroke-dasharray="1 33 1 1 1 14 2 3 1 7 1 2 1 1 1 1 1 1"/><path d="M149 52.5h1"/><path d="M116 53.5h4" stroke-dasharray="1 2 1 1"/><path d="M112 54.5h45" stroke-dasharray="1 2 1 4 1 10 1 24 1 1"/><path d="M47 55.5h68" stroke-dasharray="2 64 2 1"/><path d="M113 56.5h30" stroke-dasharray="1 24 1 1 3 1"/><path d="M112 57.5h42" stroke-dasharray="1 18 5 2 2 2 1 1 1 1 1 6 1 1"/><path d="M112 58.5h35" stroke-dasharray="1 1 1 13 5 12 2 1"/><path d="M46 59.5h103" stroke-dasharray="1 72 1 1 1 4 1 19 1 1 1 1"/><path d="M47 60.5h102" stroke-dasharray="1 65 2 10 2 19 1 1 1 1"/><path d="M51 61.5h97" stroke-dasharray="1 72 2 21 1 1"/><path d="M123 62.5h24" stroke-dasharray="2 21 1 1"/><path d="M123 63.5h1"/><path d="M121 64.5h30" stroke-dasharray="2 27 1 1"/><path d="M103 65.5h26" stroke-dasharray="2 16 1 6 1 1"/><path d="M103 66.5h21" stroke-dasharray="1 15 1 3 1 1"/><path d="M103 67.5h92" stroke-dasharray="1 8 5 1 1 3 1 71 1 1"/><path d="M103 68.5h91" stroke-dasharray="1 4 1 1 4 19 1 59 1 1"/><path d="M102 69.5h31" stroke-dasharray="1 5 5 2 2 1 1 13 1 1"/><path d="M100 70.5h96" stroke-dasharray="3 5 1 86 1 1"/><path d="M101 71.5h12" stroke-dasharray="4 1 2 3 2 1"/><path d="M101 72.5h17" stroke-dasharray="4 1 1 8 3 1"/><path d="M99 73.5h20" stroke-dasharray="3 2 3 10 2 1"/><path d="M99 74.5h47" stroke-dasharray="2 4 2 9 1 16 1 11 1 1"/><path d="M98 75.5h43" stroke-dasharray="2 6 1 8 1 13 1 9 2 1"/><path d="M56 76.5h82" stroke-dasharray="1 6 1 1 1 31 1 1 1 10 1 4 3 1 1 17 1 1"/><path d="M43 77.5h63" stroke-dasharray="1 1 2 13 2 3 3 28 1 3 1 4 1 1"/><path d="M40 78.5h73" stroke-dasharray="2 4 4 5 1 2 3 6 2 26 2 3 2 10 1 1"/><path d="M57 79.5h76" stroke-dasharray="2 9 2 31 1 30 1 1"/><path d="M37 80.5h81" stroke-dasharray="1 13 2 1 3 37 1 22 1 1"/><path d="M36 81.5h99" stroke-dasharray="1 15 2 1 1 14 1 23 1 16 1 3 1 12 1 5 1 1"/><path d="M21 82.5h112" stroke-dasharray="2 1 3 1 7 36 1 20 1 1 1 20 1 3 1 12 1 1"/><path d="M30 83.5h104" stroke-dasharray="4 37 2 18 2 23 1 16 1 1"/><path d="M72 84.5h54" stroke-dasharray="1 17 1 24 1 1 1 7 1 1"/><path d="M73 85.5h17" stroke-dasharray="1 15 1 1"/><path d="M73 86.5h19" stroke-dasharray="1 12 2 2 2 1"/><path d="M74 87.5h55" stroke-dasharray="1 10 1 5 2 35 1 1"/><path d="M75 88.5h107" stroke-dasharray="2 6 2 96 1 1"/><path d="M76 89.5h19" stroke-dasharray="2 3 2 10 2 1"/><path d="M77 90.5h51" stroke-dasharray="2 1 2 13 2 30 1 1"/><path d="M78 91.5h20" stroke-dasharray="3 15 2 1"/><path d="M72 92.5h55" stroke-dasharray="1 6 1 18 2 26 1 1"/><path d="M99 93.5h29" stroke-dasharray="3 23 1 1 1 1"/><path d="M61 94.5h42" stroke-dasharray="1 39 2 1"/><path d="M103 95.5h18" stroke-dasharray="1 16 1 1"/><path d="M103 96.5h28" stroke-dasharray="2 2 1 22 1 1"/><path d="M104 97.5h2"/><path d="M106 98.5h1"/><path d="M107 99.5h2"/><path d="M108 100.5h16" stroke-dasharray="2 11 1 1 1 1"/><path d="M109 101.5h13" stroke-dasharray="2 6 1 2 2 1"/><path d="M110 102.5h11" stroke-dasharray="3 4 1 1 2 1"/><path d="M112 103.5h10" stroke-dasharray="6 2 2 1"/><path d="M126 104.5h2"/><path d="M121 106.5h10" stroke-dasharray="1 8 1 1"/><path d="M128 107.5h1"/><path d="M120 111.5h1"/><path d="M32 121.5h1"/><path d="M34 128.5h1"/><path d="M115 140.5h1"/><path d="M78 143.5h1"/></g><g stroke="#c0dd40"><path d="M180 3.5h1"/><path d="M177 4.5h1"/><path d="M147 6.5h2"/><path d="M144 7.5h1"/><path d="M181 11.5h1"/><path d="M173 14.5h2"/><path d="M175 15.5h1"/><path d="M182 18.5h1"/><path d="M180 20.5h1"/><path d="M131 21.5h32" stroke-dasharray="1 24 1 5 1 1"/><path d="M166 22.5h1"/><path d="M154 24.5h1"/><path d="M121 32.5h14" stroke-dasharray="1 12 1 1"/><path d="M153 34.5h1"/><path d="M146 35.5h20" stroke-dasharray="1 18 1 1"/><path d="M179 36.5h1"/><path d="M149 37.5h41" stroke-dasharray="1 39 1 1"/><path d="M149 38.5h1"/><path d="M119 39.5h35" stroke-dasharray="1 24 1 2 1 2 1 2 1 1"/><path d="M141 40.5h1"/><path d="M130 41.5h28" stroke-dasharray="1 26 1 1"/><path d="M132 42.5h13" stroke-dasharray="1 4 2 3 3 1"/><path d="M124 43.5h22" stroke-dasharray="1 13 1 6 1 1"/><path d="M136 44.5h15" stroke-dasharray="2 3 1 8 1 1"/><path d="M132 45.5h29" stroke-dasharray="3 15 2 1 1 6 1 1"/><path d="M131 46.5h19" stroke-dasharray="1 17 1 1"/><path d="M118 47.5h34" stroke-dasharray="1 14 1 2 1 1 1 3 1 7 2 1"/><path d="M150 48.5h1"/><path d="M126 49.5h21" stroke-dasharray="1 9 1 9 1 1"/><path d="M134 50.5h25" stroke-dasharray="1 7 2 14 1 1"/><path d="M83 51.5h57" stroke-dasharray="1 50 2 3 1 1"/><path d="M149 52.5h1"/><path d="M112 54.5h45" stroke-dasharray="1 7 1 10 1 24 1 1"/><path d="M47 55.5h67" stroke-dasharray="1 65 1 1"/><path d="M113 56.5h30" stroke-dasharray="1 26 3 1"/><path d="M138 57.5h5" stroke-dasharray="2 2 1 1"/><path d="M114 58.5h33" stroke-dasharray="1 13 1 1 1 1 1 12 2 1"/><path d="M119 59.5h1"/><path d="M51 61.5h75" stroke-dasharray="1 72 2 1"/><path d="M123 62.5h1"/><path d="M121 64.5h2"/><path d="M103 65.5h19" stroke-dasharray="2 16 1 1"/><path d="M119 66.5h1"/><path d="M112 67.5h83" stroke-dasharray="1 1 2 2 1 75 1 1"/><path d="M110 68.5h84" stroke-dasharray="1 1 2 79 1 1"/><path d="M109 69.5h10" stroke-dasharray="1 2 1 5 1 1"/><path d="M101 70.5h95" stroke-dasharray="2 92 1 1"/><path d="M101 71.5h11" stroke-dasharray="2 1 1 1 2 3 1 1"/><path d="M101 72.5h17" stroke-dasharray="4 10 3 1"/><path d="M99 73.5h19" stroke-dasharray="2 3 1 1 1 10 1 1"/><path d="M100 74.5h46" stroke-dasharray="1 4 1 10 1 28 1 1"/><path d="M106 75.5h35" stroke-dasharray="1 8 1 24 1 1"/><path d="M63 76.5h75" stroke-dasharray="1 1 1 31 1 18 1 20 1 1"/><path d="M43 77.5h63" stroke-dasharray="1 1 2 20 1 37 1 1"/><path d="M40 78.5h61" stroke-dasharray="1 6 2 6 1 2 1 8 1 27 1 4 1 1"/><path d="M57 79.5h76" stroke-dasharray="1 11 1 31 1 30 1 1"/><path d="M37 80.5h20" stroke-dasharray="1 13 2 3 1 1"/><path d="M36 81.5h93" stroke-dasharray="1 15 1 17 1 23 1 33 1 1"/><path d="M22 82.5h111" stroke-dasharray="1 3 1 1 1 2 2 1 1 57 1 1 1 37 1 1"/><path d="M30 83.5h87" stroke-dasharray="2 39 1 44 1 1"/><path d="M72 84.5h44" stroke-dasharray="1 17 1 24 1 1"/><path d="M73 85.5h17" stroke-dasharray="1 15 1 1"/><path d="M73 86.5h19" stroke-dasharray="1 13 1 3 1 1"/><path d="M92 87.5h37" stroke-dasharray="1 35 1 1"/><path d="M76 88.5h106" stroke-dasharray="1 6 2 96 1 1"/><path d="M77 89.5h18" stroke-dasharray="1 3 2 10 2 1"/><path d="M77 90.5h20" stroke-dasharray="1 2 2 13 2 1"/><path d="M78 91.5h20" stroke-dasharray="1 17 2 1"/><path d="M79 92.5h21" stroke-dasharray="1 18 2 1"/><path d="M99 93.5h29" stroke-dasharray="2 26 1 1"/><path d="M61 94.5h42" stroke-dasharray="1 39 2 1"/><path d="M103 95.5h18" stroke-dasharray="1 16 1 1"/><path d="M103 96.5h2"/><path d="M105 97.5h1"/><path d="M106 98.5h1"/><path d="M107 99.5h2"/><path d="M108 100.5h16" stroke-dasharray="2 11 1 1 1 1"/><path d="M110 101.5h12" stroke-dasharray="1 9 2 1"/><path d="M110 102.5h10" stroke-dasharray="3 4 1 1 1 1"/><path d="M112 103.5h9" stroke-dasharray="3 2 1 2 1 1"/><path d="M130 106.5h1"/><path d="M115 140.5h1"/><path d="M78 143.5h1"/></g><g stroke="#fde725"><path d="M181 11.5h1"/><path d="M173 14.5h2"/><path d="M175 15.5h1"/><path d="M182 18.5h1"/><path d="M180 20.5h1"/><path d="M156 21.5h7" stroke-dasharray="1 5 1 1"/><path d="M166 22.5h1"/><path d="M154 24.5h1"/><path d="M121 32.5h1"/><path d="M153 34.5h1"/><path d="M165 35.5h1"/><path d="M179 36.5h1"/><path d="M149 37.5h41" stroke-dasharray="1 39 1 1"/><path d="M149 38.5h1"/><path d="M144 39.5h7" stroke-dasharray="1 2 1 2 1 1"/><path d="M141 40.5h1"/><path d="M130 41.5h28" stroke-dasharray="1 26 1 1"/><path d="M132 42.5h13" stroke-dasharray="1 4 2 3 3 1"/><path d="M124 43.5h22" stroke-dasharray="1 13 1 6 1 1"/><path d="M136 44.5h15" stroke-dasharray="2 3 1 8 1 1"/><path d="M132 45.5h29" stroke-dasharray="3 15 2 8 1 1"/><path d="M133 47.5h10" stroke-dasharray="1 2 1 1 1 3 1 1"/><path d="M126 49.5h21" stroke-dasharray="1 9 1 9 1 1"/><path d="M134 50.5h10" stroke-dasharray="1 7 2 1"/><path d="M83 51.5h57" stroke-dasharray="1 50 2 3 1 1"/><path d="M149 52.5h1"/><path d="M112 54.5h45" stroke-dasharray="1 18 1 24 1 1"/><path d="M113 55.5h1"/><path d="M140 56.5h3" stroke-dasharray="1 1 1 1"/><path d="M138 57.5h2"/><path d="M114 58.5h17" stroke-dasharray="1 15 1 1"/><path d="M51 61.5h1"/><path d="M121 65.5h1"/><path d="M114 67.5h81" stroke-dasharray="1 79 1 1"/><path d="M193 68.5h1"/><path d="M195 70.5h1"/><path d="M104 72.5h1"/><path d="M99 73.5h2"/><path d="M116 74.5h30" stroke-dasharray="1 28 1 1"/><path d="M115 75.5h1"/><path d="M65 76.5h1"/><path d="M101 79.5h1"/><path d="M34 82.5h61" stroke-dasharray="1 59 1 1"/><path d="M31 83.5h41" stroke-dasharray="1 39 1 1"/><path d="M73 85.5h17" stroke-dasharray="1 15 1 1"/><path d="M73 86.5h1"/><path d="M181 88.5h1"/><path d="M97 91.5h1"/><path d="M127 93.5h1"/><path d="M121 100.5h1"/><path d="M115 140.5h1"/><path d="M78 143.5h1"/></g></g><use href="#grid"/><path d="M-11.46 28.4H0M-11.46 129.6H0M-11.46 230.8H0M-11.46 332H0M-11.46 433.2H0M-11.46 534.4H0M-11.46 635.6H0" stroke="#333" stroke-width="4.45" fill="none"/><text x="-20.6" y="41.6" font-size="36.67" fill="#4d4d4d" text-anchor="end">22°S</text><text x="-20.6" y="142.8" font-size="36.67" fill="#4d4d4d" text-anchor="end">24°S</text><text x="-20.6" y="244" font-size="36.67" fill="#4d4d4d" text-anchor="end">26°S</text><text x="-20.6" y="345.2" font-size="36.67" fill="#4d4d4d" text-anchor="end">28°S</text><text x="-20.6" y="446.4" font-size="36.67" fill="#4d4d4d" text-anchor="end">30°S</text><text x="-20.6" y="547.6" font-size="36.67" fill="#4d4d4d" text-anchor="end">32°S</text><text x="-20.6" y="648.8" font-size="36.67" fill="#4d4d4d" text-anchor="end">34°S</text></g><g transform="translate(961.2,270)"><rect width="807.3" height="68.6" fill="#d9d9d9"/><text x="403.65" y="46.2" font-size="36.67" fill="#1a1a1a" text-anchor="middle">lb</text></g><g transform="translate(961.2,338.6)"><rect width="807.3" height="710.2" fill="#ebebeb"/><path d="M0 28.4H807.3M0 129.6H807.3M0 230.8H807.3M0 332H807.3M0 433.2H807.3M0 534.4H807.3M0 635.6H807.3M195.8 0V710.2M418.3 0V710.2M640.8 0V710.2" stroke="#fff" stroke-width="4.45" fill="none"/><g transform="translate(25.22,28.4) scale(3.7083,4.2167)" fill="none" stroke-width="1.04"><g stroke="#440154"><path d="M160 1.5h4"/><path d="M154 2.5h13"/><path d="M153 3.5h28" stroke-dasharray="17 1 10 1"/><path d="M152 4.5h30"/><path d="M149 5.5h34"/><path d="M145 6.5h38"/><path d="M144 7.5h40"/><path d="M143 8.5h41"/><path d="M142 9.5h42"/><path d="M141 10.5h44"/><path d="M141 11.5h44"/><path d="M140 12.5h45"/><path d="M138 13.5h47"/><path d="M137 14.5h48"/><path d="M135 15.5h50"/><path d="M133 16.5h52"/><path d="M132 17.5h53"/><path d="M131 18.5h55"/><path d="M130 19.5h56"/><path d="M129 20.5h58"/><path d="M129 21.5h58"/><path d="M129 22.5h59"/><path d="M129 23.5h60"/><path d="M129 24.5h60"/><path d="M128 25.5h62"/><path d="M128 26.5h62"/><path d="M127 27.5h64"/><path d="M126 28.5h65"/><path d="M124 29.5h67"/><path d="M124 30.5h67"/><path d="M121 31.5h70"/><path d="M119 32.5h72"/><path d="M46 33.5h145" stroke-dasharray="2 69 74 1"/><path d="M46 34.5h145" stroke-dasharray="3 68 74 1"/><path d="M46 35.5h145" stroke-dasharray="4 66 75 1"/><path d="M46 36.5h145" stroke-dasharray="5 65 75 1"/><path d="M46 37.5h145" stroke-dasharray="6 63 76 1"/><path d="M46 38.5h145" stroke-dasharray="6 63 76 1"/><path d="M46 39.5h145" stroke-dasharray="7 29 7 25 77 1"/><path d="M46 40.5h145" stroke-dasharray="8 27 9 24 77 1"/><path d="M46 41.5h145" stroke-dasharray="9 25 12 22 77 1"/><path d="M46 42.5h145" stroke-dasharray="9 24 14 20 78 1"/><path d="M46 43.5h145" stroke-dasharray="9 24 18 16 78 1"/><path d="M46 44.5h145" stroke-dasharray="9 24 21 6 2 2 81 1"/><path d="M46 45.5h144" stroke-dasharray="10 22 105 2 5 1"/><path d="M46 46.5h144" stroke-dasharray="10 22 103 4 5 1"/><path d="M46 47.5h144" stroke-dasharray="11 21 103 7 2 1"/><path d="M46 48.5h134" stroke-dasharray="11 21 102 1"/><path d="M46 49.5h133" stroke-dasharray="11 19 103 1"/><path d="M46 50.5h133" stroke-dasharray="11 17 105 1"/><path d="M46 51.5h132" stroke-dasharray="10 18 104 1"/><path d="M46 52.5h132" stroke-dasharray="9 17 106 1"/><path d="M46 53.5h131" stroke-dasharray="8 17 106 1"/><path d="M46 54.5h130" stroke-dasharray="8 16 106 1"/><path d="M46 55.5h130" stroke-dasharray="8 15 107 1"/><path d="M46 56.5h130" stroke-dasharray="8 13 109 1"/><path d="M46 57.5h146" stroke-dasharray="8 1 3 4 2 2 111 14 1 1"/><path d="M46 58.5h155" stroke-dasharray="131 13 11 1"/><path d="M46 59.5h155" stroke-dasharray="132 12 11 1"/><path d="M46 60.5h155" stroke-dasharray="132 12 11 1"/><path d="M46 61.5h155" stroke-dasharray="133 11 11 1"/><path d="M46 62.5h154" stroke-dasharray="134 10 10 1"/><path d="M46 63.5h154" stroke-dasharray="142 2 10 1"/><path d="M46 64.5h153"/><path d="M45 65.5h154"/><path d="M45 66.5h154"/><path d="M45 67.5h153"/><path d="M45 68.5h153"/><path d="M45 69.5h153"/><path d="M45 70.5h153"/><path d="M45 71.5h153"/><path d="M8 72.5h189" stroke-dasharray="4 33 152 1"/><path d="M8 73.5h189" stroke-dasharray="5 32 152 1"/><path d="M7 74.5h190" stroke-dasharray="8 30 152 1"/><path d="M7 75.5h189" stroke-dasharray="8 30 151 1"/><path d="M7 76.5h189" stroke-dasharray="8 30 151 1"/><path d="M5 77.5h191" stroke-dasharray="10 27 154 1"/><path d="M3 78.5h192" stroke-dasharray="13 24 155 1"/><path d="M3 79.5h192" stroke-dasharray="13 23 110 1 45 1"/><path d="M4 80.5h190" stroke-dasharray="15 18 110 3 44 1"/><path d="M4 81.5h188" stroke-dasharray="19 13 108 7 2 1 38 1"/><path d="M5 82.5h186" stroke-dasharray="30 1 107 12 36 1"/><path d="M6 83.5h183" stroke-dasharray="28 2 104 16 33 1"/><path d="M6 84.5h182" stroke-dasharray="132 20 30 1"/><path d="M7 85.5h179" stroke-dasharray="131 21 27 1"/><path d="M8 86.5h178" stroke-dasharray="130 22 26 1"/><path d="M8 87.5h176" stroke-dasharray="129 23 24 1"/><path d="M9 88.5h174" stroke-dasharray="127 24 23 1"/><path d="M9 89.5h173" stroke-dasharray="126 24 23 1"/><path d="M9 90.5h173" stroke-dasharray="125 24 24 1"/><path d="M10 91.5h171" stroke-dasharray="121 27 23 1"/><path d="M10 92.5h170" stroke-dasharray="122 25 23 1"/><path d="M10 93.5h170" stroke-dasharray="122 24 24 1"/><path d="M11 94.5h168" stroke-dasharray="121 25 22 1"/><path d="M11 95.5h168" stroke-dasharray="122 23 23 1"/><path d="M11 96.5h167" stroke-dasharray="123 21 23 1"/><path d="M12 97.5h166" stroke-dasharray="122 19 25 1"/><path d="M12 98.5h165" stroke-dasharray="123 12 30 1"/><path d="M12 99.5h164" stroke-dasharray="123 11 30 1"/><path d="M13 100.5h163" stroke-dasharray="122 11 30 1"/><path d="M13 101.5h162" stroke-dasharray="123 10 29 1"/><path d="M14 102.5h160" stroke-dasharray="123 8 29 1"/><path d="M14 103.5h160" stroke-dasharray="124 6 30 1"/><path d="M15 104.5h158"/><path d="M16 105.5h156"/><path d="M16 106.5h155"/><path d="M17 107.5h153"/><path d="M18 108.5h152"/><path d="M18 109.5h151"/><path d="M19 110.5h149"/><path d="M20 111.5h147"/><path d="M20 112.5h146"/><path d="M21 113.5h144"/><path d="M22 114.5h141"/><path d="M23 115.5h139"/><path d="M24 116.5h137"/><path d="M24 117.5h135"/><path d="M25 118.5h133"/><path d="M25 119.5h132"/><path d="M25 120.5h131"/><path d="M25 121.5h130"/><path d="M25 122.5h129"/><path d="M25 123.5h128"/><path d="M25 124.5h127"/><path d="M26 125.5h125"/><path d="M25 126.5h125"/><path d="M25 127.5h123"/><path d="M20 128.5h127" stroke-dasharray="3 1 123 1"/><path d="M20 129.5h126"/><path d="M20 130.5h125"/><path d="M20 131.5h124"/><path d="M20 132.5h123"/><path d="M21 133.5h120"/><path d="M22 134.5h117"/><path d="M23 135.5h115"/><path d="M23 136.5h113"/><path d="M25 137.5h110"/><path d="M25 138.5h108"/><path d="M26 139.5h104"/><path d="M27 140.5h101"/><path d="M26 141.5h99" stroke-dasharray="90 5 4 1"/><path d="M26 142.5h88"/><path d="M26 143.5h89"/><path d="M25 144.5h90" stroke-dasharray="63 3 15 4 5 1"/><path d="M25 145.5h80" stroke-dasharray="4 2 41 9 1 2 3 10 8 1"/><path d="M26 146.5h79" stroke-dasharray="2 3 41 28 5 1"/><path d="M26 147.5h44" stroke-dasharray="2 3 39 1"/><path d="M27 148.5h42" stroke-dasharray="1 3 38 1"/><path d="M35 149.5h28" stroke-dasharray="22 3 3 1"/><path d="M38 150.5h14"/><path d="M37 151.5h14"/><path d="M40 152.5h9"/><path d="M41 153.5h6"/></g><g stroke="#46286d"><path d="M160 1.5h4"/><path d="M154 2.5h13" stroke-dasharray="6 1 6 1"/><path d="M153 3.5h28" stroke-dasharray="2 6 9 1 10 1"/><path d="M162 4.5h20"/><path d="M149 5.5h34" stroke-dasharray="1 1 1 9 22 1"/><path d="M145 6.5h37" stroke-dasharray="6 1 1 3 1 2 1 2 10 2 8 1"/><path d="M144 7.5h37" stroke-dasharray="7 2 1 2 2 4 9 1 9 1"/><path d="M143 8.5h41" stroke-dasharray="3 2 1 6 1 1 1 2 2 1 9 1 8 1 2 1"/><path d="M142 9.5h42" stroke-dasharray="1 4 3 5 5 3 2 1 8 1 5 2 2 1"/><path d="M142 10.5h43" stroke-dasharray="2 3 1 4 8 1 1 1 8 1 4 1 1 1 2 1 1 1 1 1"/><path d="M146 11.5h39" stroke-dasharray="1 3 10 1 5 1 4 2 1 1 1 1 8 1"/><path d="M140 12.5h45" stroke-dasharray="2 2 3 1 10 1 2 1 1 4 1 2 4 1 1 2 7 1"/><path d="M138 13.5h47" stroke-dasharray="6 5 1 2 6 6 1 4 3 1 3 2 7 1"/><path d="M137 14.5h48" stroke-dasharray="9 1 1 5 1 1 2 2 2 5 10 1 8 1"/><path d="M135 15.5h50" stroke-dasharray="12 5 2 1 1 4 2 4 1 1 5 1 11 1"/><path d="M133 16.5h52" stroke-dasharray="4 2 6 1 2 3 1 2 2 2 1 1 1 3 2 1 3 1 5 1 1 1 6 1"/><path d="M132 17.5h53" stroke-dasharray="6 1 3 2 2 7 1 1 5 1 1 5 2 2 1 1 2 1 2 1 4 1 1 1"/><path d="M131 18.5h55" stroke-dasharray="16 2 8 1 1 8 2 1 4 2 2 1 7 1"/><path d="M130 19.5h56" stroke-dasharray="16 1 2 2 10 1 1 3 1 1 1 1 3 2 1 1 4 1 2 1 1 1"/><path d="M129 20.5h56" stroke-dasharray="7 1 7 4 1 2 11 2 1 4 1 2 1 3 5 1 3 1"/><path d="M129 21.5h55" stroke-dasharray="16 1 1 1 3 1 12 7 1 5 5 1 1 1"/><path d="M129 22.5h59" stroke-dasharray="15 2 15 1 2 2 1 3 2 2 2 1 3 1 4 2 1 1"/><path d="M129 23.5h60" stroke-dasharray="13 2 2 1 16 4 1 3 1 3 6 5 3 1"/><path d="M129 24.5h60" stroke-dasharray="2 1 11 1 3 1 14 10 1 2 1 1 2 8 2 1"/><path d="M128 25.5h62" stroke-dasharray="3 1 32 7 2 2 1 1 2 8 1 1 1 1"/><path d="M128 26.5h62" stroke-dasharray="8 1 13 1 9 2 1 4 1 10 1 2 1 6 2 1"/><path d="M127 27.5h64" stroke-dasharray="21 1 4 1 1 1 2 2 5 2 1 11 1 8 3 1"/><path d="M126 28.5h65" stroke-dasharray="5 1 8 1 7 1 8 1 6 1 1 4 1 18 2 1"/><path d="M124 29.5h56" stroke-dasharray="2 1 3 1 10 1 23 1 1 8 1 1 1 1 1 1"/><path d="M124 30.5h67" stroke-dasharray="6 1 1 1 9 1 14 1 8 12 1 11 1 1"/><path d="M121 31.5h45" stroke-dasharray="3 1 3 1 1 2 34 1"/><path d="M119 32.5h58" stroke-dasharray="5 1 1 2 1 3 23 1 12 6 1 1 1 1"/><path d="M117 33.5h62" stroke-dasharray="11 2 1 1 1 1 33 9 3 1"/><path d="M117 34.5h62" stroke-dasharray="7 1 2 4 2 1 4 1 4 1 7 1 2 1 11 1 1 4 1 1 5 1"/><path d="M116 35.5h63" stroke-dasharray="11 2 9 2 26 1 1 3 1 2 5 1"/><path d="M116 36.5h65" stroke-dasharray="11 1 5 1 2 1 1 1 2 1 1 1 22 1 3 1 10 1"/><path d="M115 37.5h75" stroke-dasharray="2 1 4 1 5 1 2 2 2 1 1 1 4 2 17 2 4 1 2 2 9 1 1 6 1 1"/><path d="M115 38.5h69" stroke-dasharray="13 1 4 3 5 1 25 1 1 1 6 1 7 1"/><path d="M114 39.5h71" stroke-dasharray="9 1 1 1 7 1 31 1 1 1 17 1"/><path d="M114 40.5h73" stroke-dasharray="4 1 3 1 1 1 7 1 1 1 5 1 19 1 22 1 1 1 1 1"/><path d="M114 41.5h68" stroke-dasharray="3 4 2 2 6 2 4 1 17 1 3 2 7 1 13 1"/><path d="M113 42.5h70" stroke-dasharray="5 5 1 1 4 1 23 1 7 2 2 2 7 1 8 1"/><path d="M113 43.5h78" stroke-dasharray="4 1 2 4 2 1 2 1 22 1 6 1 4 1 1 1 3 1 1 2 10 1 1 3 2 1"/><path d="M98 44.5h91" stroke-dasharray="1 7 2 2 1 1 7 1 6 1 34 1 2 4 2 3 13 1 2 1"/><path d="M105 45.5h85" stroke-dasharray="2 1 9 1 4 1 1 2 2 1 2 1 27 1 1 1 2 4 1 2 12 3 2 1 1 1"/><path d="M89 46.5h101" stroke-dasharray="1 7 1 3 2 2 1 1 14 3 1 1 38 4 2 5 4 1 1 4 5 1"/><path d="M87 47.5h103" stroke-dasharray="3 16 2 2 2 1 7 3 1 1 1 1 31 1 4 1 2 8 7 8 1 1"/><path d="M87 48.5h93" stroke-dasharray="5 9 1 3 1 1 2 1 1 2 1 1 1 1 4 1 1 1 2 1 1 1 10 3 17 1 6 1 1 6 3 1 2 1"/><path d="M87 49.5h92" stroke-dasharray="4 12 2 3 2 3 2 1 6 4 2 1 10 1 25 1 1 8 4 1"/><path d="M96 50.5h83" stroke-dasharray="1 1 3 4 1 2 2 1 3 1 5 1 4 2 1 2 31 5 1 2 1 6 3 1"/><path d="M83 51.5h94" stroke-dasharray="1 9 1 5 1 1 1 1 2 1 3 4 9 1 4 1 1 1 6 2 18 1 2 1 1 1 1 2 1 3 2 5 1 1"/><path d="M96 52.5h82" stroke-dasharray="2 2 4 1 2 4 11 2 4 9 17 1 4 2 1 5 2 1 1 2 2 2 1 1"/><path d="M46 53.5h131" stroke-dasharray="1 47 3 1 1 1 5 1 2 3 17 1 1 6 1 1 7 1 8 5 2 1 2 1 1 3 3 1 1 1 2 1"/><path d="M46 54.5h130" stroke-dasharray="4 44 5 1 8 1 15 2 1 2 1 1 3 2 2 1 3 1 14 1 1 2 4 1 10 1"/><path d="M46 55.5h130" stroke-dasharray="4 44 1 1 4 2 5 1 1 1 15 1 3 4 1 1 1 1 1 1 1 1 5 1 7 2 3 1 1 1 1 1 2 1 2 2 5 1"/><path d="M46 56.5h130" stroke-dasharray="5 41 2 1 1 1 5 1 9 1 12 3 1 2 2 3 19 2 2 2 8 1 6 1"/><path d="M46 57.5h131" stroke-dasharray="5 42 2 1 1 1 1 2 4 1 1 1 2 1 6 1 7 3 1 1 19 1 5 1 5 1 13 1 1 1"/><path d="M46 58.5h152" stroke-dasharray="2 1 2 39 1 1 1 2 2 2 3 1 7 1 14 1 1 1 8 2 18 1 3 1 8 2 2 2 2 16 1 3 1 1"/><path d="M46 59.5h152" stroke-dasharray="4 44 3 2 1 1 3 1 2 1 2 1 22 4 3 1 11 3 2 1 11 2 1 1 1 1 3 17 3 1"/><path d="M47 60.5h150" stroke-dasharray="4 39 1 3 4 2 1 2 3 1 10 1 3 1 2 1 4 1 1 1 2 5 20 1 3 1 3 2 2 1 4 1 1 16 3 1"/><path d="M47 61.5h130" stroke-dasharray="3 1 1 35 1 6 2 1 1 2 1 1 7 1 1 1 9 2 9 4 23 2 13 1 2 1"/><path d="M46 62.5h130" stroke-dasharray="2 38 1 1 2 2 1 1 1 1 7 2 2 1 1 2 2 1 6 1 5 1 2 2 2 1 3 1 14 2 4 3 12 1 2 1"/><path d="M47 63.5h151" stroke-dasharray="1 6 1 31 1 2 7 1 1 1 1 1 1 4 1 2 3 1 5 4 4 1 1 6 10 1 8 4 1 2 2 2 10 7 1 14 2 1"/><path d="M46 64.5h152" stroke-dasharray="2 6 1 34 7 12 3 1 3 1 3 1 3 1 9 2 7 3 4 1 3 2 2 2 3 2 1 1 1 1 3 19 1 1 1 3 2 1"/><path d="M46 65.5h149" stroke-dasharray="1 3 1 34 1 5 1 1 1 1 4 1 1 1 9 2 5 2 4 1 10 1 6 1 1 1 5 1 1 2 2 2 1 1 2 3 4 1 2 2 1 16 1 1 2 1"/><path d="M45 66.5h149" stroke-dasharray="7 34 5 1 33 1 3 1 1 1 6 1 4 2 5 1 1 2 1 7 1 2 6 2 1 1 1 13 1 1 3 1"/><path d="M48 67.5h147" stroke-dasharray="1 1 1 1 3 31 6 1 3 1 1 1 9 1 11 1 9 1 14 1 1 2 1 12 3 1 4 1 1 2 2 8 2 2 1 5 1 1"/><path d="M45 68.5h149" stroke-dasharray="1 1 5 2 1 29 2 2 2 1 6 2 23 2 5 1 11 1 3 2 1 2 2 8 1 2 2 2 5 19 1 1 1 1"/><path d="M45 69.5h150" stroke-dasharray="3 1 1 5 1 31 2 1 3 1 3 2 30 1 1 1 12 1 1 1 1 2 1 1 1 8 2 1 6 4 1 12 2 1 1 1 3 1"/><path d="M46 70.5h150" stroke-dasharray="6 3 1 31 2 1 1 1 14 1 14 2 2 1 4 1 8 3 4 1 4 6 5 3 4 1 1 2 1 8 1 2 1 1 1 3 1 1 1 1 1 1"/><path d="M46 71.5h150" stroke-dasharray="3 3 1 34 1 1 1 1 1 1 4 1 7 1 16 1 8 1 10 1 1 1 3 1 1 1 1 8 6 1 1 1 1 1 1 2 2 1 1 1 1 12 1 2 1 1"/><path d="M45 72.5h140" stroke-dasharray="1 2 1 1 1 1 1 2 1 30 1 1 5 2 1 1 25 1 20 1 1 1 2 7 1 2 1 1 1 2 1 2 8 1 1 5 1 2 1 1"/><path d="M46 73.5h145" stroke-dasharray="3 2 1 3 1 2 1 27 1 1 3 1 3 1 23 1 4 1 20 1 2 1 1 1 1 7 2 2 4 2 3 5 1 3 1 5 4 1"/><path d="M46 74.5h150" stroke-dasharray="4 1 2 1 4 3 1 22 1 1 1 1 2 3 1 3 1 1 9 1 13 1 5 1 10 1 2 1 1 1 1 1 2 2 2 3 2 1 1 1 7 1 4 7 1 1 1 6 1 4 2 1"/><path d="M46 75.5h150" stroke-dasharray="3 1 1 1 7 1 1 29 1 1 2 1 5 1 33 1 9 2 4 1 3 1 2 1 1 2 9 2 1 5 1 8 1 1 1 2 1 1 2 1"/><path d="M46 76.5h148" stroke-dasharray="15 1 4 24 4 1 6 2 18 1 11 1 5 1 1 6 1 1 1 1 4 5 2 1 2 1 2 1 1 1 1 1 1 2 1 1 1 6 1 2 2 3 1 1"/><path d="M42 77.5h148" stroke-dasharray="14 1 6 2 3 22 1 2 1 1 6 1 18 1 9 1 1 1 2 1 3 3 1 5 3 3 4 2 1 1 8 5 1 2 2 1 2 1 2 3 1 1"/><path d="M40 78.5h155" stroke-dasharray="3 2 7 1 4 1 4 5 2 18 2 4 4 3 9 1 11 1 16 1 1 2 2 1 2 2 7 1 1 1 2 3 5 5 3 5 4 4 1 1 1 1 1 1"/><path d="M39 79.5h156" stroke-dasharray="1 4 1 1 1 1 12 1 1 6 2 15 1 2 1 5 6 1 24 2 9 1 1 3 4 1 1 1 1 1 3 4 10 3 1 2 2 1 1 2 1 1 6 4 1 2 1 1"/><path d="M37 80.5h155" stroke-dasharray="1 8 18 5 1 15 1 2 1 1 1 3 1 2 6 1 4 1 1 1 10 1 1 1 3 1 10 1 1 1 1 1 3 5 1 3 17 5 1 6 3 3 2 1"/><path d="M36 81.5h155" stroke-dasharray="1 10 9 1 6 5 1 1 1 20 1 2 1 3 3 1 2 1 2 2 1 1 1 1 7 1 14 2 2 1 3 9 1 5 2 1 1 1 3 4 1 11 5 1 3 1"/><path d="M20 82.5h171" stroke-dasharray="15 13 4 1 9 2 1 5 2 16 1 1 7 3 4 1 2 1 15 2 11 1 1 1 2 15 4 2 3 11 1 3 1 3 7 1"/><path d="M29 83.5h158" stroke-dasharray="5 17 4 2 2 3 1 1 1 6 2 15 5 1 2 2 1 1 7 1 1 1 27 1 2 18 1 1 1 1 4 15 1 2 3 1"/><path d="M57 84.5h131" stroke-dasharray="1 14 1 14 5 2 1 4 35 1 1 1 1 21 4 3 2 7 1 11 1 1"/><path d="M53 85.5h130" stroke-dasharray="3 3 1 2 1 5 1 3 2 12 6 1 1 3 3 1 4 1 14 2 7 1 4 1 3 23 1 2 3 1 1 2 1 10 1 1"/><path d="M58 86.5h128" stroke-dasharray="2 7 2 4 2 11 8 1 9 1 2 1 2 2 2 2 3 1 2 2 7 3 1 26 1 3 2 10 2 6 1 1"/><path d="M60 87.5h121" stroke-dasharray="1 1 3 1 1 1 1 5 2 8 2 1 9 2 1 1 1 2 2 2 1 1 6 2 1 1 3 2 1 2 4 1 4 32 1 4 1 1 1 1 1 2 1 1"/><path d="M52 88.5h130" stroke-dasharray="2 5 1 5 1 2 1 6 2 5 3 2 11 1 5 1 1 1 1 2 1 1 4 1 4 2 2 1 5 4 1 24 1 5 2 8 1 1 1 1 2 1"/><path d="M53 89.5h125" stroke-dasharray="3 2 1 1 1 3 1 3 3 4 3 3 5 1 11 1 2 3 6 2 4 1 3 3 2 2 3 1 1 27 1 7 1 8 2 1"/><path d="M53 90.5h125" stroke-dasharray="2 4 1 4 1 3 4 1 2 1 3 1 4 2 3 1 1 2 4 2 5 2 2 5 1 1 2 1 2 1 3 1 6 31 1 14 1 1"/><path d="M52 91.5h127" stroke-dasharray="3 1 2 1 2 1 1 2 1 1 2 1 7 1 3 1 1 1 5 2 1 1 9 1 5 1 1 1 3 1 1 1 1 5 1 1 6 35 1 4 2 5 1 1"/><path d="M49 92.5h127" stroke-dasharray="1 4 1 4 1 11 3 1 3 1 1 2 3 1 1 1 3 1 1 2 9 5 1 1 1 2 3 5 9 35 1 8 1 1"/><path d="M51 93.5h125" stroke-dasharray="1 2 2 1 3 1 3 1 6 1 1 1 3 2 2 3 3 1 1 1 3 1 4 1 6 2 1 2 2 1 2 1 3 2 2 1 6 26 1 4 1 6 3 1 4 1"/><path d="M51 94.5h126" stroke-dasharray="1 2 2 3 10 2 1 2 4 1 1 1 2 1 2 2 1 5 3 2 10 2 2 1 2 1 12 46 2 1"/><path d="M52 95.5h81" stroke-dasharray="1 1 7 1 4 1 4 6 1 2 5 4 1 4 6 1 20 1 1 1 3 1 5 1"/><path d="M50 96.5h126" stroke-dasharray="3 1 3 4 5 1 4 7 2 1 6 2 3 2 1 1 1 1 2 3 10 2 19 22 1 14 3 1 1 1"/><path d="M50 97.5h126" stroke-dasharray="1 7 1 3 4 1 4 6 2 1 7 2 3 3 1 1 3 3 9 1 1 1 2 2 6 1 1 1 6 37 1 3 1 1"/><path d="M44 98.5h123" stroke-dasharray="2 5 2 7 1 1 1 3 4 1 2 1 1 2 1 1 2 1 5 1 3 3 2 7 1 2 5 1 1 2 4 1 1 3 2 1 4 1 3 23 1 6 2 1"/><path d="M58 99.5h112" stroke-dasharray="1 7 3 4 1 3 3 1 4 1 1 1 3 13 5 1 1 1 1 1 4 1 1 1 5 1 1 1 4 1 1 34 1 1"/><path d="M51 100.5h82" stroke-dasharray="1 4 4 2 3 1 3 1 3 1 3 1 1 3 1 6 1 12 1 1 1 1 4 1 1 1 18 1 1 1"/><path d="M50 101.5h124" stroke-dasharray="1 4 1 2 3 1 1 1 7 1 1 1 3 3 6 19 1 2 3 3 20 1 1 17 1 19 1 1"/><path d="M57 102.5h113" stroke-dasharray="1 1 6 1 3 2 1 1 1 1 1 3 2 1 2 1 1 2 1 10 2 1 1 1 1 2 2 1 14 1 2 1 8 26 1 6 1 1"/><path d="M58 103.5h77" stroke-dasharray="4 1 4 1 1 2 2 2 5 2 1 5 1 1 1 3 1 2 1 3 3 3 3 1 19 1 1 2 1 1"/><path d="M46 104.5h89" stroke-dasharray="1 8 1 1 5 1 1 3 1 2 1 3 1 1 1 1 2 1 2 15 1 1 2 1 1 1 1 1 4 2 2 1 3 2 1 2 1 1 9 1"/><path d="M46 105.5h104" stroke-dasharray="1 11 5 3 1 3 2 4 2 5 1 6 1 3 2 3 3 5 1 1 1 2 1 1 1 1 9 1 1 1 5 1 1 11 1 2 1 1"/><path d="M47 106.5h112" stroke-dasharray="1 4 1 4 2 1 2 1 1 8 1 5 1 1 5 1 1 8 1 2 4 5 1 3 1 2 1 1 4 1 2 1 9 1 1 23 1 1"/><path d="M48 107.5h120" stroke-dasharray="1 2 1 2 1 1 1 2 1 2 2 2 1 3 1 5 1 1 1 1 1 1 3 2 1 6 2 1 4 10 1 1 1 1 1 1 14 1 3 32 1 1"/><path d="M49 108.5h86" stroke-dasharray="2 4 2 1 2 1 1 1 1 1 3 2 1 3 2 1 4 1 2 4 1 1 1 1 1 1 3 2 2 5 4 1 4 3 1 2 1 1 12 1"/><path d="M44 109.5h91" stroke-dasharray="1 4 1 4 3 2 3 3 2 4 3 1 1 4 3 11 2 2 4 1 1 1 1 4 1 1 5 2 9 1 2 1 1 1 1 1"/><path d="M48 110.5h88" stroke-dasharray="1 3 1 2 2 2 1 1 1 2 1 2 1 5 1 19 1 7 1 1 3 6 1 3 1 1 1 1 2 1 2 1 3 6 1 1"/><path d="M49 111.5h83" stroke-dasharray="1 3 1 1 3 1 2 12 2 3 1 11 1 6 1 5 2 5 4 4 1 1 5 2 3 1 1 1"/><path d="M57 112.5h77" stroke-dasharray="3 13 2 2 1 8 1 3 4 9 1 4 4 1 1 1 1 1 1 1 4 4 3 3 1 1"/><path d="M57 113.5h78" stroke-dasharray="6 2 1 7 1 4 1 2 1 4 1 1 2 10 2 6 1 4 2 14 2 2 2 1"/><path d="M50 114.5h85" stroke-dasharray="1 3 1 5 1 2 2 1 1 14 4 3 4 7 1 3 1 5 1 8 1 2 1 5 3 2 3 1"/><path d="M50 115.5h84" stroke-dasharray="1 5 2 1 2 2 3 2 1 12 2 1 2 2 2 6 1 3 1 5 4 6 2 1 3 1 1 2 2 1 2 1 2 1"/><path d="M46 116.5h89" stroke-dasharray="1 1 1 7 1 2 2 1 3 11 1 2 1 2 3 1 1 1 1 7 3 2 5 2 1 8 2 1 2 2 3 1 3 3 1 1"/><path d="M51 117.5h85" stroke-dasharray="1 1 1 2 1 19 1 4 1 2 1 1 1 3 1 6 4 2 1 7 2 1 7 2 2 2 3 5 1 1"/><path d="M54 118.5h79" stroke-dasharray="1 1 4 4 1 1 1 4 1 6 1 2 1 10 1 2 1 5 2 2 2 4 2 2 1 1 4 3 2 1 1 1 1 2 1 1"/><path d="M54 119.5h87" stroke-dasharray="3 8 3 9 1 19 2 3 1 1 1 1 1 1 6 1 4 1 1 2 1 3 3 3 1 6 1 1"/><path d="M56 120.5h78" stroke-dasharray="1 1 1 5 1 3 1 2 1 4 3 6 1 1 1 3 1 1 1 1 1 2 1 2 2 1 1 2 1 2 1 1 4 5 1 5 1 3 3 1"/><path d="M31 121.5h111" stroke-dasharray="2 18 1 14 1 1 1 3 1 3 1 1 1 1 1 1 1 2 1 1 3 2 1 2 1 2 1 1 1 1 3 5 5 2 1 1 1 1 2 4 1 13 1 1"/><path d="M32 122.5h111" stroke-dasharray="1 11 1 29 1 4 1 1 1 4 2 1 2 3 2 2 8 2 1 1 1 2 3 4 2 2 1 1 1 1 1 5 1 7 1 1"/><path d="M59 123.5h79" stroke-dasharray="2 12 1 1 1 4 2 2 1 1 5 3 1 2 1 1 1 1 5 1 1 2 1 1 1 1 1 3 1 1 1 2 1 13 1 1"/><path d="M32 124.5h99" stroke-dasharray="2 37 2 1 2 6 2 21 2 5 1 1 1 11 5 1"/><path d="M33 125.5h97" stroke-dasharray="1 10 1 5 1 20 1 1 3 10 1 3 1 5 1 6 3 1 1 6 2 3 4 4 1 1 1 1"/><path d="M55 126.5h76" stroke-dasharray="1 31 1 1 1 7 2 17 2 5 1 1 2 1 3 1"/><path d="M33 127.5h97" stroke-dasharray="1 9 1 3 1 49 1 1 1 15 1 3 1 1 3 1 2 1 2 1"/><path d="M34 128.5h98" stroke-dasharray="1 3 1 3 1 1 1 14 1 1 1 21 1 21 1 2 1 6 2 2 1 2 1 2 1 1 1 2 2 1"/><path d="M34 129.5h95" stroke-dasharray="1 11 1 4 1 9 1 3 1 40 1 8 1 6 4 1 2 1"/><path d="M33 130.5h99" stroke-dasharray="2 82 2 2 8 1 2 1"/><path d="M33 131.5h96" stroke-dasharray="2 9 1 1 2 4 1 8 1 54 1 3 1 1 3 1 3 1"/><path d="M33 132.5h107" stroke-dasharray="2 1 1 18 2 2 1 63 2 1 2 11 1 1"/><path d="M32 133.5h95" stroke-dasharray="3 2 1 14 4 70 1 1"/><path d="M33 134.5h98" stroke-dasharray="6 4 1 10 1 70 1 4 1 1"/><path d="M35 135.5h95" stroke-dasharray="3 7 1 3 2 71 1 6 1 1"/><path d="M34 136.5h98" stroke-dasharray="3 1 3 9 1 77 1 2 1 1"/><path d="M34 137.5h14" stroke-dasharray="8 2 2 1 1 1"/><path d="M34 138.5h9" stroke-dasharray="2 1 4 1 1 1"/><path d="M34 139.5h17" stroke-dasharray="1 2 2 1 3 7 1 1"/><path d="M39 140.5h77" stroke-dasharray="2 3 1 70 1 1"/><path d="M39 141.5h4" stroke-dasharray="2 1 1 1"/><path d="M43 142.5h5"/><path d="M47 143.5h32" stroke-dasharray="5 26 1 1"/><path d="M52 144.5h1"/></g><g stroke="#414487"><path d="M161 1.5h3" stroke-dasharray="1 1 1 1"/><path d="M155 2.5h12" stroke-dasharray="5 2 5 1"/><path d="M153 3.5h28" stroke-dasharray="2 8 1 1 5 1 7 1 2 1"/><path d="M163 4.5h18" stroke-dasharray="2 1 6 2 5 1 1 1"/><path d="M149 5.5h30" stroke-dasharray="1 14 8 2 1 1 3 1"/><path d="M147 6.5h35" stroke-dasharray="2 13 3 1 3 8 3 1 1 1"/><path d="M144 7.5h33" stroke-dasharray="3 20 2 1 1 2 1 2 1 1"/><path d="M143 8.5h36" stroke-dasharray="2 12 1 5 1 1 1 1 1 1 1 1 1 2 1 2 2 1"/><path d="M142 9.5h36" stroke-dasharray="1 5 1 7 2 9 1 1 1 1 1 4 2 1"/><path d="M153 10.5h21" stroke-dasharray="1 1 2 11 3 2 1 1"/><path d="M153 11.5h30" stroke-dasharray="1 1 1 1 1 4 1 6 1 9 1 1 2 1"/><path d="M153 12.5h30" stroke-dasharray="2 1 1 21 1 2 2 1"/><path d="M143 13.5h40" stroke-dasharray="1 12 1 22 1 1 2 1"/><path d="M140 14.5h44" stroke-dasharray="1 1 1 1 1 11 1 16 2 2 1 1 1 1 3 1"/><path d="M135 15.5h49" stroke-dasharray="1 3 5 25 1 5 1 2 1 1 4 1"/><path d="M133 16.5h50" stroke-dasharray="3 3 1 4 1 23 1 12 2 1"/><path d="M132 17.5h50" stroke-dasharray="1 2 1 3 3 31 1 7 1 1"/><path d="M132 18.5h52" stroke-dasharray="1 1 3 5 1 38 3 1"/><path d="M130 19.5h51" stroke-dasharray="4 3 1 3 2 8 1 5 1 22 1 1"/><path d="M129 20.5h52" stroke-dasharray="4 1 1 2 2 1 2 1 1 10 1 25 1 1"/><path d="M129 21.5h34" stroke-dasharray="6 3 4 1 1 2 1 5 1 2 5 2 1 1"/><path d="M129 22.5h38" stroke-dasharray="1 2 3 1 1 1 1 1 2 5 1 3 1 2 1 1 3 7 1 1"/><path d="M129 23.5h31" stroke-dasharray="1 1 11 6 1 1 3 1 4 1 1 1"/><path d="M129 24.5h32" stroke-dasharray="2 3 3 1 5 7 1 2 2 2 1 1 2 1"/><path d="M128 25.5h28" stroke-dasharray="2 2 2 3 6 7 6 1"/><path d="M128 26.5h30" stroke-dasharray="2 3 1 1 1 1 4 7 1 3 3 1 2 1"/><path d="M127 27.5h38" stroke-dasharray="3 3 1 1 2 1 4 2 1 7 1 11 1 1"/><path d="M126 28.5h33" stroke-dasharray="4 2 8 2 3 1 1 3 3 1 1 3 1 1"/><path d="M124 29.5h34" stroke-dasharray="2 2 2 5 1 1 1 1 1 4 4 1 2 1 2 3 1 1"/><path d="M124 30.5h40" stroke-dasharray="1 2 1 7 3 1 1 1 1 2 1 2 1 2 1 4 2 1 1 2 1 1 1 1"/><path d="M121 31.5h42" stroke-dasharray="2 4 1 5 1 1 4 3 1 2 3 1 1 1 1 4 1 1 1 3 1 1"/><path d="M119 32.5h44" stroke-dasharray="5 10 7 4 3 4 1 4 1 4 1 1"/><path d="M117 33.5h61" stroke-dasharray="5 15 1 4 1 3 3 1 2 3 2 1 1 2 2 2 1 11 1 1"/><path d="M117 34.5h49" stroke-dasharray="6 12 3 3 2 2 6 2 1 3 1 5 3 1"/><path d="M116 35.5h50" stroke-dasharray="3 1 3 9 1 7 1 1 1 2 7 1 1 6 1 2 1 1 1 1"/><path d="M116 36.5h64" stroke-dasharray="1 1 1 1 2 2 2 19 8 5 1 20 1 1"/><path d="M115 37.5h75" stroke-dasharray="2 1 1 2 1 2 1 4 1 10 1 3 1 1 9 34 1 1"/><path d="M115 38.5h59" stroke-dasharray="2 1 4 3 1 10 1 3 1 2 13 1 1 4 2 1 1 5 1 1 1 1"/><path d="M114 39.5h63" stroke-dasharray="4 1 2 1 1 15 1 5 11 2 1 4 2 5 1 3 1 2 1 1"/><path d="M115 40.5h64" stroke-dasharray="1 1 1 3 1 4 1 12 1 1 1 3 10 3 1 4 1 1 1 5 1 1 2 1 1 1 1 1"/><path d="M121 41.5h59" stroke-dasharray="2 3 1 2 2 8 1 7 5 1 2 2 1 5 3 4 2 2 1 1 1 2 1 1"/><path d="M113 42.5h60" stroke-dasharray="3 9 1 1 2 2 3 3 2 2 4 2 6 15 1 3 1 1"/><path d="M113 43.5h69" stroke-dasharray="1 2 1 1 1 5 1 2 2 2 9 1 1 1 3 1 5 1 1 2 1 24 1 1"/><path d="M112 44.5h71" stroke-dasharray="2 2 1 5 1 2 1 1 1 2 3 1 6 1 3 2 6 1 1 1 1 3 1 16 3 1 1 1 1 1"/><path d="M109 45.5h71" stroke-dasharray="1 1 3 2 1 1 1 7 1 2 2 1 6 1 4 3 13 1 1 1 1 13 4 1"/><path d="M107 46.5h54" stroke-dasharray="1 2 1 1 3 4 1 4 1 1 1 1 6 1 7 1 1 1 12 1 1 1 1 1"/><path d="M88 47.5h91" stroke-dasharray="2 23 3 1 3 9 10 1 3 2 1 1 6 1 4 4 1 15 1 1"/><path d="M89 48.5h75" stroke-dasharray="2 24 1 1 3 9 1 1 8 3 3 2 5 1 6 4 1 1"/><path d="M89 49.5h90" stroke-dasharray="2 25 1 1 1 1 1 5 2 1 1 1 3 2 1 1 1 5 11 2 3 18 1 1"/><path d="M116 50.5h43" stroke-dasharray="1 2 1 1 1 1 2 2 1 3 2 1 1 2 1 1 1 1 4 1 10 1 2 1"/><path d="M83 51.5h75" stroke-dasharray="1 19 1 9 1 3 4 2 1 10 2 3 1 3 3 1 9 1 1 1"/><path d="M103 52.5h56" stroke-dasharray="1 8 1 1 6 6 1 10 1 1 1 1 1 2 10 3 2 1"/><path d="M94 53.5h66" stroke-dasharray="1 17 3 1 4 3 1 2 1 13 1 2 2 1 2 2 1 2 1 5 1 1"/><path d="M47 54.5h128" stroke-dasharray="1 55 2 7 1 2 3 2 1 1 1 8 1 7 1 3 1 2 2 1 2 5 1 1 1 3 1 7 1 1 3 1"/><path d="M47 55.5h128" stroke-dasharray="2 47 3 9 1 4 2 1 4 1 4 12 1 4 1 6 2 22 2 1"/><path d="M47 56.5h120" stroke-dasharray="2 49 1 14 1 4 1 5 1 13 6 2 2 1 3 2 1 8 2 1 1 1"/><path d="M46 57.5h120" stroke-dasharray="4 51 1 6 2 1 2 1 1 3 3 2 1 7 18 1 4 3 2 1 1 3 2 1"/><path d="M46 58.5h131" stroke-dasharray="2 1 1 49 1 3 2 2 1 4 1 1 2 1 4 2 1 4 5 6 2 1 8 3 2 3 1 4 3 1 1 4 1 3 1 1"/><path d="M46 59.5h131" stroke-dasharray="2 1 1 46 1 4 1 3 1 5 1 1 3 1 7 1 4 1 1 13 7 11 1 1 2 7 1 2 1 1"/><path d="M47 60.5h123" stroke-dasharray="1 47 1 16 4 6 2 1 2 1 1 1 1 8 1 6 3 3 1 9 1 3 1 2 1 1"/><path d="M51 61.5h121" stroke-dasharray="1 43 1 8 3 3 1 1 4 1 1 6 2 1 3 6 1 2 1 1 4 1 2 1 3 5 1 7 1 1 1 2 2 1"/><path d="M96 62.5h74" stroke-dasharray="1 11 1 2 1 2 2 1 2 4 2 2 1 3 1 7 1 2 3 1 1 1 1 1 1 3 1 11 1 2 1 1"/><path d="M54 63.5h117" stroke-dasharray="1 55 1 2 1 2 1 5 2 11 2 2 1 5 1 2 1 1 1 1 1 16 2 1"/><path d="M94 64.5h57" stroke-dasharray="1 18 2 2 1 3 2 3 4 2 1 3 2 1 3 6 1 1 1 1"/><path d="M46 65.5h104" stroke-dasharray="1 56 5 1 2 2 1 3 1 2 2 4 4 1 1 1 1 4 1 1 1 5 2 1 1 1"/><path d="M89 66.5h61" stroke-dasharray="1 2 1 6 7 1 2 1 1 2 2 3 2 1 4 2 2 4 2 5 1 1 1 2 2 1 2 1"/><path d="M99 67.5h96" stroke-dasharray="3 1 3 1 1 4 7 2 2 2 1 3 1 2 1 1 1 1 2 1 3 52 1 1"/><path d="M93 68.5h101" stroke-dasharray="1 1 1 5 14 1 1 1 2 1 1 5 1 4 2 3 4 1 1 1 1 2 1 3 1 41 1 1"/><path d="M47 69.5h99" stroke-dasharray="1 42 1 9 1 1 1 2 16 4 1 4 1 1 1 2 2 5 2 1 1 1"/><path d="M50 70.5h146" stroke-dasharray="1 48 7 1 2 2 4 1 5 6 1 1 1 2 2 2 1 5 1 14 1 37 1 1"/><path d="M46 71.5h120" stroke-dasharray="1 54 4 1 2 2 8 1 3 1 3 1 1 2 1 1 2 1 2 3 2 21 1 1 1 1"/><path d="M48 72.5h119" stroke-dasharray="1 50 15 1 7 1 1 1 1 1 1 2 1 2 1 1 2 2 1 1 1 4 1 19 1 1"/><path d="M99 73.5h44" stroke-dasharray="11 1 8 3 2 2 1 1 6 2 3 2 2 1"/><path d="M52 74.5h121" stroke-dasharray="1 3 2 41 2 3 4 1 1 1 1 1 2 1 3 2 1 4 2 2 7 1 1 2 1 3 1 2 1 7 1 6 1 1 1 6 1 1"/><path d="M55 75.5h110" stroke-dasharray="1 1 1 35 1 4 2 2 7 1 2 1 1 1 3 1 2 4 3 1 2 1 2 2 1 1 3 10 1 12 1 1"/><path d="M47 76.5h115" stroke-dasharray="2 5 3 1 3 1 4 25 1 5 3 4 2 1 4 3 6 2 1 2 6 1 1 1 1 1 2 2 1 13 1 6 1 1"/><path d="M42 77.5h128" stroke-dasharray="5 3 2 1 1 1 1 2 1 1 3 2 3 28 2 1 2 2 1 1 1 1 1 3 1 2 1 1 1 1 2 2 1 3 2 1 1 3 2 1 1 13 1 18 1 1"/><path d="M40 78.5h128" stroke-dasharray="3 3 4 4 2 2 3 6 2 26 2 3 2 2 5 2 7 1 2 1 1 4 4 3 1 1 1 8 1 6 1 1 1 12 1 1"/><path d="M39 79.5h136" stroke-dasharray="1 9 4 1 5 2 1 6 2 24 2 3 1 1 2 1 3 1 1 4 3 1 3 1 1 1 2 4 4 2 1 14 1 8 3 1 1 10 1 1"/><path d="M37 80.5h135" stroke-dasharray="1 13 2 1 4 4 1 6 1 24 1 5 1 1 1 1 4 6 7 1 1 1 1 3 1 1 1 1 4 1 1 18 1 5 5 4 1 1"/><path d="M36 81.5h150" stroke-dasharray="1 12 7 3 1 10 1 23 1 7 2 2 1 4 1 2 6 1 2 2 6 1 3 2 1 4 1 40 1 1 1 1"/><path d="M20 82.5h170" stroke-dasharray="15 20 1 4 1 9 2 20 3 6 1 3 1 2 1 3 8 1 2 2 3 2 6 53 1 1"/><path d="M29 83.5h105" stroke-dasharray="5 37 2 17 3 2 1 4 2 9 2 1 5 1 3 1 1 1 3 2 3 1"/><path d="M72 84.5h88" stroke-dasharray="1 16 2 3 1 7 3 2 1 3 1 1 1 1 1 1 3 3 3 1 3 1 3 1 1 1 1 21 1 1"/><path d="M55 85.5h81" stroke-dasharray="1 16 2 14 4 5 1 3 4 5 1 3 1 2 1 4 6 2 1 2 1 1 1 1"/><path d="M73 86.5h62" stroke-dasharray="2 11 2 2 2 3 2 2 1 1 2 2 1 3 1 2 2 3 2 1 1 3 7 3 1 1"/><path d="M74 87.5h62" stroke-dasharray="2 8 2 3 1 1 3 16 1 3 1 4 1 8 2 5 1 1"/><path d="M75 88.5h107" stroke-dasharray="2 6 2 4 1 1 3 3 1 15 2 9 1 56 1 1"/><path d="M76 89.5h53" stroke-dasharray="2 3 2 10 2 1 1 10 3 3 2 2 1 1 1 3 1 3 2 1"/><path d="M77 90.5h51" stroke-dasharray="2 1 2 5 2 4 1 1 2 5 1 12 1 3 1 2 1 4 1 1"/><path d="M53 91.5h77" stroke-dasharray="2 15 1 7 3 12 1 1 4 1 1 10 1 3 1 1 1 7 2 2 1 1"/><path d="M72 92.5h58" stroke-dasharray="1 2 1 3 1 10 1 6 3 3 1 5 1 4 1 1 1 5 2 1 2 2 1 1"/><path d="M63 93.5h67" stroke-dasharray="1 1 1 18 1 10 2 2 6 8 2 2 2 6 3 1 1 1"/><path d="M59 94.5h69" stroke-dasharray="1 1 1 1 1 2 1 10 1 17 2 2 1 1 2 4 1 6 2 1 1 1 1 1 1 1 1 1 1 1 1 1"/><path d="M59 95.5h74" stroke-dasharray="1 3 2 3 1 29 2 2 2 1 1 7 3 2 1 1 1 4 2 2 1 1 2 1"/><path d="M98 96.5h34" stroke-dasharray="2 3 3 1 2 2 2 3 2 1 1 1 1 4 2 1 3 1"/><path d="M63 97.5h71" stroke-dasharray="1 21 1 11 1 6 4 3 1 3 1 5 3 2 1 1 2 1 1 1 1 1"/><path d="M106 98.5h25" stroke-dasharray="1 9 3 5 2 4 1 1"/><path d="M79 99.5h53" stroke-dasharray="1 2 1 7 1 16 2 3 1 2 3 3 3 1 1 5 1 1"/><path d="M72 100.5h58" stroke-dasharray="1 9 1 25 2 7 1 1 8 2 1 1"/><path d="M59 101.5h73" stroke-dasharray="1 49 2 6 9 1 1 1 1 1 1 1"/><path d="M110 102.5h24" stroke-dasharray="6 1 1 1 5 1 2 1 1 1 1 2 1 1"/><path d="M63 103.5h72" stroke-dasharray="1 11 1 32 1 3 6 2 5 1 4 1 1 2 1 1"/><path d="M58 104.5h74" stroke-dasharray="2 10 1 32 1 1 1 7 2 6 1 4 2 1 3 1"/><path d="M70 105.5h63" stroke-dasharray="1 47 1 1 3 3 1 1 3 1 1 1"/><path d="M58 106.5h74" stroke-dasharray="1 36 1 25 2 1 1 1 6 1"/><path d="M78 107.5h52" stroke-dasharray="1 4 2 14 1 17 1 1 1 3 4 1 2 1"/><path d="M96 108.5h38" stroke-dasharray="1 2 1 12 1 1 1 6 1 2 1 1 5 2 1 1"/><path d="M56 109.5h74" stroke-dasharray="1 41 2 5 1 17 3 1 1 1 1 1"/><path d="M112 110.5h1"/><path d="M111 111.5h18" stroke-dasharray="1 8 1 1 1 1 1 3 1 1"/><path d="M111 112.5h17" stroke-dasharray="1 15 1 1"/><path d="M113 113.5h1"/><path d="M83 114.5h51" stroke-dasharray="1 6 1 27 1 8 2 4 1 1"/><path d="M108 115.5h1"/><path d="M125 116.5h2"/><path d="M118 117.5h1"/><path d="M105 118.5h1"/><path d="M113 120.5h1"/><path d="M31 121.5h83" stroke-dasharray="2 80 1 1"/><path d="M32 122.5h82" stroke-dasharray="1 65 1 14 1 1"/><path d="M114 123.5h1"/><path d="M33 124.5h1"/><path d="M115 127.5h9" stroke-dasharray="1 7 1 1"/><path d="M34 128.5h1"/><path d="M125 129.5h1"/><path d="M33 133.5h1"/><path d="M34 134.5h1"/><path d="M35 135.5h2"/><path d="M35 136.5h1"/><path d="M36 137.5h1"/><path d="M37 138.5h4" stroke-dasharray="1 2 1 1"/><path d="M115 140.5h1"/><path d="M40 141.5h1"/><path d="M45 142.5h3" stroke-dasharray="1 1 1 1"/><path d="M49 143.5h30" stroke-dasharray="1 1 1 26 1 1"/><path d="M52 144.5h1"/></g><g stroke="#3b5e8b"><path d="M161 1.5h3" stroke-dasharray="1 1 1 1"/><path d="M155 2.5h12" stroke-dasharray="2 1 2 5 2 1"/><path d="M154 3.5h27" stroke-dasharray="1 10 4 2 7 1 2 1"/><path d="M166 4.5h12" stroke-dasharray="1 2 2 4 3 1"/><path d="M149 5.5h26" stroke-dasharray="1 16 1 1 4 2 1 1"/><path d="M147 6.5h33" stroke-dasharray="2 13 1 1 1 1 3 9 2 1"/><path d="M144 7.5h3"/><path d="M163 8.5h15" stroke-dasharray="1 3 1 1 1 7 1 1"/><path d="M156 9.5h22" stroke-dasharray="1 20 1 1"/><path d="M153 10.5h4" stroke-dasharray="1 1 2 1"/><path d="M181 11.5h1"/><path d="M182 12.5h1"/><path d="M156 13.5h26" stroke-dasharray="1 24 1 1"/><path d="M173 14.5h10" stroke-dasharray="2 7 1 1"/><path d="M135 15.5h46" stroke-dasharray="1 6 1 32 1 4 1 1"/><path d="M133 16.5h36" stroke-dasharray="2 33 1 1"/><path d="M132 17.5h1"/><path d="M142 18.5h41" stroke-dasharray="1 39 1 1"/><path d="M130 19.5h4"/><path d="M129 20.5h52" stroke-dasharray="2 49 1 1"/><path d="M129 21.5h34" stroke-dasharray="1 1 1 1 2 5 1 15 1 2 1 2 1 1"/><path d="M133 22.5h34" stroke-dasharray="2 3 1 8 1 8 2 8 1 1"/><path d="M131 23.5h24" stroke-dasharray="3 3 2 11 2 2 1 1"/><path d="M129 24.5h29" stroke-dasharray="2 4 1 3 1 13 2 2 1 1"/><path d="M128 25.5h28" stroke-dasharray="1 8 2 3 1 12 1 1"/><path d="M133 26.5h22" stroke-dasharray="1 1 1 2 1 1 1 12 2 1"/><path d="M127 27.5h13" stroke-dasharray="3 3 1 1 1 2 2 1"/><path d="M126 28.5h29" stroke-dasharray="1 5 1 4 1 1 1 3 1 10 1 1"/><path d="M125 29.5h26" stroke-dasharray="1 11 1 1 1 5 1 1 1 2 1 1"/><path d="M136 30.5h12" stroke-dasharray="1 10 1 1"/><path d="M121 31.5h38" stroke-dasharray="1 14 1 1 1 6 1 12 1 1"/><path d="M121 32.5h27" stroke-dasharray="1 12 1 1 2 2 1 5 2 1"/><path d="M117 33.5h39" stroke-dasharray="1 2 2 15 1 8 2 3 1 3 1 1"/><path d="M117 34.5h37" stroke-dasharray="1 2 3 13 2 3 2 3 1 1 2 3 1 1"/><path d="M116 35.5h50" stroke-dasharray="2 3 1 23 4 2 1 13 1 1"/><path d="M116 36.5h64" stroke-dasharray="1 7 1 20 5 1 2 26 1 1"/><path d="M115 37.5h75" stroke-dasharray="2 1 1 21 1 5 6 2 1 34 1 1"/><path d="M115 38.5h49" stroke-dasharray="2 1 4 21 4 1 5 1 1 8 1 1"/><path d="M114 39.5h40" stroke-dasharray="2 3 1 24 5 1 1 2 1 1"/><path d="M139 40.5h36" stroke-dasharray="1 1 1 3 9 20 1 1"/><path d="M129 41.5h51" stroke-dasharray="2 16 2 1 2 2 1 2 1 12 1 5 1 2 1 1"/><path d="M113 42.5h56" stroke-dasharray="1 11 1 1 2 2 2 4 2 3 3 3 3 1 1 15 1 1"/><path d="M116 43.5h38" stroke-dasharray="1 7 1 3 1 6 5 3 3 2 4 1 1 1"/><path d="M122 44.5h55" stroke-dasharray="1 7 1 1 1 3 4 1 1 1 1 2 6 24 1 1"/><path d="M111 45.5h67" stroke-dasharray="3 15 1 2 6 2 1 5 3 1 5 1 1 3 1 16 1 1"/><path d="M112 46.5h49" stroke-dasharray="1 15 5 2 3 3 1 3 6 1 5 3 1 1"/><path d="M88 47.5h70" stroke-dasharray="2 23 1 1 1 1 2 10 5 2 1 1 1 2 2 4 6 1 4 1"/><path d="M89 48.5h75" stroke-dasharray="2 27 2 9 1 3 2 1 2 4 1 5 1 1 2 2 2 1 2 4 1 1"/><path d="M89 49.5h70" stroke-dasharray="2 25 1 1 1 1 1 5 1 5 1 3 1 1 1 5 3 1 7 2 2 1"/><path d="M119 50.5h40" stroke-dasharray="1 4 1 9 1 4 1 2 2 3 3 2 2 4 1 1"/><path d="M83 51.5h75" stroke-dasharray="1 29 1 3 1 1 1 3 1 10 2 3 1 5 1 1 2 1 3 1 1 2 1 1"/><path d="M103 52.5h50" stroke-dasharray="1 12 4 19 1 1 1 2 2 1 1 1 1 1 2 1"/><path d="M113 53.5h41" stroke-dasharray="1 2 4 3 1 2 1 17 1 5 1 2 1 1"/><path d="M47 54.5h110" stroke-dasharray="1 64 1 2 1 4 1 10 1 17 2 5 1 1"/><path d="M47 55.5h104" stroke-dasharray="2 49 1 14 2 1 1 5 1 26 2 1"/><path d="M47 56.5h108" stroke-dasharray="2 64 1 10 1 13 1 1 3 6 2 3 1 1"/><path d="M46 57.5h113" stroke-dasharray="2 53 1 6 1 3 1 1 1 3 1 1 1 2 1 7 14 1 3 2 1 1 1 4 1 1"/><path d="M112 58.5h54" stroke-dasharray="1 1 1 2 1 1 1 8 5 9 7 5 1 3 1 5 2 1"/><path d="M46 59.5h117" stroke-dasharray="2 57 1 7 3 1 3 1 1 4 3 1 1 13 1 1 3 13 1 1"/><path d="M47 60.5h102" stroke-dasharray="1 47 1 17 3 6 1 2 2 19 3 1"/><path d="M51 61.5h97" stroke-dasharray="1 52 1 5 1 2 3 8 2 3 1 14 1 1 2 1"/><path d="M115 62.5h52" stroke-dasharray="1 2 1 4 2 2 1 18 1 1 1 17 1 1"/><path d="M123 63.5h30" stroke-dasharray="1 24 1 3 1 1"/><path d="M94 64.5h57" stroke-dasharray="1 19 1 6 2 13 2 2 2 8 1 1"/><path d="M103 65.5h45" stroke-dasharray="3 1 1 1 1 7 1 2 2 4 4 1 1 1 1 6 1 5 2 1"/><path d="M100 66.5h49" stroke-dasharray="2 1 1 1 1 12 2 3 1 9 2 13 1 1"/><path d="M99 67.5h96" stroke-dasharray="2 2 1 1 1 6 7 2 2 6 1 6 2 1 1 1 1 52 1 1"/><path d="M101 68.5h93" stroke-dasharray="3 3 7 2 1 1 2 12 2 3 1 55 1 1"/><path d="M102 69.5h42" stroke-dasharray="1 4 10 1 1 6 1 4 1 1 1 2 2 6 1 1"/><path d="M99 70.5h97" stroke-dasharray="4 1 2 1 2 3 3 1 2 1 2 6 1 4 2 61 1 1"/><path d="M46 71.5h120" stroke-dasharray="1 54 4 1 2 2 3 1 3 3 2 3 1 7 1 1 1 29 1 1"/><path d="M48 72.5h94" stroke-dasharray="1 50 1 1 7 2 1 4 7 1 1 1 1 1 1 2 1 10 1 1"/><path d="M99 73.5h44" stroke-dasharray="10 3 1 2 4 3 2 6 3 3 3 3 1 1"/><path d="M99 74.5h67" stroke-dasharray="2 3 4 1 1 1 1 2 1 1 1 1 1 2 1 4 1 4 1 1 1 2 1 1 1 2 1 3 1 2 1 16 1 1"/><path d="M55 75.5h86" stroke-dasharray="1 42 2 5 3 3 1 1 1 1 3 1 2 4 3 1 1 2 2 5 2 1"/><path d="M47 76.5h94" stroke-dasharray="2 7 1 2 1 2 4 31 3 8 3 3 6 5 1 1 4 3 1 2 1 2 1 1"/><path d="M42 77.5h93" stroke-dasharray="2 1 2 4 1 3 1 2 1 1 3 2 3 28 2 2 1 4 1 1 1 3 1 10 1 4 1 6 1 1"/><path d="M40 78.5h106" stroke-dasharray="3 3 4 5 1 2 3 6 2 26 2 3 2 2 2 1 2 3 2 1 3 4 1 5 2 4 1 1 1 8 1 1"/><path d="M39 79.5h97" stroke-dasharray="1 9 3 5 2 9 2 24 1 6 1 2 3 6 2 2 1 5 2 5 3 2 1 1"/><path d="M37 80.5h129" stroke-dasharray="1 13 2 1 3 12 1 24 1 7 1 14 1 1 1 2 1 1 1 5 1 2 1 28 1 2 1 1"/><path d="M36 81.5h99" stroke-dasharray="1 14 5 14 1 23 1 7 2 2 1 4 1 2 6 2 1 2 6 3 1 1"/><path d="M21 82.5h115" stroke-dasharray="14 20 1 14 2 20 3 6 1 6 1 3 2 1 3 1 1 6 2 2 6 1"/><path d="M29 83.5h105" stroke-dasharray="5 37 2 18 2 2 1 5 1 12 3 7 1 1 1 1 1 3 2 1"/><path d="M72 84.5h61" stroke-dasharray="1 17 1 3 1 20 1 1 3 3 3 2 2 2 1 1"/><path d="M72 85.5h59" stroke-dasharray="2 14 2 11 2 14 1 5 5 2 1 1"/><path d="M73 86.5h56" stroke-dasharray="2 11 2 2 2 4 1 4 1 3 1 11 1 2 1 3 1 2 2 1"/><path d="M74 87.5h62" stroke-dasharray="2 8 2 5 2 21 1 4 1 8 2 5 1 1"/><path d="M75 88.5h107" stroke-dasharray="2 6 2 7 2 20 1 9 1 56 1 1"/><path d="M76 89.5h44" stroke-dasharray="2 3 2 10 2 13 1 10 1 1"/><path d="M77 90.5h51" stroke-dasharray="2 1 2 13 2 5 1 12 1 3 1 2 1 4 1 1"/><path d="M78 91.5h48" stroke-dasharray="3 15 3 26 1 1"/><path d="M72 92.5h55" stroke-dasharray="1 6 1 18 2 26 1 1"/><path d="M95 93.5h35" stroke-dasharray="1 3 3 2 1 12 1 7 1 1 1 1 1 1"/><path d="M61 94.5h67" stroke-dasharray="1 39 2 4 1 6 2 3 1 1 1 1 1 1 1 1 1 1"/><path d="M63 95.5h70" stroke-dasharray="1 4 1 34 1 1 1 7 1 1 1 4 1 11 1 1"/><path d="M98 96.5h33" stroke-dasharray="1 4 2 2 1 4 1 3 1 4 1 4 2 2 1 1"/><path d="M85 97.5h49" stroke-dasharray="1 18 2 1 1 3 1 9 3 4 2 1 1 1 1 1"/><path d="M106 98.5h25" stroke-dasharray="1 10 1 6 1 5 1 1"/><path d="M107 99.5h17" stroke-dasharray="2 3 1 2 3 4 2 1"/><path d="M108 100.5h22" stroke-dasharray="2 7 1 1 8 2 1 1"/><path d="M109 101.5h21" stroke-dasharray="2 6 1 2 3 2 1 1 1 1 1 1"/><path d="M110 102.5h21" stroke-dasharray="3 1 2 1 1 1 5 1 1 2 1 1 1 1"/><path d="M112 103.5h23" stroke-dasharray="6 2 2 4 3 5 1 1"/><path d="M105 104.5h26" stroke-dasharray="1 8 1 6 1 4 2 2 1 1"/><path d="M70 105.5h61" stroke-dasharray="1 49 1 9 1 1"/><path d="M121 106.5h11" stroke-dasharray="2 4 5 1"/><path d="M124 107.5h6" stroke-dasharray="3 1 2 1"/><path d="M112 108.5h22" stroke-dasharray="1 11 1 1 1 2 1 3 1 1"/><path d="M125 109.5h1"/><path d="M120 111.5h5" stroke-dasharray="1 3 1 1"/><path d="M32 121.5h1"/><path d="M32 122.5h1"/><path d="M115 127.5h1"/><path d="M34 128.5h1"/><path d="M115 140.5h1"/><path d="M51 143.5h28" stroke-dasharray="1 26 1 1"/></g><g stroke="#2a788e"><path d="M163 1.5h1"/><path d="M155 2.5h12" stroke-dasharray="1 2 2 5 2 1"/><path d="M154 3.5h27" stroke-dasharray="1 11 1 1 1 2 4 1 2 2 1 1"/><path d="M170 4.5h8" stroke-dasharray="1 4 3 1"/><path d="M147 6.5h32" stroke-dasharray="2 13 1 1 1 1 3 9 1 1"/><path d="M144 7.5h1"/><path d="M177 8.5h1"/><path d="M181 11.5h1"/><path d="M173 14.5h2"/><path d="M175 15.5h1"/><path d="M134 16.5h1"/><path d="M132 17.5h1"/><path d="M182 18.5h1"/><path d="M130 19.5h2"/><path d="M130 20.5h51" stroke-dasharray="1 49 1 1"/><path d="M129 21.5h34" stroke-dasharray="1 1 1 1 2 21 1 2 1 2 1 1"/><path d="M133 22.5h34" stroke-dasharray="1 13 1 8 2 8 1 1"/><path d="M133 23.5h22" stroke-dasharray="1 4 1 15 1 1"/><path d="M129 24.5h26" stroke-dasharray="1 9 1 13 2 1"/><path d="M137 25.5h19" stroke-dasharray="2 16 1 1"/><path d="M138 26.5h17" stroke-dasharray="1 15 1 1"/><path d="M127 27.5h12" stroke-dasharray="3 3 1 4 1 1"/><path d="M126 28.5h29" stroke-dasharray="1 10 1 16 1 1"/><path d="M125 29.5h26" stroke-dasharray="1 24 1 1"/><path d="M138 31.5h8" stroke-dasharray="1 6 1 1"/><path d="M121 32.5h26" stroke-dasharray="1 12 1 1 2 8 1 1"/><path d="M117 33.5h1"/><path d="M117 34.5h37" stroke-dasharray="1 2 2 14 2 8 1 1 1 4 1 1"/><path d="M121 35.5h45" stroke-dasharray="1 23 4 2 1 13 1 1"/><path d="M116 36.5h64" stroke-dasharray="1 29 2 3 1 27 1 1"/><path d="M118 37.5h72" stroke-dasharray="1 27 6 37 1 1"/><path d="M115 38.5h37" stroke-dasharray="1 3 1 24 3 1 2 1 1 1"/><path d="M115 39.5h39" stroke-dasharray="1 3 1 24 2 1 2 1 1 2 1 1"/><path d="M141 40.5h12" stroke-dasharray="1 4 2 3 2 1"/><path d="M130 41.5h28" stroke-dasharray="1 16 2 2 1 5 1 1"/><path d="M125 42.5h28" stroke-dasharray="1 6 1 4 2 3 3 3 3 1 1 1"/><path d="M116 43.5h36" stroke-dasharray="1 7 1 12 2 4 3 2 4 1"/><path d="M130 44.5h22" stroke-dasharray="1 5 3 2 1 1 1 4 4 1"/><path d="M111 45.5h50" stroke-dasharray="1 1 1 15 1 2 4 1 1 2 1 7 1 1 2 1 1 6 1 1"/><path d="M130 46.5h31" stroke-dasharray="3 2 2 4 1 4 5 1 2 1 1 4 1 1"/><path d="M88 47.5h70" stroke-dasharray="2 23 1 3 2 11 4 2 1 1 1 2 2 4 6 1 1 2 1 1"/><path d="M89 48.5h67" stroke-dasharray="2 27 2 13 1 16 2 3 1 1"/><path d="M118 49.5h36" stroke-dasharray="1 7 1 9 1 8 2 1 1 1 4 1"/><path d="M134 50.5h25" stroke-dasharray="1 7 2 3 3 2 2 4 1 1"/><path d="M83 51.5h72" stroke-dasharray="1 29 1 3 1 1 1 14 2 3 1 7 2 1 3 1 1 1"/><path d="M118 52.5h34" stroke-dasharray="2 19 1 7 1 1 1 1 1 1"/><path d="M113 53.5h32" stroke-dasharray="1 2 4 24 1 1"/><path d="M47 54.5h110" stroke-dasharray="1 64 1 2 1 4 1 10 1 24 1 1"/><path d="M47 55.5h104" stroke-dasharray="2 49 1 14 2 7 1 27 1 1"/><path d="M47 56.5h96" stroke-dasharray="2 64 1 24 1 1 3 1"/><path d="M47 57.5h107" stroke-dasharray="1 60 1 3 1 5 1 12 9 1 4 1 2 3 1 1 1 1"/><path d="M112 58.5h37" stroke-dasharray="1 1 1 2 1 1 1 8 5 9 7 1"/><path d="M46 59.5h117" stroke-dasharray="1 58 1 7 1 1 1 3 1 1 1 4 1 19 3 13 1 1"/><path d="M47 60.5h102" stroke-dasharray="1 47 1 17 3 6 1 2 2 19 1 1 1 1"/><path d="M51 61.5h97" stroke-dasharray="1 52 1 19 2 3 1 17 1 1"/><path d="M123 62.5h24" stroke-dasharray="2 21 1 1"/><path d="M123 63.5h1"/><path d="M121 64.5h30" stroke-dasharray="2 13 1 13 1 1"/><path d="M103 65.5h38" stroke-dasharray="2 12 1 2 2 5 2 11 1 1"/><path d="M100 66.5h34" stroke-dasharray="1 2 1 1 1 13 1 3 1 9 1 1"/><path d="M100 67.5h95" stroke-dasharray="1 2 1 8 5 1 1 3 1 71 1 1"/><path d="M101 68.5h93" stroke-dasharray="1 1 1 4 6 2 1 1 1 14 1 3 1 55 1 1"/><path d="M102 69.5h31" stroke-dasharray="1 4 7 1 2 1 1 6 1 6 1 1"/><path d="M100 70.5h96" stroke-dasharray="3 4 2 3 1 3 1 15 2 61 1 1"/><path d="M46 71.5h88" stroke-dasharray="1 54 4 1 2 2 3 1 1 5 1 12 1 1"/><path d="M101 72.5h27" stroke-dasharray="6 8 5 7 1 1"/><path d="M99 73.5h34" stroke-dasharray="3 1 5 4 1 2 4 12 2 1"/><path d="M99 74.5h47" stroke-dasharray="2 3 4 1 1 6 1 1 1 2 1 9 1 1 1 7 1 3 1 1"/><path d="M98 75.5h43" stroke-dasharray="2 5 3 5 1 1 2 2 1 6 1 2 1 2 1 6 2 1"/><path d="M56 76.5h82" stroke-dasharray="1 6 3 31 3 8 3 3 6 8 3 3 1 2 1 1"/><path d="M43 77.5h92" stroke-dasharray="1 1 2 4 1 3 1 4 2 3 3 28 2 2 1 4 1 1 1 26 1 1"/><path d="M40 78.5h97" stroke-dasharray="2 4 4 5 1 2 3 6 2 26 2 3 2 2 2 6 1 3 2 4 1 6 1 6 1 1"/><path d="M57 79.5h76" stroke-dasharray="2 9 2 31 1 3 1 8 1 2 1 13 2 1"/><path d="M37 80.5h94" stroke-dasharray="1 13 2 1 3 37 1 7 1 14 1 1 1 2 1 1 1 5 1 1"/><path d="M36 81.5h99" stroke-dasharray="1 15 4 14 1 23 1 8 1 2 1 4 1 3 3 1 1 2 1 3 1 1 1 1 1 3 1 1"/><path d="M21 82.5h114" stroke-dasharray="6 1 7 35 2 20 3 20 2 2 1 11 4 1"/><path d="M29 83.5h105" stroke-dasharray="5 37 2 18 2 21 1 1 1 15 2 1"/><path d="M72 84.5h54" stroke-dasharray="1 17 1 24 1 1 1 6 2 1"/><path d="M73 85.5h52" stroke-dasharray="1 14 2 27 1 6 1 1"/><path d="M73 86.5h52" stroke-dasharray="2 11 2 2 2 25 1 6 1 1"/><path d="M74 87.5h55" stroke-dasharray="1 10 1 5 2 21 1 4 1 8 1 1"/><path d="M75 88.5h107" stroke-dasharray="2 6 2 7 2 87 1 1"/><path d="M76 89.5h44" stroke-dasharray="2 3 2 10 2 24 1 1"/><path d="M77 90.5h51" stroke-dasharray="2 1 2 13 2 5 1 19 1 4 1 1"/><path d="M78 91.5h48" stroke-dasharray="3 15 2 27 1 1"/><path d="M72 92.5h55" stroke-dasharray="1 6 1 18 2 26 1 1"/><path d="M99 93.5h29" stroke-dasharray="3 2 1 20 1 1 1 1"/><path d="M61 94.5h65" stroke-dasharray="1 39 2 4 1 11 1 1 1 1 1 1 1 1"/><path d="M103 95.5h18" stroke-dasharray="1 16 1 1"/><path d="M103 96.5h28" stroke-dasharray="2 2 1 4 1 3 1 9 2 2 1 1"/><path d="M104 97.5h25" stroke-dasharray="2 16 1 5 1 1"/><path d="M106 98.5h25" stroke-dasharray="1 10 1 6 1 5 1 1"/><path d="M107 99.5h17" stroke-dasharray="2 7 2 4 2 1"/><path d="M108 100.5h19" stroke-dasharray="2 9 1 1 6 1"/><path d="M109 101.5h19" stroke-dasharray="2 6 1 2 2 3 1 1 1 1"/><path d="M110 102.5h19" stroke-dasharray="3 4 1 1 5 1 1 2 1 1"/><path d="M112 103.5h15" stroke-dasharray="6 2 2 4 1 1"/><path d="M126 104.5h2"/><path d="M130 105.5h1"/><path d="M121 106.5h10" stroke-dasharray="2 4 4 1"/><path d="M126 107.5h4" stroke-dasharray="1 1 2 1"/><path d="M112 108.5h1"/><path d="M125 109.5h1"/><path d="M120 111.5h5" stroke-dasharray="1 3 1 1"/><path d="M32 121.5h1"/><path d="M34 128.5h1"/><path d="M115 140.5h1"/><path d="M78 143.5h1"/></g><g stroke="#2b9089"><path d="M163 1.5h1"/><path d="M155 2.5h4" stroke-dasharray="1 2 1 1"/><path d="M154 3.5h27" stroke-dasharray="1 11 1 1 1 7 2 2 1 1"/><path d="M177 4.5h1"/><path d="M147 6.5h2"/><path d="M144 7.5h1"/><path d="M181 11.5h1"/><path d="M173 14.5h2"/><path d="M175 15.5h1"/><path d="M182 18.5h1"/><path d="M130 19.5h1"/><path d="M130 20.5h51" stroke-dasharray="1 49 1 1"/><path d="M131 21.5h32" stroke-dasharray="1 1 2 21 1 5 1 1"/><path d="M133 22.5h34" stroke-dasharray="1 13 1 18 1 1"/><path d="M138 23.5h1"/><path d="M154 24.5h1"/><path d="M138 27.5h1"/><path d="M145 31.5h1"/><path d="M121 32.5h17" stroke-dasharray="1 12 1 1 2 1"/><path d="M121 34.5h33" stroke-dasharray="1 24 1 6 1 1"/><path d="M146 35.5h20" stroke-dasharray="1 1 1 2 1 13 1 1"/><path d="M146 36.5h34" stroke-dasharray="2 31 1 1"/><path d="M146 37.5h44" stroke-dasharray="2 1 1 39 1 1"/><path d="M144 38.5h6" stroke-dasharray="3 1 2 1"/><path d="M115 39.5h39" stroke-dasharray="1 3 1 24 2 1 1 2 1 2 1 1"/><path d="M141 40.5h12" stroke-dasharray="1 4 2 3 2 1"/><path d="M130 41.5h28" stroke-dasharray="1 26 1 1"/><path d="M125 42.5h28" stroke-dasharray="1 6 1 4 2 3 3 3 1 3 1 1"/><path d="M124 43.5h27" stroke-dasharray="1 13 1 5 2 4 1 1"/><path d="M136 44.5h15" stroke-dasharray="2 3 1 7 2 1"/><path d="M129 45.5h32" stroke-dasharray="1 2 4 12 1 1 2 1 1 6 1 1"/><path d="M131 46.5h25" stroke-dasharray="2 2 2 9 1 1 2 2 1 2 1 1"/><path d="M118 47.5h34" stroke-dasharray="1 11 1 1 2 2 1 1 1 3 1 4 5 1"/><path d="M89 48.5h67" stroke-dasharray="2 27 1 31 2 3 1 1"/><path d="M126 49.5h28" stroke-dasharray="1 9 1 8 2 1 1 1 2 1 1 1"/><path d="M134 50.5h25" stroke-dasharray="1 7 2 4 1 4 1 4 1 1"/><path d="M83 51.5h72" stroke-dasharray="1 33 1 1 1 14 2 3 1 7 1 2 1 1 1 1 1 1"/><path d="M147 52.5h5" stroke-dasharray="1 1 1 1 1 1"/><path d="M116 53.5h4" stroke-dasharray="1 2 1 1"/><path d="M112 54.5h45" stroke-dasharray="1 2 1 4 1 10 1 24 1 1"/><path d="M47 55.5h68" stroke-dasharray="2 64 2 1"/><path d="M47 56.5h96" stroke-dasharray="2 64 1 24 1 1 3 1"/><path d="M112 57.5h42" stroke-dasharray="1 18 2 1 2 2 2 2 1 1 1 1 1 6 1 1"/><path d="M112 58.5h35" stroke-dasharray="1 1 1 13 1 1 3 12 2 1"/><path d="M46 59.5h103" stroke-dasharray="1 68 1 3 1 1 1 4 1 19 1 1 1 1"/><path d="M47 60.5h102" stroke-dasharray="1 65 2 10 2 19 1 1 1 1"/><path d="M51 61.5h97" stroke-dasharray="1 72 2 21 1 1"/><path d="M123 62.5h24" stroke-dasharray="2 21 1 1"/><path d="M123 63.5h1"/><path d="M121 64.5h30" stroke-dasharray="2 27 1 1"/><path d="M103 65.5h26" stroke-dasharray="2 16 1 5 2 1"/><path d="M103 66.5h21" stroke-dasharray="1 15 1 3 1 1"/><path d="M103 67.5h92" stroke-dasharray="1 8 1 1 3 1 1 3 1 71 1 1"/><path d="M108 68.5h86" stroke-dasharray="1 1 1 1 2 2 1 1 1 14 1 59 1 1"/><path d="M109 69.5h24" stroke-dasharray="5 1 2 1 1 13 1 1"/><path d="M100 70.5h96" stroke-dasharray="3 5 1 7 1 78 1 1"/><path d="M101 71.5h33" stroke-dasharray="4 1 2 3 2 20 1 1"/><path d="M101 72.5h18" stroke-dasharray="4 1 1 8 4 1"/><path d="M99 73.5h20" stroke-dasharray="3 2 3 5 1 2 1 1 2 1"/><path d="M99 74.5h47" stroke-dasharray="2 4 2 9 1 1 1 14 1 11 1 1"/><path d="M98 75.5h43" stroke-dasharray="1 7 1 6 1 1 2 2 1 9 1 9 2 1"/><path d="M63 76.5h75" stroke-dasharray="1 1 1 31 1 10 1 1 1 4 3 1 1 14 1 2 1 1"/><path d="M43 77.5h65" stroke-dasharray="1 1 2 13 2 3 3 28 1 8 1 1 1 1"/><path d="M40 78.5h73" stroke-dasharray="2 4 4 5 1 2 1 8 2 26 2 3 1 4 1 6 1 1"/><path d="M57 79.5h76" stroke-dasharray="2 10 1 31 1 3 1 8 1 17 1 1"/><path d="M37 80.5h94" stroke-dasharray="1 13 2 2 2 37 1 22 1 12 1 1"/><path d="M36 81.5h99" stroke-dasharray="1 15 2 16 1 23 1 16 1 3 2 5 1 5 1 5 1 1"/><path d="M21 82.5h112" stroke-dasharray="2 1 3 1 2 1 4 36 1 20 1 1 1 20 2 2 1 11 2 1"/><path d="M30 83.5h104" stroke-dasharray="4 37 2 18 2 23 1 16 1 1"/><path d="M72 84.5h54" stroke-dasharray="1 17 1 24 1 1 1 6 2 1"/><path d="M73 85.5h17" stroke-dasharray="1 15 1 1"/><path d="M73 86.5h19" stroke-dasharray="1 13 1 2 2 1"/><path d="M74 87.5h55" stroke-dasharray="1 10 1 5 2 35 1 1"/><path d="M75 88.5h107" stroke-dasharray="2 6 2 96 1 1"/><path d="M76 89.5h19" stroke-dasharray="2 3 2 10 2 1"/><path d="M77 90.5h51" stroke-dasharray="2 1 2 13 2 30 1 1"/><path d="M78 91.5h48" stroke-dasharray="3 15 2 27 1 1"/><path d="M79 92.5h48" stroke-dasharray="1 18 2 26 1 1"/><path d="M99 93.5h29" stroke-dasharray="3 23 1 1 1 1"/><path d="M61 94.5h61" stroke-dasharray="1 39 2 18 1 1"/><path d="M103 95.5h18" stroke-dasharray="1 16 1 1"/><path d="M103 96.5h28" stroke-dasharray="2 2 1 18 1 3 1 1"/><path d="M104 97.5h2"/><path d="M106 98.5h19" stroke-dasharray="1 17 1 1"/><path d="M107 99.5h2"/><path d="M108 100.5h17" stroke-dasharray="2 11 4 1"/><path d="M109 101.5h19" stroke-dasharray="2 6 1 2 2 3 1 1 1 1"/><path d="M110 102.5h14" stroke-dasharray="3 4 1 1 3 1 1 1"/><path d="M112 103.5h10" stroke-dasharray="6 2 2 1"/><path d="M126 104.5h2"/><path d="M121 106.5h10" stroke-dasharray="2 4 1 2 1 1"/><path d="M126 107.5h3" stroke-dasharray="1 1 1 1"/><path d="M120 111.5h1"/><path d="M32 121.5h1"/><path d="M115 140.5h1"/><path d="M78 143.5h1"/></g><g stroke="#22a884"><path d="M180 3.5h1"/><path d="M177 4.5h1"/><path d="M147 6.5h2"/><path d="M144 7.5h1"/><path d="M181 11.5h1"/><path d="M173 14.5h2"/><path d="M175 15.5h1"/><path d="M182 18.5h1"/><path d="M180 20.5h1"/><path d="M131 21.5h32" stroke-dasharray="1 24 1 5 1 1"/><path d="M166 22.5h1"/><path d="M154 24.5h1"/><path d="M121 32.5h16" stroke-dasharray="1 12 1 1 1 1"/><path d="M146 34.5h8" stroke-dasharray="1 6 1 1"/><path d="M146 35.5h20" stroke-dasharray="1 1 1 16 1 1"/><path d="M147 36.5h33" stroke-dasharray="1 31 1 1"/><path d="M146 37.5h44" stroke-dasharray="2 1 1 39 1 1"/><path d="M149 38.5h1"/><path d="M119 39.5h35" stroke-dasharray="1 24 2 1 1 2 1 2 1 1"/><path d="M141 40.5h1"/><path d="M130 41.5h28" stroke-dasharray="1 26 1 1"/><path d="M125 42.5h28" stroke-dasharray="1 6 1 4 2 3 3 3 1 3 1 1"/><path d="M124 43.5h22" stroke-dasharray="1 13 1 6 1 1"/><path d="M136 44.5h15" stroke-dasharray="2 3 1 8 1 1"/><path d="M132 45.5h29" stroke-dasharray="4 14 2 1 1 6 1 1"/><path d="M131 46.5h25" stroke-dasharray="1 3 2 11 2 5 1 1"/><path d="M118 47.5h34" stroke-dasharray="1 11 1 1 2 2 1 1 1 3 1 6 3 1"/><path d="M89 48.5h67" stroke-dasharray="2 27 1 31 2 3 1 1"/><path d="M126 49.5h26" stroke-dasharray="1 9 1 9 1 4 1 1"/><path d="M134 50.5h25" stroke-dasharray="1 7 2 4 1 9 1 1"/><path d="M83 51.5h72" stroke-dasharray="1 50 2 3 1 7 1 2 1 1 1 1 1 1"/><path d="M149 52.5h1"/><path d="M116 53.5h1"/><path d="M112 54.5h45" stroke-dasharray="1 7 1 10 1 24 1 1"/><path d="M47 55.5h67" stroke-dasharray="2 64 1 1"/><path d="M113 56.5h30" stroke-dasharray="1 26 3 1"/><path d="M131 57.5h16" stroke-dasharray="2 5 2 2 1 3 1 1"/><path d="M114 58.5h33" stroke-dasharray="1 13 1 1 1 1 1 12 2 1"/><path d="M119 59.5h3" stroke-dasharray="1 1 1 1"/><path d="M113 60.5h36" stroke-dasharray="1 12 1 21 1 1"/><path d="M51 61.5h75" stroke-dasharray="1 72 2 1"/><path d="M123 62.5h1"/><path d="M121 64.5h2"/><path d="M103 65.5h26" stroke-dasharray="2 16 1 6 1 1"/><path d="M119 66.5h1"/><path d="M112 67.5h83" stroke-dasharray="1 1 2 2 1 3 1 71 1 1"/><path d="M108 68.5h86" stroke-dasharray="1 1 1 1 2 19 1 59 1 1"/><path d="M109 69.5h24" stroke-dasharray="1 1 2 2 2 1 1 13 1 1"/><path d="M100 70.5h96" stroke-dasharray="3 92 1 1"/><path d="M101 71.5h12" stroke-dasharray="4 1 2 3 2 1"/><path d="M101 72.5h17" stroke-dasharray="4 1 1 8 3 1"/><path d="M99 73.5h20" stroke-dasharray="2 3 1 1 1 10 2 1"/><path d="M100 74.5h46" stroke-dasharray="1 4 1 10 1 16 1 11 1 1"/><path d="M106 75.5h35" stroke-dasharray="1 8 1 13 1 9 2 1"/><path d="M63 76.5h75" stroke-dasharray="1 1 1 31 1 17 3 1 1 17 1 1"/><path d="M43 77.5h63" stroke-dasharray="1 1 2 20 1 37 1 1"/><path d="M40 78.5h73" stroke-dasharray="1 6 2 6 1 2 1 8 1 27 1 4 1 11 1 1"/><path d="M57 79.5h76" stroke-dasharray="1 11 1 31 1 30 1 1"/><path d="M37 80.5h81" stroke-dasharray="1 13 2 2 2 60 1 1"/><path d="M36 81.5h99" stroke-dasharray="1 15 2 16 1 23 1 20 1 12 1 5 1 1"/><path d="M22 82.5h111" stroke-dasharray="1 3 1 1 1 2 2 1 1 57 1 1 1 20 1 3 1 12 1 1"/><path d="M30 83.5h104" stroke-dasharray="2 39 1 44 1 16 1 1"/><path d="M72 84.5h54" stroke-dasharray="1 17 1 24 1 1 1 7 1 1"/><path d="M73 85.5h17" stroke-dasharray="1 15 1 1"/><path d="M73 86.5h19" stroke-dasharray="1 13 1 3 1 1"/><path d="M92 87.5h37" stroke-dasharray="1 35 1 1"/><path d="M76 88.5h106" stroke-dasharray="1 6 2 96 1 1"/><path d="M77 89.5h18" stroke-dasharray="1 3 2 10 2 1"/><path d="M77 90.5h51" stroke-dasharray="1 2 2 13 2 30 1 1"/><path d="M78 91.5h20" stroke-dasharray="2 16 2 1"/><path d="M79 92.5h48" stroke-dasharray="1 18 2 26 1 1"/><path d="M99 93.5h29" stroke-dasharray="2 24 1 1 1 1"/><path d="M101 94.5h2"/><path d="M103 95.5h18" stroke-dasharray="1 16 1 1"/><path d="M103 96.5h2"/><path d="M105 97.5h1"/><path d="M106 98.5h1"/><path d="M107 99.5h2"/><path d="M108 100.5h16" stroke-dasharray="2 11 1 1 1 1"/><path d="M110 101.5h12" stroke-dasharray="1 9 2 1"/><path d="M110 102.5h12" stroke-dasharray="3 4 1 1 3 1"/><path d="M112 103.5h10" stroke-dasharray="3 2 1 2 2 1"/><path d="M126 104.5h2"/><path d="M121 106.5h10" stroke-dasharray="1 8 1 1"/><path d="M128 107.5h1"/><path d="M115 140.5h1"/><path d="M78 143.5h1"/></g><g stroke="#5abc6d"><path d="M180 3.5h1"/><path d="M177 4.5h1"/><path d="M181 11.5h1"/><path d="M173 14.5h2"/><path d="M175 15.5h1"/><path d="M182 18.5h1"/><path d="M180 20.5h1"/><path d="M156 21.5h7" stroke-dasharray="1 5 1 1"/><path d="M166 22.5h1"/><path d="M154 24.5h1"/><path d="M121 32.5h1"/><path d="M153 34.5h1"/><path d="M146 35.5h20" stroke-dasharray="1 18 1 1"/><path d="M179 36.5h1"/><path d="M149 37.5h41" stroke-dasharray="1 39 1 1"/><path d="M149 38.5h1"/><path d="M119 39.5h35" stroke-dasharray="1 24 1 2 1 2 1 2 1 1"/><path d="M141 40.5h1"/><path d="M130 41.5h28" stroke-dasharray="1 26 1 1"/><path d="M132 42.5h13" stroke-dasharray="1 4 2 3 3 1"/><path d="M124 43.5h22" stroke-dasharray="1 13 1 6 1 1"/><path d="M136 44.5h15" stroke-dasharray="2 3 1 8 1 1"/><path d="M132 45.5h29" stroke-dasharray="3 15 2 1 1 6 1 1"/><path d="M131 46.5h19" stroke-dasharray="1 3 1 13 1 1"/><path d="M133 47.5h19" stroke-dasharray="1 2 1 1 1 3 1 7 2 1"/><path d="M90 48.5h61" stroke-dasharray="1 59 1 1"/><path d="M126 49.5h21" stroke-dasharray="1 9 1 9 1 1"/><path d="M134 50.5h25" stroke-dasharray="1 7 2 14 1 1"/><path d="M83 51.5h57" stroke-dasharray="1 50 2 3 1 1"/><path d="M149 52.5h1"/><path d="M112 54.5h45" stroke-dasharray="1 7 1 10 1 24 1 1"/><path d="M47 55.5h67" stroke-dasharray="1 65 1 1"/><path d="M113 56.5h30" stroke-dasharray="1 26 1 1 1 1"/><path d="M138 57.5h2"/><path d="M114 58.5h32" stroke-dasharray="1 15 1 1 1 12 1 1"/><path d="M119 59.5h1"/><path d="M51 61.5h75" stroke-dasharray="1 73 1 1"/><path d="M122 64.5h1"/><path d="M103 65.5h19" stroke-dasharray="2 16 1 1"/><path d="M119 66.5h1"/><path d="M112 67.5h83" stroke-dasharray="1 1 1 3 1 75 1 1"/><path d="M110 68.5h84" stroke-dasharray="1 1 2 79 1 1"/><path d="M109 69.5h10" stroke-dasharray="1 2 1 5 1 1"/><path d="M101 70.5h95" stroke-dasharray="2 92 1 1"/><path d="M101 71.5h11" stroke-dasharray="2 1 1 1 2 3 1 1"/><path d="M103 72.5h15" stroke-dasharray="2 10 3 1"/><path d="M99 73.5h20" stroke-dasharray="2 3 1 1 1 10 2 1"/><path d="M100 74.5h46" stroke-dasharray="1 4 1 10 1 28 1 1"/><path d="M106 75.5h10" stroke-dasharray="1 8 1 1"/><path d="M65 76.5h73" stroke-dasharray="1 31 1 18 1 2 1 17 1 1"/><path d="M43 77.5h63" stroke-dasharray="1 1 2 20 1 37 1 1"/><path d="M40 78.5h56" stroke-dasharray="1 6 2 6 1 11 1 27 1 1"/><path d="M101 79.5h32" stroke-dasharray="1 30 1 1"/><path d="M37 80.5h16" stroke-dasharray="1 13 2 1"/><path d="M52 81.5h77" stroke-dasharray="1 17 1 23 1 20 1 12 1 1"/><path d="M22 82.5h111" stroke-dasharray="1 3 1 5 1 1 1 59 1 37 1 1"/><path d="M31 83.5h86" stroke-dasharray="1 39 1 44 1 1"/><path d="M90 84.5h26" stroke-dasharray="1 24 1 1"/><path d="M73 85.5h17" stroke-dasharray="1 15 1 1"/><path d="M73 86.5h19" stroke-dasharray="1 13 1 3 1 1"/><path d="M92 87.5h37" stroke-dasharray="1 35 1 1"/><path d="M76 88.5h106" stroke-dasharray="1 7 1 96 1 1"/><path d="M94 89.5h1"/><path d="M77 90.5h20" stroke-dasharray="1 2 1 15 1 1"/><path d="M96 91.5h2"/><path d="M98 92.5h1"/><path d="M99 93.5h29" stroke-dasharray="1 27 1 1"/><path d="M101 94.5h2"/><path d="M120 95.5h1"/><path d="M103 96.5h2"/><path d="M106 98.5h1"/><path d="M107 99.5h2"/><path d="M108 100.5h16" stroke-dasharray="2 11 1 1 1 1"/><path d="M110 101.5h12" stroke-dasharray="1 9 2 1"/><path d="M111 102.5h10" stroke-dasharray="1 5 1 1 2 1"/><path d="M114 103.5h8" stroke-dasharray="1 2 1 2 2 1"/><path d="M130 106.5h1"/><path d="M115 140.5h1"/><path d="M78 143.5h1"/></g><g stroke="#7ad151"><path d="M180 3.5h1"/><path d="M181 11.5h1"/><path d="M173 14.5h2"/><path d="M175 15.5h1"/><path d="M182 18.5h1"/><path d="M180 20.5h1"/><path d="M156 21.5h7" stroke-dasharray="1 5 1 1"/><path d="M166 22.5h1"/><path d="M154 24.5h1"/><path d="M121 32.5h1"/><path d="M153 34.5h1"/><path d="M165 35.5h1"/><path d="M179 36.5h1"/><path d="M149 37.5h41" stroke-dasharray="1 39 1 1"/><path d="M149 38.5h1"/><path d="M144 39.5h10" stroke-dasharray="1 2 1 2 1 2 1 1"/><path d="M141 40.5h1"/><path d="M130 41.5h28" stroke-dasharray="1 26 1 1"/><path d="M132 42.5h13" stroke-dasharray="1 4 2 3 3 1"/><path d="M124 43.5h22" stroke-dasharray="1 13 1 6 1 1"/><path d="M136 44.5h15" stroke-dasharray="2 3 1 8 1 1"/><path d="M132 45.5h29" stroke-dasharray="3 15 2 8 1 1"/><path d="M133 47.5h18" stroke-dasharray="1 2 1 1 1 3 1 7 1 1"/><path d="M126 49.5h21" stroke-dasharray="1 9 1 9 1 1"/><path d="M134 50.5h10" stroke-dasharray="1 7 2 1"/><path d="M83 51.5h57" stroke-dasharray="1 50 2 3 1 1"/><path d="M149 52.5h1"/><path d="M112 54.5h45" stroke-dasharray="1 18 1 24 1 1"/><path d="M47 55.5h67" stroke-dasharray="1 65 1 1"/><path d="M140 56.5h3" stroke-dasharray="1 1 1 1"/><path d="M138 57.5h2"/><path d="M114 58.5h17" stroke-dasharray="1 15 1 1"/><path d="M119 59.5h1"/><path d="M51 61.5h1"/><path d="M103 65.5h19" stroke-dasharray="1 17 1 1"/><path d="M119 66.5h1"/><path d="M114 67.5h81" stroke-dasharray="1 79 1 1"/><path d="M113 68.5h81" stroke-dasharray="1 79 1 1"/><path d="M118 69.5h1"/><path d="M195 70.5h1"/><path d="M101 71.5h4" stroke-dasharray="2 1 1 1"/><path d="M104 72.5h14" stroke-dasharray="1 10 1 1 1 1"/><path d="M99 73.5h19" stroke-dasharray="2 16 1 1"/><path d="M116 74.5h30" stroke-dasharray="1 28 1 1"/><path d="M115 75.5h1"/><path d="M65 76.5h52" stroke-dasharray="1 50 1 1"/><path d="M46 77.5h1"/><path d="M47 78.5h1"/><path d="M101 79.5h32" stroke-dasharray="1 30 1 1"/><path d="M128 81.5h1"/><path d="M34 82.5h61" stroke-dasharray="1 59 1 1"/><path d="M31 83.5h41" stroke-dasharray="1 39 1 1"/><path d="M115 84.5h1"/><path d="M73 85.5h17" stroke-dasharray="1 15 1 1"/><path d="M73 86.5h15" stroke-dasharray="1 13 1 1"/><path d="M181 88.5h1"/><path d="M94 89.5h1"/><path d="M77 90.5h1"/><path d="M96 91.5h2"/><path d="M99 93.5h29" stroke-dasharray="1 27 1 1"/><path d="M103 96.5h2"/><path d="M106 98.5h1"/><path d="M108 100.5h16" stroke-dasharray="1 12 1 1 1 1"/><path d="M120 101.5h1"/><path d="M119 102.5h1"/><path d="M115 140.5h1"/><path d="M78 143.5h1"/></g><g stroke="#c0dd40"><path d="M181 11.5h1"/><path d="M173 14.5h2"/><path d="M175 15.5h1"/><path d="M182 18.5h1"/><path d="M180 20.5h1"/><path d="M156 21.5h7" stroke-dasharray="1 5 1 1"/><path d="M166 22.5h1"/><path d="M154 24.5h1"/><path d="M121 32.5h1"/><path d="M153 34.5h1"/><path d="M165 35.5h1"/><path d="M179 36.5h1"/><path d="M149 37.5h41" stroke-dasharray="1 39 1 1"/><path d="M149 38.5h1"/><path d="M144 39.5h7" stroke-dasharray="1 2 1 2 1 1"/><path d="M141 40.5h1"/><path d="M130 41.5h28" stroke-dasharray="1 26 1 1"/><path d="M132 42.5h13" stroke-dasharray="1 4 2 3 3 1"/><path d="M124 43.5h22" stroke-dasharray="1 13 1 6 1 1"/><path d="M136 44.5h15" stroke-dasharray="2 3 1 8 1 1"/><path d="M132 45.5h29" stroke-dasharray="3 15 2 8 1 1"/><path d="M133 47.5h10" stroke-dasharray="1 2 1 1 1 3 1 1"/><path d="M126 49.5h21" stroke-dasharray="1 9 1 9 1 1"/><path d="M134 50.5h10" stroke-dasharray="1 7 2 1"/><path d="M83 51.5h57" stroke-dasharray="1 50 2 3 1 1"/><path d="M149 52.5h1"/><path d="M112 54.5h45" stroke-dasharray="1 18 1 24 1 1"/><path d="M113 55.5h1"/><path d="M140 56.5h3" stroke-dasharray="1 1 1 1"/><path d="M138 57.5h2"/><path d="M51 61.5h1"/><path d="M121 65.5h1"/><path d="M114 67.5h81" stroke-dasharray="1 79 1 1"/><path d="M193 68.5h1"/><path d="M195 70.5h1"/><path d="M99 73.5h2"/><path d="M116 74.5h30" stroke-dasharray="1 28 1 1"/><path d="M115 75.5h1"/><path d="M65 76.5h52" stroke-dasharray="1 50 1 1"/><path d="M101 79.5h1"/><path d="M31 83.5h41" stroke-dasharray="1 39 1 1"/><path d="M73 85.5h17" stroke-dasharray="1 15 1 1"/><path d="M73 86.5h1"/><path d="M181 88.5h1"/><path d="M127 93.5h1"/><path d="M121 100.5h1"/><path d="M115 140.5h1"/><path d="M78 143.5h1"/></g><g stroke="#fde725"><path d="M181 11.5h1"/><path d="M173 14.5h2"/><path d="M175 15.5h1"/><path d="M182 18.5h1"/><path d="M180 20.5h1"/><path d="M156 21.5h7" stroke-dasharray="1 5 1 1"/><path d="M166 22.5h1"/><path d="M154 24.5h1"/><path d="M121 32.5h1"/><path d="M153 34.5h1"/><path d="M165 35.5h1"/><path d="M179 36.5h1"/><path d="M149 37.5h41" stroke-dasharray="1 39 1 1"/><path d="M149 38.5h1"/><path d="M144 39.5h7" stroke-dasharray="1 2 1 2 1 1"/><path d="M141 40.5h1"/><path d="M130 41.5h28" stroke-dasharray="1 26 1 1"/><path d="M132 42.5h13" stroke-dasharray="1 4 2 3 3 1"/><path d="M124 43.5h22" stroke-dasharray="1 13 1 6 1 1"/><path d="M136 44.5h15" stroke-dasharray="2 3 1 8 1 1"/><path d="M132 45.5h29" stroke-dasharray="3 15 2 8 1 1"/><path d="M133 47.5h10" stroke-dasharray="1 2 1 1 1 3 1 1"/><path d="M126 49.5h21" stroke-dasharray="1 9 1 9 1 1"/><path d="M134 50.5h10" stroke-dasharray="1 7 2 1"/><path d="M83 51.5h57" stroke-dasharray="1 50 2 3 1 1"/><path d="M149 52.5h1"/><path d="M112 54.5h45" stroke-dasharray="1 18 1 24 1 1"/><path d="M113 55.5h1"/><path d="M140 56.5h3" stroke-dasharray="1 1 1 1"/><path d="M138 57.5h2"/><path d="M51 61.5h1"/><path d="M194 67.5h1"/><path d="M193 68.5h1"/><path d="M195 70.5h1"/><path d="M99 73.5h2"/><path d="M116 74.5h30" stroke-dasharray="1 28 1 1"/><path d="M181 88.5h1"/><path d="M127 93.5h1"/><path d="M115 140.5h1"/><path d="M78 143.5h1"/></g></g><use href="#grid"/></g><g transform="translate(131,1072)"><rect width="807.3" height="68.6" fill="#d9d9d9"/><text x="403.65" y="46.2" font-size="36.67" fill="#1a1a1a" text-anchor="middle">med</text></g><g transform="translate(131,1140.6)"><rect width="807.3" height="710.2" fill="#ebebeb"/><path d="M0 28.4H807.3M0 129.6H807.3M0 230.8H807.3M0 332H807.3M0 433.2H807.3M0 534.4H807.3M0 635.6H807.3M195.8 0V710.2M418.3 0V710.2M640.8 0V710.2" stroke="#fff" stroke-width="4.45" fill="none"/><g transform="translate(25.22,28.4) scale(3.7083,4.2167)" fill="none" stroke-width="1.04"><g stroke="#440154"><path d="M160 1.5h4"/><path d="M154 2.5h13"/><path d="M153 3.5h28" stroke-dasharray="17 1 10 1"/><path d="M152 4.5h30"/><path d="M149 5.5h34"/><path d="M145 6.5h38"/><path d="M144 7.5h40"/><path d="M143 8.5h41"/><path d="M142 9.5h42"/><path d="M141 10.5h44"/><path d="M141 11.5h44"/><path d="M140 12.5h45"/><path d="M138 13.5h47"/><path d="M137 14.5h48"/><path d="M135 15.5h50"/><path d="M133 16.5h52"/><path d="M132 17.5h53"/><path d="M131 18.5h55"/><path d="M130 19.5h56"/><path d="M129 20.5h58"/><path d="M129 21.5h58"/><path d="M129 22.5h59"/><path d="M129 23.5h60"/><path d="M129 24.5h60"/><path d="M128 25.5h62"/><path d="M128 26.5h62"/><path d="M127 27.5h64"/><path d="M126 28.5h65"/><path d="M124 29.5h67"/><path d="M124 30.5h67"/><path d="M121 31.5h70"/><path d="M119 32.5h72"/><path d="M46 33.5h145" stroke-dasharray="2 69 74 1"/><path d="M46 34.5h145" stroke-dasharray="3 68 74 1"/><path d="M46 35.5h145" stroke-dasharray="4 66 75 1"/><path d="M46 36.5h145" stroke-dasharray="5 65 75 1"/><path d="M46 37.5h145" stroke-dasharray="6 63 76 1"/><path d="M46 38.5h145" stroke-dasharray="6 63 76 1"/><path d="M46 39.5h145" stroke-dasharray="7 29 7 25 77 1"/><path d="M46 40.5h145" stroke-dasharray="8 27 9 24 77 1"/><path d="M46 41.5h145" stroke-dasharray="9 25 12 22 77 1"/><path d="M46 42.5h145" stroke-dasharray="9 24 14 20 78 1"/><path d="M46 43.5h145" stroke-dasharray="9 24 18 16 78 1"/><path d="M46 44.5h145" stroke-dasharray="9 24 21 6 2 2 81 1"/><path d="M46 45.5h144" stroke-dasharray="10 22 105 2 5 1"/><path d="M46 46.5h144" stroke-dasharray="10 22 103 4 5 1"/><path d="M46 47.5h144" stroke-dasharray="11 21 103 7 2 1"/><path d="M46 48.5h134" stroke-dasharray="11 21 102 1"/><path d="M46 49.5h133" stroke-dasharray="11 19 103 1"/><path d="M46 50.5h133" stroke-dasharray="11 17 105 1"/><path d="M46 51.5h132" stroke-dasharray="10 18 104 1"/><path d="M46 52.5h132" stroke-dasharray="9 17 106 1"/><path d="M46 53.5h131" stroke-dasharray="8 17 106 1"/><path d="M46 54.5h130" stroke-dasharray="8 16 106 1"/><path d="M46 55.5h130" stroke-dasharray="8 15 107 1"/><path d="M46 56.5h130" stroke-dasharray="8 13 109 1"/><path d="M46 57.5h146" stroke-dasharray="8 1 3 4 2 2 111 14 1 1"/><path d="M46 58.5h155" stroke-dasharray="131 13 11 1"/><path d="M46 59.5h155" stroke-dasharray="132 12 11 1"/><path d="M46 60.5h155" stroke-dasharray="132 12 11 1"/><path d="M46 61.5h155" stroke-dasharray="133 11 11 1"/><path d="M46 62.5h154" stroke-dasharray="134 10 10 1"/><path d="M46 63.5h154" stroke-dasharray="142 2 10 1"/><path d="M46 64.5h153"/><path d="M45 65.5h154"/><path d="M45 66.5h154"/><path d="M45 67.5h153"/><path d="M45 68.5h153"/><path d="M45 69.5h153"/><path d="M45 70.5h153"/><path d="M45 71.5h153"/><path d="M8 72.5h189" stroke-dasharray="4 33 152 1"/><path d="M8 73.5h189" stroke-dasharray="5 32 152 1"/><path d="M7 74.5h190" stroke-dasharray="8 30 152 1"/><path d="M7 75.5h189" stroke-dasharray="8 30 151 1"/><path d="M7 76.5h189" stroke-dasharray="8 30 151 1"/><path d="M5 77.5h191" stroke-dasharray="10 27 154 1"/><path d="M3 78.5h192" stroke-dasharray="13 24 155 1"/><path d="M3 79.5h192" stroke-dasharray="13 23 110 1 45 1"/><path d="M4 80.5h190" stroke-dasharray="15 18 110 3 44 1"/><path d="M4 81.5h188" stroke-dasharray="19 13 108 7 2 1 38 1"/><path d="M5 82.5h186" stroke-dasharray="30 1 107 12 36 1"/><path d="M6 83.5h183" stroke-dasharray="28 2 104 16 33 1"/><path d="M6 84.5h182" stroke-dasharray="132 20 30 1"/><path d="M7 85.5h179" stroke-dasharray="131 21 27 1"/><path d="M8 86.5h178" stroke-dasharray="130 22 26 1"/><path d="M8 87.5h176" stroke-dasharray="129 23 24 1"/><path d="M9 88.5h174" stroke-dasharray="127 24 23 1"/><path d="M9 89.5h173" stroke-dasharray="126 24 23 1"/><path d="M9 90.5h173" stroke-dasharray="125 24 24 1"/><path d="M10 91.5h171" stroke-dasharray="121 27 23 1"/><path d="M10 92.5h170" stroke-dasharray="122 25 23 1"/><path d="M10 93.5h170" stroke-dasharray="122 24 24 1"/><path d="M11 94.5h168" stroke-dasharray="121 25 22 1"/><path d="M11 95.5h168" stroke-dasharray="122 23 23 1"/><path d="M11 96.5h167" stroke-dasharray="123 21 23 1"/><path d="M12 97.5h166" stroke-dasharray="122 19 25 1"/><path d="M12 98.5h165" stroke-dasharray="123 12 30 1"/><path d="M12 99.5h164" stroke-dasharray="123 11 30 1"/><path d="M13 100.5h163" stroke-dasharray="122 11 30 1"/><path d="M13 101.5h162" stroke-dasharray="123 10 29 1"/><path d="M14 102.5h160" stroke-dasharray="123 8 29 1"/><path d="M14 103.5h160" stroke-dasharray="124 6 30 1"/><path d="M15 104.5h158"/><path d="M16 105.5h156"/><path d="M16 106.5h155"/><path d="M17 107.5h153"/><path d="M18 108.5h152"/><path d="M18 109.5h151"/><path d="M19 110.5h149"/><path d="M20 111.5h147"/><path d="M20 112.5h146"/><path d="M21 113.5h144"/><path d="M22 114.5h141"/><path d="M23 115.5h139"/><path d="M24 116.5h137"/><path d="M24 117.5h135"/><path d="M25 118.5h133"/><path d="M25 119.5h132"/><path d="M25 120.5h131"/><path d="M25 121.5h130"/><path d="M25 122.5h129"/><path d="M25 123.5h128"/><path d="M25 124.5h127"/><path d="M26 125.5h125"/><path d="M25 126.5h125"/><path d="M25 127.5h123"/><path d="M20 128.5h127" stroke-dasharray="3 1 123 1"/><path d="M20 129.5h126"/><path d="M20 130.5h125"/><path d="M20 131.5h124"/><path d="M20 132.5h123"/><path d="M21 133.5h120"/><path d="M22 134.5h117"/><path d="M23 135.5h115"/><path d="M23 136.5h113"/><path d="M25 137.5h110"/><path d="M25 138.5h108"/><path d="M26 139.5h104"/><path d="M27 140.5h101"/><path d="M26 141.5h99" stroke-dasharray="90 5 4 1"/><path d="M26 142.5h88"/><path d="M26 143.5h89"/><path d="M25 144.5h90" stroke-dasharray="63 3 15 4 5 1"/><path d="M25 145.5h80" stroke-dasharray="4 2 41 9 1 2 3 10 8 1"/><path d="M26 146.5h79" stroke-dasharray="2 3 41 28 5 1"/><path d="M26 147.5h44" stroke-dasharray="2 3 39 1"/><path d="M27 148.5h42" stroke-dasharray="1 3 38 1"/><path d="M35 149.5h28" stroke-dasharray="22 3 3 1"/><path d="M38 150.5h14"/><path d="M37 151.5h14"/><path d="M40 152.5h9"/><path d="M41 153.5h6"/></g><g stroke="#46286d"><path d="M160 1.5h4"/><path d="M154 2.5h13" stroke-dasharray="6 1 6 1"/><path d="M153 3.5h28" stroke-dasharray="2 2 1 3 9 1 10 1"/><path d="M162 4.5h20"/><path d="M149 5.5h34" stroke-dasharray="1 1 1 6 2 1 22 1"/><path d="M145 6.5h38" stroke-dasharray="6 1 1 2 3 1 2 1 21 1"/><path d="M144 7.5h39" stroke-dasharray="8 1 2 1 5 1 19 1 1 1"/><path d="M143 8.5h41" stroke-dasharray="3 2 1 1 1 4 7 1 18 1 2 1"/><path d="M142 9.5h42" stroke-dasharray="1 1 1 1 4 1 2 1 8 1 11 1 9 1"/><path d="M141 10.5h44" stroke-dasharray="3 1 1 1 1 4 10 1 8 1 9 1 1 1 1 1"/><path d="M143 11.5h42" stroke-dasharray="17 1 5 1 9 1 8 1"/><path d="M140 12.5h45" stroke-dasharray="2 1 4 1 15 1 4 2 4 1 2 1 7 1"/><path d="M138 13.5h47" stroke-dasharray="7 1 12 2 1 3 1 4 3 1 3 1 8 1"/><path d="M137 14.5h48" stroke-dasharray="11 2 4 1 6 1 23 1"/><path d="M135 15.5h50" stroke-dasharray="12 1 2 1 5 3 4 3 19 1"/><path d="M133 16.5h52" stroke-dasharray="12 1 2 2 2 2 3 1 1 1 1 3 2 1 18 1"/><path d="M132 17.5h53" stroke-dasharray="6 1 9 1 1 1 1 1 7 1 1 4 9 1 2 1 6 1"/><path d="M131 18.5h55" stroke-dasharray="16 1 12 4 1 1 3 1 4 2 10 1"/><path d="M130 19.5h56" stroke-dasharray="33 2 4 1 4 1 11 1"/><path d="M129 20.5h58" stroke-dasharray="17 1 2 1 15 3 6 1 12 1"/><path d="M129 21.5h58" stroke-dasharray="35 1 1 3 1 1 1 4 11 1"/><path d="M129 22.5h59" stroke-dasharray="15 1 20 1 1 3 6 1 11 1"/><path d="M129 23.5h60" stroke-dasharray="13 1 20 2 1 1 1 2 11 1 7 1"/><path d="M129 24.5h60" stroke-dasharray="14 1 20 3 1 4 1 1 2 1 4 1 7 1"/><path d="M128 25.5h62" stroke-dasharray="40 2 4 1 4 1 3 1 6 1"/><path d="M128 26.5h62" stroke-dasharray="32 1 7 2 1 2 3 1 6 1 6 1"/><path d="M127 27.5h64" stroke-dasharray="31 2 6 1 2 1 1 1 2 1 9 1 6 1"/><path d="M126 28.5h65" stroke-dasharray="14 1 26 1 5 3 10 1 4 1"/><path d="M124 29.5h67" stroke-dasharray="2 1 3 1 36 2 2 1 1 2 6 1 9 1"/><path d="M124 30.5h67" stroke-dasharray="6 1 11 1 24 4 1 2 6 2 1 1 1 2 1 1 2 1"/><path d="M121 31.5h69" stroke-dasharray="7 1 1 1 37 6 7 1 1 1 1 4 1 1"/><path d="M119 32.5h69" stroke-dasharray="5 1 4 3 36 3 1 2 8 5 1 1"/><path d="M117 33.5h72" stroke-dasharray="11 2 1 1 1 1 33 1 2 3 10 5 1 1"/><path d="M117 34.5h74" stroke-dasharray="7 1 2 2 4 1 4 1 15 1 15 1 11 1 1 1 1 2 1 1 1 1"/><path d="M116 35.5h75" stroke-dasharray="11 2 10 1 33 1 7 1 1 1 1 2 1 1 2 1"/><path d="M116 36.5h75" stroke-dasharray="11 1 10 1 47 2 3 1"/><path d="M115 37.5h76" stroke-dasharray="13 1 3 1 2 1 1 1 46 1 1 3 2 1"/><path d="M115 38.5h76" stroke-dasharray="20 1 51 1 1 1 1 1"/><path d="M114 39.5h77" stroke-dasharray="73 1 3 1"/><path d="M114 40.5h77" stroke-dasharray="8 1 1 1 7 1 7 1 50 1"/><path d="M114 41.5h77" stroke-dasharray="4 3 11 1 4 1 17 1 3 2 30 1"/><path d="M113 42.5h78" stroke-dasharray="5 4 2 1 4 1 31 1 27 1 1 1"/><path d="M113 43.5h78" stroke-dasharray="4 1 2 4 2 1 2 1 22 1 13 1 24 1"/><path d="M95 44.5h96" stroke-dasharray="2 1 2 6 2 2 1 1 14 1 37 3 5 1 18 1"/><path d="M96 45.5h94" stroke-dasharray="1 1 2 1 1 3 17 1 1 2 5 1 32 4 2 1 12 2 5 1"/><path d="M88 46.5h102" stroke-dasharray="3 6 1 2 3 2 16 1 1 1 1 1 39 1 1 1 2 4 7 4 5 1"/><path d="M87 47.5h103" stroke-dasharray="5 5 1 2 1 3 1 1 14 1 5 1 39 3 2 3 7 7 2 1"/><path d="M87 48.5h93" stroke-dasharray="5 1 2 4 3 1 3 1 2 1 11 1 4 1 1 1 37 1 2 4 7 1"/><path d="M86 49.5h93" stroke-dasharray="6 2 3 4 1 1 3 2 2 2 10 1 1 1 3 1 36 1 3 6 4 1"/><path d="M88 50.5h91" stroke-dasharray="1 6 2 1 4 1 4 1 12 1 4 2 1 1 33 2 1 1 1 1 2 1 1 2 1 1 3 1"/><path d="M83 51.5h95" stroke-dasharray="1 9 1 5 1 1 1 1 6 4 9 1 6 1 7 1 23 1 1 2 2 2 2 5 2 1"/><path d="M96 52.5h82" stroke-dasharray="2 2 4 1 3 3 17 2 4 2 27 4 4 2 2 1 2 1"/><path d="M46 53.5h131" stroke-dasharray="3 45 3 1 1 1 8 2 18 1 1 3 1 2 1 1 18 1 1 1 2 1 5 2 8 1"/><path d="M46 54.5h130" stroke-dasharray="4 43 35 1 1 1 3 2 24 1 4 1 10 1"/><path d="M46 55.5h130" stroke-dasharray="5 37 1 5 1 1 4 1 6 1 22 2 6 1 1 1 29 1 5 1"/><path d="M46 56.5h130" stroke-dasharray="5 1 1 35 1 2 3 1 7 1 9 1 12 2 2 2 2 3 19 2 3 1 15 1"/><path d="M46 57.5h146" stroke-dasharray="5 37 1 3 5 1 2 1 4 1 1 1 2 1 6 1 8 2 21 1 27 14 1 1"/><path d="M46 58.5h155" stroke-dasharray="2 1 2 35 1 1 3 1 1 1 3 1 12 1 14 1 1 1 41 1 7 14 4 1 2 1 2 1"/><path d="M46 59.5h152" stroke-dasharray="7 33 2 5 5 1 1 1 3 1 29 3 3 1 12 2 2 1 20 16 4 1"/><path d="M46 60.5h155" stroke-dasharray="5 4 1 29 3 2 2 2 4 2 2 1 3 1 17 1 11 3 20 1 7 1 10 12 3 1 3 1 1 1 1 1"/><path d="M46 61.5h154" stroke-dasharray="6 33 1 1 1 4 4 1 1 1 23 1 9 4 23 1 17 1 1 16 3 1 1 1"/><path d="M46 62.5h153" stroke-dasharray="2 1 3 2 1 28 8 1 1 1 10 1 4 2 15 1 2 1 3 1 18 1 5 1 18 1 1 17 1 1 1 1"/><path d="M46 63.5h154" stroke-dasharray="2 6 2 28 3 1 8 1 5 2 1 1 2 1 3 1 5 2 10 1 1 2 19 1 9 1 19 10 7 1"/><path d="M46 64.5h153" stroke-dasharray="3 3 1 1 2 27 2 1 1 1 9 5 1 1 1 1 5 1 3 1 17 2 7 3 4 1 3 1 3 2 3 1 9 1 4 1 2 1 1 8 4 1 4 1"/><path d="M45 65.5h154" stroke-dasharray="2 3 1 3 1 29 10 1 16 2 5 2 4 1 19 1 5 1 2 1 2 1 5 1 9 2 1 3 2 4 1 6 1 1 6 1"/><path d="M45 66.5h154" stroke-dasharray="8 2 1 1 1 26 47 1 6 1 5 1 7 2 2 3 1 2 10 1 3 3 1 1 1 7 8 1 1 1"/><path d="M45 67.5h151" stroke-dasharray="1 2 1 1 1 1 3 29 1 1 6 1 3 1 48 1 1 2 1 1 1 2 1 4 6 1 6 2 3 5 1 1 2 2 1 1 6 1"/><path d="M45 68.5h149" stroke-dasharray="10 28 46 1 15 1 2 1 3 6 4 1 9 3 2 6 2 1 1 1 1 1 4 1"/><path d="M45 69.5h152" stroke-dasharray="5 1 1 1 4 26 3 1 2 1 3 1 3 2 32 1 14 1 1 2 3 6 1 1 9 3 3 1 1 5 2 2 4 1 3 1 1 1"/><path d="M45 70.5h153" stroke-dasharray="8 2 2 2 1 25 1 1 2 1 1 1 14 1 14 1 3 1 4 1 8 1 6 1 4 1 2 1 1 1 7 1 4 1 7 3 1 1 1 2 3 2 2 1 3 1 1 1"/><path d="M46 71.5h152" stroke-dasharray="4 2 1 1 1 1 4 26 6 1 4 1 33 1 10 1 7 1 2 4 9 1 3 1 1 2 2 1 1 1 1 2 1 1 1 1 1 2 2 1 6 1"/><path d="M45 72.5h150" stroke-dasharray="6 1 2 1 1 28 9 1 2 1 51 4 1 2 1 2 1 1 5 1 22 2 1 2 2 1"/><path d="M46 73.5h151" stroke-dasharray="3 2 1 3 1 1 3 26 9 1 52 1 1 1 1 1 1 2 12 1 6 2 7 1 6 4 2 1"/><path d="M46 74.5h150" stroke-dasharray="4 1 2 1 4 1 1 1 1 21 2 1 4 2 3 1 2 1 23 1 19 1 6 2 2 2 3 1 15 1 1 1 2 1 4 3 3 4 2 1"/><path d="M45 75.5h151" stroke-dasharray="17 20 1 2 1 2 1 1 1 1 2 1 5 1 43 2 11 1 2 1 13 1 1 1 2 3 6 1 7 1"/><path d="M45 76.5h151" stroke-dasharray="21 16 1 2 1 2 6 1 38 1 5 1 3 1 12 1 1 1 15 1 2 1 2 1 1 1 1 1 1 1 3 1 1 1 3 1"/><path d="M42 77.5h154" stroke-dasharray="22 1 3 13 1 2 4 1 5 1 6 1 18 1 11 1 6 1 1 1 1 1 8 1 6 1 10 1 1 1 3 1 6 1 2 1 3 1 1 1 3 1"/><path d="M40 78.5h155" stroke-dasharray="3 2 12 1 5 4 2 18 2 1 2 1 5 1 22 1 18 2 2 1 2 2 7 1 1 1 10 1 2 1 7 1 5 2 5 1 1 1"/><path d="M39 79.5h156" stroke-dasharray="1 4 1 1 17 1 6 14 2 1 2 2 1 2 31 2 9 1 1 2 7 1 1 1 4 3 12 1 2 1 4 1 10 1 4 1 1 1"/><path d="M37 80.5h155" stroke-dasharray="3 4 1 1 21 1 2 14 3 1 1 1 1 3 1 2 6 1 6 1 27 1 3 1 3 5 1 3 18 1 7 1 1 1 4 1 3 1"/><path d="M36 81.5h156" stroke-dasharray="1 2 1 1 3 1 18 5 1 1 1 11 3 3 4 2 2 2 6 1 2 2 1 1 9 1 14 2 2 1 3 9 1 3 11 2 2 6 1 3 11 1"/><path d="M20 82.5h171" stroke-dasharray="15 6 1 1 1 1 7 1 9 1 6 1 2 10 2 2 1 1 9 3 36 1 4 15 4 1 4 3 2 6 1 3 11 1"/><path d="M29 83.5h160" stroke-dasharray="5 16 10 1 2 1 1 1 1 1 1 2 2 9 1 2 1 1 6 1 3 1 11 1 27 1 2 18 9 1 2 5 1 5 8 1"/><path d="M50 84.5h138" stroke-dasharray="8 2 1 1 1 3 4 2 1 8 1 2 2 1 6 1 1 2 1 1 35 1 1 1 1 21 11 2 1 2 1 2 1 1 1 1 6 1"/><path d="M50 85.5h136" stroke-dasharray="7 1 2 2 2 4 3 1 2 8 1 1 1 1 9 2 8 1 14 1 8 1 4 1 3 23 6 1 1 2 2 2 5 2 1 1 2 1"/><path d="M52 86.5h134" stroke-dasharray="2 2 7 4 2 1 1 2 2 9 1 1 24 1 8 1 2 2 7 3 2 1 1 23 1 1 5 1 1 2 1 1 2 1 2 1 1 2 3 1"/><path d="M58 87.5h125" stroke-dasharray="1 1 1 1 3 1 1 1 3 1 4 5 16 1 3 2 2 2 8 2 5 1 2 2 4 1 4 27 1 1 5 2 2 1 6 1 1 1"/><path d="M52 88.5h130" stroke-dasharray="2 1 2 1 3 4 6 2 1 1 2 3 1 1 3 2 11 1 5 1 1 1 9 1 5 1 2 1 5 4 1 24 1 5 3 2 1 1 4 1 4 1"/><path d="M53 89.5h129" stroke-dasharray="3 2 5 1 1 3 6 1 3 3 17 1 3 2 7 1 4 1 3 1 1 1 2 2 3 1 1 2 1 24 2 3 1 2 1 3 2 2 5 1 1 1"/><path d="M50 90.5h128" stroke-dasharray="1 1 3 1 2 1 1 1 4 2 12 1 4 2 5 2 11 1 6 2 7 1 3 1 6 27 1 1 3 5 2 1 1 3 3 1"/><path d="M52 91.5h129" stroke-dasharray="6 1 4 1 17 1 8 1 11 1 7 1 10 2 1 1 6 27 2 4 1 1 2 1 10 1 1 1"/><path d="M46 92.5h132" stroke-dasharray="1 1 2 1 1 1 2 1 4 2 1 1 1 2 20 1 3 1 13 2 11 4 10 25 4 5 2 2 8 1"/><path d="M50 93.5h127" stroke-dasharray="6 1 24 2 6 1 3 1 4 1 6 1 3 1 5 1 3 2 2 1 7 25 1 2 1 1 1 4 1 1 9 1"/><path d="M51 94.5h126" stroke-dasharray="2 1 3 1 12 1 1 2 6 1 6 1 1 2 1 2 15 2 19 1 1 25 6 3 2 1 5 1 2 1"/><path d="M40 95.5h137" stroke-dasharray="1 11 1 1 17 4 1 1 8 4 2 3 29 1 9 23 1 2 2 1 1 2 1 7 1 1 2 1"/><path d="M44 96.5h133" stroke-dasharray="1 3 1 1 3 1 4 1 12 5 1 1 2 1 11 2 1 1 1 1 4 1 11 1 19 22 2 6 1 5 7 1"/><path d="M44 97.5h133" stroke-dasharray="3 2 2 3 1 1 1 1 2 1 10 6 2 1 22 1 9 1 14 1 6 23 1 6 1 3 4 1 1 1 2 1"/><path d="M43 98.5h133" stroke-dasharray="3 2 1 2 2 5 5 1 6 1 2 1 18 2 2 1 1 1 1 1 1 1 1 1 6 1 1 1 5 1 1 2 12 13 1 9 2 5 2 4 5 1"/><path d="M43 99.5h132" stroke-dasharray="1 1 3 1 1 1 1 5 2 1 1 1 2 2 8 1 10 1 1 1 3 4 1 6 1 1 9 1 4 1 1 1 5 1 1 1 6 11 1 1 4 8 1 4 2 1 2 4 1 1"/><path d="M43 100.5h133" stroke-dasharray="1 7 1 2 6 2 3 1 11 1 1 1 1 1 2 1 1 1 3 6 1 1 1 1 3 1 1 1 4 1 1 1 20 14 1 4 1 8 1 3 1 2 8 1"/><path d="M39 101.5h136" stroke-dasharray="1 4 1 3 1 1 1 1 1 2 6 1 9 1 6 2 6 1 1 1 1 10 2 1 3 2 26 1 1 16 2 7 2 6 2 2 2 1"/><path d="M39 102.5h135" stroke-dasharray="2 5 1 1 1 2 2 1 1 1 9 1 12 1 2 1 4 1 4 5 1 1 3 1 1 1 1 2 2 1 14 1 2 1 8 10 1 2 1 3 1 2 1 5 2 5 3 1 1 1"/><path d="M39 103.5h135" stroke-dasharray="1 4 1 1 2 1 2 2 1 2 1 1 9 1 16 1 6 2 3 1 1 1 5 3 26 1 4 7 1 1 1 6 2 15 1 1 1 1"/><path d="M41 104.5h116" stroke-dasharray="1 2 3 1 1 2 1 3 1 1 8 2 1 2 2 1 4 1 5 4 2 2 1 3 1 2 1 1 2 1 1 1 6 1 10 1 2 1 12 1 1 5 1 1 1 8 1 1"/><path d="M46 105.5h125" stroke-dasharray="2 6 2 1 7 2 1 1 1 1 4 1 6 1 2 4 3 3 4 1 3 5 1 1 1 2 1 1 11 1 9 3 1 7 1 2 1 2 1 17 1 1"/><path d="M40 106.5h125" stroke-dasharray="2 2 1 2 1 4 10 1 2 1 2 1 1 2 3 3 9 1 1 2 1 2 2 2 5 4 1 3 1 2 6 1 12 1 1 4 1 10 1 7 1 5 1 1"/><path d="M42 107.5h126" stroke-dasharray="1 4 3 1 1 1 4 2 8 3 1 3 12 1 1 4 10 2 2 1 2 1 6 1 14 1 4 1 2 9 1 7 1 8 3 1"/><path d="M45 108.5h125" stroke-dasharray="1 1 4 2 1 1 2 1 13 3 10 2 3 1 1 1 1 1 8 2 11 1 1 1 1 2 16 1 2 9 2 1 1 11 4 1 1 1"/><path d="M39 109.5h127" stroke-dasharray="1 4 1 1 4 3 9 3 2 4 3 1 2 2 4 3 3 5 2 1 5 1 1 1 4 1 1 1 5 2 19 2 1 6 1 2 2 1 1 11 1 1"/><path d="M46 110.5h107" stroke-dasharray="4 1 3 1 5 1 4 1 2 2 2 1 2 6 1 11 2 2 3 1 5 3 1 2 3 1 1 1 1 1 2 1 2 1 3 3 7 4 1 4 1 2 2 1"/><path d="M39 111.5h115" stroke-dasharray="1 7 1 1 1 1 1 1 9 4 1 1 1 1 6 2 3 5 1 3 2 5 2 2 1 1 3 3 6 2 2 1 5 1 4 1 5 1 1 15 1 1"/><path d="M47 112.5h97" stroke-dasharray="1 2 1 2 1 3 4 3 1 6 4 2 2 3 1 3 3 1 4 3 1 1 2 2 2 2 7 1 1 1 6 1 1 1 4 1 4 2 3 3 1 1"/><path d="M48 113.5h117" stroke-dasharray="1 5 10 1 2 4 1 1 1 2 3 1 7 1 4 1 1 6 2 5 3 3 2 6 2 2 1 2 3 1 3 4 1 24 1 1"/><path d="M49 114.5h93" stroke-dasharray="3 2 1 3 3 2 4 9 1 4 5 2 4 6 2 1 1 1 1 3 1 1 2 3 1 1 3 2 2 2 5 1 5 1 2 1 2 1"/><path d="M39 115.5h104" stroke-dasharray="1 4 1 1 1 2 2 2 1 1 3 1 8 1 2 1 1 1 1 1 1 2 13 5 3 1 3 2 6 3 1 1 2 1 5 1 9 1 1 5 2 1"/><path d="M45 116.5h116" stroke-dasharray="2 1 1 7 1 1 9 4 1 1 2 1 1 2 2 1 3 1 1 1 1 4 14 1 5 1 17 1 1 1 4 5 1 16 1 1"/><path d="M39 117.5h106" stroke-dasharray="1 6 2 1 6 1 1 1 4 2 1 1 1 4 1 2 1 1 1 2 4 1 1 1 1 1 6 2 5 2 4 2 1 1 2 1 16 2 2 1 1 1 2 4 2 1"/><path d="M49 118.5h84" stroke-dasharray="2 3 6 2 1 1 3 2 1 1 2 1 1 1 3 2 2 8 6 1 9 1 1 1 3 1 7 2 5 1 4 1"/><path d="M38 119.5h115" stroke-dasharray="1 5 1 1 1 3 1 1 1 1 3 1 1 3 2 1 3 1 1 1 1 4 3 1 3 2 1 1 1 1 4 3 11 1 11 1 1 2 2 2 3 1 4 2 2 1 1 11 1 1"/><path d="M31 120.5h122" stroke-dasharray="1 5 1 1 1 6 1 2 4 1 5 1 1 3 1 1 3 1 2 2 1 1 3 1 4 1 4 1 6 1 3 1 5 1 1 1 8 3 2 4 2 1 7 4 2 8 1 1 1 1"/><path d="M31 121.5h124" stroke-dasharray="2 12 1 4 2 3 2 1 1 6 4 1 1 1 2 1 6 1 1 2 5 1 2 1 3 1 7 2 9 1 7 3 1 1 1 2 4 5 1 10 1 1 1 1"/><path d="M32 122.5h122" stroke-dasharray="1 7 1 2 2 2 1 1 2 4 1 2 4 3 4 1 3 1 1 3 6 2 5 1 4 1 20 3 9 1 3 1 1 7 1 8 3 1"/><path d="M32 123.5h121" stroke-dasharray="1 2 1 15 1 1 2 1 1 2 2 4 1 2 2 1 1 1 1 1 20 2 12 1 1 1 3 1 1 1 1 1 1 1 2 1 1 1 5 2 2 1 1 6 1 7 1 1"/><path d="M32 124.5h107" stroke-dasharray="2 9 1 1 1 3 1 1 1 1 3 3 3 5 2 2 2 1 4 3 4 1 3 1 1 1 1 1 1 1 12 1 1 1 2 1 1 1 1 1 4 3 10 1 1 1 1 1"/><path d="M33 125.5h107" stroke-dasharray="1 7 1 2 1 2 1 2 2 1 2 1 1 1 1 1 1 1 1 3 1 4 5 9 2 1 4 1 4 1 1 2 8 1 1 3 2 1 1 1 5 3 4 2 4 2 1 1"/><path d="M33 126.5h109" stroke-dasharray="1 3 3 1 1 2 1 3 1 3 1 1 2 3 2 13 3 6 1 1 5 1 1 4 3 2 2 2 3 2 2 3 3 2 4 1 6 1 1 1 1 3 1 2 1 1"/><path d="M33 127.5h101" stroke-dasharray="4 4 1 1 5 2 2 5 1 3 1 4 1 4 4 4 1 4 2 5 1 2 1 1 2 1 1 2 1 2 2 1 2 1 1 2 2 1 7 1 7 1 1 1"/><path d="M34 128.5h98" stroke-dasharray="1 2 3 1 2 1 2 4 1 4 1 1 1 1 1 1 1 2 1 1 1 1 1 2 1 1 6 3 3 4 3 4 1 5 5 1 3 3 6 1 2 1 5 1 2 1"/><path d="M33 129.5h107" stroke-dasharray="2 2 1 2 2 2 1 1 1 3 2 1 1 2 1 4 1 1 1 1 1 3 1 1 1 1 3 2 2 1 3 6 2 2 1 5 1 2 4 4 2 1 2 3 1 1 9 2 2 5 1 1"/><path d="M33 130.5h101" stroke-dasharray="2 4 2 1 1 2 3 1 1 6 1 1 3 4 2 1 1 12 1 10 1 2 1 7 1 1 3 1 1 1 1 1 1 3 12 1 2 1 1 1"/><path d="M32 131.5h101" stroke-dasharray="4 2 1 5 1 1 2 3 4 1 1 1 2 1 1 1 1 1 3 3 2 4 1 13 2 9 3 6 1 3 3 2 1 1 7 1 1 1 1 1"/><path d="M32 132.5h108" stroke-dasharray="9 1 3 2 2 3 8 1 1 1 1 4 1 2 1 9 2 9 1 11 3 6 1 6 1 1 8 1 1 3 2 2 1 1"/><path d="M32 133.5h109" stroke-dasharray="3 1 5 2 1 2 1 5 5 2 1 2 1 8 1 9 1 31 1 1 1 4 1 3 1 1 2 1 1 2 2 6 1 1"/><path d="M32 134.5h107" stroke-dasharray="7 4 1 3 1 6 2 2 1 23 1 30 1 5 1 2 1 1 4 2 1 3 2 2 1 1"/><path d="M32 135.5h103" stroke-dasharray="1 1 5 1 2 1 5 1 2 2 3 2 1 13 1 9 1 37 3 2 2 1 3 3 1 1"/><path d="M34 136.5h98" stroke-dasharray="7 1 2 1 9 59 1 8 5 1 1 2 1 1"/><path d="M31 137.5h104" stroke-dasharray="1 1 10 1 4 73 2 6 4 1 1 1"/><path d="M31 138.5h101" stroke-dasharray="1 1 10 3 2 73 2 2 1 2 1 2 1 1"/><path d="M31 139.5h95" stroke-dasharray="1 1 10 1 3 3 2 70 2 1 1 1"/><path d="M33 140.5h93" stroke-dasharray="2 2 8 1 3 1 1 1 1 62 1 6 1 2 1 1"/><path d="M38 141.5h87" stroke-dasharray="5 1 1 1 4 1 2 71 1 1"/><path d="M37 142.5h16" stroke-dasharray="2 3 6 1 1 1 2 1"/><path d="M33 143.5h46" stroke-dasharray="1 3 1 9 5 26 1 1"/><path d="M43 144.5h10" stroke-dasharray="1 7 2 1"/><path d="M32 145.5h1"/><path d="M32 148.5h10" stroke-dasharray="1 8 1 1"/><path d="M46 153.5h1"/></g><g stroke="#414487"><path d="M160 1.5h4"/><path d="M154 2.5h13" stroke-dasharray="6 1 6 1"/><path d="M153 3.5h28" stroke-dasharray="2 7 2 1 5 1 10 1"/><path d="M163 4.5h19"/><path d="M149 5.5h34" stroke-dasharray="1 13 16 2 2 1"/><path d="M145 6.5h37" stroke-dasharray="6 1 1 9 8 1 1 2 8 1"/><path d="M144 7.5h37" stroke-dasharray="4 8 2 4 3 1 3 1 1 2 1 1 6 1"/><path d="M143 8.5h41" stroke-dasharray="2 3 1 6 1 1 1 5 9 2 5 3 2 1"/><path d="M142 9.5h42" stroke-dasharray="1 5 1 6 3 1 1 4 1 1 4 1 2 3 4 3 1 1"/><path d="M143 10.5h38" stroke-dasharray="1 9 1 1 4 2 1 1 2 2 4 1 4 4 1 1"/><path d="M146 11.5h39" stroke-dasharray="1 5 7 3 1 6 1 8 7 1"/><path d="M140 12.5h45" stroke-dasharray="2 3 1 6 6 14 1 2 1 2 1 1 5 1"/><path d="M139 13.5h45" stroke-dasharray="1 2 2 8 1 1 4 20 6 1"/><path d="M139 14.5h46" stroke-dasharray="6 2 1 5 1 1 2 3 1 7 1 4 2 2 1 1 6 1"/><path d="M135 15.5h50" stroke-dasharray="10 10 1 12 4 3 2 1 7 1"/><path d="M133 16.5h52" stroke-dasharray="4 2 1 2 1 1 1 9 2 2 1 6 1 2 1 11 5 1"/><path d="M132 17.5h53" stroke-dasharray="1 1 2 3 3 2 1 10 3 9 2 2 1 1 1 3 1 1 1 1 2 1 1 1"/><path d="M131 18.5h53" stroke-dasharray="6 1 7 5 3 2 2 1 1 11 1 9 4 1"/><path d="M130 19.5h53" stroke-dasharray="15 6 1 2 1 1 5 10 2 4 1 1 2 1 1 1"/><path d="M129 20.5h52" stroke-dasharray="4 1 1 2 2 1 2 1 1 4 1 3 4 1 2 1 2 15 1 2 1 1"/><path d="M129 21.5h55" stroke-dasharray="15 2 1 2 1 2 11 14 3 1 1 1 1 1"/><path d="M129 22.5h55" stroke-dasharray="8 1 6 2 6 1 7 6 1 4 1 6 2 3 1 1"/><path d="M129 23.5h51" stroke-dasharray="13 5 15 16 2 1"/><path d="M129 24.5h60" stroke-dasharray="2 1 11 1 1 1 1 2 12 16 2 9 1 1"/><path d="M128 25.5h51" stroke-dasharray="3 1 2 2 7 2 1 1 1 2 6 1 2 1 1 17 1 1"/><path d="M128 26.5h62" stroke-dasharray="2 1 5 1 4 1 1 2 2 1 1 2 4 1 2 4 1 18 1 6 2 1"/><path d="M127 27.5h64" stroke-dasharray="5 1 14 4 2 1 1 7 1 1 1 23 3 1"/><path d="M126 28.5h65" stroke-dasharray="4 2 8 1 4 1 2 1 4 1 3 1 6 1 1 23 2 1"/><path d="M124 29.5h41" stroke-dasharray="2 1 3 2 2 1 3 1 2 3 7 1 2 2 9 1"/><path d="M124 30.5h42" stroke-dasharray="1 2 1 5 1 1 7 1 10 1 3 1 2 1 1 1 1 1 1 1"/><path d="M121 31.5h45" stroke-dasharray="3 2 2 4 16 1 5 2 5 1 4 1"/><path d="M119 32.5h49" stroke-dasharray="5 4 1 5 10 1 10 2 1 1 7 1 1 1"/><path d="M117 33.5h61" stroke-dasharray="6 1 1 10 3 4 1 1 10 1 4 1 7 10 1 1"/><path d="M117 34.5h60" stroke-dasharray="7 1 1 5 2 2 3 2 3 1 7 2 1 3 9 1 1 8 1 1"/><path d="M116 35.5h63" stroke-dasharray="3 1 3 1 3 4 2 1 4 2 3 1 10 1 6 2 3 5 1 2 3 1 1 1"/><path d="M116 36.5h65" stroke-dasharray="1 1 9 1 2 2 1 1 1 5 1 1 1 1 9 1 2 1 5 1 2 8 2 1 2 1 2 1"/><path d="M115 37.5h75" stroke-dasharray="2 1 4 1 3 3 1 4 1 3 3 3 11 3 2 5 1 6 2 3 1 1 2 8 1 1"/><path d="M115 38.5h68" stroke-dasharray="2 1 4 3 1 1 1 8 1 3 1 1 14 1 3 1 3 1 2 1 1 1 6 1 6 1"/><path d="M114 39.5h71" stroke-dasharray="9 3 1 1 4 2 3 1 1 1 18 1 1 1 4 1 1 2 1 1 7 1 2 1 3 1"/><path d="M114 40.5h73" stroke-dasharray="2 1 1 3 1 3 5 1 1 4 4 1 3 1 14 2 3 1 1 5 12 3 1 1"/><path d="M114 41.5h68" stroke-dasharray="3 4 2 2 2 2 2 3 2 2 3 1 1 2 1 1 5 1 2 2 2 3 6 2 10 1 1 1"/><path d="M113 42.5h70" stroke-dasharray="5 5 1 1 4 1 4 1 4 1 13 1 3 6 2 3 2 1 3 1 3 1 4 1"/><path d="M113 43.5h70" stroke-dasharray="4 1 1 5 1 2 2 2 9 1 5 1 5 1 1 2 2 3 2 2 1 1 1 8 7 1"/><path d="M106 44.5h80" stroke-dasharray="1 3 1 1 5 1 1 3 4 1 1 1 4 1 23 1 2 2 2 4 1 5 5 1 6 1"/><path d="M105 45.5h78" stroke-dasharray="2 1 7 1 1 1 2 6 1 2 2 1 11 1 1 1 13 1 1 1 1 5 1 4 2 1 7 1"/><path d="M97 46.5h92" stroke-dasharray="1 4 1 4 10 2 2 3 1 1 1 1 29 1 4 7 1 6 1 3 1 4 2 1 1 1"/><path d="M88 47.5h92" stroke-dasharray="2 16 2 5 3 1 3 9 10 1 4 1 1 1 11 1 2 1 1 13 4 1"/><path d="M87 48.5h93" stroke-dasharray="4 16 1 2 1 2 1 1 1 1 3 9 10 3 17 4 2 10 2 2 1 1"/><path d="M87 49.5h92" stroke-dasharray="1 1 2 23 1 1 1 1 1 1 2 4 2 1 10 1 1 1 13 2 3 3 1 12 1 1 1 1"/><path d="M98 50.5h81" stroke-dasharray="3 4 1 2 2 1 1 4 1 2 1 1 1 1 2 2 1 2 3 1 1 1 4 1 19 6 1 2 1 8 1 1"/><path d="M83 51.5h94" stroke-dasharray="1 15 1 1 1 1 1 3 2 4 8 2 4 4 1 2 2 3 17 1 2 11 1 5 1 1"/><path d="M101 52.5h58" stroke-dasharray="3 8 1 1 6 1 1 2 1 1 2 9 1 1 3 1 11 1 1 1 2 1"/><path d="M94 53.5h82" stroke-dasharray="2 5 1 1 1 2 1 5 3 1 4 1 3 1 3 1 1 8 3 2 2 1 2 1 2 2 1 5 2 1 1 7 1 2 1 1 1 1"/><path d="M46 54.5h130" stroke-dasharray="3 45 3 1 1 4 3 3 1 1 2 2 9 7 1 4 2 1 1 3 5 1 2 5 1 1 1 2 2 3 1 2 7 1"/><path d="M46 55.5h130" stroke-dasharray="4 46 3 4 1 1 1 2 1 1 2 1 12 2 1 5 1 1 1 1 1 3 2 5 4 8 1 6 2 2 1 1 3 1"/><path d="M47 56.5h129" stroke-dasharray="3 42 1 5 2 1 1 1 1 1 1 1 3 1 1 1 3 1 4 3 1 3 1 7 1 1 6 1 7 1 2 6 4 1 1 3 2 1 3 1"/><path d="M46 57.5h128" stroke-dasharray="5 43 1 3 1 2 2 3 1 1 2 1 5 2 3 2 1 7 18 1 5 1 5 1 5 3 4 1"/><path d="M46 58.5h148" stroke-dasharray="2 1 2 39 1 1 1 6 3 1 2 2 2 3 10 1 1 4 5 1 1 4 11 2 3 3 2 1 1 1 6 3 1 2 2 16 1 1"/><path d="M46 59.5h131" stroke-dasharray="4 44 1 1 1 4 2 2 1 2 1 2 1 1 3 1 7 1 4 1 1 1 1 6 1 1 1 1 9 9 6 6 1 1 2 1"/><path d="M47 60.5h150" stroke-dasharray="2 41 1 4 1 4 1 6 1 1 1 1 6 2 2 1 2 1 4 1 1 1 2 5 2 1 2 1 5 1 2 1 3 4 2 3 1 2 2 1 2 3 1 16 1 1 1 1"/><path d="M47 61.5h130" stroke-dasharray="1 1 1 1 1 42 2 6 1 1 4 2 1 1 4 1 2 1 1 2 7 6 9 1 7 1 2 1 2 2 12 2 2 1"/><path d="M86 62.5h90" stroke-dasharray="1 1 1 3 1 3 1 1 3 4 2 1 1 2 2 1 2 1 3 1 1 1 2 2 1 3 2 2 1 3 10 1 1 3 2 1 1 4 11 2 1 1"/><path d="M47 63.5h150" stroke-dasharray="1 6 1 34 1 3 2 6 1 8 1 2 1 1 2 5 3 9 8 3 8 7 2 2 3 1 4 9 1 14 1 1"/><path d="M46 64.5h147" stroke-dasharray="2 6 1 36 2 1 1 13 3 2 2 1 3 1 3 2 5 1 2 3 2 1 3 4 3 1 3 2 1 5 1 4 1 2 2 21 1 1"/><path d="M46 65.5h148" stroke-dasharray="1 3 1 34 1 7 1 2 3 1 1 2 5 1 2 2 1 1 1 1 1 2 4 2 4 1 4 2 4 5 4 8 1 6 1 1 1 2 2 21 1 1"/><path d="M45 66.5h148" stroke-dasharray="2 1 1 1 1 37 2 2 1 3 2 1 17 2 7 1 3 1 1 2 2 5 1 1 1 2 5 12 1 2 1 1 3 5 1 13 1 1 2 1"/><path d="M50 67.5h145" stroke-dasharray="1 35 1 6 3 3 9 1 11 1 2 1 3 1 2 1 7 1 3 1 1 2 1 15 2 2 1 2 1 14 1 3 1 5 1 1"/><path d="M45 68.5h149" stroke-dasharray="1 3 2 3 1 29 1 3 1 2 3 1 2 4 14 1 1 1 4 2 4 4 2 1 1 1 4 1 3 2 1 2 2 11 1 3 2 1 1 20 1 1 1 1"/><path d="M47 69.5h147" stroke-dasharray="1 1 1 40 2 7 2 1 19 1 1 1 2 1 2 1 1 1 1 1 3 1 1 2 3 1 1 4 1 10 1 2 2 1 1 6 1 13 1 1 1 2 1 1"/><path d="M46 70.5h150" stroke-dasharray="1 2 2 36 1 2 1 1 2 2 1 2 7 1 2 1 11 5 2 1 1 1 3 2 1 5 2 1 1 3 2 6 1 3 1 3 1 1 2 16 1 5 1 3 1 1"/><path d="M46 71.5h150" stroke-dasharray="2 4 1 34 1 3 1 2 1 3 1 1 5 1 2 1 13 1 3 1 1 1 2 1 5 1 4 1 1 1 1 3 1 12 2 1 1 1 1 1 1 1 1 5 1 17 1 1"/><path d="M48 72.5h137" stroke-dasharray="1 1 1 4 1 30 1 1 3 4 1 1 17 1 7 1 6 1 8 1 4 3 1 11 1 7 1 1 6 1 1 5 1 2 1 1"/><path d="M47 73.5h143" stroke-dasharray="2 41 1 3 1 1 1 2 20 1 1 1 2 1 10 1 3 1 5 1 2 1 1 9 1 3 1 1 2 2 3 15 3 1"/><path d="M48 74.5h147" stroke-dasharray="2 1 2 1 4 39 1 1 3 2 4 1 1 1 11 2 4 2 7 1 1 2 1 3 1 2 1 2 1 4 1 4 1 1 5 2 1 1 1 16 1 4 1 1"/><path d="M46 75.5h149" stroke-dasharray="3 1 1 1 2 1 3 32 1 2 1 1 1 1 3 1 13 1 9 1 3 1 2 1 2 2 5 1 1 3 1 1 2 1 3 1 2 5 3 1 3 3 1 21 1 1"/><path d="M46 76.5h148" stroke-dasharray="3 1 11 1 4 24 2 1 1 2 5 2 18 1 11 1 1 1 2 2 1 6 1 1 1 1 1 2 1 6 1 2 1 1 2 1 1 3 1 2 1 11 1 4 1 1"/><path d="M42 77.5h148" stroke-dasharray="7 1 2 1 3 1 2 1 3 2 3 25 1 2 5 2 3 1 1 3 1 1 7 1 2 3 4 1 1 1 2 1 1 1 1 9 3 5 2 2 1 2 1 2 4 5 1 2 1 3 1 1 1 4 1 1"/><path d="M40 78.5h155" stroke-dasharray="3 3 6 1 4 1 3 6 2 18 1 6 3 3 2 2 5 1 8 1 2 1 1 1 1 1 5 3 3 2 1 5 1 3 1 1 4 4 2 4 4 5 3 8 1 4 1 3 1 1"/><path d="M39 79.5h153" stroke-dasharray="1 9 4 1 6 1 1 6 2 15 1 2 1 5 2 3 1 1 2 1 12 1 3 1 1 1 2 2 9 1 1 3 3 4 1 1 2 5 10 6 2 1 1 2 1 1 1 1 1 1 2 4 1 1"/><path d="M37 80.5h155" stroke-dasharray="1 8 3 1 9 1 1 1 1 6 1 24 1 5 1 1 1 1 4 6 7 1 1 1 2 2 1 1 8 1 1 1 1 2 2 9 17 5 1 7 2 3 2 1"/><path d="M36 81.5h155" stroke-dasharray="1 12 7 3 3 6 1 1 1 20 1 2 1 3 1 1 1 1 2 2 1 4 1 2 6 1 2 1 11 2 2 3 1 21 1 1 1 15 5 2 2 1"/><path d="M20 82.5h171" stroke-dasharray="15 13 1 1 2 3 6 9 2 16 1 1 5 1 1 3 2 1 1 1 1 2 1 1 13 2 3 1 7 1 1 1 1 19 1 2 1 13 1 7 3 1 3 1"/><path d="M29 83.5h158" stroke-dasharray="5 17 1 6 1 12 2 15 5 1 2 4 2 1 1 1 1 2 1 1 3 1 9 1 1 1 4 1 4 1 1 21 1 4 2 16 1 4 1 1"/><path d="M72 84.5h116" stroke-dasharray="1 14 5 2 1 4 1 1 7 2 20 1 3 1 1 1 1 21 3 4 2 19 1 1"/><path d="M55 85.5h117" stroke-dasharray="1 3 1 8 1 3 2 12 1 1 4 1 1 3 3 1 4 2 2 1 1 3 6 2 6 2 2 1 1 1 1 1 1 23 1 2 3 4 1 1"/><path d="M59 86.5h120" stroke-dasharray="1 8 1 4 2 11 8 1 8 2 2 2 1 2 2 2 3 1 1 3 7 3 1 26 1 16 1 1"/><path d="M68 87.5h106" stroke-dasharray="1 5 2 8 2 1 1 1 1 1 5 4 1 2 1 3 1 2 1 3 1 2 1 1 1 1 1 5 4 4 1 32 1 4 1 1"/><path d="M59 88.5h123" stroke-dasharray="1 15 2 6 2 4 5 1 1 1 1 5 1 3 1 2 1 1 4 1 1 1 2 2 2 1 3 6 1 31 1 8 1 1 1 1 2 1"/><path d="M64 89.5h113" stroke-dasharray="1 3 1 6 3 3 5 1 1 1 2 1 3 1 2 2 1 3 2 1 3 3 2 2 1 1 1 3 2 2 2 38 1 8 1 1"/><path d="M54 90.5h124" stroke-dasharray="1 4 1 4 1 4 1 1 1 1 1 2 3 1 2 1 1 3 2 4 4 3 1 1 1 3 1 8 2 2 1 2 2 3 1 1 1 47 1 1"/><path d="M52 91.5h121" stroke-dasharray="3 1 1 3 1 9 5 1 1 1 3 1 1 1 1 1 3 4 9 4 1 4 2 2 1 1 1 7 3 1 2 35 1 5 1 1"/><path d="M72 92.5h58" stroke-dasharray="1 2 1 3 1 3 2 3 1 1 1 1 1 3 5 1 2 5 1 4 1 1 1 5 2 1 2 1 2 1"/><path d="M55 93.5h120" stroke-dasharray="1 1 3 1 3 1 1 1 4 1 1 3 1 7 1 7 1 1 4 1 6 2 1 2 2 1 2 1 3 6 5 31 1 10 1 1 1 1"/><path d="M54 94.5h123" stroke-dasharray="2 3 8 1 1 7 2 3 2 1 2 2 1 5 3 2 1 1 3 1 1 1 1 6 2 1 5 1 1 1 3 48 1 1"/><path d="M52 95.5h81" stroke-dasharray="1 1 7 1 4 1 4 9 5 4 1 7 3 1 7 1 2 1 7 1 1 1 1 2 2 2 4 1"/><path d="M50 96.5h126" stroke-dasharray="2 4 1 4 5 1 1 1 1 9 1 1 5 3 3 2 1 1 1 1 2 3 10 2 3 1 1 1 1 4 7 23 1 14 1 3 1 1"/><path d="M62 97.5h72" stroke-dasharray="3 2 1 1 1 7 2 1 7 3 1 6 3 4 4 1 1 1 1 1 1 1 1 4 5 1 1 1 2 1 3 1"/><path d="M44 98.5h123" stroke-dasharray="2 6 1 13 1 12 2 1 5 1 1 6 1 7 1 2 4 5 4 5 2 2 3 1 3 23 1 6 2 1"/><path d="M66 99.5h104" stroke-dasharray="1 6 1 4 2 2 3 1 1 3 1 16 2 3 1 1 4 1 1 1 5 3 1 1 2 1 1 34 1 1"/><path d="M51 100.5h111" stroke-dasharray="1 4 3 5 1 7 1 9 1 6 1 16 1 1 2 3 2 2 10 2 2 1 1 28 1 1"/><path d="M50 101.5h104" stroke-dasharray="1 4 1 2 2 6 1 1 3 3 2 4 1 1 4 22 3 3 2 1 9 1 7 1 1 17 1 1"/><path d="M57 102.5h113" stroke-dasharray="1 2 1 1 3 1 2 3 1 8 1 1 1 5 1 10 2 1 1 1 1 5 8 1 5 1 2 1 4 1 2 27 1 6 1 1"/><path d="M58 103.5h97" stroke-dasharray="2 1 1 1 2 1 1 5 1 2 4 15 1 7 2 3 3 1 7 2 10 1 1 2 1 10 1 8 1 1"/><path d="M46 104.5h89" stroke-dasharray="1 11 4 5 1 2 1 3 1 6 1 21 1 1 1 2 2 3 2 1 1 4 1 2 1 1 2 1 6 1"/><path d="M46 105.5h104" stroke-dasharray="1 12 4 7 1 5 1 17 1 4 1 1 1 5 1 1 1 6 3 1 4 2 1 1 5 13 1 2 1 1"/><path d="M47 106.5h112" stroke-dasharray="1 4 1 5 1 21 2 2 1 10 1 4 1 10 1 2 1 3 2 1 2 1 1 1 6 26 1 1"/><path d="M48 107.5h87" stroke-dasharray="1 10 1 3 1 2 1 11 1 1 1 1 3 10 1 2 3 10 1 1 1 3 3 1 10 2 2 1"/><path d="M49 108.5h86" stroke-dasharray="1 6 1 4 1 3 1 9 1 2 1 4 1 6 1 5 1 2 2 5 3 2 4 6 1 1 2 1 6 1 2 1"/><path d="M44 109.5h91" stroke-dasharray="1 9 3 2 1 1 1 3 2 4 1 1 1 6 2 16 4 3 1 6 1 1 2 5 1 1 3 1 1 1 1 2 1 1 1 1"/><path d="M55 110.5h74" stroke-dasharray="2 2 1 1 1 5 1 25 1 9 1 8 1 3 1 1 1 1 1 2 1 2 1 1 1 1"/><path d="M53 111.5h76" stroke-dasharray="1 1 2 2 2 12 2 3 1 11 1 13 1 5 2 1 1 6 3 1 1 3 1 1"/><path d="M57 112.5h77" stroke-dasharray="3 14 1 2 1 14 1 16 3 1 1 1 1 1 1 2 1 6 2 4 1 1"/><path d="M61 113.5h73" stroke-dasharray="1 3 1 20 1 14 1 6 1 4 2 14 2 2 1 1"/><path d="M50 114.5h85" stroke-dasharray="1 13 1 16 1 1 2 3 1 1 2 17 1 8 1 8 3 2 3 1"/><path d="M56 115.5h78" stroke-dasharray="1 2 2 2 1 18 1 1 2 3 1 6 1 11 1 7 2 8 2 1 2 1 2 1"/><path d="M46 116.5h89" stroke-dasharray="1 1 1 11 1 1 2 12 1 5 1 13 1 6 3 5 1 5 1 3 1 3 2 1 1 1 1 3 1 1"/><path d="M84 117.5h41" stroke-dasharray="1 12 1 1 1 11 2 2 5 4 1 1"/><path d="M56 118.5h77" stroke-dasharray="3 7 1 14 1 10 1 8 1 3 2 4 2 4 1 1 2 3 1 7 1 1"/><path d="M55 119.5h86" stroke-dasharray="2 10 1 29 2 5 1 4 4 2 2 3 1 2 1 3 2 4 1 6 1 1"/><path d="M56 120.5h78" stroke-dasharray="1 14 1 5 1 7 1 7 1 1 1 2 1 3 1 7 1 1 2 1 1 5 1 5 1 3 3 1"/><path d="M31 121.5h111" stroke-dasharray="2 33 1 1 1 3 1 7 1 1 1 6 1 2 1 7 1 9 1 2 1 7 1 13 1 5 1 1"/><path d="M32 122.5h111" stroke-dasharray="1 41 1 6 1 12 2 2 1 1 1 1 1 1 2 2 1 1 1 2 3 5 1 6 1 13 1 1"/><path d="M60 123.5h78" stroke-dasharray="1 20 1 2 1 2 3 4 1 4 1 2 1 2 1 8 1 3 1 1 1 16 1 1"/><path d="M32 124.5h98" stroke-dasharray="2 37 1 10 2 21 2 7 1 11 1 2 1 1"/><path d="M33 125.5h97" stroke-dasharray="1 16 1 20 1 2 1 11 1 9 1 6 2 9 2 3 1 1 2 6 1 1"/><path d="M87 126.5h43" stroke-dasharray="1 10 1 17 1 6 1 4 2 1"/><path d="M33 127.5h97" stroke-dasharray="2 80 1 3 1 2 2 1 1 2 2 1"/><path d="M34 128.5h98" stroke-dasharray="1 7 1 18 1 21 1 24 1 6 1 6 1 2 1 1 1 3 1 1"/><path d="M34 129.5h100" stroke-dasharray="1 11 1 4 1 9 1 3 1 40 1 8 1 6 4 1 1 5 1 1"/><path d="M33 130.5h98" stroke-dasharray="2 83 1 4 1 2 1 3 1 1"/><path d="M33 131.5h96" stroke-dasharray="2 11 1 69 1 5 2 2 3 1"/><path d="M33 132.5h107" stroke-dasharray="2 1 1 22 1 64 1 1 2 11 1 1"/><path d="M32 133.5h95" stroke-dasharray="3 2 1 14 4 70 1 1"/><path d="M33 134.5h98" stroke-dasharray="6 4 1 10 1 75 1 1"/><path d="M34 135.5h17" stroke-dasharray="4 11 2 1"/><path d="M34 136.5h95" stroke-dasharray="3 1 1 11 1 77 1 1"/><path d="M36 137.5h12" stroke-dasharray="2 1 3 2 1 2 1 1"/><path d="M34 138.5h9" stroke-dasharray="2 1 2 1 1 1 1 1"/><path d="M38 139.5h5" stroke-dasharray="1 1 3 1"/><path d="M39 140.5h77" stroke-dasharray="2 3 1 70 1 1"/><path d="M39 141.5h4"/><path d="M42 142.5h6"/><path d="M47 143.5h32" stroke-dasharray="5 26 1 1"/><path d="M51 144.5h2"/></g><g stroke="#3b5e8b"><path d="M160 1.5h4"/><path d="M154 2.5h13" stroke-dasharray="6 2 5 1"/><path d="M153 3.5h28" stroke-dasharray="2 8 1 1 5 1 10 1"/><path d="M163 4.5h18" stroke-dasharray="9 1 8 1"/><path d="M149 5.5h30" stroke-dasharray="1 14 8 2 1 1 3 1"/><path d="M146 6.5h36" stroke-dasharray="3 13 3 1 4 4 1 2 3 1 1 1"/><path d="M144 7.5h37" stroke-dasharray="4 16 1 1 3 1 1 2 1 2 1 3 1 1"/><path d="M143 8.5h36" stroke-dasharray="2 12 1 5 1 1 3 1 1 1 1 2 1 1 3 1"/><path d="M142 9.5h38" stroke-dasharray="1 5 1 7 2 6 1 2 3 1 1 4 2 1 1 1"/><path d="M153 10.5h21" stroke-dasharray="1 1 2 11 3 2 1 1"/><path d="M153 11.5h32" stroke-dasharray="3 1 1 4 1 6 1 9 1 1 2 1 1 1"/><path d="M152 12.5h31" stroke-dasharray="3 1 1 21 1 2 2 1"/><path d="M143 13.5h40" stroke-dasharray="1 12 1 22 1 1 2 1"/><path d="M139 14.5h46" stroke-dasharray="4 1 1 8 1 2 1 16 2 2 1 1 6 1"/><path d="M135 15.5h49" stroke-dasharray="2 1 6 24 2 5 1 2 1 1 4 1"/><path d="M133 16.5h52" stroke-dasharray="3 3 1 4 1 10 1 12 1 12 2 1 1 1"/><path d="M132 17.5h50" stroke-dasharray="1 2 1 3 3 13 1 15 1 1 1 5 1 1 1 1"/><path d="M132 18.5h52" stroke-dasharray="1 1 3 5 1 37 4 1"/><path d="M130 19.5h51" stroke-dasharray="5 2 7 7 1 5 1 13 1 8 1 1"/><path d="M129 20.5h52" stroke-dasharray="4 1 1 2 2 1 2 1 1 8 1 1 1 25 1 1"/><path d="M129 21.5h34" stroke-dasharray="6 3 4 1 1 2 1 5 1 2 5 2 1 1"/><path d="M129 22.5h55" stroke-dasharray="1 2 3 1 1 1 1 1 2 5 3 1 1 2 1 1 3 7 1 16 1 1"/><path d="M129 23.5h32" stroke-dasharray="1 1 11 6 5 1 4 1 2 1"/><path d="M129 24.5h32" stroke-dasharray="2 2 4 1 5 7 5 2 1 1 2 1"/><path d="M128 25.5h28" stroke-dasharray="2 2 2 3 6 7 6 1"/><path d="M128 26.5h35" stroke-dasharray="2 3 1 1 1 1 4 7 1 2 4 1 2 4 1 1"/><path d="M127 27.5h64" stroke-dasharray="3 3 1 1 7 2 1 7 1 1 1 9 1 25 1 1"/><path d="M126 28.5h33" stroke-dasharray="4 2 8 2 3 1 1 3 3 1 1 3 1 1"/><path d="M124 29.5h41" stroke-dasharray="2 2 2 5 1 1 1 1 1 4 4 1 2 1 2 3 1 2 1 3 1 1"/><path d="M124 30.5h40" stroke-dasharray="1 2 1 7 3 1 1 1 1 2 1 2 1 2 1 3 3 1 1 2 1 1 1 1"/><path d="M121 31.5h45" stroke-dasharray="2 4 1 5 1 1 5 2 1 2 3 1 3 4 3 3 1 1 2 1"/><path d="M119 32.5h44" stroke-dasharray="5 10 7 4 3 4 1 4 1 1 1 2 1 1"/><path d="M117 33.5h61" stroke-dasharray="5 15 1 4 1 1 1 1 3 1 2 3 4 2 2 2 1 11 1 1"/><path d="M117 34.5h49" stroke-dasharray="6 12 3 3 2 2 6 2 1 3 1 3 5 1"/><path d="M116 35.5h50" stroke-dasharray="3 1 3 9 1 7 1 1 1 2 7 1 1 6 1 2 1 1 1 1"/><path d="M116 36.5h64" stroke-dasharray="1 1 1 1 2 2 2 18 9 1 1 2 2 4 2 9 1 4 1 1"/><path d="M115 37.5h75" stroke-dasharray="2 1 1 2 1 1 2 4 1 10 1 3 1 1 9 10 1 11 1 11 1 1"/><path d="M115 38.5h63" stroke-dasharray="2 1 4 3 1 10 1 3 1 2 13 1 1 3 3 1 1 5 1 1 1 3 1 1"/><path d="M114 39.5h67" stroke-dasharray="4 1 2 1 1 15 1 5 11 2 1 3 3 2 1 2 1 3 2 1 2 2 1 1"/><path d="M114 40.5h68" stroke-dasharray="2 1 1 3 1 4 1 11 2 1 1 3 10 3 1 4 1 1 1 5 1 1 2 1 1 1 2 1 1 1"/><path d="M121 41.5h59" stroke-dasharray="2 3 1 2 2 8 1 7 5 1 2 2 1 5 3 4 5 1 4 1"/><path d="M113 42.5h60" stroke-dasharray="3 9 1 1 2 2 3 3 2 2 4 2 6 11 1 3 1 3 1 1"/><path d="M113 43.5h69" stroke-dasharray="1 2 1 1 1 5 1 2 2 2 9 1 1 1 3 1 5 1 1 2 1 5 1 4 1 8 1 4 1 1"/><path d="M106 44.5h77" stroke-dasharray="1 5 2 2 1 5 1 2 1 1 1 2 3 1 6 1 3 2 6 1 1 1 1 3 1 15 4 1 3 1"/><path d="M109 45.5h74" stroke-dasharray="1 1 3 2 1 1 1 7 1 2 2 1 6 1 4 3 13 1 1 1 1 13 4 1 2 1"/><path d="M107 46.5h74" stroke-dasharray="1 2 1 1 3 1 1 2 1 4 1 1 1 1 6 1 7 1 1 1 12 1 1 1 1 15 1 3 1 1"/><path d="M88 47.5h91" stroke-dasharray="2 23 3 1 3 9 10 1 3 2 1 1 6 1 4 1 1 2 1 14 2 1"/><path d="M89 48.5h75" stroke-dasharray="2 24 1 1 3 9 1 1 8 3 3 2 5 1 6 4 1 1"/><path d="M89 49.5h90" stroke-dasharray="2 25 1 1 1 1 1 5 2 1 1 1 3 2 1 1 1 5 11 2 3 16 1 1 1 1"/><path d="M98 50.5h61" stroke-dasharray="1 9 1 7 1 2 1 1 1 1 2 2 1 3 2 1 1 2 1 1 1 1 4 1 10 1 2 1"/><path d="M83 51.5h94" stroke-dasharray="1 19 1 9 1 3 4 2 1 10 2 3 1 3 3 1 9 1 1 18 1 1"/><path d="M103 52.5h56" stroke-dasharray="1 8 1 1 6 6 1 10 1 1 1 1 1 2 10 3 2 1"/><path d="M94 53.5h82" stroke-dasharray="1 11 1 5 3 1 4 1 1 1 1 2 1 13 1 2 2 1 2 2 1 2 1 5 1 15 1 1"/><path d="M47 54.5h129" stroke-dasharray="1 48 1 6 3 6 1 2 4 1 1 1 2 7 1 7 1 3 1 2 2 1 2 5 1 1 1 2 2 6 2 1 4 1"/><path d="M47 55.5h128" stroke-dasharray="2 47 3 9 1 4 2 1 9 12 1 4 1 6 2 9 1 10 1 1 2 1"/><path d="M47 56.5h129" stroke-dasharray="2 43 1 5 2 5 1 7 1 4 1 5 1 13 6 2 2 1 3 1 2 7 3 1 1 4 1 2 2 1"/><path d="M46 57.5h120" stroke-dasharray="4 51 1 4 1 1 2 1 4 3 3 2 1 7 18 1 4 3 2 1 1 3 2 1"/><path d="M46 58.5h131" stroke-dasharray="2 1 2 48 1 1 1 1 2 2 1 4 1 1 2 1 4 2 1 4 5 6 2 1 8 3 2 3 1 4 3 1 2 3 1 3 1 1"/><path d="M46 59.5h131" stroke-dasharray="2 1 1 46 1 4 1 3 1 5 1 1 3 1 7 1 4 1 1 13 7 11 1 1 3 6 1 2 1 1"/><path d="M47 60.5h123" stroke-dasharray="1 47 1 4 1 11 4 6 2 1 2 1 1 1 1 8 1 5 4 3 1 1 1 7 1 3 1 2 1 1"/><path d="M51 61.5h122" stroke-dasharray="1 42 2 8 3 3 1 1 4 1 1 6 2 1 3 6 1 2 1 1 4 1 7 2 1 1 1 5 1 1 1 1 1 2 3 1"/><path d="M86 62.5h86" stroke-dasharray="1 9 1 11 1 2 1 2 2 1 2 4 2 2 1 3 1 7 1 2 3 1 1 1 1 1 1 3 1 8 4 1 4 1"/><path d="M54 63.5h143" stroke-dasharray="1 39 1 15 1 2 1 2 1 5 2 11 2 2 1 1 1 3 2 1 1 1 1 1 1 8 1 4 1 1 3 25 1 1"/><path d="M94 64.5h77" stroke-dasharray="1 18 2 2 1 3 2 3 4 2 1 3 2 1 3 6 1 1 1 15 1 3 1 1"/><path d="M46 65.5h126" stroke-dasharray="1 38 1 17 5 1 2 2 1 3 1 2 2 4 4 1 1 1 1 4 1 1 1 5 2 1 1 17 1 2 2 1"/><path d="M89 66.5h103" stroke-dasharray="1 2 1 6 7 1 4 2 2 3 2 1 4 2 2 4 2 5 1 1 1 2 2 1 2 17 1 23 1 1"/><path d="M99 67.5h96" stroke-dasharray="3 1 3 1 1 4 7 2 2 2 1 3 1 2 1 1 1 1 2 1 3 1 1 2 1 16 1 30 1 1"/><path d="M88 68.5h106" stroke-dasharray="1 4 1 1 1 5 14 1 1 1 2 1 1 5 1 4 2 3 4 1 3 2 1 2 2 41 1 1"/><path d="M47 69.5h115" stroke-dasharray="1 42 2 8 1 1 1 2 16 4 1 4 1 1 1 2 2 5 2 1 1 15 1 1"/><path d="M49 70.5h147" stroke-dasharray="2 48 7 1 2 2 4 1 5 6 1 1 1 2 2 2 1 5 1 14 1 7 1 1 1 17 1 9 1 1"/><path d="M46 71.5h124" stroke-dasharray="1 5 1 34 1 12 5 1 2 2 8 1 3 1 3 1 1 2 1 1 5 3 2 1 1 19 1 1 1 1 1 1 1 1"/><path d="M48 72.5h137" stroke-dasharray="1 6 1 39 1 2 16 1 7 1 1 1 1 1 1 2 1 2 1 1 2 2 3 4 1 19 1 17 1 1"/><path d="M48 73.5h123" stroke-dasharray="1 50 11 1 8 3 2 2 1 1 6 2 3 2 2 20 1 6 1 1"/><path d="M51 74.5h144" stroke-dasharray="2 1 4 41 2 3 4 1 1 1 1 1 2 1 3 2 1 4 2 2 7 1 1 2 1 3 1 2 1 7 1 4 1 1 1 1 2 5 1 21 1 1"/><path d="M52 75.5h113" stroke-dasharray="1 2 1 1 1 35 1 4 2 2 7 1 4 1 3 1 2 4 3 1 2 1 2 2 1 1 3 10 1 11 2 1"/><path d="M47 76.5h147" stroke-dasharray="2 4 4 1 3 1 4 25 1 5 3 4 2 1 4 3 6 2 1 2 6 1 1 1 1 1 2 2 1 6 1 3 1 2 1 6 1 11 1 2 1 16 1 1"/><path d="M42 77.5h143" stroke-dasharray="5 3 2 1 3 2 1 1 3 2 3 25 1 2 2 1 2 2 3 1 1 3 1 2 1 1 1 1 2 2 1 3 2 1 1 3 2 1 1 13 1 9 1 8 1 12 1 1 1 1"/><path d="M40 78.5h146" stroke-dasharray="3 3 6 2 2 2 3 6 2 26 2 3 2 2 5 2 7 1 2 1 1 4 4 3 1 1 1 8 1 6 1 1 1 10 1 1 1 17 1 1"/><path d="M39 79.5h148" stroke-dasharray="1 9 4 1 6 1 1 6 2 24 2 3 1 1 2 1 3 1 1 4 3 1 3 1 1 1 2 4 4 2 1 1 1 5 1 4 1 1 1 6 5 1 4 7 1 10 2 1"/><path d="M37 80.5h150" stroke-dasharray="1 9 1 2 8 4 1 6 1 24 1 5 1 1 1 1 4 6 7 1 1 1 1 3 1 1 1 1 4 1 1 7 1 9 17 14 1 1"/><path d="M36 81.5h155" stroke-dasharray="1 12 7 3 1 10 1 23 1 7 2 2 1 4 1 2 6 1 2 2 6 1 3 2 1 4 1 21 1 18 1 1 2 2 2 1"/><path d="M20 82.5h171" stroke-dasharray="15 16 1 3 3 2 1 9 2 19 4 5 2 1 1 1 1 2 1 2 9 1 2 2 3 1 7 26 1 21 3 2 2 1"/><path d="M29 83.5h153" stroke-dasharray="5 37 2 17 3 2 1 4 2 9 2 1 5 1 3 1 1 1 3 2 3 47 1 1"/><path d="M72 84.5h95" stroke-dasharray="1 16 3 2 1 7 3 2 1 3 1 1 1 1 1 1 3 3 3 1 3 1 3 1 1 1 1 21 1 6 1 1"/><path d="M55 85.5h111" stroke-dasharray="1 16 2 12 1 1 4 5 1 3 4 5 1 3 1 2 1 4 6 2 2 1 1 1 1 29 1 1"/><path d="M73 86.5h89" stroke-dasharray="2 11 3 1 2 3 2 2 4 2 1 3 1 2 2 3 2 1 1 3 7 3 1 26 1 1"/><path d="M74 87.5h100" stroke-dasharray="2 8 2 3 1 1 4 15 1 3 1 4 1 8 2 5 1 37 1 1"/><path d="M75 88.5h107" stroke-dasharray="2 6 2 4 1 1 3 3 1 15 2 9 1 1 1 49 1 4 1 1"/><path d="M76 89.5h53" stroke-dasharray="2 3 2 10 2 1 1 3 1 6 3 3 2 2 1 1 1 3 1 3 2 1"/><path d="M77 90.5h51" stroke-dasharray="2 1 2 1 1 3 2 4 1 1 2 3 1 1 1 12 1 3 1 2 1 4 1 1"/><path d="M53 91.5h120" stroke-dasharray="2 5 1 9 1 5 1 1 3 5 1 1 1 4 1 1 4 1 2 9 1 3 1 1 1 7 2 2 1 42 1 1"/><path d="M72 92.5h58" stroke-dasharray="1 2 1 3 1 3 1 6 1 1 1 3 4 3 1 5 1 4 1 1 1 5 2 1 2 1 2 1"/><path d="M61 93.5h69" stroke-dasharray="3 1 1 1 1 2 1 5 1 7 1 9 3 2 6 8 2 2 2 6 3 1 1 1"/><path d="M59 94.5h69" stroke-dasharray="3 1 1 2 1 10 1 6 1 10 2 2 1 1 2 2 1 1 1 6 2 1 1 1 1 1 1 1 1 1 1 1 1 1"/><path d="M56 95.5h77" stroke-dasharray="1 2 2 2 2 3 3 9 2 16 2 2 2 1 1 7 3 2 1 1 1 4 2 2 1 1 2 1"/><path d="M61 96.5h111" stroke-dasharray="1 2 1 4 1 9 1 1 3 14 2 3 3 1 3 1 2 3 2 1 1 1 1 4 2 1 3 24 1 14 1 1"/><path d="M63 97.5h71" stroke-dasharray="2 20 1 4 1 6 2 5 4 3 1 3 1 5 3 2 1 1 2 1 1 1 1 1"/><path d="M80 98.5h51" stroke-dasharray="1 25 1 9 3 5 2 4 1 1"/><path d="M66 99.5h69" stroke-dasharray="1 11 2 2 1 7 1 16 2 3 1 2 3 3 3 1 1 5 1 2 1 1"/><path d="M57 100.5h73" stroke-dasharray="1 14 1 9 1 6 1 16 1 1 2 7 1 1 8 2 1 1"/><path d="M59 101.5h95" stroke-dasharray="1 6 1 18 1 22 3 6 9 1 1 1 1 1 1 3 1 17 1 1"/><path d="M62 102.5h101" stroke-dasharray="2 2 2 14 1 27 6 1 1 1 5 1 2 1 1 1 1 2 1 28 1 1"/><path d="M59 103.5h76" stroke-dasharray="1 3 1 2 1 8 2 1 1 29 1 3 6 2 5 1 4 1 1 2 1 1"/><path d="M58 104.5h74" stroke-dasharray="2 10 1 32 1 1 1 7 2 6 1 4 2 1 3 1"/><path d="M46 105.5h87" stroke-dasharray="1 23 1 5 1 41 1 1 3 3 1 1 3 1 1 1"/><path d="M58 106.5h74" stroke-dasharray="1 22 1 2 1 10 1 25 2 1 1 1 6 1"/><path d="M78 107.5h57" stroke-dasharray="1 1 1 1 3 14 1 17 1 1 1 3 7 4 1 1"/><path d="M65 108.5h69" stroke-dasharray="1 30 1 2 1 12 1 1 1 6 1 2 1 1 5 2 1 1"/><path d="M56 109.5h79" stroke-dasharray="1 41 2 1 1 3 1 17 3 1 1 1 1 2 1 1 1 1"/><path d="M55 110.5h58" stroke-dasharray="2 55 1 1"/><path d="M74 111.5h55" stroke-dasharray="1 36 1 8 1 1 1 1 1 3 1 1"/><path d="M58 112.5h70" stroke-dasharray="1 52 1 15 1 1"/><path d="M113 113.5h1"/><path d="M83 114.5h51" stroke-dasharray="1 6 1 27 1 8 2 3 2 1"/><path d="M63 115.5h71" stroke-dasharray="1 20 1 23 1 17 1 6 1 1"/><path d="M60 116.5h67" stroke-dasharray="1 35 1 8 1 19 2 1"/><path d="M97 117.5h23" stroke-dasharray="1 1 1 11 1 6 2 1"/><path d="M58 118.5h62" stroke-dasharray="1 22 1 19 1 3 2 4 2 6 1 1"/><path d="M55 119.5h69" stroke-dasharray="1 11 1 36 1 7 1 10 1 1"/><path d="M112 120.5h20" stroke-dasharray="2 17 1 1"/><path d="M31 121.5h91" stroke-dasharray="2 33 1 1 1 11 1 1 1 30 1 7 1 1"/><path d="M32 122.5h90" stroke-dasharray="1 65 1 1 1 12 1 7 1 1"/><path d="M81 123.5h57" stroke-dasharray="1 2 1 2 1 6 1 7 1 11 1 22 1 1"/><path d="M32 124.5h83" stroke-dasharray="2 49 1 21 1 8 1 1"/><path d="M33 125.5h82" stroke-dasharray="1 52 1 27 1 1"/><path d="M33 127.5h91" stroke-dasharray="1 81 1 3 1 3 1 1"/><path d="M34 128.5h82" stroke-dasharray="1 80 1 1"/><path d="M115 129.5h11" stroke-dasharray="1 9 1 1"/><path d="M34 130.5h97" stroke-dasharray="1 91 1 3 1 1"/><path d="M33 131.5h96" stroke-dasharray="2 92 2 1"/><path d="M33 132.5h27" stroke-dasharray="2 24 1 1"/><path d="M33 133.5h22" stroke-dasharray="1 20 1 1"/><path d="M33 134.5h6" stroke-dasharray="2 2 2 1"/><path d="M35 135.5h2"/><path d="M35 136.5h1"/><path d="M36 137.5h6" stroke-dasharray="2 2 2 1"/><path d="M37 138.5h4" stroke-dasharray="1 2 1 1"/><path d="M40 139.5h1"/><path d="M40 140.5h76" stroke-dasharray="1 74 1 1"/><path d="M39 141.5h2"/><path d="M44 142.5h4"/><path d="M47 143.5h32" stroke-dasharray="5 26 1 1"/><path d="M52 144.5h1"/></g><g stroke="#2a788e"><path d="M161 1.5h3"/><path d="M154 2.5h13" stroke-dasharray="6 2 5 1"/><path d="M153 3.5h28" stroke-dasharray="2 8 1 1 5 1 10 1"/><path d="M164 4.5h17" stroke-dasharray="1 1 5 3 7 1"/><path d="M149 5.5h28" stroke-dasharray="1 15 2 1 4 2 1 1 1 1"/><path d="M147 6.5h33" stroke-dasharray="2 13 3 1 3 9 2 1"/><path d="M144 7.5h33" stroke-dasharray="3 29 1 1"/><path d="M143 8.5h35" stroke-dasharray="2 12 1 5 1 3 1 1 1 4 1 2 1 1"/><path d="M142 9.5h36" stroke-dasharray="1 13 1 12 1 6 2 1"/><path d="M153 10.5h17" stroke-dasharray="1 1 2 12 1 1"/><path d="M162 11.5h20" stroke-dasharray="1 6 1 9 1 1 1 1"/><path d="M154 12.5h29" stroke-dasharray="1 23 1 3 1 1"/><path d="M156 13.5h26" stroke-dasharray="1 24 1 1"/><path d="M142 14.5h41" stroke-dasharray="1 30 2 6 2 1"/><path d="M135 15.5h49" stroke-dasharray="1 4 3 32 1 4 2 1 1 1"/><path d="M133 16.5h49" stroke-dasharray="2 9 1 23 1 12 1 1"/><path d="M132 17.5h50" stroke-dasharray="1 2 1 5 1 39 1 1"/><path d="M134 18.5h50" stroke-dasharray="3 5 1 38 3 1"/><path d="M130 19.5h28" stroke-dasharray="4 7 1 9 1 5 1 1"/><path d="M129 20.5h52" stroke-dasharray="3 5 2 1 1 13 1 25 1 1"/><path d="M129 21.5h34" stroke-dasharray="1 1 4 5 1 11 1 3 1 1 2 2 1 1"/><path d="M129 22.5h38" stroke-dasharray="1 2 3 3 1 1 2 5 1 3 1 2 1 1 2 8 1 1"/><path d="M129 23.5h31" stroke-dasharray="1 1 3 1 4 1 2 6 1 1 2 2 2 1 1 1 1 1"/><path d="M129 24.5h32" stroke-dasharray="2 4 2 1 2 10 1 2 2 2 1 1 2 1"/><path d="M128 25.5h28" stroke-dasharray="2 7 4 1 1 9 1 1 2 1"/><path d="M128 26.5h27" stroke-dasharray="2 3 1 1 1 2 1 1 1 7 1 4 2 1"/><path d="M127 27.5h38" stroke-dasharray="3 3 1 1 1 2 3 23 1 1"/><path d="M126 28.5h29" stroke-dasharray="1 5 1 2 5 3 1 6 2 2 1 1"/><path d="M124 29.5h30" stroke-dasharray="2 3 1 5 1 1 1 1 1 5 1 1 1 1 2 1 2 1"/><path d="M136 30.5h28" stroke-dasharray="1 10 1 7 1 5 1 1 1 1"/><path d="M121 31.5h42" stroke-dasharray="2 12 2 1 1 3 1 2 2 2 1 8 1 3 1 1"/><path d="M119 32.5h44" stroke-dasharray="3 12 4 2 1 5 2 14 1 1"/><path d="M117 33.5h61" stroke-dasharray="2 1 2 15 1 4 1 3 2 3 1 3 2 20 1 1"/><path d="M117 34.5h49" stroke-dasharray="2 1 3 12 3 3 2 3 4 3 1 9 1 1 1 1"/><path d="M116 35.5h50" stroke-dasharray="2 3 2 9 1 7 1 4 4 1 2 1 1 9 1 1 1 1"/><path d="M116 36.5h64" stroke-dasharray="1 4 1 2 2 19 5 1 2 5 1 20 1 1"/><path d="M115 37.5h75" stroke-dasharray="2 1 1 2 1 18 1 5 6 1 2 34 1 1"/><path d="M115 38.5h49" stroke-dasharray="2 1 4 21 10 1 2 6 2 1"/><path d="M114 39.5h63" stroke-dasharray="2 3 2 23 7 2 2 2 1 4 1 10 1 2 1 1"/><path d="M115 40.5h64" stroke-dasharray="1 5 1 17 1 1 1 3 9 11 1 5 1 1 2 3 1 1"/><path d="M129 41.5h51" stroke-dasharray="2 16 2 1 2 2 1 2 1 12 2 4 1 2 1 1"/><path d="M113 42.5h60" stroke-dasharray="1 1 1 9 1 1 2 2 3 3 2 2 4 2 4 1 1 15 1 3 1 1"/><path d="M113 43.5h69" stroke-dasharray="1 2 1 7 1 3 1 5 6 3 3 1 5 1 1 2 1 24 1 1"/><path d="M112 44.5h71" stroke-dasharray="2 2 1 5 1 7 1 1 1 1 6 1 1 1 1 2 6 7 1 16 1 1 1 1 1 1 1 1"/><path d="M111 45.5h69" stroke-dasharray="3 15 2 1 6 1 4 3 9 1 2 2 1 1 1 13 4 1"/><path d="M107 46.5h54" stroke-dasharray="1 4 1 1 1 13 5 2 3 1 1 1 1 3 12 3 1 1"/><path d="M88 47.5h91" stroke-dasharray="2 23 3 1 3 9 5 2 1 1 1 2 2 2 1 1 6 1 4 4 1 15 1 1"/><path d="M89 48.5h75" stroke-dasharray="2 27 2 9 1 1 7 4 2 4 1 1 2 1 3 1 2 4 1 1"/><path d="M89 49.5h71" stroke-dasharray="2 25 1 1 1 1 1 5 1 4 2 3 1 1 1 5 3 1 7 2 3 1"/><path d="M116 50.5h43" stroke-dasharray="1 2 1 1 1 2 1 6 2 1 1 2 1 1 1 1 3 2 4 2 2 1 1 1 2 1"/><path d="M83 51.5h75" stroke-dasharray="1 19 1 9 1 3 1 1 1 3 1 10 2 3 1 5 1 1 6 1 1 2 1 1"/><path d="M103 52.5h51" stroke-dasharray="1 8 1 1 6 6 1 12 1 1 1 2 2 1 1 1 1 1 3 1"/><path d="M113 53.5h41" stroke-dasharray="2 1 4 3 1 2 1 16 2 5 1 2 1 1"/><path d="M47 54.5h126" stroke-dasharray="1 64 1 2 3 2 1 1 1 8 1 14 1 2 2 5 1 1 1 3 1 9 1 1"/><path d="M47 55.5h127" stroke-dasharray="2 47 3 9 1 4 2 1 1 2 1 1 2 26 2 22 1 1"/><path d="M47 56.5h118" stroke-dasharray="2 64 1 4 1 5 1 13 5 3 1 2 2 3 1 8 2 1"/><path d="M46 57.5h120" stroke-dasharray="2 53 1 6 1 2 2 1 1 3 1 1 1 2 1 7 14 1 3 2 1 1 1 4 1 6 1 1"/><path d="M104 58.5h73" stroke-dasharray="1 2 1 4 1 1 1 2 1 1 1 8 5 9 7 4 2 3 1 4 3 1 1 4 1 3 1 1"/><path d="M46 59.5h131" stroke-dasharray="2 1 1 51 1 3 1 7 3 1 7 2 3 1 1 13 5 13 1 1 1 11 1 1"/><path d="M47 60.5h123" stroke-dasharray="1 47 1 16 4 6 1 2 2 1 1 17 3 13 1 3 1 2 1 1"/><path d="M51 61.5h120" stroke-dasharray="1 43 1 8 1 1 1 3 1 1 4 8 2 1 1 1 1 11 1 1 2 1 2 3 1 5 1 7 1 1 1 2 1 1"/><path d="M96 62.5h74" stroke-dasharray="1 14 1 3 1 2 1 4 2 2 1 15 1 2 1 1 1 1 1 3 1 11 1 2 1 1"/><path d="M54 63.5h117" stroke-dasharray="1 67 2 11 1 9 1 2 1 3 1 16 2 1"/><path d="M94 64.5h57" stroke-dasharray="1 19 1 6 2 3 1 9 2 2 2 6 1 1 1 1"/><path d="M46 65.5h102" stroke-dasharray="1 56 5 1 1 7 1 2 2 4 4 1 1 1 1 6 1 5 2 1"/><path d="M92 66.5h58" stroke-dasharray="1 7 2 1 3 1 1 6 1 3 2 2 2 4 1 4 2 10 1 2 2 1"/><path d="M99 67.5h96" stroke-dasharray="3 1 1 1 1 6 7 2 2 2 1 3 1 6 2 1 3 52 1 1"/><path d="M95 68.5h99" stroke-dasharray="1 5 13 2 1 1 2 1 1 10 2 3 2 5 1 2 1 45 1 1"/><path d="M47 69.5h97" stroke-dasharray="1 42 1 9 1 1 1 2 1 1 12 1 1 4 1 4 1 1 1 2 2 6 1 1"/><path d="M99 70.5h97" stroke-dasharray="4 1 2 1 2 3 3 1 5 6 1 4 2 2 1 58 1 1"/><path d="M46 71.5h120" stroke-dasharray="1 54 4 1 2 2 7 2 3 1 1 1 1 1 1 5 1 1 1 5 1 21 1 1 1 1"/><path d="M48 72.5h119" stroke-dasharray="1 50 1 1 7 1 5 1 7 1 1 1 1 1 1 2 1 5 1 2 1 1 1 24 1 1"/><path d="M99 73.5h44" stroke-dasharray="11 2 1 1 5 3 2 2 1 2 5 2 3 3 1 1"/><path d="M52 74.5h121" stroke-dasharray="1 4 1 41 2 3 4 1 1 1 1 1 2 1 3 2 1 4 1 3 7 1 1 2 1 3 1 2 1 7 1 8 1 6 1 1"/><path d="M55 75.5h110" stroke-dasharray="1 1 1 35 1 4 2 4 5 1 2 1 1 1 3 1 2 4 3 1 1 2 2 2 1 2 2 10 1 12 1 1"/><path d="M47 76.5h115" stroke-dasharray="2 6 2 1 3 1 4 25 1 5 3 4 1 3 3 3 6 2 1 2 6 3 1 1 2 2 1 13 1 6 1 1"/><path d="M42 77.5h128" stroke-dasharray="5 3 2 1 1 1 1 2 1 1 3 2 3 28 2 1 2 4 1 1 1 3 1 10 1 4 1 5 2 1 1 13 1 18 1 1"/><path d="M40 78.5h146" stroke-dasharray="3 3 4 4 2 2 3 6 2 26 2 3 2 2 2 1 2 2 7 2 1 1 1 5 2 4 1 1 1 8 1 6 1 1 1 12 1 17 1 1"/><path d="M39 79.5h136" stroke-dasharray="1 9 4 1 5 2 1 6 2 24 2 5 2 1 3 6 2 2 1 5 2 4 4 2 1 22 4 1 1 1 1 8 1 1"/><path d="M37 80.5h135" stroke-dasharray="1 13 2 1 4 4 1 6 1 24 1 5 1 1 1 12 1 1 1 1 2 1 1 1 1 5 1 1 4 19 3 4 5 1 1 2 1 1"/><path d="M36 81.5h155" stroke-dasharray="1 12 1 1 5 3 1 10 1 23 1 7 2 2 1 4 1 2 6 2 1 2 6 3 1 48 1 1 1 4 1 1"/><path d="M20 82.5h170" stroke-dasharray="15 20 1 4 1 9 2 20 3 6 1 6 1 3 6 1 1 6 2 2 6 53 1 1"/><path d="M29 83.5h105" stroke-dasharray="5 37 2 17 3 2 1 5 1 12 3 3 1 3 1 1 1 1 1 3 2 1"/><path d="M72 84.5h88" stroke-dasharray="1 16 2 3 1 20 1 1 3 3 3 1 3 1 3 3 1 21 1 1"/><path d="M55 85.5h81" stroke-dasharray="1 16 2 14 3 10 2 1 1 9 1 2 1 5 5 2 1 2 1 1 1 1"/><path d="M73 86.5h58" stroke-dasharray="2 11 2 2 2 4 1 2 1 1 1 3 1 3 1 3 1 3 1 2 1 3 5 1 1 1"/><path d="M74 87.5h62" stroke-dasharray="2 8 2 5 3 20 1 4 1 8 2 5 1 1"/><path d="M75 88.5h107" stroke-dasharray="2 6 2 4 1 2 2 20 1 9 1 56 1 1"/><path d="M76 89.5h52" stroke-dasharray="2 3 2 10 2 1 1 11 1 4 1 3 1 1 1 3 1 3 1 1"/><path d="M77 90.5h51" stroke-dasharray="2 1 2 5 2 6 2 5 1 12 1 3 1 2 1 4 1 1"/><path d="M53 91.5h73" stroke-dasharray="2 15 1 7 3 12 1 1 4 1 1 24 1 1"/><path d="M72 92.5h58" stroke-dasharray="1 6 1 10 1 6 3 3 1 10 1 1 1 9 1 2 1 1"/><path d="M63 93.5h67" stroke-dasharray="1 1 1 18 1 10 1 3 3 2 1 12 2 6 3 1 1 1"/><path d="M59 94.5h69" stroke-dasharray="1 1 1 1 1 2 1 10 1 18 1 2 1 1 2 4 1 6 2 3 1 1 1 1 1 1 1 1 1 1"/><path d="M59 95.5h74" stroke-dasharray="1 3 2 3 1 29 2 2 2 1 1 7 1 1 1 4 1 8 1 2 1 1"/><path d="M98 96.5h33" stroke-dasharray="2 3 2 2 1 4 1 3 2 1 1 1 1 4 2 2 1 1"/><path d="M63 97.5h71" stroke-dasharray="1 21 1 18 4 3 1 3 1 5 3 2 1 1 2 1 1 1 1 1"/><path d="M106 98.5h25" stroke-dasharray="1 10 1 6 2 4 1 1"/><path d="M79 99.5h53" stroke-dasharray="1 27 2 3 1 2 3 4 2 7 1 1"/><path d="M82 100.5h48" stroke-dasharray="1 25 2 7 1 1 8 2 1 1"/><path d="M59 101.5h95" stroke-dasharray="1 49 2 6 2 1 3 1 2 1 1 1 1 23 1 1"/><path d="M110 102.5h24" stroke-dasharray="6 1 1 1 5 1 1 2 1 1 1 2 1 1"/><path d="M63 103.5h72" stroke-dasharray="1 11 1 32 1 3 6 2 3 3 4 1 1 2 1 1"/><path d="M58 104.5h74" stroke-dasharray="2 10 1 34 1 7 2 6 1 4 2 2 2 1"/><path d="M70 105.5h63" stroke-dasharray="1 49 1 5 1 3 1 1 1 1"/><path d="M58 106.5h74" stroke-dasharray="1 62 2 4 5 1"/><path d="M78 107.5h52" stroke-dasharray="1 20 1 19 1 4 3 1 2 1"/><path d="M96 108.5h38" stroke-dasharray="1 15 1 11 1 1 1 1 2 3 1 1"/><path d="M56 109.5h70" stroke-dasharray="1 41 2 23 1 1 1 1"/><path d="M112 110.5h1"/><path d="M120 111.5h9" stroke-dasharray="1 3 1 3 1 1"/><path d="M111 112.5h17" stroke-dasharray="1 15 1 1"/><path d="M113 113.5h1"/><path d="M83 114.5h51" stroke-dasharray="1 6 1 36 1 5 1 1"/><path d="M108 115.5h1"/><path d="M126 116.5h1"/><path d="M111 117.5h8" stroke-dasharray="1 6 1 1"/><path d="M105 118.5h8" stroke-dasharray="1 6 1 1"/><path d="M112 120.5h2"/><path d="M31 121.5h83" stroke-dasharray="2 33 1 46 1 1"/><path d="M32 122.5h82" stroke-dasharray="1 65 1 14 1 1"/><path d="M87 123.5h51" stroke-dasharray="1 26 1 22 1 1"/><path d="M33 124.5h82" stroke-dasharray="1 71 1 8 1 1"/><path d="M114 125.5h1"/><path d="M33 127.5h91" stroke-dasharray="1 81 1 7 1 1"/><path d="M34 128.5h1"/><path d="M115 129.5h11" stroke-dasharray="1 9 1 1"/><path d="M128 131.5h1"/><path d="M33 133.5h1"/><path d="M34 134.5h1"/><path d="M35 135.5h2"/><path d="M35 136.5h1"/><path d="M36 137.5h2"/><path d="M37 138.5h4" stroke-dasharray="1 2 1 1"/><path d="M115 140.5h1"/><path d="M40 141.5h1"/><path d="M45 142.5h3"/><path d="M47 143.5h32" stroke-dasharray="5 26 1 1"/><path d="M52 144.5h1"/></g><g stroke="#2b9089"><path d="M161 1.5h3" stroke-dasharray="1 1 1 1"/><path d="M155 2.5h12" stroke-dasharray="5 2 5 1"/><path d="M153 3.5h28" stroke-dasharray="2 10 5 1 7 1 2 1"/><path d="M166 4.5h15" stroke-dasharray="1 2 2 4 4 1 1 1"/><path d="M149 5.5h26" stroke-dasharray="1 16 1 1 4 2 1 1"/><path d="M147 6.5h33" stroke-dasharray="2 13 1 1 1 1 3 9 2 1"/><path d="M144 7.5h3"/><path d="M144 8.5h34" stroke-dasharray="1 18 1 3 1 1 1 7 1 1"/><path d="M142 9.5h36" stroke-dasharray="1 13 1 20 1 1"/><path d="M153 10.5h4" stroke-dasharray="1 1 2 1"/><path d="M181 11.5h1"/><path d="M182 12.5h1"/><path d="M156 13.5h26" stroke-dasharray="1 24 1 1"/><path d="M173 14.5h10" stroke-dasharray="2 7 1 1"/><path d="M135 15.5h49" stroke-dasharray="1 6 1 32 1 4 1 2 1 1"/><path d="M133 16.5h36" stroke-dasharray="2 33 1 1"/><path d="M132 17.5h1"/><path d="M142 18.5h41" stroke-dasharray="1 39 1 1"/><path d="M130 19.5h4"/><path d="M129 20.5h52" stroke-dasharray="2 49 1 1"/><path d="M129 21.5h34" stroke-dasharray="1 1 1 1 2 5 1 15 1 2 1 2 1 1"/><path d="M133 22.5h34" stroke-dasharray="2 3 1 8 1 8 2 8 1 1"/><path d="M129 23.5h26" stroke-dasharray="1 1 3 3 2 11 2 2 1 1"/><path d="M129 24.5h29" stroke-dasharray="2 4 1 3 1 13 2 2 1 1"/><path d="M128 25.5h28" stroke-dasharray="2 7 2 3 1 12 1 1"/><path d="M128 26.5h27" stroke-dasharray="1 4 1 1 1 2 1 1 1 12 2 1"/><path d="M127 27.5h13" stroke-dasharray="3 3 1 4 2 1"/><path d="M126 28.5h29" stroke-dasharray="1 10 1 1 1 3 1 10 1 1"/><path d="M124 29.5h27" stroke-dasharray="2 11 1 1 1 5 1 1 1 2 1 1"/><path d="M136 30.5h28" stroke-dasharray="1 10 1 15 1 1"/><path d="M121 31.5h42" stroke-dasharray="1 14 1 1 1 6 1 12 1 3 1 1"/><path d="M121 32.5h27" stroke-dasharray="1 12 1 1 2 2 1 5 2 1"/><path d="M117 33.5h39" stroke-dasharray="1 2 2 15 1 8 1 4 1 3 1 1"/><path d="M117 34.5h37" stroke-dasharray="1 2 3 13 2 4 1 3 1 1 2 3 1 1"/><path d="M116 35.5h50" stroke-dasharray="2 3 1 23 4 2 1 13 1 1"/><path d="M116 36.5h64" stroke-dasharray="1 7 1 20 5 1 1 27 1 1"/><path d="M115 37.5h75" stroke-dasharray="2 1 1 21 1 5 6 2 1 34 1 1"/><path d="M115 38.5h49" stroke-dasharray="2 1 4 22 3 1 5 1 1 8 1 1"/><path d="M114 39.5h40" stroke-dasharray="2 3 1 24 5 1 1 2 1 1"/><path d="M115 40.5h60" stroke-dasharray="1 25 1 4 2 2 3 21 1 1"/><path d="M129 41.5h51" stroke-dasharray="2 16 2 2 1 2 1 2 1 12 1 5 1 2 1 1"/><path d="M113 42.5h56" stroke-dasharray="1 11 1 1 2 2 2 4 2 3 3 3 3 1 1 15 1 1"/><path d="M116 43.5h36" stroke-dasharray="1 7 1 3 1 6 5 3 3 2 4 1"/><path d="M122 44.5h55" stroke-dasharray="1 7 1 1 1 3 3 2 1 1 1 2 6 24 1 1"/><path d="M111 45.5h69" stroke-dasharray="3 15 1 2 6 2 1 5 1 1 1 1 5 5 1 16 1 1 1 1"/><path d="M112 46.5h49" stroke-dasharray="1 16 4 2 3 3 1 3 6 1 5 3 1 1"/><path d="M88 47.5h70" stroke-dasharray="2 23 1 1 1 1 2 10 5 2 1 1 1 2 2 4 6 1 2 1 1 1"/><path d="M89 48.5h75" stroke-dasharray="2 27 2 9 1 3 2 15 2 2 2 1 2 4 1 1"/><path d="M89 49.5h69" stroke-dasharray="2 25 1 1 1 1 1 5 1 9 1 7 3 1 7 2 1 1"/><path d="M119 50.5h40" stroke-dasharray="1 4 1 9 1 4 1 2 2 3 3 2 2 4 1 1"/><path d="M83 51.5h75" stroke-dasharray="1 29 1 3 1 1 1 14 2 3 1 5 1 1 2 1 3 1 1 2 1 1"/><path d="M103 52.5h50" stroke-dasharray="1 12 1 1 2 19 1 4 2 1 1 1 1 1 2 1"/><path d="M113 53.5h41" stroke-dasharray="1 2 4 3 1 2 1 17 1 5 1 2 1 1"/><path d="M47 54.5h126" stroke-dasharray="1 64 1 2 1 4 1 10 1 17 2 5 1 15 1 1"/><path d="M47 55.5h127" stroke-dasharray="2 49 1 14 2 1 1 5 1 26 2 22 1 1"/><path d="M47 56.5h117" stroke-dasharray="2 64 1 10 1 13 5 6 2 3 1 8 1 1"/><path d="M46 57.5h120" stroke-dasharray="2 53 1 6 1 3 1 1 1 3 1 1 1 10 9 1 4 1 3 2 1 1 1 4 1 6 1 1"/><path d="M112 58.5h65" stroke-dasharray="1 1 1 2 1 1 1 8 5 9 7 5 1 3 1 4 3 10 1 1"/><path d="M46 59.5h131" stroke-dasharray="1 2 1 55 1 7 3 1 3 1 1 4 3 1 1 13 5 13 1 13 1 1"/><path d="M47 60.5h102" stroke-dasharray="1 47 1 17 3 6 1 2 2 19 3 1"/><path d="M51 61.5h97" stroke-dasharray="1 52 1 5 1 2 3 8 2 3 1 14 1 1 2 1"/><path d="M115 62.5h52" stroke-dasharray="1 2 1 4 2 2 1 18 1 1 1 17 1 1"/><path d="M122 63.5h31" stroke-dasharray="2 24 1 3 1 1"/><path d="M94 64.5h57" stroke-dasharray="1 26 2 13 1 4 1 8 1 1"/><path d="M46 65.5h102" stroke-dasharray="1 56 3 1 1 9 1 2 2 4 3 2 1 1 1 6 1 5 2 1"/><path d="M100 66.5h49" stroke-dasharray="2 1 1 1 1 12 2 3 1 9 1 14 1 1"/><path d="M99 67.5h96" stroke-dasharray="2 2 1 1 1 6 7 2 2 6 1 6 2 1 1 1 1 52 1 1"/><path d="M95 68.5h99" stroke-dasharray="1 5 3 3 7 2 1 1 2 13 1 3 1 55 1 1"/><path d="M102 69.5h42" stroke-dasharray="1 4 10 1 1 6 1 4 1 1 1 10 1 1"/><path d="M99 70.5h97" stroke-dasharray="4 1 2 1 2 3 3 1 2 9 1 4 2 61 1 1"/><path d="M46 71.5h120" stroke-dasharray="1 54 4 1 2 2 3 1 3 3 1 4 1 7 1 1 1 29 1 1"/><path d="M48 72.5h94" stroke-dasharray="1 50 1 1 7 2 1 4 7 5 1 2 1 10 1 1"/><path d="M99 73.5h44" stroke-dasharray="10 3 1 2 4 11 3 3 3 3 1 1"/><path d="M99 74.5h74" stroke-dasharray="2 3 4 1 1 1 1 2 1 1 1 1 1 2 1 4 1 4 1 1 1 2 1 1 1 2 1 3 1 2 1 16 1 6 1 1"/><path d="M55 75.5h110" stroke-dasharray="1 42 2 5 3 5 1 1 2 2 2 4 2 2 1 2 2 5 2 23 1 1"/><path d="M47 76.5h115" stroke-dasharray="2 7 1 1 2 2 4 31 3 8 3 3 6 5 1 1 4 3 1 2 1 2 1 13 1 6 1 1"/><path d="M42 77.5h93" stroke-dasharray="2 1 2 4 1 1 1 1 1 2 1 1 3 2 3 28 2 1 2 4 1 1 1 14 1 4 1 6 1 1"/><path d="M40 78.5h106" stroke-dasharray="3 3 4 4 2 2 3 6 2 26 2 3 2 2 2 2 1 3 1 3 2 4 1 6 1 4 1 1 1 8 1 1"/><path d="M39 79.5h125" stroke-dasharray="1 9 3 2 5 9 2 24 2 5 2 1 3 6 2 2 1 5 2 6 2 2 1 24 1 2 1 1"/><path d="M37 80.5h135" stroke-dasharray="1 13 2 1 4 11 1 24 1 7 1 14 1 1 1 2 1 1 1 5 1 2 1 28 2 1 1 5 1 1"/><path d="M36 81.5h150" stroke-dasharray="1 14 5 3 1 10 1 23 1 7 2 2 1 4 1 3 3 1 1 2 1 2 2 1 3 3 1 50 1 1"/><path d="M21 82.5h115" stroke-dasharray="14 20 1 14 2 20 3 6 1 10 2 1 3 1 1 10 6 1"/><path d="M29 83.5h105" stroke-dasharray="5 37 2 18 2 2 1 5 1 12 1 1 1 7 1 7 2 1"/><path d="M72 84.5h88" stroke-dasharray="1 17 1 3 1 20 1 1 2 5 2 2 1 30 1 1"/><path d="M72 85.5h59" stroke-dasharray="2 14 3 10 2 14 1 6 2 4 1 1"/><path d="M73 86.5h52" stroke-dasharray="2 11 2 2 2 4 1 4 1 15 1 6 1 1"/><path d="M74 87.5h62" stroke-dasharray="2 8 2 5 2 21 1 4 1 8 2 5 1 1"/><path d="M75 88.5h107" stroke-dasharray="2 6 2 7 2 20 1 66 1 1"/><path d="M76 89.5h44" stroke-dasharray="2 3 2 10 2 13 1 10 1 1"/><path d="M77 90.5h51" stroke-dasharray="2 1 2 13 2 5 1 12 1 3 1 2 1 4 1 1"/><path d="M78 91.5h48" stroke-dasharray="3 15 3 26 1 1"/><path d="M72 92.5h55" stroke-dasharray="1 6 1 18 2 26 1 1"/><path d="M95 93.5h33" stroke-dasharray="1 3 3 2 1 12 1 7 1 1 1 1"/><path d="M59 94.5h69" stroke-dasharray="1 1 1 34 1 2 1 1 2 4 1 6 1 4 1 1 1 1 1 1 1 1 1 1"/><path d="M63 95.5h70" stroke-dasharray="1 4 1 34 1 1 1 9 1 4 1 11 1 1"/><path d="M98 96.5h33" stroke-dasharray="1 4 2 2 1 4 1 3 1 9 2 2 1 1"/><path d="M85 97.5h49" stroke-dasharray="1 18 2 1 1 3 1 10 2 4 2 1 1 1 1 1"/><path d="M106 98.5h25" stroke-dasharray="1 10 1 6 1 5 1 1"/><path d="M107 99.5h17" stroke-dasharray="2 3 1 2 3 4 2 1"/><path d="M108 100.5h22" stroke-dasharray="2 7 1 1 8 2 1 1"/><path d="M59 101.5h69" stroke-dasharray="1 49 2 6 1 2 3 2 1 1 1 1"/><path d="M110 102.5h21" stroke-dasharray="3 1 2 1 1 1 5 1 1 2 1 1 1 1"/><path d="M108 103.5h27" stroke-dasharray="1 3 6 2 2 4 2 6 1 1"/><path d="M105 104.5h26" stroke-dasharray="1 8 1 11 2 2 1 1"/><path d="M70 105.5h61" stroke-dasharray="1 49 1 9 1 1"/><path d="M121 106.5h11" stroke-dasharray="2 4 5 1"/><path d="M78 107.5h52" stroke-dasharray="1 45 3 1 2 1"/><path d="M112 108.5h22" stroke-dasharray="1 13 1 6 1 1"/><path d="M125 109.5h1"/><path d="M120 111.5h5" stroke-dasharray="1 3 1 1"/><path d="M126 116.5h1"/><path d="M118 117.5h1"/><path d="M113 120.5h1"/><path d="M31 121.5h83" stroke-dasharray="2 80 1 1"/><path d="M32 122.5h82" stroke-dasharray="1 65 1 14 1 1"/><path d="M114 123.5h1"/><path d="M33 124.5h1"/><path d="M115 127.5h9" stroke-dasharray="1 7 1 1"/><path d="M34 128.5h1"/><path d="M125 129.5h1"/><path d="M33 133.5h1"/><path d="M34 134.5h1"/><path d="M35 135.5h2"/><path d="M36 137.5h1"/><path d="M115 140.5h1"/><path d="M45 142.5h1"/><path d="M49 143.5h30" stroke-dasharray="1 1 1 26 1 1"/><path d="M52 144.5h1"/></g><g stroke="#22a884"><path d="M161 1.5h3" stroke-dasharray="1 1 1 1"/><path d="M155 2.5h12" stroke-dasharray="2 1 2 4 3 1"/><path d="M154 3.5h27" stroke-dasharray="1 11 3 2 7 1 2 1"/><path d="M170 4.5h9" stroke-dasharray="1 4 4 1"/><path d="M149 5.5h23" stroke-dasharray="1 21 1 1"/><path d="M147 6.5h32" stroke-dasharray="2 13 1 1 1 1 3 9 1 1"/><path d="M144 7.5h3"/><path d="M177 8.5h1"/><path d="M142 9.5h1"/><path d="M181 11.5h1"/><path d="M182 12.5h1"/><path d="M156 13.5h1"/><path d="M173 14.5h2"/><path d="M142 15.5h34" stroke-dasharray="1 32 1 1"/><path d="M133 16.5h2"/><path d="M132 17.5h1"/><path d="M182 18.5h1"/><path d="M130 19.5h3"/><path d="M129 20.5h52" stroke-dasharray="2 49 1 1"/><path d="M129 21.5h34" stroke-dasharray="1 1 1 1 2 5 1 15 1 2 1 2 1 1"/><path d="M133 22.5h34" stroke-dasharray="1 13 1 8 2 8 1 1"/><path d="M131 23.5h24" stroke-dasharray="1 1 1 4 1 11 1 3 1 1"/><path d="M129 24.5h26" stroke-dasharray="1 9 1 13 2 1"/><path d="M128 25.5h28" stroke-dasharray="2 7 2 16 1 1"/><path d="M138 26.5h17" stroke-dasharray="1 1 1 13 1 1"/><path d="M127 27.5h12" stroke-dasharray="3 3 1 4 1 1"/><path d="M126 28.5h29" stroke-dasharray="1 10 1 5 1 10 1 1"/><path d="M125 29.5h26" stroke-dasharray="1 19 1 4 1 1"/><path d="M136 30.5h12" stroke-dasharray="1 10 1 1"/><path d="M121 31.5h25" stroke-dasharray="1 16 1 6 1 1"/><path d="M121 32.5h26" stroke-dasharray="1 12 1 1 2 8 1 1"/><path d="M117 33.5h39" stroke-dasharray="1 2 2 33 1 1"/><path d="M117 34.5h37" stroke-dasharray="1 2 2 14 2 8 1 1 1 4 1 1"/><path d="M116 35.5h50" stroke-dasharray="1 4 1 23 4 2 1 13 1 1"/><path d="M116 36.5h64" stroke-dasharray="1 29 2 3 1 27 1 1"/><path d="M115 37.5h75" stroke-dasharray="2 1 1 27 6 37 1 1"/><path d="M115 38.5h37" stroke-dasharray="1 3 1 24 3 1 2 1 1 1"/><path d="M114 39.5h40" stroke-dasharray="2 3 1 24 2 1 2 1 1 2 1 1"/><path d="M141 40.5h34" stroke-dasharray="1 4 2 3 2 21 1 1"/><path d="M130 41.5h50" stroke-dasharray="1 16 2 2 1 5 1 12 1 5 1 2 1 1"/><path d="M125 42.5h28" stroke-dasharray="1 6 1 4 2 3 3 3 3 1 1 1"/><path d="M116 43.5h36" stroke-dasharray="1 7 1 12 2 4 3 3 3 1"/><path d="M130 44.5h22" stroke-dasharray="1 5 2 3 1 1 1 4 4 1"/><path d="M111 45.5h67" stroke-dasharray="3 15 1 2 4 4 1 7 1 1 2 1 1 6 1 16 1 1"/><path d="M130 46.5h31" stroke-dasharray="3 2 2 9 4 2 2 1 1 4 1 1"/><path d="M113 47.5h45" stroke-dasharray="1 3 2 11 4 2 1 1 1 3 1 4 6 1 1 2 1 1"/><path d="M89 48.5h67" stroke-dasharray="2 27 2 13 1 16 2 3 1 1"/><path d="M118 49.5h36" stroke-dasharray="1 7 1 9 1 8 2 1 1 1 4 1"/><path d="M124 50.5h35" stroke-dasharray="1 9 1 7 2 3 3 2 2 4 1 1"/><path d="M83 51.5h72" stroke-dasharray="1 29 1 3 1 1 1 14 2 3 1 7 2 1 3 1 1 1"/><path d="M118 52.5h34" stroke-dasharray="2 27 1 1 1 1 1 1"/><path d="M113 53.5h32" stroke-dasharray="1 2 4 6 1 17 1 1"/><path d="M47 54.5h110" stroke-dasharray="1 64 1 2 1 4 1 10 1 24 1 1"/><path d="M47 55.5h104" stroke-dasharray="2 49 1 14 2 7 1 27 1 1"/><path d="M47 56.5h96" stroke-dasharray="2 64 1 24 1 1 3 1"/><path d="M101 57.5h53" stroke-dasharray="1 6 1 3 1 1 1 3 1 12 9 1 4 1 2 3 1 1 1 1"/><path d="M112 58.5h54" stroke-dasharray="1 1 1 2 1 1 1 8 5 9 7 15 2 1"/><path d="M46 59.5h117" stroke-dasharray="1 58 1 7 1 1 1 1 1 1 1 1 1 4 3 17 3 13 1 1"/><path d="M47 60.5h102" stroke-dasharray="1 47 1 17 3 6 1 2 2 19 1 1 1 1"/><path d="M51 61.5h97" stroke-dasharray="1 52 1 10 1 8 2 3 1 17 1 1"/><path d="M115 62.5h52" stroke-dasharray="1 7 2 21 1 19 1 1"/><path d="M123 63.5h30" stroke-dasharray="1 24 1 3 1 1"/><path d="M94 64.5h57" stroke-dasharray="1 26 2 13 1 4 1 8 1 1"/><path d="M103 65.5h45" stroke-dasharray="2 15 2 5 2 11 1 6 1 1"/><path d="M100 66.5h34" stroke-dasharray="1 2 1 1 1 12 2 3 1 9 1 1"/><path d="M100 67.5h95" stroke-dasharray="1 2 1 8 7 3 1 71 1 1"/><path d="M101 68.5h93" stroke-dasharray="3 4 6 2 1 1 1 14 1 3 1 55 1 1"/><path d="M102 69.5h31" stroke-dasharray="1 4 7 1 2 1 1 13 1 1"/><path d="M100 70.5h96" stroke-dasharray="3 4 2 3 1 3 1 15 2 61 1 1"/><path d="M46 71.5h88" stroke-dasharray="1 54 4 1 2 3 2 1 1 5 1 12 1 1"/><path d="M101 72.5h27" stroke-dasharray="6 8 4 8 1 1"/><path d="M99 73.5h39" stroke-dasharray="9 4 1 2 1 1 2 12 2 4 1 1"/><path d="M99 74.5h67" stroke-dasharray="2 3 4 1 1 6 1 1 1 2 1 9 1 1 1 7 1 3 1 19 1 1"/><path d="M55 75.5h86" stroke-dasharray="1 42 2 5 3 5 1 1 2 2 1 9 1 2 1 6 2 1"/><path d="M47 76.5h91" stroke-dasharray="1 8 1 5 4 31 3 8 3 4 5 8 3 3 1 2 1 1"/><path d="M42 77.5h93" stroke-dasharray="2 1 2 4 1 3 1 4 3 2 3 28 2 2 1 4 1 1 1 26 1 1"/><path d="M40 78.5h97" stroke-dasharray="3 3 4 5 1 2 3 6 2 26 2 3 2 2 2 6 1 3 2 4 1 6 1 6 1 1"/><path d="M39 79.5h125" stroke-dasharray="1 9 2 6 2 9 2 24 2 5 1 3 1 8 1 2 1 13 2 27 1 2 1 1"/><path d="M37 80.5h129" stroke-dasharray="1 13 2 1 3 12 1 24 1 7 1 14 1 1 1 4 1 5 1 31 1 2 1 1"/><path d="M36 81.5h99" stroke-dasharray="1 14 5 14 1 23 1 7 2 2 1 4 1 3 3 1 1 2 1 3 1 1 1 1 1 3 1 1"/><path d="M21 82.5h114" stroke-dasharray="14 35 2 20 3 20 2 2 1 11 4 1"/><path d="M29 83.5h105" stroke-dasharray="5 37 2 18 2 21 1 1 1 15 2 1"/><path d="M72 84.5h54" stroke-dasharray="1 17 1 24 1 1 1 6 2 1"/><path d="M72 85.5h46" stroke-dasharray="2 14 2 27 1 1"/><path d="M73 86.5h52" stroke-dasharray="2 11 2 2 2 32 1 1"/><path d="M74 87.5h62" stroke-dasharray="2 8 2 5 2 21 1 4 1 8 1 6 1 1"/><path d="M75 88.5h107" stroke-dasharray="2 6 2 7 2 87 1 1"/><path d="M76 89.5h44" stroke-dasharray="2 3 2 10 2 24 1 1"/><path d="M77 90.5h51" stroke-dasharray="2 1 2 13 2 5 1 19 1 4 1 1"/><path d="M78 91.5h48" stroke-dasharray="3 15 2 27 1 1"/><path d="M72 92.5h55" stroke-dasharray="1 6 1 18 2 26 1 1"/><path d="M95 93.5h33" stroke-dasharray="1 3 3 2 1 20 1 1 1 1"/><path d="M61 94.5h65" stroke-dasharray="1 39 2 4 1 11 1 1 1 1 1 1 1 1"/><path d="M63 95.5h58" stroke-dasharray="1 4 1 34 1 1 1 14 1 1"/><path d="M98 96.5h33" stroke-dasharray="1 4 2 2 1 4 1 3 1 9 2 2 1 1"/><path d="M85 97.5h44" stroke-dasharray="1 18 2 1 1 20 1 1"/><path d="M106 98.5h25" stroke-dasharray="1 10 1 6 1 5 1 1"/><path d="M107 99.5h17" stroke-dasharray="2 7 2 4 2 1"/><path d="M108 100.5h17" stroke-dasharray="2 9 1 1 4 1"/><path d="M109 101.5h19" stroke-dasharray="2 6 1 2 2 3 1 1 1 1"/><path d="M110 102.5h19" stroke-dasharray="3 4 1 1 5 1 1 2 1 1"/><path d="M112 103.5h15" stroke-dasharray="6 2 2 4 1 1"/><path d="M105 104.5h23" stroke-dasharray="1 20 2 1"/><path d="M70 105.5h61" stroke-dasharray="1 59 1 1"/><path d="M121 106.5h10" stroke-dasharray="2 4 4 1"/><path d="M126 107.5h4" stroke-dasharray="1 1 2 1"/><path d="M112 108.5h1"/><path d="M120 111.5h5" stroke-dasharray="1 3 1 1"/><path d="M32 121.5h1"/><path d="M32 122.5h1"/><path d="M115 127.5h1"/><path d="M34 128.5h1"/><path d="M34 134.5h1"/><path d="M115 140.5h1"/><path d="M51 143.5h28" stroke-dasharray="1 26 1 1"/></g><g stroke="#5abc6d"><path d="M161 1.5h3" stroke-dasharray="1 1 1 1"/><path d="M155 2.5h12" stroke-dasharray="2 1 2 5 2 1"/><path d="M154 3.5h27" stroke-dasharray="1 11 3 2 4 1 2 1 2 1"/><path d="M175 4.5h3" stroke-dasharray="1 1 1 1"/><path d="M147 6.5h21" stroke-dasharray="2 15 1 2 1 1"/><path d="M144 7.5h2"/><path d="M181 11.5h1"/><path d="M173 14.5h2"/><path d="M175 15.5h1"/><path d="M132 17.5h1"/><path d="M182 18.5h1"/><path d="M130 19.5h2"/><path d="M130 20.5h51" stroke-dasharray="1 49 1 1"/><path d="M131 21.5h32" stroke-dasharray="1 1 2 21 1 2 1 2 1 1"/><path d="M133 22.5h34" stroke-dasharray="1 13 1 8 1 9 1 1"/><path d="M138 23.5h1"/><path d="M129 24.5h26" stroke-dasharray="1 24 1 1"/><path d="M155 25.5h1"/><path d="M138 26.5h1"/><path d="M127 27.5h12" stroke-dasharray="1 1 1 8 1 1"/><path d="M126 28.5h29" stroke-dasharray="1 27 1 1"/><path d="M150 29.5h1"/><path d="M145 31.5h1"/><path d="M121 32.5h17" stroke-dasharray="1 12 1 1 2 1"/><path d="M117 33.5h1"/><path d="M117 34.5h37" stroke-dasharray="1 3 1 24 1 1 1 4 1 1"/><path d="M121 35.5h45" stroke-dasharray="1 24 1 1 1 2 1 13 1 1"/><path d="M116 36.5h64" stroke-dasharray="1 29 2 31 1 1"/><path d="M115 37.5h75" stroke-dasharray="2 29 2 1 1 1 1 37 1 1"/><path d="M144 38.5h6" stroke-dasharray="3 1 2 1"/><path d="M115 39.5h39" stroke-dasharray="1 3 1 24 2 1 1 2 1 2 1 1"/><path d="M141 40.5h12" stroke-dasharray="1 5 1 3 2 1"/><path d="M130 41.5h28" stroke-dasharray="1 26 1 1"/><path d="M125 42.5h28" stroke-dasharray="1 6 1 4 2 3 3 3 1 3 1 1"/><path d="M124 43.5h27" stroke-dasharray="1 13 1 5 2 4 1 1"/><path d="M136 44.5h15" stroke-dasharray="2 3 1 7 2 1"/><path d="M111 45.5h50" stroke-dasharray="1 1 1 15 1 2 4 12 1 1 2 1 1 6 1 1"/><path d="M131 46.5h30" stroke-dasharray="2 2 2 9 1 1 2 2 1 2 1 4 1 1"/><path d="M118 47.5h34" stroke-dasharray="1 11 1 1 2 2 1 1 1 3 1 4 5 1"/><path d="M89 48.5h67" stroke-dasharray="2 27 1 31 2 3 1 1"/><path d="M126 49.5h28" stroke-dasharray="1 9 1 8 2 1 1 1 2 1 1 1"/><path d="M134 50.5h25" stroke-dasharray="1 7 2 4 1 4 1 4 1 1"/><path d="M83 51.5h72" stroke-dasharray="1 29 1 3 1 1 1 14 2 3 1 7 1 2 1 1 1 1 1 1"/><path d="M119 52.5h33" stroke-dasharray="1 27 1 1 1 1 1 1"/><path d="M116 53.5h4" stroke-dasharray="2 1 1 1"/><path d="M47 54.5h110" stroke-dasharray="1 64 1 2 1 4 1 10 1 24 1 1"/><path d="M47 55.5h68" stroke-dasharray="2 64 2 1"/><path d="M47 56.5h96" stroke-dasharray="2 64 1 24 1 1 3 1"/><path d="M112 57.5h42" stroke-dasharray="1 18 9 1 2 1 1 1 2 5 1 1"/><path d="M112 58.5h37" stroke-dasharray="1 1 1 13 5 12 2 1 1 1"/><path d="M46 59.5h103" stroke-dasharray="1 58 1 9 1 3 1 1 1 4 1 1 1 17 3 1"/><path d="M47 60.5h102" stroke-dasharray="1 65 2 10 2 19 1 1 1 1"/><path d="M51 61.5h97" stroke-dasharray="1 72 2 21 1 1"/><path d="M123 62.5h24" stroke-dasharray="2 21 1 1"/><path d="M123 63.5h1"/><path d="M121 64.5h30" stroke-dasharray="2 27 1 1"/><path d="M103 65.5h26" stroke-dasharray="2 15 2 5 2 1"/><path d="M100 66.5h24" stroke-dasharray="1 2 1 1 1 13 1 3 1 1"/><path d="M103 67.5h92" stroke-dasharray="1 8 7 3 1 71 1 1"/><path d="M103 68.5h91" stroke-dasharray="1 4 1 1 4 2 1 16 1 3 1 55 1 1"/><path d="M102 69.5h31" stroke-dasharray="1 4 7 1 2 1 1 13 1 1"/><path d="M100 70.5h96" stroke-dasharray="3 4 2 7 1 15 1 62 1 1"/><path d="M46 71.5h88" stroke-dasharray="1 54 4 1 2 3 2 20 1 1"/><path d="M101 72.5h17" stroke-dasharray="6 8 3 1"/><path d="M99 73.5h20" stroke-dasharray="3 2 3 5 1 2 1 1 2 1"/><path d="M99 74.5h47" stroke-dasharray="2 3 3 9 1 1 1 14 1 7 1 3 1 1"/><path d="M98 75.5h43" stroke-dasharray="2 6 1 6 1 1 2 2 1 9 1 9 2 1"/><path d="M56 76.5h82" stroke-dasharray="1 6 3 31 3 8 1 1 1 4 3 1 1 14 1 2 1 1"/><path d="M42 77.5h66" stroke-dasharray="2 1 2 4 1 3 1 4 2 3 3 28 2 2 1 4 1 1 1 1"/><path d="M40 78.5h73" stroke-dasharray="2 4 4 5 1 2 3 6 2 26 2 3 2 2 2 6 1 1"/><path d="M57 79.5h76" stroke-dasharray="2 9 2 31 1 3 1 8 1 17 1 1"/><path d="M37 80.5h94" stroke-dasharray="1 13 2 1 3 37 1 7 1 14 1 12 1 1"/><path d="M36 81.5h99" stroke-dasharray="1 15 4 14 1 23 1 8 1 7 1 3 2 11 1 5 1 1"/><path d="M21 82.5h112" stroke-dasharray="14 35 2 20 3 20 2 2 1 11 2 1"/><path d="M29 83.5h105" stroke-dasharray="5 37 2 18 2 23 1 16 1 1"/><path d="M72 84.5h54" stroke-dasharray="1 17 1 24 1 1 1 7 1 1"/><path d="M73 85.5h17" stroke-dasharray="1 14 2 1"/><path d="M73 86.5h19" stroke-dasharray="2 11 2 2 2 1"/><path d="M74 87.5h55" stroke-dasharray="2 8 2 5 2 35 1 1"/><path d="M75 88.5h107" stroke-dasharray="2 6 2 7 2 87 1 1"/><path d="M76 89.5h19" stroke-dasharray="2 3 2 10 2 1"/><path d="M77 90.5h51" stroke-dasharray="2 1 2 13 2 5 1 24 1 1"/><path d="M78 91.5h48" stroke-dasharray="3 15 2 27 1 1"/><path d="M72 92.5h55" stroke-dasharray="1 6 1 18 2 26 1 1"/><path d="M99 93.5h29" stroke-dasharray="3 2 1 20 1 1 1 1"/><path d="M61 94.5h61" stroke-dasharray="1 39 2 4 1 13 1 1"/><path d="M103 95.5h18" stroke-dasharray="1 16 1 1"/><path d="M103 96.5h28" stroke-dasharray="2 2 1 18 1 3 1 1"/><path d="M104 97.5h2"/><path d="M106 98.5h25" stroke-dasharray="1 17 1 5 1 1"/><path d="M107 99.5h10" stroke-dasharray="2 7 1 1"/><path d="M108 100.5h16" stroke-dasharray="2 11 3 1"/><path d="M109 101.5h13" stroke-dasharray="2 6 1 2 2 1"/><path d="M110 102.5h14" stroke-dasharray="3 4 1 1 3 1 1 1"/><path d="M112 103.5h10" stroke-dasharray="6 2 2 1"/><path d="M126 104.5h2"/><path d="M121 106.5h10" stroke-dasharray="1 5 1 2 1 1"/><path d="M128 107.5h1"/><path d="M120 111.5h1"/><path d="M32 121.5h1"/><path d="M34 128.5h1"/><path d="M115 140.5h1"/><path d="M78 143.5h1"/></g><g stroke="#7ad151"><path d="M163 1.5h1"/><path d="M155 2.5h11" stroke-dasharray="1 2 1 6 1 1"/><path d="M154 3.5h27" stroke-dasharray="1 11 1 1 1 4 1 3 1 2 1 1"/><path d="M177 4.5h1"/><path d="M147 6.5h2"/><path d="M144 7.5h1"/><path d="M181 11.5h1"/><path d="M173 14.5h2"/><path d="M175 15.5h1"/><path d="M182 18.5h1"/><path d="M130 19.5h1"/><path d="M130 20.5h51" stroke-dasharray="1 49 1 1"/><path d="M131 21.5h32" stroke-dasharray="1 24 1 5 1 1"/><path d="M166 22.5h1"/><path d="M138 23.5h1"/><path d="M129 24.5h26" stroke-dasharray="1 24 1 1"/><path d="M121 32.5h16" stroke-dasharray="1 12 1 1 1 1"/><path d="M117 33.5h1"/><path d="M117 34.5h37" stroke-dasharray="1 28 1 6 1 1"/><path d="M146 35.5h20" stroke-dasharray="1 1 1 16 1 1"/><path d="M116 36.5h64" stroke-dasharray="1 30 1 31 1 1"/><path d="M146 37.5h44" stroke-dasharray="2 1 1 39 1 1"/><path d="M149 38.5h1"/><path d="M115 39.5h39" stroke-dasharray="1 3 1 24 2 1 1 2 1 2 1 1"/><path d="M141 40.5h1"/><path d="M130 41.5h28" stroke-dasharray="1 26 1 1"/><path d="M125 42.5h28" stroke-dasharray="1 6 1 4 2 3 3 3 1 3 1 1"/><path d="M124 43.5h22" stroke-dasharray="1 13 1 6 1 1"/><path d="M136 44.5h15" stroke-dasharray="2 3 1 8 1 1"/><path d="M132 45.5h29" stroke-dasharray="4 14 2 1 1 6 1 1"/><path d="M131 46.5h25" stroke-dasharray="1 3 2 11 2 5 1 1"/><path d="M118 47.5h34" stroke-dasharray="1 11 1 1 2 2 1 1 1 3 1 7 2 1"/><path d="M90 48.5h66" stroke-dasharray="1 27 1 31 2 3 1 1"/><path d="M126 49.5h26" stroke-dasharray="1 9 1 9 1 4 1 1"/><path d="M134 50.5h25" stroke-dasharray="1 7 2 14 1 1"/><path d="M83 51.5h72" stroke-dasharray="1 50 2 3 1 7 1 2 1 1 1 1 1 1"/><path d="M149 52.5h1"/><path d="M116 53.5h1"/><path d="M112 54.5h45" stroke-dasharray="1 2 1 4 1 10 1 24 1 1"/><path d="M47 55.5h67" stroke-dasharray="2 64 1 1"/><path d="M113 56.5h30" stroke-dasharray="1 24 1 1 3 1"/><path d="M131 57.5h16" stroke-dasharray="2 1 2 2 2 2 1 1 1 1 1 1"/><path d="M112 58.5h35" stroke-dasharray="1 1 1 13 5 12 2 1"/><path d="M119 59.5h28" stroke-dasharray="1 1 1 4 1 19 1 1"/><path d="M113 60.5h36" stroke-dasharray="2 10 2 19 1 1 1 1"/><path d="M51 61.5h97" stroke-dasharray="1 72 2 21 1 1"/><path d="M123 62.5h24" stroke-dasharray="2 21 1 1"/><path d="M123 63.5h1"/><path d="M121 64.5h30" stroke-dasharray="2 27 1 1"/><path d="M103 65.5h26" stroke-dasharray="2 16 1 6 1 1"/><path d="M103 66.5h17" stroke-dasharray="1 15 1 1"/><path d="M103 67.5h92" stroke-dasharray="1 8 1 1 3 1 1 3 1 71 1 1"/><path d="M108 68.5h86" stroke-dasharray="1 1 4 19 1 59 1 1"/><path d="M102 69.5h31" stroke-dasharray="1 6 4 3 1 1 1 13 1 1"/><path d="M100 70.5h96" stroke-dasharray="3 5 1 86 1 1"/><path d="M101 71.5h12" stroke-dasharray="4 1 2 3 2 1"/><path d="M101 72.5h17" stroke-dasharray="4 1 1 8 3 1"/><path d="M99 73.5h20" stroke-dasharray="3 2 1 1 1 10 2 1"/><path d="M99 74.5h47" stroke-dasharray="2 4 1 10 1 16 1 11 1 1"/><path d="M98 75.5h43" stroke-dasharray="1 7 1 8 1 13 1 9 2 1"/><path d="M63 76.5h75" stroke-dasharray="1 1 1 31 1 1 1 15 3 1 1 17 1 1"/><path d="M43 77.5h63" stroke-dasharray="1 1 2 13 2 3 3 28 1 8 1 1"/><path d="M40 78.5h73" stroke-dasharray="2 4 4 5 1 2 2 7 2 26 2 3 2 10 1 1"/><path d="M57 79.5h76" stroke-dasharray="2 9 2 31 1 30 1 1"/><path d="M37 80.5h81" stroke-dasharray="1 13 2 2 2 37 1 22 1 1"/><path d="M36 81.5h99" stroke-dasharray="1 15 2 16 1 23 1 20 1 12 1 5 1 1"/><path d="M21 82.5h112" stroke-dasharray="2 1 3 1 2 1 4 36 1 20 1 1 1 20 1 3 1 12 1 1"/><path d="M30 83.5h104" stroke-dasharray="4 37 2 18 2 23 1 16 1 1"/><path d="M72 84.5h54" stroke-dasharray="1 17 1 24 1 1 1 7 1 1"/><path d="M73 85.5h17" stroke-dasharray="1 15 1 1"/><path d="M73 86.5h19" stroke-dasharray="1 13 1 2 2 1"/><path d="M74 87.5h55" stroke-dasharray="1 10 1 5 2 35 1 1"/><path d="M75 88.5h107" stroke-dasharray="2 6 2 96 1 1"/><path d="M76 89.5h19" stroke-dasharray="2 3 2 10 2 1"/><path d="M77 90.5h51" stroke-dasharray="2 1 2 13 2 30 1 1"/><path d="M78 91.5h20" stroke-dasharray="3 15 2 1"/><path d="M79 92.5h48" stroke-dasharray="1 18 2 26 1 1"/><path d="M99 93.5h29" stroke-dasharray="3 23 1 1 1 1"/><path d="M61 94.5h42" stroke-dasharray="1 39 2 1"/><path d="M103 95.5h18" stroke-dasharray="1 16 1 1"/><path d="M103 96.5h5" stroke-dasharray="2 2 1 1"/><path d="M104 97.5h2"/><path d="M106 98.5h1"/><path d="M107 99.5h2"/><path d="M108 100.5h16" stroke-dasharray="2 11 1 1 1 1"/><path d="M109 101.5h13" stroke-dasharray="2 9 2 1"/><path d="M110 102.5h11" stroke-dasharray="3 4 1 1 2 1"/><path d="M112 103.5h10" stroke-dasharray="6 2 2 1"/><path d="M121 106.5h10" stroke-dasharray="1 8 1 1"/><path d="M128 107.5h1"/><path d="M32 121.5h1"/><path d="M34 128.5h1"/><path d="M115 140.5h1"/><path d="M78 143.5h1"/></g><g stroke="#c0dd40"><path d="M180 3.5h1"/><path d="M177 4.5h1"/><path d="M147 6.5h1"/><path d="M144 7.5h1"/><path d="M181 11.5h1"/><path d="M173 14.5h2"/><path d="M175 15.5h1"/><path d="M182 18.5h1"/><path d="M180 20.5h1"/><path d="M156 21.5h7" stroke-dasharray="1 5 1 1"/><path d="M166 22.5h1"/><path d="M154 24.5h1"/><path d="M121 32.5h1"/><path d="M153 34.5h1"/><path d="M165 35.5h1"/><path d="M179 36.5h1"/><path d="M149 37.5h41" stroke-dasharray="1 39 1 1"/><path d="M149 38.5h1"/><path d="M119 39.5h35" stroke-dasharray="1 24 1 2 1 2 1 2 1 1"/><path d="M141 40.5h1"/><path d="M130 41.5h28" stroke-dasharray="1 26 1 1"/><path d="M132 42.5h13" stroke-dasharray="1 4 2 3 3 1"/><path d="M124 43.5h22" stroke-dasharray="1 13 1 6 1 1"/><path d="M136 44.5h15" stroke-dasharray="2 3 1 8 1 1"/><path d="M132 45.5h29" stroke-dasharray="3 15 2 1 1 6 1 1"/><path d="M149 46.5h1"/><path d="M133 47.5h18" stroke-dasharray="1 2 1 1 1 3 1 7 1 1"/><path d="M150 48.5h1"/><path d="M126 49.5h21" stroke-dasharray="1 9 1 9 1 1"/><path d="M134 50.5h25" stroke-dasharray="1 7 2 14 1 1"/><path d="M83 51.5h57" stroke-dasharray="1 50 2 3 1 1"/><path d="M149 52.5h1"/><path d="M112 54.5h45" stroke-dasharray="1 7 1 10 1 24 1 1"/><path d="M47 55.5h67" stroke-dasharray="1 65 1 1"/><path d="M113 56.5h30" stroke-dasharray="1 26 3 1"/><path d="M138 57.5h5" stroke-dasharray="2 2 1 1"/><path d="M114 58.5h32" stroke-dasharray="1 15 1 1 1 12 1 1"/><path d="M119 59.5h1"/><path d="M51 61.5h75" stroke-dasharray="1 72 2 1"/><path d="M121 64.5h2"/><path d="M103 65.5h19" stroke-dasharray="2 16 1 1"/><path d="M119 66.5h1"/><path d="M112 67.5h83" stroke-dasharray="1 1 2 2 1 75 1 1"/><path d="M110 68.5h84" stroke-dasharray="1 1 2 79 1 1"/><path d="M109 69.5h10" stroke-dasharray="1 2 1 5 1 1"/><path d="M101 70.5h95" stroke-dasharray="2 92 1 1"/><path d="M101 71.5h11" stroke-dasharray="2 1 1 1 2 3 1 1"/><path d="M101 72.5h17" stroke-dasharray="1 1 2 10 3 1"/><path d="M99 73.5h19" stroke-dasharray="2 3 1 1 1 10 1 1"/><path d="M100 74.5h46" stroke-dasharray="1 4 1 10 1 28 1 1"/><path d="M106 75.5h10" stroke-dasharray="1 8 1 1"/><path d="M63 76.5h75" stroke-dasharray="1 1 1 31 1 18 1 20 1 1"/><path d="M43 77.5h63" stroke-dasharray="1 1 2 20 1 37 1 1"/><path d="M40 78.5h61" stroke-dasharray="1 6 2 6 1 11 1 27 1 4 1 1"/><path d="M57 79.5h76" stroke-dasharray="1 43 1 30 1 1"/><path d="M37 80.5h20" stroke-dasharray="1 13 2 3 1 1"/><path d="M36 81.5h93" stroke-dasharray="1 15 1 17 1 23 1 33 1 1"/><path d="M22 82.5h111" stroke-dasharray="1 3 1 1 1 2 2 1 1 57 1 1 1 37 1 1"/><path d="M30 83.5h87" stroke-dasharray="2 39 1 44 1 1"/><path d="M72 84.5h44" stroke-dasharray="1 17 1 24 1 1"/><path d="M73 85.5h17" stroke-dasharray="1 15 1 1"/><path d="M73 86.5h19" stroke-dasharray="1 13 1 3 1 1"/><path d="M92 87.5h37" stroke-dasharray="1 35 1 1"/><path d="M76 88.5h106" stroke-dasharray="1 7 1 96 1 1"/><path d="M77 89.5h18" stroke-dasharray="1 3 2 10 2 1"/><path d="M77 90.5h20" stroke-dasharray="1 2 1 14 2 1"/><path d="M78 91.5h20" stroke-dasharray="1 17 2 1"/><path d="M79 92.5h21" stroke-dasharray="1 18 2 1"/><path d="M99 93.5h29" stroke-dasharray="2 26 1 1"/><path d="M101 94.5h2"/><path d="M103 95.5h1"/><path d="M103 96.5h2"/><path d="M106 98.5h1"/><path d="M107 99.5h2"/><path d="M108 100.5h16" stroke-dasharray="2 11 1 1 1 1"/><path d="M110 101.5h11" stroke-dasharray="1 9 1 1"/><path d="M110 102.5h10" stroke-dasharray="3 4 1 1 1 1"/><path d="M112 103.5h9" stroke-dasharray="3 2 1 2 1 1"/><path d="M130 106.5h1"/><path d="M115 140.5h1"/><path d="M78 143.5h1"/></g><g stroke="#fde725"><path d="M181 11.5h1"/><path d="M173 14.5h2"/><path d="M175 15.5h1"/><path d="M182 18.5h1"/><path d="M180 20.5h1"/><path d="M156 21.5h7" stroke-dasharray="1 5 1 1"/><path d="M166 22.5h1"/><path d="M154 24.5h1"/><path d="M121 32.5h1"/><path d="M153 34.5h1"/><path d="M165 35.5h1"/><path d="M179 36.5h1"/><path d="M149 37.5h41" stroke-dasharray="1 39 1 1"/><path d="M149 38.5h1"/><path d="M144 39.5h7" stroke-dasharray="1 2 1 2 1 1"/><path d="M141 40.5h1"/><path d="M130 41.5h28" stroke-dasharray="1 26 1 1"/><path d="M132 42.5h13" stroke-dasharray="1 4 2 3 3 1"/><path d="M124 43.5h22" stroke-dasharray="1 13 1 6 1 1"/><path d="M136 44.5h15" stroke-dasharray="2 3 1 8 1 1"/><path d="M132 45.5h29" stroke-dasharray="3 15 2 8 1 1"/><path d="M133 47.5h10" stroke-dasharray="1 2 1 1 1 3 1 1"/><path d="M126 49.5h21" stroke-dasharray="1 9 1 9 1 1"/><path d="M134 50.5h10" stroke-dasharray="1 7 2 1"/><path d="M83 51.5h57" stroke-dasharray="1 50 2 3 1 1"/><path d="M149 52.5h1"/><path d="M112 54.5h45" stroke-dasharray="1 18 1 24 1 1"/><path d="M113 55.5h1"/><path d="M140 56.5h3" stroke-dasharray="1 1 1 1"/><path d="M138 57.5h2"/><path d="M51 61.5h1"/><path d="M121 65.5h1"/><path d="M114 67.5h81" stroke-dasharray="1 79 1 1"/><path d="M193 68.5h1"/><path d="M195 70.5h1"/><path d="M99 73.5h2"/><path d="M116 74.5h30" stroke-dasharray="1 28 1 1"/><path d="M115 75.5h1"/><path d="M65 76.5h1"/><path d="M101 79.5h1"/><path d="M34 82.5h61" stroke-dasharray="1 59 1 1"/><path d="M31 83.5h41" stroke-dasharray="1 39 1 1"/><path d="M73 85.5h17" stroke-dasharray="1 15 1 1"/><path d="M73 86.5h1"/><path d="M181 88.5h1"/><path d="M127 93.5h1"/><path d="M121 100.5h1"/><path d="M115 140.5h1"/><path d="M78 143.5h1"/></g></g><use href="#grid"/><path d="M-11.46 28.4H0M-11.46 129.6H0M-11.46 230.8H0M-11.46 332H0M-11.46 433.2H0M-11.46 534.4H0M-11.46 635.6H0" stroke="#333" stroke-width="4.45" fill="none"/><text x="-20.6" y="41.6" font-size="36.67" fill="#4d4d4d" text-anchor="end">22°S</text><text x="-20.6" y="142.8" font-size="36.67" fill="#4d4d4d" text-anchor="end">24°S</text><text x="-20.6" y="244" font-size="36.67" fill="#4d4d4d" text-anchor="end">26°S</text><text x="-20.6" y="345.2" font-size="36.67" fill="#4d4d4d" text-anchor="end">28°S</text><text x="-20.6" y="446.4" font-size="36.67" fill="#4d4d4d" text-anchor="end">30°S</text><text x="-20.6" y="547.6" font-size="36.67" fill="#4d4d4d" text-anchor="end">32°S</text><text x="-20.6" y="648.8" font-size="36.67" fill="#4d4d4d" text-anchor="end">34°S</text><path d="M195.8 710.2v11.46M418.3 710.2v11.46M640.8 710.2v11.46" stroke="#333" stroke-width="4.45" fill="none"/><text x="195.8" y="756.36" font-size="36.67" fill="#4d4d4d" text-anchor="middle">20°E</text><text x="418.3" y="756.36" font-size="36.67" fill="#4d4d4d" text-anchor="middle">25°E</text><text x="640.8" y="756.36" font-size="36.67" fill="#4d4d4d" text-anchor="middle">30°E</text></g><g transform="translate(961.2,1072)"><rect width="807.3" height="68.6" fill="#d9d9d9"/><text x="403.65" y="46.2" font-size="36.67" fill="#1a1a1a" text-anchor="middle">ub</text></g><g transform="translate(961.2,1140.6)"><rect width="807.3" height="710.2" fill="#ebebeb"/><path d="M0 28.4H807.3M0 129.6H807.3M0 230.8H807.3M0 332H807.3M0 433.2H807.3M0 534.4H807.3M0 635.6H807.3M195.8 0V710.2M418.3 0V710.2M640.8 0V710.2" stroke="#fff" stroke-width="4.45" fill="none"/><g transform="translate(25.22,28.4) scale(3.7083,4.2167)" fill="none" stroke-width="1.04"><g stroke="#440154"><path d="M160 1.5h4"/><path d="M154 2.5h13"/><path d="M153 3.5h28" stroke-dasharray="17 1 10 1"/><path d="M152 4.5h30"/><path d="M149 5.5h34"/><path d="M145 6.5h38"/><path d="M144 7.5h40"/><path d="M143 8.5h41"/><path d="M142 9.5h42"/><path d="M141 10.5h44"/><path d="M141 11.5h44"/><path d="M140 12.5h45"/><path d="M138 13.5h47"/><path d="M137 14.5h48"/><path d="M135 15.5h50"/><path d="M133 16.5h52"/><path d="M132 17.5h53"/><path d="M131 18.5h55"/><path d="M130 19.5h56"/><path d="M129 20.5h58"/><path d="M129 21.5h58"/><path d="M129 22.5h59"/><path d="M129 23.5h60"/><path d="M129 24.5h60"/><path d="M128 25.5h62"/><path d="M128 26.5h62"/><path d="M127 27.5h64"/><path d="M126 28.5h65"/><path d="M124 29.5h67"/><path d="M124 30.5h67"/><path d="M121 31.5h70"/><path d="M119 32.5h72"/><path d="M46 33.5h145" stroke-dasharray="2 69 74 1"/><path d="M46 34.5h145" stroke-dasharray="3 68 74 1"/><path d="M46 35.5h145" stroke-dasharray="4 66 75 1"/><path d="M46 36.5h145" stroke-dasharray="5 65 75 1"/><path d="M46 37.5h145" stroke-dasharray="6 63 76 1"/><path d="M46 38.5h145" stroke-dasharray="6 63 76 1"/><path d="M46 39.5h145" stroke-dasharray="7 29 7 25 77 1"/><path d="M46 40.5h145" stroke-dasharray="8 27 9 24 77 1"/><path d="M46 41.5h145" stroke-dasharray="9 25 12 22 77 1"/><path d="M46 42.5h145" stroke-dasharray="9 24 14 20 78 1"/><path d="M46 43.5h145" stroke-dasharray="9 24 18 16 78 1"/><path d="M46 44.5h145" stroke-dasharray="9 24 21 6 2 2 81 1"/><path d="M46 45.5h144" stroke-dasharray="10 22 105 2 5 1"/><path d="M46 46.5h144" stroke-dasharray="10 22 103 4 5 1"/><path d="M46 47.5h144" stroke-dasharray="11 21 103 7 2 1"/><path d="M46 48.5h134" stroke-dasharray="11 21 102 1"/><path d="M46 49.5h133" stroke-dasharray="11 19 103 1"/><path d="M46 50.5h133" stroke-dasharray="11 17 105 1"/><path d="M46 51.5h132" stroke-dasharray="10 18 104 1"/><path d="M46 52.5h132" stroke-dasharray="9 17 106 1"/><path d="M46 53.5h131" stroke-dasharray="8 17 106 1"/><path d="M46 54.5h130" stroke-dasharray="8 16 106 1"/><path d="M46 55.5h130" stroke-dasharray="8 15 107 1"/><path d="M46 56.5h130" stroke-dasharray="8 13 109 1"/><path d="M46 57.5h146" stroke-dasharray="8 1 3 4 2 2 111 14 1 1"/><path d="M46 58.5h155" stroke-dasharray="131 13 11 1"/><path d="M46 59.5h155" stroke-dasharray="132 12 11 1"/><path d="M46 60.5h155" stroke-dasharray="132 12 11 1"/><path d="M46 61.5h155" stroke-dasharray="133 11 11 1"/><path d="M46 62.5h154" stroke-dasharray="134 10 10 1"/><path d="M46 63.5h154" stroke-dasharray="142 2 10 1"/><path d="M46 64.5h153"/><path d="M45 65.5h154"/><path d="M45 66.5h154"/><path d="M45 67.5h153"/><path d="M45 68.5h153"/><path d="M45 69.5h153"/><path d="M45 70.5h153"/><path d="M45 71.5h153"/><path d="M8 72.5h189" stroke-dasharray="4 33 152 1"/><path d="M8 73.5h189" stroke-dasharray="5 32 152 1"/><path d="M7 74.5h190" stroke-dasharray="8 30 152 1"/><path d="M7 75.5h189" stroke-dasharray="8 30 151 1"/><path d="M7 76.5h189" stroke-dasharray="8 30 151 1"/><path d="M5 77.5h191" stroke-dasharray="10 27 154 1"/><path d="M3 78.5h192" stroke-dasharray="13 24 155 1"/><path d="M3 79.5h192" stroke-dasharray="13 23 110 1 45 1"/><path d="M4 80.5h190" stroke-dasharray="15 18 110 3 44 1"/><path d="M4 81.5h188" stroke-dasharray="19 13 108 7 2 1 38 1"/><path d="M5 82.5h186" stroke-dasharray="30 1 107 12 36 1"/><path d="M6 83.5h183" stroke-dasharray="28 2 104 16 33 1"/><path d="M6 84.5h182" stroke-dasharray="132 20 30 1"/><path d="M7 85.5h179" stroke-dasharray="131 21 27 1"/><path d="M8 86.5h178" stroke-dasharray="130 22 26 1"/><path d="M8 87.5h176" stroke-dasharray="129 23 24 1"/><path d="M9 88.5h174" stroke-dasharray="127 24 23 1"/><path d="M9 89.5h173" stroke-dasharray="126 24 23 1"/><path d="M9 90.5h173" stroke-dasharray="125 24 24 1"/><path d="M10 91.5h171" stroke-dasharray="121 27 23 1"/><path d="M10 92.5h170" stroke-dasharray="122 25 23 1"/><path d="M10 93.5h170" stroke-dasharray="122 24 24 1"/><path d="M11 94.5h168" stroke-dasharray="121 25 22 1"/><path d="M11 95.5h168" stroke-dasharray="122 23 23 1"/><path d="M11 96.5h167" stroke-dasharray="123 21 23 1"/><path d="M12 97.5h166" stroke-dasharray="122 19 25 1"/><path d="M12 98.5h165" stroke-dasharray="123 12 30 1"/><path d="M12 99.5h164" stroke-dasharray="123 11 30 1"/><path d="M13 100.5h163" stroke-dasharray="122 11 30 1"/><path d="M13 101.5h162" stroke-dasharray="123 10 29 1"/><path d="M14 102.5h160" stroke-dasharray="123 8 29 1"/><path d="M14 103.5h160" stroke-dasharray="124 6 30 1"/><path d="M15 104.5h158"/><path d="M16 105.5h156"/><path d="M16 106.5h155"/><path d="M17 107.5h153"/><path d="M18 108.5h152"/><path d="M18 109.5h151"/><path d="M19 110.5h149"/><path d="M20 111.5h147"/><path d="M20 112.5h146"/><path d="M21 113.5h144"/><path d="M22 114.5h141"/><path d="M23 115.5h139"/><path d="M24 116.5h137"/><path d="M24 117.5h135"/><path d="M25 118.5h133"/><path d="M25 119.5h132"/><path d="M25 120.5h131"/><path d="M25 121.5h130"/><path d="M25 122.5h129"/><path d="M25 123.5h128"/><path d="M25 124.5h127"/><path d="M26 125.5h125"/><path d="M25 126.5h125"/><path d="M25 127.5h123"/><path d="M20 128.5h127" stroke-dasharray="3 1 123 1"/><path d="M20 129.5h126"/><path d="M20 130.5h125"/><path d="M20 131.5h124"/><path d="M20 132.5h123"/><path d="M21 133.5h120"/><path d="M22 134.5h117"/><path d="M23 135.5h115"/><path d="M23 136.5h113"/><path d="M25 137.5h110"/><path d="M25 138.5h108"/><path d="M26 139.5h104"/><path d="M27 140.5h101"/><path d="M26 141.5h99" stroke-dasharray="90 5 4 1"/><path d="M26 142.5h88"/><path d="M26 143.5h89"/><path d="M25 144.5h90" stroke-dasharray="63 3 15 4 5 1"/><path d="M25 145.5h80" stroke-dasharray="4 2 41 9 1 2 3 10 8 1"/><path d="M26 146.5h79" stroke-dasharray="2 3 41 28 5 1"/><path d="M26 147.5h44" stroke-dasharray="2 3 39 1"/><path d="M27 148.5h42" stroke-dasharray="1 3 38 1"/><path d="M35 149.5h28" stroke-dasharray="22 3 3 1"/><path d="M38 150.5h14"/><path d="M37 151.5h14"/><path d="M40 152.5h9"/><path d="M41 153.5h6"/></g><g stroke="#46286d"><path d="M160 1.5h4"/><path d="M154 2.5h13" stroke-dasharray="6 1 6 1"/><path d="M153 3.5h28" stroke-dasharray="3 1 1 2 10 1 10 1"/><path d="M153 4.5h29" stroke-dasharray="1 1 1 2 24 1"/><path d="M149 5.5h34" stroke-dasharray="1 1 1 5 3 1 22 1"/><path d="M145 6.5h38" stroke-dasharray="6 1 1 1 7 1 21 1"/><path d="M144 7.5h40" stroke-dasharray="17 1 22 1"/><path d="M143 8.5h41" stroke-dasharray="4 1 3 3 30 1"/><path d="M142 9.5h42" stroke-dasharray="3 1 4 1 33 1"/><path d="M141 10.5h44"/><path d="M141 11.5h44" stroke-dasharray="25 1 18 1"/><path d="M140 12.5h45"/><path d="M138 13.5h47" stroke-dasharray="23 1 3 3 17 1"/><path d="M137 14.5h48" stroke-dasharray="11 1 12 1 23 1"/><path d="M135 15.5h50" stroke-dasharray="15 1 6 1 5 2 20 1"/><path d="M133 16.5h52" stroke-dasharray="12 1 2 2 3 1 3 1 5 1 21 1"/><path d="M132 17.5h53" stroke-dasharray="16 1 11 1 4 1 19 1"/><path d="M131 18.5h55" stroke-dasharray="16 1 14 2 10 1 11 1"/><path d="M130 19.5h56" stroke-dasharray="39 1 16 1"/><path d="M129 20.5h58" stroke-dasharray="45 1 12 1"/><path d="M129 21.5h58"/><path d="M129 22.5h59" stroke-dasharray="39 1 19 1"/><path d="M129 23.5h60" stroke-dasharray="52 1 7 1"/><path d="M129 24.5h60" stroke-dasharray="35 1 8 1 15 1"/><path d="M128 25.5h62" stroke-dasharray="41 1 20 1"/><path d="M128 26.5h62" stroke-dasharray="32 1 7 1 2 1 4 1 13 1"/><path d="M127 27.5h64" stroke-dasharray="47 1 16 1"/><path d="M126 28.5h65" stroke-dasharray="48 1 16 1"/><path d="M124 29.5h67" stroke-dasharray="49 1 17 1"/><path d="M124 30.5h67" stroke-dasharray="18 1 24 1 4 1 18 1"/><path d="M121 31.5h70" stroke-dasharray="47 3 2 1 17 1"/><path d="M119 32.5h72" stroke-dasharray="10 1 1 1 36 1 4 1 17 1"/><path d="M46 33.5h145" stroke-dasharray="2 69 11 2 42 1 10 2 4 1 1 1"/><path d="M46 34.5h145" stroke-dasharray="3 68 10 1 63 1"/><path d="M46 35.5h145" stroke-dasharray="4 66 11 2 62 1"/><path d="M46 36.5h145" stroke-dasharray="5 65 75 1"/><path d="M46 37.5h145" stroke-dasharray="6 63 76 1"/><path d="M46 38.5h145" stroke-dasharray="6 63 20 1 55 1"/><path d="M46 39.5h145" stroke-dasharray="7 29 1 3 3 25 77 1"/><path d="M47 40.5h144" stroke-dasharray="7 27 6 1 2 24 77 1"/><path d="M46 41.5h145" stroke-dasharray="9 25 12 22 77 1"/><path d="M46 42.5h145" stroke-dasharray="9 24 3 1 10 20 7 1 68 1 1 1"/><path d="M47 43.5h144" stroke-dasharray="8 24 18 16 8 1 7 1 61 1"/><path d="M47 44.5h144" stroke-dasharray="8 24 21 6 2 2 56 1 5 1 18 1"/><path d="M46 45.5h144" stroke-dasharray="10 22 15 1 73 1 2 1 12 2 5 1"/><path d="M46 46.5h144" stroke-dasharray="10 22 15 1 4 1 26 1 39 1 4 2 9 4 5 1"/><path d="M46 47.5h144" stroke-dasharray="11 21 20 1 67 3 4 1 7 7 2 1"/><path d="M46 48.5h134" stroke-dasharray="11 21 14 1 2 1 2 1 10 1 18 1 40 4 7 1"/><path d="M46 49.5h133" stroke-dasharray="11 19 21 3 28 1 40 1 1 3 5 1"/><path d="M46 50.5h133" stroke-dasharray="11 17 46 1 42 1 3 1 2 1 1 1 6 1"/><path d="M46 51.5h132" stroke-dasharray="10 18 18 1 2 3 12 2 49 1 10 1 5 1"/><path d="M46 52.5h132" stroke-dasharray="9 17 23 1 13 2 53 1 1 1 5 1 5 1"/><path d="M46 53.5h131" stroke-dasharray="8 17 16 5 17 1 20 1 1 1 23 1 4 1 15 1"/><path d="M46 54.5h130" stroke-dasharray="8 16 14 1 4 1 40 1 3 2 40 1"/><path d="M46 55.5h130" stroke-dasharray="8 15 21 1 16 1 23 1 44 1"/><path d="M46 56.5h130" stroke-dasharray="8 13 16 1 2 2 38 1 2 2 2 3 40 1"/><path d="M46 57.5h146" stroke-dasharray="7 2 3 4 2 2 19 2 3 2 25 1 8 1 50 14 1 1"/><path d="M46 58.5h155" stroke-dasharray="6 2 29 1 41 1 51 13 11 1"/><path d="M46 59.5h155" stroke-dasharray="42 3 7 1 1 1 3 1 31 1 41 13 8 1 1 1"/><path d="M46 60.5h155" stroke-dasharray="6 3 2 1 40 2 78 12 7 1 3 1"/><path d="M46 61.5h155" stroke-dasharray="6 1 35 3 7 1 34 3 43 12 2 1 4 1 2 1"/><path d="M46 62.5h154" stroke-dasharray="2 1 3 2 50 1 4 2 69 10 1 1 1 3 1 1 2 1"/><path d="M46 63.5h154" stroke-dasharray="2 2 52 2 1 1 2 1 3 1 5 1 11 1 1 1 52 5 1 1 8 1"/><path d="M46 64.5h153" stroke-dasharray="3 2 34 1 1 1 9 1 5 1 1 1 79 3 11 1"/><path d="M45 65.5h154" stroke-dasharray="3 1 7 2 23 2 11 1 16 1 6 2 4 1 28 1 23 1 7 1 1 1 11 1"/><path d="M45 66.5h154" stroke-dasharray="9 1 3 1 22 1 70 2 2 1 1 1 13 1 13 1 1 1 8 1 1 1"/><path d="M45 67.5h153" stroke-dasharray="6 1 4 2 27 1 66 1 2 1 2 1 21 2 4 1 9 1 1 1"/><path d="M45 68.5h153" stroke-dasharray="10 2 72 1 15 1 7 5 22 1 1 1 13 1 1 1"/><path d="M45 69.5h153" stroke-dasharray="13 1 38 1 48 1 2 1 3 4 13 1 7 1 2 1 13 1 2 1"/><path d="M45 70.5h153" stroke-dasharray="37 1 1 1 1 1 38 1 4 1 8 1 11 1 2 1 1 1 20 2 4 1 8 1 5 1"/><path d="M45 71.5h153" stroke-dasharray="6 1 102 1 30 1 12 1"/><path d="M45 72.5h152" stroke-dasharray="36 3 9 1 55 1 3 2 1 1 2 1 37 1"/><path d="M46 73.5h151" stroke-dasharray="3 2 5 1 3 1 24 1 64 1 3 2 28 1 8 1 3 1"/><path d="M45 74.5h152" stroke-dasharray="5 1 9 1 88 2 23 1 17 1 4 1"/><path d="M45 75.5h151" stroke-dasharray="38 1 2 1 2 1 4 1 5 1 43 2 28 1 6 1 14 1"/><path d="M45 76.5h151" stroke-dasharray="41 1 7 1 79 1 5 1 5 1 9 1"/><path d="M42 77.5h154" stroke-dasharray="46 1 12 1 41 1 8 1 6 1 10 1 25 1"/><path d="M40 78.5h155" stroke-dasharray="3 2 39 2 6 1 51 1 2 1 10 1 36 1"/><path d="M39 79.5h156" stroke-dasharray="1 2 3 1 37 1 2 1 3 1 2 1 32 1 12 1 9 1 5 2 15 1 22 1"/><path d="M4 80.5h190" stroke-dasharray="1 32 4 1 1 1 1 1 43 1 3 1 1 2 49 4 3 1 40 1"/><path d="M4 81.5h188" stroke-dasharray="1 15 1 1 1 13 30 1 18 1 7 1 2 1 10 2 26 2 2 1 4 7 2 1 1 1 12 1 7 1 15 1"/><path d="M20 82.5h171" stroke-dasharray="15 6 44 1 11 2 37 1 4 1 1 12 10 1 6 1 1 2 1 1 1 1 11 1"/><path d="M29 83.5h160" stroke-dasharray="5 2 1 5 1 4 16 1 33 1 39 1 2 17 10 1 2 1 1 2 15 1"/><path d="M49 84.5h139" stroke-dasharray="44 1 1 1 2 1 37 1 1 20 13 1 1 1 14 1"/><path d="M7 85.5h179" stroke-dasharray="1 42 11 1 2 2 1 1 11 1 5 1 19 1 23 1 8 21 8 1 13 1 4 1"/><path d="M8 86.5h178" stroke-dasharray="1 41 14 2 3 1 1 1 11 1 26 1 20 1 4 1 1 22 19 1 6 1"/><path d="M8 87.5h175" stroke-dasharray="1 42 1 2 11 1 1 1 57 1 5 1 4 24 1 2 8 1 11 1"/><path d="M50 88.5h133" stroke-dasharray="1 1 2 1 30 2 47 1 1 24 1 3 1 1 4 1 12 1"/><path d="M9 89.5h173" stroke-dasharray="1 40 15 2 31 1 27 1 5 2 1 24 9 1 1 1 11 1"/><path d="M50 90.5h132" stroke-dasharray="16 1 25 1 11 1 27 26 6 2 8 1 4 1 2 1"/><path d="M10 91.5h171" stroke-dasharray="1 34 5 2 72 1 6 27 3 1 3 1 2 1 10 1 1 1"/><path d="M45 92.5h135" stroke-dasharray="16 1 44 1 14 1 10 25 5 1 1 2 14 1"/><path d="M10 93.5h170" stroke-dasharray="1 29 1 2 3 4 48 1 10 1 22 24 1 2 4 2 13 1 1 1"/><path d="M38 94.5h141" stroke-dasharray="2 1 2 5 25 1 15 1 3 1 38 25 6 2 12 1 1 1"/><path d="M11 95.5h167" stroke-dasharray="1 23 2 1 3 1 2 2 2 1 25 1 11 2 5 1 39 23 11 1 10 1"/><path d="M35 96.5h143" stroke-dasharray="1 1 2 1 35 1 1 1 24 1 11 1 19 21 10 1 1 2 9 1"/><path d="M12 97.5h166" stroke-dasharray="1 23 11 1 7 1 4 1 10 2 2 1 58 20 1 1 6 1 15 1"/><path d="M34 98.5h143" stroke-dasharray="1 2 4 1 12 1 37 1 42 12 14 1 15 1"/><path d="M34 99.5h142" stroke-dasharray="1 2 1 1 25 1 22 1 3 1 2 1 2 2 1 2 1 1 9 1 6 1 14 11 7 3 2 1 17 1"/><path d="M13 100.5h163" stroke-dasharray="1 20 3 1 6 1 3 3 1 2 25 1 6 1 3 2 1 1 1 1 3 1 3 1 6 1 1 1 22 11 2 1 1 1 8 1 2 2 12 1"/><path d="M13 101.5h162" stroke-dasharray="1 19 2 1 9 2 4 1 1 1 17 1 7 1 8 1 2 1 1 6 3 1 33 10 2 1 1 2 8 1 3 1 10 1"/><path d="M14 102.5h160" stroke-dasharray="1 19 1 1 7 2 36 1 10 2 1 1 1 1 5 1 1 1 3 1 27 8 6 1 3 1 3 2 11 1 1 1"/><path d="M14 103.5h160" stroke-dasharray="1 22 30 1 16 1 21 1 31 6 15 1 1 2 3 1 7 1"/><path d="M15 104.5h158" stroke-dasharray="1 18 3 2 1 1 6 1 5 2 1 1 8 2 16 2 4 2 1 2 2 2 45 1 15 1 1 1 11 1"/><path d="M16 105.5h156" stroke-dasharray="1 17 4 1 45 1 1 2 3 1 12 2 2 1 2 1 27 1 13 1 5 1 2 1 6 1 2 1"/><path d="M39 106.5h131" stroke-dasharray="9 1 16 1 5 1 3 2 15 1 3 1 13 1 24 1 13 1 1 2 17 1"/><path d="M17 107.5h153" stroke-dasharray="1 16 2 3 7 1 20 2 2 1 1 1 12 1 58 1 6 2 8 1 7 1"/><path d="M18 108.5h152" stroke-dasharray="1 17 1 1 33 1 1 1 10 1 18 1 11 1 35 1 1 1 7 1 6 1 1 1"/><path d="M18 109.5h151" stroke-dasharray="1 17 2 1 3 2 18 3 4 1 15 1 4 3 62 1 3 3 7 1"/><path d="M35 110.5h130" stroke-dasharray="3 1 5 1 23 1 11 1 1 5 1 5 2 1 4 1 6 1 9 1 1 1 11 1 8 1 12 1 4 4 1 1 1 1"/><path d="M37 111.5h130" stroke-dasharray="6 1 20 2 1 1 14 1 1 2 3 1 4 2 6 1 4 1 7 2 8 1 4 1 14 3 8 1 2 1 4 2 1 1"/><path d="M36 112.5h128" stroke-dasharray="2 1 1 1 2 2 17 1 4 1 1 1 5 2 2 1 5 1 8 3 5 1 2 1 8 1 8 1 6 1 10 1 3 3 2 1 2 3 1 2 1 3 1 1"/><path d="M35 113.5h130" stroke-dasharray="1 1 1 1 4 2 1 1 21 1 1 1 1 1 2 1 3 1 12 1 1 1 7 2 6 1 1 1 3 1 3 1 2 2 13 1 7 1 2 1 6 1 2 4 2 1"/><path d="M22 114.5h141" stroke-dasharray="1 14 1 1 3 1 5 1 18 3 1 3 3 1 1 1 7 1 5 2 2 1 4 1 3 1 4 2 2 1 3 2 2 2 5 1 15 2 7 2 2 1 3 1"/><path d="M23 115.5h139" stroke-dasharray="1 13 3 2 1 1 10 1 19 1 2 1 34 2 1 1 8 1 13 2 7 1 1 1 3 2 4 1 2 1"/><path d="M24 116.5h137" stroke-dasharray="1 12 4 2 1 1 2 1 1 2 3 1 13 2 5 1 9 1 5 1 21 1 17 1 9 1 5 2 2 4 3 1 2 1"/><path d="M33 117.5h126" stroke-dasharray="1 5 2 4 23 2 2 2 4 1 8 1 6 2 12 1 40 2 2 1 1 2 2 1"/><path d="M25 118.5h133" stroke-dasharray="1 12 4 1 4 2 14 1 4 1 1 1 13 2 1 1 2 1 31 1 18 1 6 1 1 1 1 1 1 3 1 1"/><path d="M37 119.5h120" stroke-dasharray="3 4 9 1 3 1 10 1 3 2 9 1 2 1 34 1 4 1 12 1 1 2 1 1 3 1 5 1 2 1"/><path d="M25 120.5h128" stroke-dasharray="1 4 2 2 1 1 4 1 1 1 1 1 2 1 13 1 13 1 42 1 4 2 17 1 4 1 5 1"/><path d="M31 121.5h124" stroke-dasharray="2 1 1 1 1 2 8 3 3 1 5 1 3 1 20 1 53 1 4 1 1 1 3 1 5 1"/><path d="M32 122.5h122" stroke-dasharray="1 6 3 1 19 3 11 1 60 4 4 3 6 1"/><path d="M25 123.5h128" stroke-dasharray="1 5 3 1 2 1 5 1 2 2 16 1 59 1 8 1 7 1 3 1 1 1 5 1"/><path d="M25 124.5h127" stroke-dasharray="1 6 4 1 2 1 7 1 9 1 7 2 2 1 23 1 19 1 28 2 2 1 5 1"/><path d="M26 125.5h125" stroke-dasharray="1 6 1 1 4 2 7 1 14 1 1 1 1 2 8 5 1 1 42 1 16 1 1 1 2 2 1 1"/><path d="M25 126.5h125" stroke-dasharray="1 7 7 1 8 1 7 1 6 3 11 3 1 1 9 2 9 1 8 1 24 1 4 1 2 3 2 1"/><path d="M31 127.5h117" stroke-dasharray="1 1 5 3 1 1 11 1 1 1 1 2 3 2 2 1 13 1 1 1 20 1 7 2 20 1 4 1 1 2 5 1"/><path d="M21 128.5h125" stroke-dasharray="2 1 1 5 3 1 2 1 9 1 32 1 21 1 9 1 21 4 1 1 3 1 1 1 1 1"/><path d="M23 129.5h123" stroke-dasharray="1 6 1 2 2 1 7 1 15 1 6 1 1 1 7 1 3 1 5 4 3 1 1 4 3 1 4 1 26 5 1 3 1 1 1 1"/><path d="M20 130.5h125" stroke-dasharray="1 11 4 2 5 1 8 1 9 1 6 1 1 1 3 2 9 4 8 1 3 1 7 1 3 1 21 2 5 1 1 1"/><path d="M20 131.5h124" stroke-dasharray="1 10 5 1 3 1 1 1 26 1 4 3 1 2 3 3 1 3 4 2 1 1 3 1 6 1 10 1 1 1 7 1 1 1 4 3 2 2 1 1"/><path d="M31 132.5h111" stroke-dasharray="14 1 3 3 14 1 2 1 3 2 14 2 4 4 9 3 5 1 1 2 22 1"/><path d="M21 133.5h120" stroke-dasharray="1 10 15 1 2 1 9 1 5 1 8 1 3 1 4 1 6 1 4 3 5 4 1 3 6 2 2 1 2 1 9 1 2 1 2 1"/><path d="M22 134.5h117" stroke-dasharray="1 7 1 1 7 1 1 1 2 1 8 1 5 1 1 1 1 2 1 4 3 2 1 2 2 1 6 7 2 1 2 2 3 1 1 2 1 1 7 1 2 1 15 1 2 1"/><path d="M30 135.5h108" stroke-dasharray="29 1 1 2 4 3 1 1 3 5 5 1 2 3 1 3 2 1 1 2 5 2 1 3 1 5 6 1 8 1 1 2 1 1"/><path d="M23 136.5h113" stroke-dasharray="2 5 28 1 1 5 2 1 8 1 2 1 2 1 4 8 2 1 1 3 1 5 1 2 1 1 1 5 2 1 8 1 3 1 1 1"/><path d="M30 137.5h105" stroke-dasharray="2 1 18 1 4 2 2 4 1 3 2 1 4 1 7 1 3 2 3 7 1 1 1 4 3 6 1 2 17 1"/><path d="M25 138.5h107" stroke-dasharray="1 4 26 9 1 3 1 1 2 1 1 1 3 1 2 1 2 1 1 1 3 3 1 7 1 4 1 5 1 3 2 2 2 2 7 1"/><path d="M26 139.5h104" stroke-dasharray="1 4 12 1 12 7 10 1 2 1 3 2 2 1 1 1 1 3 1 2 1 9 1 1 3 5 1 7 6 1 1 1"/><path d="M27 140.5h101" stroke-dasharray="1 3 4 2 18 2 1 1 1 5 1 1 1 2 1 1 5 1 1 1 1 4 1 1 1 12 3 3 1 1 1 6 2 3 8 1"/><path d="M26 141.5h99" stroke-dasharray="1 3 2 1 2 3 5 1 6 1 3 1 1 1 1 2 2 3 1 1 4 2 3 8 1 1 2 5 2 5 1 2 1 4 1 5 2 5 4 1"/><path d="M26 142.5h88" stroke-dasharray="1 5 2 1 19 1 6 5 3 1 1 3 3 10 1 3 1 1 1 1 1 2 1 1 1 5 1 2 1 3 1 1"/><path d="M26 143.5h89" stroke-dasharray="1 4 7 1 2 1 10 6 1 9 1 3 1 2 4 2 1 1 1 2 1 3 1 1 1 2 2 1 1 1 1 4 1 2 2 4 1 1"/><path d="M29 144.5h86" stroke-dasharray="3 1 1 1 1 1 8 6 5 3 2 1 2 1 1 6 7 4 2 1 2 4 2 2 1 7 2 5 4 1"/><path d="M25 145.5h78" stroke-dasharray="1 2 1 2 2 1 1 1 3 1 1 2 4 3 1 1 1 6 3 4 1 4 1 9 1 3 2 10 3 2 1 1"/><path d="M31 146.5h73" stroke-dasharray="1 1 1 3 1 1 4 1 2 5 6 6 4 3 2 28 1 1 2 1"/><path d="M26 147.5h40" stroke-dasharray="2 3 4 4 1 1 6 4 1 1 3 9 1 1"/><path d="M27 148.5h42" stroke-dasharray="1 4 5 3 3 6 1 2 2 10 5 1"/><path d="M35 149.5h27" stroke-dasharray="3 3 6 1 1 3 2 7 1 1"/><path d="M39 150.5h13" stroke-dasharray="1 1 2 6 1 1 1 1"/><path d="M37 151.5h14" stroke-dasharray="2 2 2 4 4 1"/><path d="M46 152.5h3"/><path d="M42 153.5h5"/></g><g stroke="#414487"><path d="M160 1.5h4"/><path d="M154 2.5h13" stroke-dasharray="6 1 6 1"/><path d="M153 3.5h28" stroke-dasharray="2 6 9 1 10 1"/><path d="M162 4.5h20"/><path d="M149 5.5h34" stroke-dasharray="1 1 1 9 22 1"/><path d="M145 6.5h37" stroke-dasharray="6 1 1 3 1 2 1 2 10 2 8 1"/><path d="M144 7.5h37" stroke-dasharray="7 2 1 2 2 4 9 1 9 1"/><path d="M143 8.5h41" stroke-dasharray="3 2 1 6 1 1 1 2 2 1 9 1 8 1 2 1"/><path d="M142 9.5h42" stroke-dasharray="1 4 3 5 5 3 2 1 8 1 5 2 2 1"/><path d="M142 10.5h43" stroke-dasharray="2 3 1 4 8 1 1 1 8 1 4 1 1 1 2 1 1 1 1 1"/><path d="M146 11.5h39" stroke-dasharray="1 3 10 1 5 1 4 2 1 1 1 1 8 1"/><path d="M140 12.5h45" stroke-dasharray="2 2 3 1 10 1 2 1 1 4 1 2 4 1 1 2 7 1"/><path d="M138 13.5h47" stroke-dasharray="7 4 2 1 6 6 1 4 3 1 3 2 7 1"/><path d="M137 14.5h48" stroke-dasharray="9 1 1 5 1 1 2 2 2 5 10 1 8 1"/><path d="M135 15.5h50" stroke-dasharray="12 5 2 1 1 4 2 4 1 1 4 2 11 1"/><path d="M133 16.5h52" stroke-dasharray="4 2 6 1 2 3 1 2 2 2 1 1 1 3 2 1 3 1 5 1 1 1 6 1"/><path d="M132 17.5h53" stroke-dasharray="6 1 3 2 2 5 1 1 1 1 5 1 1 5 2 2 4 1 2 1 4 1 1 1"/><path d="M131 18.5h55" stroke-dasharray="16 2 8 1 1 8 2 1 4 2 2 1 7 1"/><path d="M130 19.5h56" stroke-dasharray="16 1 2 2 10 1 1 3 3 1 3 2 1 1 4 1 2 1 1 1"/><path d="M129 20.5h56" stroke-dasharray="15 4 1 1 12 1 2 3 6 2 5 1 3 1"/><path d="M129 21.5h58" stroke-dasharray="16 1 1 1 3 1 12 7 1 4 6 1 2 1 1 1"/><path d="M129 22.5h59" stroke-dasharray="15 1 16 1 2 2 1 3 2 2 2 1 3 1 7 1"/><path d="M129 23.5h60" stroke-dasharray="13 2 19 4 1 2 11 4 4 1"/><path d="M129 24.5h60" stroke-dasharray="14 1 3 1 14 5 1 4 1 2 1 1 2 3 1 2 4 1"/><path d="M128 25.5h62" stroke-dasharray="3 1 32 7 3 1 1 1 2 1 1 5 4 1"/><path d="M128 26.5h62" stroke-dasharray="8 1 23 1 2 1 4 5 2 2 2 2 1 5 3 1"/><path d="M127 27.5h64" stroke-dasharray="21 1 6 1 2 2 6 1 2 3 1 2 2 2 1 1 3 1 6 1"/><path d="M126 28.5h65" stroke-dasharray="5 1 8 1 26 3 3 3 8 1 1 1 1 1 2 1"/><path d="M124 29.5h67" stroke-dasharray="2 1 3 1 36 3 1 4 1 1 3 4 1 1 1 2 2 1"/><path d="M124 30.5h67" stroke-dasharray="6 1 1 1 9 1 14 1 8 12 2 2 1 6 2 1"/><path d="M121 31.5h70" stroke-dasharray="3 1 3 1 1 2 36 6 2 1 1 2 1 9 1 1"/><path d="M119 32.5h72" stroke-dasharray="5 1 2 1 1 3 36 6 1 1 1 1 3 9 1 1"/><path d="M117 33.5h74" stroke-dasharray="11 2 1 1 1 1 33 6 1 2 3 1 1 9 1 1"/><path d="M117 34.5h74" stroke-dasharray="7 1 2 4 2 1 4 1 4 1 7 1 2 1 11 1 1 1 1 2 1 1 6 10 1 1"/><path d="M116 35.5h74" stroke-dasharray="11 2 9 2 26 1 1 3 1 2 7 3 1 4 1 1"/><path d="M116 36.5h75" stroke-dasharray="11 1 5 1 2 1 1 1 2 1 1 1 22 1 3 1 10 1 1 1 1 5 1 1"/><path d="M115 37.5h76" stroke-dasharray="2 1 4 1 5 1 2 2 2 1 1 1 4 1 18 2 4 1 2 1 13 1 1 3 2 1"/><path d="M115 38.5h76" stroke-dasharray="13 1 4 3 5 1 25 1 1 1 15 1 1 3 1 1"/><path d="M114 39.5h77" stroke-dasharray="9 1 9 1 31 1 1 1 17 1 1 3 1 1"/><path d="M89 40.5h102" stroke-dasharray="1 24 8 1 1 1 7 1 1 1 5 1 19 1 27 1 2 1"/><path d="M54 41.5h137" stroke-dasharray="1 35 2 22 4 3 2 1 7 2 4 1 17 1 3 2 7 1 18 1 1 1 1 1"/><path d="M87 42.5h104" stroke-dasharray="1 25 5 5 1 1 4 1 23 1 7 2 2 2 7 1 9 1 4 1 1 1"/><path d="M81 43.5h110" stroke-dasharray="2 4 1 25 4 1 2 4 2 1 2 1 22 1 6 1 4 1 1 1 3 1 1 2 17 1"/><path d="M88 44.5h103" stroke-dasharray="1 6 5 6 2 2 1 1 7 1 6 1 34 1 2 4 3 2 16 1 1 1"/><path d="M54 45.5h136" stroke-dasharray="2 33 1 2 1 1 1 1 4 1 1 3 12 1 4 1 1 2 2 1 2 1 27 1 1 1 2 4 1 2 12 2 5 1"/><path d="M46 46.5h144" stroke-dasharray="1 5 1 32 6 6 1 2 3 2 16 1 1 1 1 1 38 4 2 5 4 1 1 4 5 1"/><path d="M52 47.5h138" stroke-dasharray="2 24 1 6 1 1 5 2 1 2 1 2 1 3 1 1 3 1 10 1 1 1 1 1 1 1 31 1 4 1 2 8 7 7 2 1"/><path d="M47 48.5h133" stroke-dasharray="1 3 1 1 1 1 1 29 7 1 2 4 3 3 1 1 2 1 2 1 1 1 1 1 4 1 4 1 1 1 10 3 17 1 6 1 1 6 6 1"/><path d="M50 49.5h129" stroke-dasharray="1 35 7 1 3 6 3 2 2 3 9 1 1 1 3 1 10 1 25 1 1 8 4 1"/><path d="M52 50.5h127" stroke-dasharray="1 24 1 8 4 1 1 3 2 1 4 1 4 1 2 1 3 1 5 1 4 2 1 2 31 5 1 1 2 4 1 1 3 1"/><path d="M46 51.5h131" stroke-dasharray="3 1 1 28 1 3 1 2 2 5 1 5 1 1 1 1 2 1 3 4 9 1 6 1 6 2 18 1 2 1 1 1 1 2 1 3 2 5 1 1"/><path d="M46 52.5h132" stroke-dasharray="5 34 2 9 2 2 4 1 2 4 11 2 4 9 17 1 4 1 2 5 2 1 1 2 2 1 2 1"/><path d="M46 53.5h131" stroke-dasharray="5 34 1 8 3 1 1 1 8 3 17 1 1 6 1 1 7 1 8 5 2 1 2 1 2 2 3 1 4 1"/><path d="M46 54.5h130" stroke-dasharray="4 3 1 20 1 19 14 1 16 1 1 2 1 1 3 2 2 1 3 1 14 1 1 2 4 1 10 1"/><path d="M46 55.5h130" stroke-dasharray="6 1 1 32 1 1 1 5 1 1 4 1 6 1 1 1 15 1 3 4 1 1 1 1 1 1 1 1 5 1 7 2 5 1 1 1 6 1 5 1"/><path d="M46 56.5h130" stroke-dasharray="8 19 1 10 1 3 1 2 3 1 7 1 9 1 12 3 1 2 2 3 19 2 2 2 15 1"/><path d="M46 57.5h146" stroke-dasharray="5 5 1 31 1 3 5 1 2 1 4 1 1 1 2 1 6 1 7 3 1 1 19 1 5 1 5 1 15 14 1 1"/><path d="M46 58.5h155" stroke-dasharray="5 4 3 2 1 8 1 16 1 1 3 1 1 1 3 2 11 1 14 1 1 1 8 2 31 1 7 13 11 1"/><path d="M46 59.5h155" stroke-dasharray="7 1 1 27 1 1 3 6 5 1 1 1 3 1 28 4 3 1 12 2 2 1 11 1 2 1 5 16 4 2 1 1"/><path d="M47 60.5h154" stroke-dasharray="4 4 1 4 1 19 1 1 1 2 3 2 2 2 4 2 2 1 3 1 10 1 3 1 2 1 4 1 1 1 2 5 20 1 7 1 10 12 3 1 3 1 1 1 1 1"/><path d="M46 61.5h155" stroke-dasharray="6 5 1 2 1 19 3 2 1 1 1 4 4 1 1 1 2 1 7 1 1 1 9 2 9 4 23 1 14 1 2 1 1 16 3 1 2 1"/><path d="M46 62.5h154" stroke-dasharray="2 1 1 4 4 1 1 1 1 19 9 2 1 1 9 2 4 2 2 1 6 1 5 1 2 2 2 1 3 1 14 1 5 1 1 1 16 1 1 17 1 1 2 1"/><path d="M46 63.5h153" stroke-dasharray="2 6 2 25 1 1 4 1 8 1 3 1 1 2 1 1 1 2 3 1 5 4 4 1 1 6 10 1 8 1 1 2 1 1 4 1 19 7 1 2 6 1"/><path d="M46 64.5h153" stroke-dasharray="2 4 1 1 2 21 1 5 2 3 9 7 1 3 3 1 3 1 3 1 3 1 9 2 7 3 4 1 3 2 2 2 3 1 9 1 9 1 1 6 4 1 4 1"/><path d="M45 65.5h154" stroke-dasharray="2 3 1 3 1 4 1 2 1 14 1 5 9 1 1 1 16 2 5 2 4 1 10 1 6 1 1 1 5 1 2 1 2 2 1 1 2 2 8 2 1 3 3 3 1 1 1 4 1 1 6 1"/><path d="M45 66.5h154" stroke-dasharray="8 2 1 1 1 26 7 1 33 1 3 1 1 1 6 1 4 2 5 1 1 2 2 3 1 2 10 1 3 3 1 1 1 2 1 4 8 1 1 1"/><path d="M45 67.5h151" stroke-dasharray="1 2 1 1 1 1 3 3 1 11 1 13 1 1 6 1 3 1 11 1 21 1 14 1 1 2 1 9 2 1 3 1 6 2 3 5 1 1 2 2 1 1 6 1"/><path d="M45 68.5h153" stroke-dasharray="10 4 3 19 17 1 23 2 5 1 11 1 3 1 2 2 2 7 3 1 9 3 2 6 2 1 1 1 1 1 4 3 1 1"/><path d="M45 69.5h152" stroke-dasharray="5 1 1 1 1 1 2 22 3 1 1 1 1 1 2 1 3 1 3 2 30 1 1 1 12 1 1 1 1 2 1 1 1 8 9 3 3 1 1 5 2 2 4 1 3 1 1 1"/><path d="M45 70.5h153" stroke-dasharray="8 2 2 2 2 17 1 1 1 6 2 1 1 1 14 1 14 2 2 1 4 1 8 3 4 1 4 6 5 1 1 1 4 1 7 3 1 1 1 2 4 1 2 1 3 1 1 1"/><path d="M46 71.5h152" stroke-dasharray="3 3 1 1 1 1 2 1 1 26 2 1 3 1 4 1 7 1 16 1 8 1 10 1 1 1 5 1 2 4 1 2 6 1 3 1 1 2 2 1 1 1 1 2 1 1 1 1 1 2 2 1 6 1"/><path d="M45 72.5h150" stroke-dasharray="1 2 1 1 1 1 2 1 1 7 1 8 1 11 1 1 1 1 5 1 2 1 25 1 20 1 1 1 2 7 1 2 1 1 5 1 22 2 1 2 2 1"/><path d="M46 73.5h151" stroke-dasharray="3 2 1 3 1 2 1 2 2 16 1 6 1 1 7 1 23 1 25 1 2 1 1 1 1 4 1 1 10 1 6 2 7 1 6 4 2 1"/><path d="M46 74.5h150" stroke-dasharray="4 1 2 1 4 1 1 1 1 2 2 3 1 11 4 1 1 1 2 2 2 3 1 1 9 1 13 1 16 1 2 1 1 1 4 2 2 3 2 1 1 1 13 1 1 1 2 1 3 4 4 3 2 1"/><path d="M45 75.5h151" stroke-dasharray="4 1 1 1 11 1 2 14 3 2 1 4 1 1 2 1 5 1 33 1 9 2 4 1 6 1 1 2 13 1 4 3 6 1 7 1"/><path d="M45 76.5h151" stroke-dasharray="21 2 1 12 2 2 1 4 4 1 6 2 30 1 5 1 1 4 1 1 1 1 1 1 5 1 1 2 2 1 11 1 5 1 1 1 1 1 1 1 3 1 1 1 3 1"/><path d="M42 77.5h154" stroke-dasharray="14 1 7 1 3 2 1 10 1 3 3 1 5 1 6 1 18 1 9 1 1 1 6 3 1 1 1 3 3 2 5 2 10 1 1 1 3 1 6 1 2 1 3 1 1 1 3 1"/><path d="M40 78.5h155" stroke-dasharray="3 2 7 1 4 1 5 2 4 1 1 5 1 4 1 5 2 2 1 1 4 3 21 1 16 1 1 2 2 1 2 2 7 1 1 1 2 2 6 1 2 1 7 1 5 4 3 1 1 1"/><path d="M39 79.5h156" stroke-dasharray="1 4 1 1 1 1 12 1 2 1 7 2 2 10 1 2 1 5 31 2 9 1 1 3 4 1 1 1 1 1 4 3 12 1 2 1 4 2 9 1 4 1 1 1"/><path d="M4 80.5h190" stroke-dasharray="1 32 3 6 19 1 1 1 2 9 1 1 2 1 2 2 1 1 1 3 1 2 6 1 4 1 1 1 27 1 1 1 1 1 3 4 2 3 18 1 5 1 3 1 4 1 5 1"/><path d="M4 81.5h188" stroke-dasharray="1 15 1 15 1 2 1 2 2 3 16 5 3 3 1 5 5 3 1 1 2 2 1 3 6 1 2 2 1 1 9 1 14 2 2 1 4 7 2 1 1 3 10 1 2 6 1 4 5 1 4 1"/><path d="M20 82.5h171" stroke-dasharray="15 6 1 1 1 1 7 1 9 1 2 1 7 1 1 3 1 2 3 4 9 3 4 1 2 1 28 1 4 1 1 13 4 2 3 2 4 5 1 3 11 1"/><path d="M29 83.5h160" stroke-dasharray="5 2 1 13 6 1 2 3 1 1 1 3 1 2 2 2 1 5 2 2 1 1 6 1 2 2 9 1 1 1 27 1 2 17 4 1 5 1 2 1 1 3 1 5 6 1 1 1"/><path d="M50 84.5h138" stroke-dasharray="4 2 2 2 1 6 3 2 1 1 1 5 3 1 2 1 6 1 1 4 35 1 1 1 1 20 6 2 5 1 1 2 1 2 1 1 1 1 4 1 1 1"/><path d="M50 85.5h136" stroke-dasharray="2 1 4 1 2 2 1 5 1 1 1 1 3 6 2 3 6 1 1 3 3 1 4 1 14 2 7 1 4 1 3 23 6 1 1 1 4 1 3 1 1 2 1 2 1 1"/><path d="M8 86.5h178" stroke-dasharray="1 43 2 2 5 1 1 4 2 1 1 2 2 2 1 6 1 1 8 1 9 1 2 1 2 2 3 1 3 1 2 2 7 3 1 25 2 2 4 3 2 1 1 2 2 1 1 3 2 1"/><path d="M8 87.5h175" stroke-dasharray="1 49 1 1 1 1 3 1 1 1 3 1 4 5 15 2 3 2 2 2 1 1 6 2 5 1 2 2 4 1 4 24 1 4 1 2 2 2 2 1 4 1 1 1 1 1"/><path d="M52 88.5h131" stroke-dasharray="2 1 1 2 3 4 1 2 3 2 1 1 2 1 1 1 5 2 11 1 5 1 1 1 1 2 6 1 5 1 2 1 5 4 1 24 1 5 3 4 2 1 7 1"/><path d="M9 89.5h170" stroke-dasharray="1 43 3 2 3 1 1 1 1 3 6 1 3 1 1 1 5 1 11 1 2 3 6 2 4 1 3 1 1 1 2 2 3 1 1 2 1 24 1 7 1 3 1 3 4 1"/><path d="M50 90.5h128" stroke-dasharray="1 1 3 1 2 1 1 2 3 2 17 2 3 1 1 2 4 2 5 2 3 4 1 1 5 1 3 1 7 26 1 1 1 1 1 5 2 6 2 1"/><path d="M10 91.5h169" stroke-dasharray="1 41 3 1 2 1 2 1 1 2 1 1 14 1 1 1 5 2 1 1 9 1 5 1 1 1 3 1 6 2 1 1 6 27 2 4 1 1 1 2 4 1 2 1 2 1"/><path d="M46 92.5h134" stroke-dasharray="1 1 2 1 1 1 2 1 1 1 2 4 1 2 3 1 16 1 3 1 2 1 9 3 3 1 1 1 5 4 10 27 2 5 2 2 6 1 1 1 1 1"/><path d="M50 93.5h130" stroke-dasharray="6 1 14 1 5 1 3 2 4 1 1 1 3 1 4 1 6 2 2 1 5 1 3 2 2 1 8 24 1 2 3 4 1 1 9 2 1 1"/><path d="M51 94.5h126" stroke-dasharray="2 1 3 1 12 1 1 2 6 1 2 1 2 2 1 2 1 2 15 2 2 1 16 1 1 25 6 3 2 1 5 1 2 1"/><path d="M11 95.5h166" stroke-dasharray="1 28 1 2 1 8 1 1 17 6 1 2 5 4 2 3 6 1 22 1 9 23 1 1 3 1 1 2 1 7 1 1 2 1"/><path d="M40 96.5h138" stroke-dasharray="1 2 2 3 1 1 3 1 4 1 12 5 1 1 2 1 7 1 3 2 1 1 1 1 3 2 11 1 19 22 3 4 2 5 8 1"/><path d="M12 97.5h166" stroke-dasharray="1 25 1 3 5 1 3 3 1 1 1 1 2 1 10 6 2 1 7 2 4 2 5 3 9 1 14 1 6 20 1 2 3 4 2 2 4 1 1 1 3 1"/><path d="M40 98.5h137" stroke-dasharray="1 1 4 2 1 1 4 4 5 1 1 1 4 1 2 1 1 2 4 1 9 3 2 7 1 1 6 1 1 1 5 1 1 2 12 12 4 7 2 5 3 3 6 1"/><path d="M40 99.5h136" stroke-dasharray="1 1 2 1 3 1 1 1 1 5 2 1 1 1 2 2 6 1 1 1 10 1 1 1 3 4 1 6 1 1 5 1 3 1 4 1 1 1 5 1 1 1 6 11 1 1 4 7 3 3 2 1 2 4 2 1"/><path d="M13 100.5h163" stroke-dasharray="1 29 1 2 1 4 1 2 6 2 3 1 11 1 1 3 2 5 1 10 1 1 1 1 1 1 4 1 1 1 20 1 1 11 2 3 2 7 2 3 2 1 8 1"/><path d="M39 101.5h136" stroke-dasharray="1 4 1 2 2 1 1 1 1 2 6 1 9 1 1 1 3 3 6 1 1 16 2 2 3 2 21 1 1 16 2 7 2 6 2 2 2 1"/><path d="M39 102.5h135" stroke-dasharray="3 4 1 1 1 2 2 1 1 1 9 1 12 1 2 1 4 2 3 5 1 1 3 1 1 1 1 2 2 1 17 1 8 9 2 2 1 3 2 1 1 5 2 5 3 1 1 1"/><path d="M39 103.5h135" stroke-dasharray="4 1 1 1 2 1 2 1 2 1 2 1 9 1 16 1 6 2 3 1 1 1 5 3 26 1 4 6 4 6 2 1 1 13 1 1 1 1"/><path d="M15 104.5h158" stroke-dasharray="1 20 1 4 1 1 4 1 2 1 1 3 1 1 8 2 1 2 2 2 3 1 5 5 1 2 1 3 1 2 1 1 2 1 1 1 1 1 4 1 3 1 6 1 2 1 15 1 1 2 1 1 1 7 3 14 1 1"/><path d="M16 105.5h156" stroke-dasharray="1 28 4 5 2 1 7 2 1 1 1 1 4 1 6 1 2 4 3 3 4 1 3 5 1 1 1 2 1 1 1 1 9 1 9 3 1 5 3 2 1 2 1 2 3 8 1 3 2 1"/><path d="M40 106.5h127" stroke-dasharray="2 2 1 1 2 3 11 1 1 2 2 1 1 2 3 3 7 1 1 4 1 2 2 2 5 4 1 3 1 2 1 1 4 1 12 1 1 4 1 5 1 4 1 7 1 5 1 1 1 1"/><path d="M17 107.5h152" stroke-dasharray="1 24 1 4 3 1 1 1 14 3 1 3 12 1 1 4 10 2 2 1 2 2 3 1 1 1 14 1 4 1 5 6 3 5 1 2 1 5 4 1"/><path d="M39 108.5h131" stroke-dasharray="1 4 2 1 4 1 2 1 2 1 13 3 10 3 2 1 1 1 1 1 8 3 10 1 1 1 1 2 16 1 2 9 2 1 1 2 1 8 4 1 1 1"/><path d="M18 109.5h151" stroke-dasharray="1 20 1 4 1 1 4 1 1 1 9 3 2 4 3 1 1 3 4 3 3 5 2 1 5 1 1 1 4 1 1 1 5 2 12 1 6 1 2 1 1 1 1 2 7 9 1 1 1 2 1 1"/><path d="M46 110.5h107" stroke-dasharray="8 1 5 1 4 1 2 2 2 1 2 6 1 11 1 3 3 1 5 6 3 1 1 1 1 1 2 1 2 1 3 3 2 1 4 3 2 4 2 1 2 1"/><path d="M37 111.5h117" stroke-dasharray="1 1 1 7 1 1 1 1 1 1 9 4 1 1 1 1 6 2 3 5 1 3 2 5 2 2 1 1 2 4 5 3 2 1 5 1 4 1 5 1 2 4 1 5 1 2 2 1"/><path d="M42 112.5h110" stroke-dasharray="1 4 1 2 1 2 1 3 4 3 1 6 4 2 2 3 1 3 3 1 4 5 1 3 2 3 6 1 1 1 6 1 1 1 4 2 3 2 3 2 2 4 1 2 1 1"/><path d="M48 113.5h117" stroke-dasharray="2 4 10 1 2 4 1 1 1 2 3 1 7 1 4 1 1 6 2 5 3 3 2 6 1 6 3 1 3 4 2 7 1 1 1 6 1 5 2 1"/><path d="M49 114.5h104" stroke-dasharray="3 2 1 3 3 2 4 9 1 4 5 2 4 6 2 3 1 3 1 1 2 3 1 1 3 2 1 3 5 1 5 1 2 1 2 8 3 1"/><path d="M37 115.5h124" stroke-dasharray="1 1 1 4 1 1 1 2 2 2 1 1 3 1 8 1 2 3 1 1 1 2 13 5 3 1 2 3 6 3 1 1 2 1 3 1 1 2 2 1 5 1 1 5 3 16 1 1"/><path d="M37 116.5h124" stroke-dasharray="1 5 1 1 2 1 1 7 1 1 9 4 1 1 2 1 1 2 1 2 3 1 1 1 1 4 14 1 4 3 16 1 1 1 5 3 2 15 2 1"/><path d="M39 117.5h120" stroke-dasharray="1 5 3 1 6 1 1 1 4 2 1 1 1 4 1 2 1 1 1 3 3 1 1 1 1 1 4 1 1 2 5 2 4 2 1 1 2 1 7 1 8 2 2 1 1 1 2 1 1 2 2 13 1 1"/><path d="M49 118.5h109" stroke-dasharray="2 3 6 2 1 1 3 2 1 1 2 1 1 1 3 2 2 8 6 1 1 1 7 1 1 1 3 2 6 3 4 1 2 1 1 3 4 3 1 1 2 4 1 5 1 1"/><path d="M38 119.5h119" stroke-dasharray="1 5 3 1 1 1 1 1 1 1 3 1 1 3 2 1 3 3 1 4 3 1 3 2 1 1 1 1 4 3 11 1 6 1 4 1 1 2 1 3 3 1 4 2 2 1 1 5 1 5 1 3 1 1"/><path d="M25 120.5h128" stroke-dasharray="1 5 1 5 3 6 1 2 4 1 5 1 1 3 1 1 3 2 1 2 1 1 3 1 2 1 1 1 4 1 6 1 3 1 5 1 1 2 7 4 1 4 2 1 1 1 5 4 2 2 1 5 1 1 1 1"/><path d="M31 121.5h124" stroke-dasharray="2 12 1 4 2 3 2 1 1 6 4 3 2 1 2 1 3 1 1 2 5 1 2 1 3 1 7 2 1 1 7 1 7 3 1 4 5 2 1 1 2 1 1 7 1 1 1 1"/><path d="M32 122.5h122" stroke-dasharray="1 6 2 2 2 2 1 1 2 4 1 2 4 3 4 1 3 1 1 3 5 3 5 2 3 1 20 3 9 1 3 1 1 1 1 5 2 7 3 1"/><path d="M32 123.5h121" stroke-dasharray="1 2 1 15 1 1 2 1 1 2 2 4 1 2 2 1 1 1 1 1 8 1 11 2 1 1 10 1 1 1 3 1 1 1 1 1 1 1 2 1 2 1 3 3 2 1 1 5 2 7 1 1"/><path d="M25 124.5h127" stroke-dasharray="1 6 2 8 2 1 1 3 1 1 1 1 3 3 3 5 2 2 2 1 4 3 4 1 3 1 1 3 1 1 12 1 1 1 2 1 1 1 1 2 3 3 10 1 1 1 1 5 2 5 1 1"/><path d="M26 125.5h125" stroke-dasharray="1 6 1 4 1 2 1 2 1 2 1 2 5 1 1 1 1 1 1 1 1 3 1 4 5 9 2 1 4 1 1 1 2 4 8 1 1 3 2 3 5 3 4 2 4 2 2 9 1 1"/><path d="M25 126.5h117" stroke-dasharray="1 7 1 3 3 1 1 2 1 3 1 3 1 1 2 3 2 13 1 1 1 6 1 1 1 1 3 1 1 4 3 2 2 2 3 2 2 3 3 3 3 1 6 1 1 1 1 3 1 1 2 1"/><path d="M33 127.5h115" stroke-dasharray="4 4 1 1 5 2 3 4 1 3 2 3 1 4 1 1 1 5 1 4 2 5 1 4 2 1 1 2 1 2 2 1 2 1 1 2 2 1 7 1 7 1 1 11 1 1 1 1"/><path d="M24 128.5h108" stroke-dasharray="1 9 1 2 3 1 2 1 2 4 1 4 1 1 1 1 1 1 1 2 1 1 1 1 1 2 1 1 2 1 3 3 3 4 3 4 1 5 5 1 3 3 6 1 2 1 5 1 2 1"/><path d="M33 129.5h107" stroke-dasharray="2 2 1 2 2 2 1 1 1 3 2 1 1 2 2 3 1 1 1 1 1 3 1 1 1 1 2 4 1 1 3 6 2 2 1 5 1 2 4 4 2 1 2 5 9 2 2 5 1 1"/><path d="M20 130.5h115" stroke-dasharray="1 12 2 4 2 1 1 2 3 1 1 3 1 2 1 1 3 4 2 1 1 12 1 10 1 2 1 7 1 1 3 1 1 1 1 1 1 3 12 1 2 1 2 1"/><path d="M20 131.5h116" stroke-dasharray="1 11 4 2 1 5 1 1 2 3 4 1 1 1 2 1 1 1 1 1 3 3 2 4 1 13 2 9 2 7 1 3 3 2 1 1 7 1 1 3 2 1"/><path d="M32 132.5h108" stroke-dasharray="3 1 5 1 1 1 1 1 3 3 10 1 1 4 1 2 1 9 2 8 2 11 3 13 1 2 2 1 4 1 1 3 2 2 1 1"/><path d="M21 133.5h120" stroke-dasharray="1 10 3 1 5 2 1 2 1 5 8 2 1 4 1 3 1 9 1 13 1 17 1 1 1 4 1 5 2 1 2 2 1 5 2 1"/><path d="M22 134.5h117" stroke-dasharray="1 9 7 4 1 3 1 6 5 6 1 16 1 30 1 5 1 2 1 1 2 1 1 2 2 2 2 2 1 1"/><path d="M31 135.5h107" stroke-dasharray="2 1 5 1 2 1 5 1 2 1 4 2 1 13 1 9 1 37 3 2 2 1 2 1 1 2 1 2 1 1"/><path d="M23 136.5h109" stroke-dasharray="1 10 7 1 2 1 9 30 2 27 1 8 5 1 1 2 1 1"/><path d="M31 137.5h104" stroke-dasharray="1 1 10 1 4 2 1 70 2 6 2 2 2 1"/><path d="M25 138.5h107" stroke-dasharray="1 5 1 1 10 3 2 30 1 42 1 3 1 5 1 1"/><path d="M31 139.5h99" stroke-dasharray="1 1 10 1 3 3 2 70 1 6 1 1"/><path d="M27 140.5h100" stroke-dasharray="1 5 2 2 8 1 3 1 1 1 1 62 2 3 1 4 2 1"/><path d="M26 141.5h99" stroke-dasharray="1 11 5 1 1 1 4 1 2 61 2 5 2 1 1 1"/><path d="M26 142.5h88" stroke-dasharray="1 10 2 3 6 1 1 1 2 60 1 1"/><path d="M26 143.5h84" stroke-dasharray="1 6 1 3 1 9 5 26 1 11 1 17 2 1"/><path d="M29 144.5h85" stroke-dasharray="2 12 1 7 2 19 6 9 1 4 1 3 1 8 1 5 3 1"/><path d="M28 145.5h72" stroke-dasharray="1 2 2 12 1 39 2 10 3 1"/><path d="M31 146.5h73" stroke-dasharray="1 38 2 28 1 1 2 1"/><path d="M26 147.5h1"/><path d="M32 148.5h36" stroke-dasharray="2 7 1 24 2 1"/><path d="M35 149.5h27" stroke-dasharray="1 12 1 4 1 7 1 1"/><path d="M51 150.5h1"/><path d="M37 151.5h14" stroke-dasharray="2 10 2 1"/><path d="M47 152.5h1"/><path d="M43 153.5h4"/></g><g stroke="#3b5e8b"><path d="M160 1.5h4"/><path d="M154 2.5h13" stroke-dasharray="6 1 6 1"/><path d="M153 3.5h28" stroke-dasharray="2 6 3 1 5 1 10 1"/><path d="M162 4.5h20"/><path d="M149 5.5h34" stroke-dasharray="1 13 16 1 3 1"/><path d="M145 6.5h37" stroke-dasharray="6 1 1 9 8 1 1 2 8 1"/><path d="M144 7.5h37" stroke-dasharray="4 8 2 4 3 1 3 1 1 2 1 1 6 1"/><path d="M143 8.5h41" stroke-dasharray="2 3 1 6 1 1 1 5 9 2 5 1 1 1 2 1"/><path d="M142 9.5h42" stroke-dasharray="1 5 1 6 3 1 1 4 1 1 4 1 2 3 4 3 1 1"/><path d="M143 10.5h42" stroke-dasharray="1 8 2 1 4 2 1 1 2 2 4 1 4 4 1 3 1 1"/><path d="M146 11.5h39" stroke-dasharray="1 3 1 1 7 3 1 6 1 8 7 1"/><path d="M140 12.5h45" stroke-dasharray="2 2 2 4 1 1 6 14 1 2 1 2 7 1"/><path d="M139 13.5h45" stroke-dasharray="1 2 2 8 1 1 4 13 1 6 6 1"/><path d="M139 14.5h46" stroke-dasharray="6 2 1 5 1 1 2 3 1 7 1 4 2 2 1 1 6 1"/><path d="M135 15.5h50" stroke-dasharray="10 10 1 12 4 3 2 1 7 1"/><path d="M133 16.5h52" stroke-dasharray="4 2 1 1 4 6 1 2 2 2 1 6 1 2 2 1 3 6 5 1"/><path d="M132 17.5h53" stroke-dasharray="1 1 2 3 3 2 1 10 3 9 2 2 1 1 1 2 2 1 1 1 2 1 1 1"/><path d="M131 18.5h55" stroke-dasharray="6 1 7 5 3 2 2 1 1 11 1 6 1 2 6 1"/><path d="M130 19.5h53" stroke-dasharray="15 6 1 1 2 1 5 9 3 4 1 1 2 1 1 1"/><path d="M129 20.5h56" stroke-dasharray="4 1 1 2 2 1 4 4 1 3 4 1 2 1 2 15 2 1 1 1 1 1 1 1"/><path d="M129 21.5h55" stroke-dasharray="15 2 1 2 2 1 11 14 3 1 1 1 1 1"/><path d="M129 22.5h59" stroke-dasharray="8 1 6 2 6 1 7 6 1 3 2 2 2 2 2 1 1 1 2 2 1 1"/><path d="M129 23.5h60" stroke-dasharray="13 3 1 1 15 5 1 8 4 7 2 1"/><path d="M129 24.5h60" stroke-dasharray="2 1 11 1 3 2 12 11 1 4 2 8 2 1"/><path d="M128 25.5h62" stroke-dasharray="3 1 11 1 2 1 9 1 4 1 2 8 1 2 1 2 1 8 1 1 1 1"/><path d="M128 26.5h62" stroke-dasharray="8 1 6 2 5 1 7 4 1 4 1 13 1 6 2 1"/><path d="M127 27.5h64" stroke-dasharray="5 1 15 3 2 1 1 6 4 23 3 1"/><path d="M126 28.5h65" stroke-dasharray="4 2 8 1 4 1 2 1 4 1 3 1 6 1 1 4 1 18 2 1"/><path d="M124 29.5h67" stroke-dasharray="2 1 3 2 2 1 6 3 7 1 2 1 10 1 1 10 1 1 1 10 1 1"/><path d="M124 30.5h67" stroke-dasharray="2 1 3 1 1 1 1 1 7 1 10 1 3 1 4 1 3 12 1 11 1 1"/><path d="M121 31.5h70" stroke-dasharray="3 1 3 4 34 24 1 1"/><path d="M119 32.5h72" stroke-dasharray="5 4 1 5 10 1 10 2 1 1 9 6 1 15 1 1"/><path d="M117 33.5h74" stroke-dasharray="10 5 1 2 4 1 3 1 15 1 7 10 1 12 1 1"/><path d="M117 34.5h74" stroke-dasharray="7 1 1 5 2 1 4 2 3 1 7 2 1 2 10 1 1 7 2 1 1 11 1 1"/><path d="M116 35.5h63" stroke-dasharray="11 4 2 1 4 2 3 1 10 1 6 2 3 5 1 2 3 1 1 1"/><path d="M116 36.5h75" stroke-dasharray="1 1 9 1 2 2 1 1 1 2 1 1 2 1 1 1 9 1 2 1 5 1 2 3 1 2 4 1 2 1 2 9 1 1"/><path d="M115 37.5h76" stroke-dasharray="2 1 4 1 3 3 1 4 1 3 3 3 11 3 2 4 2 2 1 3 2 1 6 1 1 6 2 1"/><path d="M115 38.5h70" stroke-dasharray="2 1 4 3 1 1 1 1 3 4 1 1 1 1 1 1 14 1 3 1 6 1 1 1 6 1 8 1"/><path d="M114 39.5h77" stroke-dasharray="9 3 7 1 3 1 1 1 18 1 1 1 4 1 1 2 1 1 14 5 1 1"/><path d="M114 40.5h74" stroke-dasharray="4 3 1 3 7 4 4 1 3 1 14 2 3 1 2 1 1 2 12 1 1 1 2 1"/><path d="M114 41.5h68" stroke-dasharray="3 4 2 2 3 1 2 3 2 2 3 1 2 1 1 1 5 1 2 1 3 3 6 2 10 1 1 1"/><path d="M113 42.5h70" stroke-dasharray="5 5 1 1 4 1 4 1 4 1 13 1 3 2 1 3 2 3 2 1 3 1 3 1 4 1"/><path d="M113 43.5h78" stroke-dasharray="4 1 2 4 2 1 2 2 9 1 5 1 5 1 1 2 2 3 2 2 1 1 2 5 10 1 1 4 1 1"/><path d="M95 44.5h96" stroke-dasharray="2 1 1 7 2 2 1 1 5 1 1 1 6 1 6 1 23 1 2 2 2 4 2 4 12 2 1 1 1 1"/><path d="M96 45.5h92" stroke-dasharray="1 1 1 2 1 3 2 1 9 1 2 1 1 1 1 2 1 2 2 1 11 1 1 1 13 1 1 1 1 5 1 2 4 1 7 3 2 1"/><path d="M87 46.5h103" stroke-dasharray="4 6 1 2 3 2 1 1 10 2 2 3 1 1 1 1 29 1 6 5 1 5 2 3 1 4 5 1"/><path d="M85 47.5h105" stroke-dasharray="1 1 3 1 1 5 1 8 2 2 2 1 7 7 12 1 4 1 1 1 11 1 2 1 1 1 1 11 5 8 1 1"/><path d="M85 48.5h95" stroke-dasharray="1 1 5 1 1 6 2 3 1 1 2 1 1 2 1 1 1 1 3 2 1 4 1 1 10 3 17 4 3 8 3 2 1 1"/><path d="M86 49.5h93" stroke-dasharray="6 3 2 6 2 4 1 4 1 1 6 4 2 1 10 1 1 1 18 1 3 2 1 8 4 1"/><path d="M88 50.5h91" stroke-dasharray="1 7 1 1 3 4 1 2 2 1 2 2 2 1 2 1 1 1 2 2 1 2 3 1 1 1 4 1 19 6 1 2 1 6 1 1 1 1"/><path d="M83 51.5h94" stroke-dasharray="1 2 1 6 1 5 1 1 1 1 2 1 3 4 9 1 4 1 1 1 2 2 2 2 18 1 2 11 1 5 1 1"/><path d="M46 52.5h132" stroke-dasharray="2 48 2 2 4 7 11 2 1 1 2 9 1 1 3 1 11 1 4 8 1 2 1 3 1 2 1 1"/><path d="M46 53.5h131" stroke-dasharray="4 35 1 8 3 1 1 1 5 1 1 4 13 1 3 1 1 8 3 2 2 1 2 1 3 1 1 5 2 1 1 7 1 2 1 1 2 1"/><path d="M46 54.5h130" stroke-dasharray="4 44 5 1 6 1 1 1 4 2 9 7 1 4 2 1 1 3 5 1 2 4 2 1 1 2 2 3 10 1"/><path d="M46 55.5h130" stroke-dasharray="5 43 1 1 4 2 5 1 1 1 2 1 12 2 1 5 1 1 1 1 1 3 2 5 4 4 1 3 1 1 1 2 1 1 2 2 5 1"/><path d="M46 56.5h130" stroke-dasharray="5 1 1 39 2 1 1 1 5 1 3 1 5 1 8 1 1 1 1 3 1 7 1 1 6 1 10 6 8 1 6 1"/><path d="M46 57.5h146" stroke-dasharray="5 5 1 31 1 4 2 1 1 1 1 2 4 1 1 1 2 1 6 1 4 1 1 7 18 1 5 1 5 1 13 1 1 14 1 1"/><path d="M46 58.5h155" stroke-dasharray="2 1 2 35 1 3 1 1 1 2 2 2 3 1 2 2 2 3 12 4 5 1 2 3 12 1 3 2 3 1 1 1 6 2 2 2 2 13 1 1 7 1 1 1"/><path d="M46 59.5h155" stroke-dasharray="4 1 1 42 3 2 1 1 3 1 1 2 1 2 1 1 3 1 7 1 4 1 3 6 1 1 1 1 9 3 1 3 10 1 2 1 1 1 3 16 4 2 1 1"/><path d="M47 60.5h154" stroke-dasharray="4 4 1 29 1 4 1 3 3 3 1 3 2 1 1 1 1 1 6 1 3 1 2 1 4 1 1 1 2 5 2 1 2 1 5 1 8 1 3 1 3 2 2 1 4 1 1 13 2 1 3 3 1 1"/><path d="M47 61.5h154" stroke-dasharray="3 1 1 30 1 4 1 6 2 1 1 4 1 1 5 1 1 1 7 1 1 2 9 4 9 1 13 2 13 1 2 23 1 1"/><path d="M46 62.5h154" stroke-dasharray="2 34 2 1 2 1 2 2 1 3 5 1 1 2 2 1 1 2 2 1 2 1 3 1 1 1 2 2 1 3 2 2 1 3 13 2 2 1 1 3 12 1 2 2 1 19 2 1"/><path d="M47 63.5h151" stroke-dasharray="1 6 1 29 3 2 7 3 1 1 1 7 2 2 1 1 2 5 3 9 8 3 8 4 1 2 2 2 10 1 2 1 1 2 1 8 1 2 1 2 2 1"/><path d="M46 64.5h153" stroke-dasharray="2 6 2 28 1 4 7 12 3 2 2 1 3 1 3 2 5 1 2 3 2 1 3 4 3 1 3 2 2 2 3 1 9 1 1 4 2 10 1 1 2 1 4 1"/><path d="M46 65.5h153" stroke-dasharray="1 3 1 34 1 5 1 1 1 1 4 1 1 1 6 1 2 2 3 1 1 2 4 1 5 1 4 2 4 5 4 8 1 1 2 3 4 1 2 2 1 9 1 6 1 1 4 1 1 1"/><path d="M45 66.5h154" stroke-dasharray="7 5 1 26 1 1 5 1 24 1 8 1 3 1 1 2 2 5 1 1 1 2 5 4 1 7 9 2 1 1 1 5 1 7 1 1 3 4 1 1"/><path d="M48 67.5h147" stroke-dasharray="1 1 1 1 3 31 4 3 3 1 1 1 9 1 11 1 6 1 2 1 7 1 3 1 1 2 1 15 3 1 4 1 1 2 3 5 1 1 2 2 1 1 2 2 1 1"/><path d="M45 68.5h153" stroke-dasharray="1 2 3 3 1 28 3 2 2 1 3 1 2 4 14 1 1 1 4 2 4 4 2 1 1 1 4 1 3 2 1 2 2 8 2 1 2 2 5 11 1 6 2 1 1 3 1 1"/><path d="M46 69.5h149" stroke-dasharray="2 1 1 5 1 23 1 5 1 1 1 2 2 3 1 3 2 1 19 1 7 1 1 1 1 1 3 1 1 2 3 1 1 4 1 10 2 1 6 3 2 9 1 2 4 1 3 1"/><path d="M46 70.5h150" stroke-dasharray="1 1 4 3 1 3 1 20 1 6 2 1 1 1 3 1 1 2 7 1 2 1 11 2 2 1 2 1 1 1 3 2 1 5 2 1 1 3 2 6 5 3 4 1 7 3 1 1 1 2 1 1 1 2 2 1 1 1 1 1"/><path d="M46 71.5h152" stroke-dasharray="3 3 1 34 1 1 1 1 1 2 1 3 1 1 5 1 2 1 13 1 3 1 1 1 2 1 5 1 4 1 1 1 1 3 1 1 1 8 6 1 1 1 1 1 1 2 2 1 1 1 1 4 1 1 1 5 4 1 1 1"/><path d="M48 72.5h140" stroke-dasharray="1 1 1 1 1 2 1 30 1 1 4 3 1 1 25 1 6 1 13 3 1 11 1 1 1 2 1 2 10 5 7 1"/><path d="M47 73.5h150" stroke-dasharray="2 9 1 3 1 23 1 2 2 3 1 1 1 2 20 1 1 1 2 1 10 1 9 1 2 1 1 9 2 2 4 2 6 2 2 1 2 3 1 1 4 5 1 1"/><path d="M46 74.5h150" stroke-dasharray="4 1 2 1 4 3 1 22 1 1 1 1 2 7 1 1 4 1 4 1 1 1 11 1 5 2 7 1 1 2 1 3 1 2 1 2 2 3 2 1 1 1 7 1 4 2 1 4 1 1 1 5 2 4 2 1"/><path d="M46 75.5h150" stroke-dasharray="3 1 1 1 7 1 1 29 1 2 1 1 5 1 13 1 9 1 3 1 5 2 7 3 1 1 2 1 3 1 2 1 1 2 10 1 2 1 1 2 1 4 3 1 1 1 4 1 2 1"/><path d="M46 76.5h150" stroke-dasharray="20 24 4 2 5 2 18 1 11 1 1 1 3 1 1 6 1 1 1 1 1 2 1 5 2 1 2 1 2 1 1 1 3 2 3 4 1 1 1 2 2 1 1 1 1 1 1 1"/><path d="M42 77.5h154" stroke-dasharray="7 1 2 1 3 1 6 2 3 13 1 8 1 2 1 1 6 2 3 1 1 3 9 1 2 1 6 1 1 1 2 1 1 1 1 9 3 3 1 1 2 2 1 1 8 5 1 1 3 1 2 1 2 1 1 1 1 4 2 1"/><path d="M40 78.5h155" stroke-dasharray="3 2 7 1 4 1 4 5 2 18 2 5 3 3 3 1 5 1 11 1 3 1 5 3 4 1 1 5 2 2 1 1 5 1 1 1 2 3 5 2 1 2 3 2 1 2 4 4 1 1 1 1 1 1"/><path d="M39 79.5h156" stroke-dasharray="1 4 1 1 1 2 11 1 1 2 6 15 1 2 1 5 2 3 1 1 19 1 4 2 9 1 1 3 4 1 1 1 1 1 2 5 10 3 2 1 2 1 1 2 1 1 7 3 2 1 1 1"/><path d="M4 80.5h190" stroke-dasharray="1 32 1 8 3 1 14 4 2 15 1 2 1 5 1 4 2 1 1 1 4 5 8 1 1 1 3 1 10 1 1 1 1 2 2 4 1 4 17 5 2 5 3 3 4 1"/><path d="M4 81.5h188" stroke-dasharray="1 15 1 15 1 10 9 2 5 5 1 1 1 10 3 7 1 2 1 3 3 1 2 1 2 4 1 1 7 1 2 1 11 2 2 1 1 1 1 8 2 5 2 1 1 1 5 1 2 11 5 1 4 1"/><path d="M20 82.5h171" stroke-dasharray="15 8 1 3 5 3 7 2 1 2 2 1 2 16 1 1 5 1 1 3 4 1 1 2 1 1 13 2 3 1 7 1 1 1 1 2 1 14 1 1 1 2 1 1 1 2 2 7 1 3 1 3 7 1"/><path d="M29 83.5h160" stroke-dasharray="5 2 1 14 1 1 2 2 2 12 2 8 2 5 5 1 2 2 1 1 2 1 1 1 2 1 1 1 13 1 13 2 1 17 2 3 4 2 2 11 1 2 3 1 1 1"/><path d="M57 84.5h131" stroke-dasharray="1 14 1 8 1 5 5 2 1 4 1 1 29 1 3 1 1 1 1 20 4 4 2 1 1 2 1 2 1 11 1 1"/><path d="M50 85.5h136" stroke-dasharray="1 2 3 3 1 2 1 5 1 3 2 12 1 1 4 1 1 3 3 1 4 2 2 1 3 1 6 2 7 1 2 1 1 1 1 1 1 23 1 1 4 4 1 1 1 8 1 2 1 1"/><path d="M52 86.5h134" stroke-dasharray="1 6 1 7 2 1 1 2 2 11 8 1 8 2 2 2 1 2 2 2 3 1 1 3 7 3 1 26 1 2 3 4 2 4 2 5 2 1"/><path d="M8 87.5h173" stroke-dasharray="1 51 1 1 3 1 1 1 1 3 4 8 2 1 3 1 5 4 1 2 2 2 1 1 2 1 3 2 1 1 3 2 1 2 4 2 1 1 1 24 1 4 1 2 1 3 2 1 3 2 1 1"/><path d="M52 88.5h131" stroke-dasharray="2 5 1 8 1 4 1 1 2 5 3 2 1 1 7 1 1 1 1 2 2 3 1 2 1 1 4 1 4 2 2 1 5 4 1 24 1 5 2 6 1 1 3 1 3 1"/><path d="M9 89.5h170" stroke-dasharray="1 43 3 2 1 1 1 3 1 3 1 1 1 2 1 1 3 3 5 1 1 1 2 1 3 1 2 2 1 3 2 1 3 2 4 1 1 1 1 3 2 2 3 4 1 24 1 7 1 7 4 1"/><path d="M53 90.5h125" stroke-dasharray="2 1 2 1 1 4 1 4 1 1 1 1 6 1 4 2 3 4 4 2 2 1 1 3 2 7 2 1 2 1 3 3 5 30 1 5 2 6 2 1"/><path d="M10 91.5h169" stroke-dasharray="1 41 3 1 2 1 2 1 1 2 1 1 2 1 11 1 1 1 1 1 3 4 9 1 4 4 2 2 1 1 1 7 3 1 2 27 2 6 1 2 4 5 1 1"/><path d="M49 92.5h131" stroke-dasharray="1 1 1 1 2 1 1 2 1 11 3 1 3 1 1 3 2 1 1 1 1 1 1 1 1 2 9 5 1 4 3 5 9 29 1 5 1 3 2 1 1 1 1 3 1 1"/><path d="M51 93.5h129" stroke-dasharray="1 2 2 1 3 1 3 1 6 1 1 1 3 2 2 3 1 6 2 1 4 1 6 2 1 2 2 1 2 1 3 2 2 1 6 1 1 24 1 4 1 6 9 2 1 1"/><path d="M51 94.5h126" stroke-dasharray="1 2 2 2 11 2 1 2 4 3 2 1 2 2 1 5 3 2 1 1 3 1 1 1 2 5 2 1 12 2 1 25 2 2 1 4 2 2 1 1 2 1 2 1"/><path d="M11 95.5h155" stroke-dasharray="1 28 1 11 1 1 12 1 4 6 1 2 5 4 1 7 3 1 7 1 2 1 9 1 1 1 3 1 5 23 1 2 2 1 1 2 1 1"/><path d="M44 96.5h134" stroke-dasharray="1 5 3 1 3 3 6 1 4 7 2 1 6 2 3 2 1 1 1 1 2 3 10 2 19 22 2 5 2 6 3 1 1 1 1 1"/><path d="M12 97.5h166" stroke-dasharray="1 31 2 4 1 3 1 3 1 2 5 1 4 6 2 1 7 2 3 3 1 1 3 4 8 1 1 1 2 2 6 1 1 1 6 20 1 2 1 6 1 4 1 1 1 1 1 1 3 1"/><path d="M44 98.5h133" stroke-dasharray="2 5 2 6 4 3 4 1 2 1 1 4 2 1 5 1 1 1 1 4 1 7 1 2 5 4 4 1 1 3 2 1 4 1 3 12 4 7 2 5 2 4 3 1 2 1"/><path d="M46 99.5h124" stroke-dasharray="2 9 2 1 1 5 4 3 1 3 3 1 4 1 1 1 3 13 2 1 2 1 1 1 1 1 4 1 1 1 5 1 1 1 4 1 1 11 1 3 2 7 2 7 2 1"/><path d="M13 100.5h162" stroke-dasharray="1 29 1 7 1 4 4 2 3 1 3 1 3 1 3 1 1 3 1 6 1 12 1 1 1 1 4 1 1 1 18 1 1 1 1 16 2 8 1 3 1 2 1 2 1 2 1 1"/><path d="M39 101.5h135" stroke-dasharray="1 4 1 3 1 1 1 1 1 2 2 1 3 1 1 1 7 1 1 1 3 3 6 19 1 2 3 3 20 1 1 16 2 7 2 7 1 2 1 1"/><path d="M39 102.5h135" stroke-dasharray="1 8 1 5 1 1 2 1 6 1 3 2 1 1 1 1 1 3 2 1 2 1 1 2 1 10 2 1 1 1 1 5 14 1 2 1 8 9 1 7 1 2 1 5 2 5 1 3 1 1"/><path d="M44 103.5h128" stroke-dasharray="1 1 1 2 2 2 1 4 9 1 1 2 2 2 5 2 1 5 1 1 1 3 1 2 1 4 2 3 3 1 19 1 1 2 1 2 1 6 2 1 1 6 2 15 1 1"/><path d="M41 104.5h132" stroke-dasharray="1 2 1 1 1 1 1 2 1 3 1 1 7 3 1 2 1 3 1 1 1 1 2 1 2 15 1 1 2 1 1 1 1 1 4 2 2 1 3 2 1 1 2 1 9 3 3 1 1 2 1 1 1 7 2 15 1 1"/><path d="M46 105.5h126" stroke-dasharray="1 10 7 2 1 1 1 1 4 2 2 5 1 6 1 3 2 3 3 5 1 1 1 4 1 1 9 1 1 1 5 1 1 11 1 2 1 2 1 4 1 13 1 1"/><path d="M40 106.5h125" stroke-dasharray="2 5 1 4 1 2 1 1 5 1 1 8 1 1 1 3 7 1 1 8 1 2 4 5 1 3 1 2 1 1 4 1 2 1 9 1 1 15 1 7 1 5 1 1"/><path d="M17 107.5h151" stroke-dasharray="1 24 1 4 2 2 1 1 4 2 1 1 3 2 1 3 1 5 1 1 1 1 1 1 3 2 1 4 1 1 2 1 4 10 1 1 1 1 1 1 14 1 3 2 2 9 1 7 1 9 2 1"/><path d="M48 108.5h120" stroke-dasharray="3 4 2 1 4 1 1 1 3 2 1 3 2 1 4 1 2 4 1 1 1 1 1 1 3 2 2 5 4 1 4 3 1 2 1 1 12 1 1 1 2 9 2 1 1 13 2 1"/><path d="M18 109.5h148" stroke-dasharray="1 20 1 4 1 1 1 1 2 4 8 3 2 4 3 1 1 4 3 11 2 2 4 1 1 1 1 6 5 2 1 1 7 1 2 1 1 1 3 10 1 2 2 1 1 11 1 1"/><path d="M46 110.5h107" stroke-dasharray="1 1 2 1 2 2 2 1 2 1 2 1 1 1 2 2 1 2 1 19 1 7 1 1 3 6 1 3 1 1 1 1 2 1 2 1 3 6 4 9 1 2 2 1"/><path d="M49 111.5h105" stroke-dasharray="1 1 1 1 8 7 1 1 5 3 3 9 2 5 1 5 2 5 2 1 1 6 3 1 1 2 2 2 1 5 1 15 1 1"/><path d="M50 112.5h94" stroke-dasharray="1 6 3 11 1 1 2 2 1 8 1 3 4 9 1 5 3 1 1 1 1 1 1 1 2 6 3 3 1 3 3 3 1 1"/><path d="M48 113.5h117" stroke-dasharray="1 6 1 1 6 2 1 7 1 2 3 2 1 1 1 2 1 1 2 1 1 8 2 6 1 4 2 14 2 2 2 4 2 22 2 1"/><path d="M50 114.5h92" stroke-dasharray="1 3 1 4 2 2 2 1 1 14 4 3 4 7 1 3 1 5 1 8 1 2 1 5 3 2 4 1 2 1 2 1"/><path d="M39 115.5h104" stroke-dasharray="1 9 2 5 2 1 2 2 4 1 1 11 6 2 2 6 1 3 1 5 4 6 2 1 2 5 2 1 2 1 2 7 2 1"/><path d="M46 116.5h115" stroke-dasharray="1 1 1 7 1 2 6 8 1 2 1 2 1 2 3 1 1 1 1 4 1 2 3 2 5 2 1 1 2 5 1 2 2 2 3 1 3 3 4 5 1 16 1 1"/><path d="M46 117.5h113" stroke-dasharray="1 2 1 1 3 2 1 1 1 12 1 4 1 4 1 2 1 1 1 3 2 5 4 2 1 1 1 5 2 1 6 3 2 2 3 2 1 2 1 1 2 4 2 13 1 1"/><path d="M49 118.5h109" stroke-dasharray="2 3 1 1 4 4 1 1 1 4 1 4 1 1 1 2 2 9 1 2 1 5 2 2 2 4 2 2 1 1 4 3 2 1 1 1 1 2 1 24 1 1"/><path d="M38 119.5h119" stroke-dasharray="1 7 1 5 1 1 3 1 1 6 3 9 1 3 2 2 1 4 1 6 2 3 3 1 1 1 6 1 4 1 1 2 1 3 3 1 1 1 2 2 1 2 1 11 1 3 1 1"/><path d="M25 120.5h126" stroke-dasharray="1 5 1 7 1 14 5 5 1 1 3 2 1 2 1 1 3 2 1 3 3 3 1 1 1 1 1 2 2 1 2 1 1 2 1 2 1 1 4 5 1 5 1 3 3 6 2 8 1 1"/><path d="M31 121.5h124" stroke-dasharray="2 17 2 14 3 3 1 3 1 1 1 1 1 1 1 2 1 1 3 1 2 1 2 2 3 1 3 5 5 2 1 1 1 1 2 4 1 4 2 1 1 5 2 11 1 1"/><path d="M32 122.5h122" stroke-dasharray="1 7 1 2 2 4 2 4 1 4 2 3 1 2 1 1 1 3 1 3 2 1 2 3 2 1 2 3 2 1 10 1 1 1 1 2 3 4 3 1 3 1 1 5 1 7 1 8 1 1 1 1"/><path d="M32 123.5h121" stroke-dasharray="1 18 1 2 1 4 2 4 1 7 1 1 2 3 3 1 11 2 1 1 1 1 5 1 1 2 1 1 1 1 1 3 1 1 1 2 1 10 2 1 1 5 2 7 1 1"/><path d="M32 124.5h120" stroke-dasharray="2 33 1 3 2 1 3 5 2 2 1 11 3 3 3 2 1 2 1 1 1 11 6 2 1 3 1 12 1 1"/><path d="M26 125.5h125" stroke-dasharray="1 6 1 10 1 5 2 6 1 1 1 10 5 9 2 3 2 3 2 6 3 1 2 5 2 3 4 4 1 1 1 3 2 1 1 2 2 9 1 1"/><path d="M37 126.5h105" stroke-dasharray="1 10 1 6 1 3 2 26 1 1 1 6 3 6 1 9 3 3 3 1 2 1 3 1 1 8 1 1"/><path d="M33 127.5h115" stroke-dasharray="2 1 1 6 1 3 1 2 1 20 1 13 1 11 1 1 1 5 1 8 2 3 5 1 6 16 1 1"/><path d="M24 128.5h108" stroke-dasharray="1 9 1 3 1 3 1 1 1 10 1 3 1 1 1 9 1 2 1 2 1 5 2 6 1 10 1 1 2 2 1 6 2 2 1 2 1 1 2 1 1 2 2 1"/><path d="M34 129.5h100" stroke-dasharray="1 11 1 4 1 9 1 3 1 7 1 7 1 1 1 19 4 4 1 3 1 5 9 2 2 1"/><path d="M20 130.5h115" stroke-dasharray="1 12 2 14 1 15 2 50 2 1 9 1 2 2 1 1"/><path d="M33 131.5h102" stroke-dasharray="3 2 1 5 1 1 2 3 3 2 1 1 2 1 1 3 1 11 1 13 1 11 1 12 1 3 1 1 3 1 3 5 1 1"/><path d="M33 132.5h107" stroke-dasharray="2 1 1 5 1 1 1 3 1 3 1 1 6 1 1 6 1 2 1 51 2 1 2 1 1 5 2 2 1 1"/><path d="M32 133.5h109" stroke-dasharray="3 2 2 7 1 5 4 3 1 11 1 9 1 44 2 2 1 2 1 5 2 1"/><path d="M33 134.5h106" stroke-dasharray="6 4 1 10 2 68 2 4 1 3 1 3 1 1"/><path d="M34 135.5h104" stroke-dasharray="5 4 1 1 2 2 2 4 1 66 1 2 1 3 1 1 1 2 1 2 1 1"/><path d="M23 136.5h109" stroke-dasharray="1 10 7 1 1 2 1 1 1 2 1 71 1 5 1 2 1 1"/><path d="M31 137.5h103" stroke-dasharray="1 1 10 1 2 1 1 85 1 1"/><path d="M25 138.5h101" stroke-dasharray="1 5 1 2 2 1 6 82 1 1"/><path d="M34 139.5h96" stroke-dasharray="1 1 7 1 2 4 1 78 1 1"/><path d="M27 140.5h100" stroke-dasharray="1 10 3 3 1 2 1 2 1 1 1 62 1 10 1 1"/><path d="M39 141.5h83" stroke-dasharray="4 1 1 2 1 3 1 62 2 5 1 1"/><path d="M38 142.5h76" stroke-dasharray="1 3 6 3 2 60 1 1"/><path d="M26 143.5h84" stroke-dasharray="1 20 5 26 1 11 1 17 2 1"/><path d="M29 144.5h85" stroke-dasharray="1 13 1 7 2 19 6 9 1 4 1 3 1 8 1 5 3 1"/><path d="M28 145.5h72" stroke-dasharray="1 2 1 53 2 10 3 1"/><path d="M31 146.5h73" stroke-dasharray="1 39 1 28 1 1 2 1"/><path d="M32 148.5h36" stroke-dasharray="2 33 1 1"/><path d="M35 149.5h27" stroke-dasharray="1 17 1 7 1 1"/><path d="M51 150.5h1"/><path d="M37 151.5h14" stroke-dasharray="2 10 2 1"/><path d="M47 152.5h1"/><path d="M44 153.5h3"/></g><g stroke="#2a788e"><path d="M160 1.5h4"/><path d="M154 2.5h13" stroke-dasharray="6 2 5 1"/><path d="M153 3.5h28" stroke-dasharray="2 7 2 1 5 1 10 1"/><path d="M163 4.5h19"/><path d="M149 5.5h34" stroke-dasharray="1 14 15 2 2 1"/><path d="M146 6.5h36" stroke-dasharray="4 12 8 1 1 2 1 1 6 1"/><path d="M144 7.5h37" stroke-dasharray="4 15 2 1 3 1 1 2 1 2 5 1"/><path d="M143 8.5h41" stroke-dasharray="2 12 1 5 1 1 5 1 1 2 5 3 2 1"/><path d="M142 9.5h42" stroke-dasharray="1 5 1 6 3 1 1 4 1 2 3 1 2 3 4 3 1 1"/><path d="M153 10.5h28" stroke-dasharray="1 1 3 3 1 5 4 1 2 1 1 4 1 1"/><path d="M153 11.5h32" stroke-dasharray="6 3 1 6 1 9 6 1"/><path d="M145 12.5h40" stroke-dasharray="1 6 3 1 1 15 1 5 1 1 5 1"/><path d="M139 13.5h45" stroke-dasharray="1 2 2 10 1 1 1 21 6 1"/><path d="M139 14.5h46" stroke-dasharray="6 2 1 5 1 1 2 16 2 2 1 1 6 1"/><path d="M135 15.5h49" stroke-dasharray="2 1 7 10 1 12 2 1 1 3 2 1 6 1"/><path d="M133 16.5h52" stroke-dasharray="3 3 1 2 1 1 1 10 1 12 1 12 4 1"/><path d="M132 17.5h53" stroke-dasharray="1 1 2 3 3 2 1 10 2 11 1 2 1 1 1 3 1 1 1 1 1 2 1 1"/><path d="M131 18.5h53" stroke-dasharray="6 2 1 1 4 5 1 5 1 23 4 1"/><path d="M130 19.5h53" stroke-dasharray="15 6 1 5 2 12 1 5 1 1 2 1 1 1"/><path d="M129 20.5h52" stroke-dasharray="4 1 1 2 2 1 2 1 1 8 3 2 2 2 1 15 1 2 1 1"/><path d="M129 21.5h50" stroke-dasharray="6 1 1 1 6 2 1 5 9 1 1 14 2 1"/><path d="M129 22.5h55" stroke-dasharray="6 1 1 1 5 3 4 1 1 1 7 6 1 11 2 3 1 1"/><path d="M129 23.5h50" stroke-dasharray="1 1 11 5 6 1 8 16 1 1"/><path d="M129 24.5h50" stroke-dasharray="2 1 11 6 9 1 2 17 1 1"/><path d="M128 25.5h51" stroke-dasharray="3 1 2 2 7 2 1 4 6 1 2 19 1 1"/><path d="M128 26.5h62" stroke-dasharray="2 1 5 1 4 1 1 2 2 1 1 2 4 1 2 4 1 18 1 7 1 1"/><path d="M127 27.5h64" stroke-dasharray="5 1 10 1 3 5 1 1 1 9 1 23 1 1 1 1"/><path d="M126 28.5h38" stroke-dasharray="4 2 8 1 4 1 1 2 4 1 1 1 1 1 3 1 2 1"/><path d="M124 29.5h67" stroke-dasharray="2 1 3 2 2 1 3 1 1 4 7 1 2 3 1 1 6 25 1 1"/><path d="M124 30.5h67" stroke-dasharray="1 2 1 5 1 1 5 1 1 1 2 1 2 1 2 1 1 1 3 1 2 1 1 1 1 1 1 24 1 1"/><path d="M121 31.5h45" stroke-dasharray="2 3 2 4 2 1 8 1 4 1 5 2 3 1 1 1 1 1 2 1"/><path d="M119 32.5h72" stroke-dasharray="5 4 1 5 10 1 3 1 6 2 1 1 1 1 4 2 1 22 1 1"/><path d="M117 33.5h74" stroke-dasharray="6 12 3 4 1 1 5 1 2 3 4 1 7 10 1 12 1 1"/><path d="M117 34.5h74" stroke-dasharray="7 7 2 2 3 2 3 2 6 2 1 3 9 1 1 8 1 13 1 1"/><path d="M116 35.5h63" stroke-dasharray="3 1 3 1 1 1 1 5 1 1 2 1 1 2 3 1 10 1 1 1 1 2 1 2 3 10 1 1 1 1"/><path d="M116 36.5h75" stroke-dasharray="1 1 4 1 4 7 1 5 1 1 1 1 9 1 1 2 4 2 2 8 2 4 1 10 1 1"/><path d="M115 37.5h76" stroke-dasharray="2 1 1 1 2 1 3 3 1 4 1 3 1 1 1 3 1 1 9 3 2 5 1 6 2 3 1 1 1 9 2 1"/><path d="M115 38.5h67" stroke-dasharray="2 1 4 3 1 1 1 8 1 3 1 1 14 1 3 1 3 1 1 4 2 1 3 1 5 1"/><path d="M114 39.5h77" stroke-dasharray="9 5 1 5 2 2 1 1 1 2 15 3 4 1 1 2 1 1 4 1 2 1 2 1 3 5 1 1"/><path d="M114 40.5h73" stroke-dasharray="2 1 1 3 1 4 2 1 1 6 4 1 1 1 1 1 12 1 1 2 3 1 1 5 1 1 7 1 2 3 1 1"/><path d="M114 41.5h68" stroke-dasharray="3 4 2 2 2 2 2 4 1 3 2 1 1 2 1 1 5 1 2 2 2 3 4 4 10 1 1 1"/><path d="M113 42.5h70" stroke-dasharray="5 5 1 1 4 1 4 2 3 2 5 1 6 1 1 1 1 6 2 3 1 2 3 1 3 1 1 1 2 1"/><path d="M113 43.5h78" stroke-dasharray="2 1 1 1 1 5 1 2 2 2 9 1 1 1 3 1 5 1 1 2 1 5 1 4 1 8 2 1 4 7 1 1"/><path d="M98 44.5h93" stroke-dasharray="1 7 1 3 1 1 5 1 1 3 2 1 1 1 1 1 4 1 6 1 4 1 6 1 3 3 1 15 4 1 4 1 1 4 1 1"/><path d="M96 45.5h87" stroke-dasharray="1 8 2 1 7 1 1 1 2 6 1 2 2 1 6 1 4 3 13 1 1 1 1 13 4 1 2 1"/><path d="M88 46.5h99" stroke-dasharray="2 7 1 3 2 4 10 2 2 3 1 1 1 1 14 1 1 1 12 1 4 7 1 6 1 3 1 5 1 1"/><path d="M88 47.5h92" stroke-dasharray="2 7 1 8 2 5 3 1 3 9 10 1 3 2 1 1 6 1 4 1 2 1 1 13 4 1"/><path d="M87 48.5h93" stroke-dasharray="5 15 1 2 1 2 1 1 1 1 3 9 1 1 8 3 17 4 2 10 2 2 1 1"/><path d="M87 49.5h92" stroke-dasharray="4 23 1 1 1 1 1 1 1 5 2 1 1 1 4 1 3 4 12 2 3 3 1 12 1 1 1 1"/><path d="M88 50.5h91" stroke-dasharray="1 7 1 1 3 4 1 2 2 1 1 4 1 2 1 1 1 1 2 2 1 2 3 1 1 2 1 1 1 1 4 1 10 1 3 18 1 1"/><path d="M83 51.5h94" stroke-dasharray="1 9 1 5 1 1 1 1 1 3 2 4 8 2 1 10 2 3 1 3 3 1 9 1 2 11 1 5 1 1"/><path d="M46 52.5h113" stroke-dasharray="1 50 1 3 3 8 1 1 6 1 1 4 2 9 1 1 1 1 1 2 10 1 1 1 2 1"/><path d="M46 53.5h130" stroke-dasharray="4 44 2 4 2 1 1 2 1 5 3 1 4 1 3 1 2 2 1 8 1 1 1 2 2 1 2 2 1 2 1 5 1 2 1 10 1 1 1 1"/><path d="M46 54.5h130" stroke-dasharray="4 44 3 1 1 4 3 3 1 1 2 2 9 7 1 7 1 3 1 2 2 1 2 5 1 1 1 2 2 3 1 2 7 1"/><path d="M46 55.5h130" stroke-dasharray="5 45 4 3 3 2 1 1 2 1 12 2 1 9 1 3 2 6 3 8 1 6 2 2 1 1 3 1"/><path d="M47 56.5h129" stroke-dasharray="4 1 1 39 1 2 1 2 2 1 1 1 1 1 1 1 3 1 1 1 1 1 1 2 3 3 1 13 6 2 6 1 2 6 4 1 1 3 6 1"/><path d="M46 57.5h146" stroke-dasharray="5 43 1 3 1 2 2 3 1 1 2 1 5 2 3 2 1 7 18 1 5 1 5 1 5 3 5 1 1 14 1 1"/><path d="M46 58.5h155" stroke-dasharray="2 1 2 39 1 1 1 3 1 2 3 1 2 2 2 3 9 2 1 4 5 6 2 1 8 2 3 3 2 1 1 1 6 3 1 2 2 13 1 1 2 1 1 1 2 1 1 1"/><path d="M46 59.5h155" stroke-dasharray="4 44 1 1 1 4 2 2 1 2 1 2 1 1 3 1 7 1 4 1 1 10 1 1 9 9 6 6 1 1 3 22 1 1"/><path d="M47 60.5h154" stroke-dasharray="3 5 1 29 1 4 1 4 1 4 1 6 1 1 1 1 5 3 2 1 2 1 4 1 1 8 1 5 5 1 2 1 3 3 3 3 1 2 2 1 3 2 1 16 3 3 1 1"/><path d="M47 61.5h154" stroke-dasharray="1 1 1 1 1 35 1 6 2 6 1 1 3 3 1 1 4 1 2 1 1 3 6 6 1 2 6 1 7 1 2 1 2 2 13 1 2 23 1 1"/><path d="M46 62.5h154" stroke-dasharray="1 36 1 2 1 1 1 3 1 3 5 4 1 2 1 2 2 1 2 1 2 4 2 2 1 3 2 2 1 3 2 1 7 1 1 3 2 1 1 4 11 1 2 23 1 1"/><path d="M47 63.5h150" stroke-dasharray="1 6 1 31 1 2 1 3 2 6 1 8 1 2 1 1 2 5 2 10 4 1 3 3 8 7 2 2 8 1 1 7 1 8 1 5 1 1"/><path d="M46 64.5h151" stroke-dasharray="2 6 1 36 2 1 1 13 2 3 2 2 1 3 2 3 4 1 2 3 2 1 3 5 2 1 2 3 1 3 1 1 1 2 1 1 1 1 3 19 1 1 1 3 1 1"/><path d="M46 65.5h153" stroke-dasharray="1 3 1 34 1 7 1 2 3 1 1 2 5 1 2 2 1 1 1 1 1 2 2 4 4 1 3 4 3 5 2 1 1 8 1 6 4 1 2 2 1 16 1 1 2 3 1 1"/><path d="M45 66.5h154" stroke-dasharray="2 1 1 1 2 32 1 1 1 1 2 2 1 3 2 1 13 1 3 2 2 1 4 1 3 4 2 5 1 1 1 2 5 12 1 2 6 2 1 1 1 5 1 7 1 1 3 4 1 1"/><path d="M50 67.5h145" stroke-dasharray="1 1 1 33 1 6 3 3 3 1 5 1 1 1 8 2 2 1 2 2 2 2 1 1 4 1 3 1 1 2 1 15 3 1 4 1 1 2 2 8 2 2 1 5 1 1"/><path d="M45 68.5h149" stroke-dasharray="1 3 2 3 1 29 2 2 1 2 3 1 2 4 14 1 1 1 4 2 4 4 2 3 4 1 3 2 1 2 2 11 2 2 5 19 1 1 1 1"/><path d="M47 69.5h148" stroke-dasharray="1 1 1 40 2 8 1 1 19 1 1 1 2 2 1 1 1 1 1 1 3 5 2 1 1 4 1 10 1 2 6 4 1 9 1 2 2 1 1 1 3 1"/><path d="M46 70.5h150" stroke-dasharray="1 2 2 8 1 27 1 2 1 1 1 3 1 2 7 1 2 1 11 6 1 1 1 1 3 2 1 5 1 2 1 4 1 6 1 1 1 1 1 3 4 1 1 2 1 2 1 5 1 2 1 1 1 3 1 3 1 1"/><path d="M46 71.5h152" stroke-dasharray="2 4 1 34 1 3 1 2 1 3 1 1 5 1 2 1 9 1 3 1 3 1 1 1 2 1 5 2 3 1 1 1 1 15 3 1 1 1 1 1 1 1 1 2 2 1 1 1 1 12 1 2 1 1 1 1"/><path d="M48 72.5h137" stroke-dasharray="1 1 1 4 1 30 1 1 3 4 1 2 16 1 7 1 5 2 2 1 4 2 4 3 1 11 1 7 1 1 6 1 1 5 1 2 1 1"/><path d="M47 73.5h150" stroke-dasharray="2 9 1 31 1 3 1 1 1 2 20 3 2 2 9 1 3 2 3 2 2 1 1 9 1 3 1 1 2 2 3 1 1 3 1 3 1 5 4 5 1 1"/><path d="M48 74.5h147" stroke-dasharray="2 1 2 1 4 3 1 35 1 1 3 2 4 1 1 1 11 2 4 2 7 1 1 2 1 3 1 2 1 2 1 4 1 4 7 2 3 7 1 1 1 6 1 4 1 1"/><path d="M46 75.5h149" stroke-dasharray="3 1 1 1 2 1 3 32 1 2 1 1 1 1 3 2 7 1 4 1 9 1 3 1 2 1 2 2 5 7 2 1 1 3 2 5 8 2 1 14 1 1 1 1 1 2 1 1"/><path d="M46 76.5h150" stroke-dasharray="3 1 11 1 4 24 2 1 1 2 5 3 7 2 8 1 11 1 1 1 2 2 1 6 1 1 1 1 1 2 1 6 1 2 1 1 2 1 1 1 1 1 1 2 1 1 1 6 1 2 1 4 1 1 1 1"/><path d="M42 77.5h154" stroke-dasharray="7 1 2 1 3 1 2 1 3 2 3 13 1 11 1 2 5 2 3 1 1 3 1 1 7 2 1 3 4 1 1 1 2 1 1 1 1 9 3 5 2 2 1 2 1 2 4 5 1 2 1 3 1 1 2 3 1 5 1 1"/><path d="M40 78.5h155" stroke-dasharray="3 3 6 1 4 1 4 5 2 26 2 3 2 2 5 1 8 1 2 1 1 1 1 1 5 3 1 1 1 2 1 5 1 6 3 4 2 4 4 5 3 2 1 2 1 1 2 4 1 1 1 1 1 1"/><path d="M39 79.5h156" stroke-dasharray="1 9 4 1 6 1 1 5 3 15 1 8 2 3 1 1 2 1 5 1 6 1 3 1 1 1 2 2 9 1 1 4 2 4 1 1 1 6 10 3 1 2 2 1 1 2 1 1 3 1 2 4 1 2 1 1"/><path d="M37 80.5h157" stroke-dasharray="1 8 3 1 9 1 1 1 1 5 2 24 1 5 1 1 1 1 4 6 7 1 1 1 2 2 1 1 8 1 1 1 1 3 1 4 1 4 17 5 1 6 3 3 4 1"/><path d="M20 81.5h172" stroke-dasharray="1 15 1 12 7 3 3 6 1 1 1 20 1 2 1 3 1 1 1 1 2 2 1 4 1 2 6 1 2 1 11 2 2 3 1 8 1 12 1 1 1 3 1 11 5 2 3 1"/><path d="M20 82.5h171" stroke-dasharray="15 13 1 1 2 3 4 1 1 7 1 1 2 16 1 1 5 1 1 3 2 1 1 1 1 2 1 1 13 2 3 1 7 1 1 1 1 2 1 16 1 2 1 5 1 7 1 7 3 1 3 1"/><path d="M29 83.5h160" stroke-dasharray="5 2 1 14 1 6 1 12 2 15 5 1 2 4 2 1 1 1 1 2 1 1 3 1 9 1 6 1 4 4 1 17 2 4 2 4 1 11 1 2 1 1 1 1 1 1"/><path d="M72 84.5h101" stroke-dasharray="1 14 5 2 1 4 1 1 4 1 2 3 19 1 3 1 1 1 1 20 4 4 2 1 1 2 1 1"/><path d="M53 85.5h133" stroke-dasharray="1 1 1 3 1 8 1 3 2 12 1 1 4 1 1 3 1 3 4 2 1 2 1 3 6 2 6 2 2 1 1 1 1 1 1 25 4 4 1 13 1 1"/><path d="M59 86.5h127" stroke-dasharray="1 8 1 4 2 11 3 1 2 3 8 2 2 2 1 2 2 2 3 1 1 3 7 3 1 26 1 2 1 7 1 5 1 5 2 1"/><path d="M8 87.5h168" stroke-dasharray="1 59 1 5 2 8 2 1 1 1 1 1 5 7 1 6 1 3 1 2 1 1 1 1 1 5 4 4 1 24 1 7 1 3 2 1 1 1"/><path d="M59 88.5h124" stroke-dasharray="1 15 2 5 3 4 5 1 1 1 1 5 1 3 1 4 4 1 1 1 2 2 2 1 3 6 1 24 1 5 2 8 1 1 1 2 2 1"/><path d="M9 89.5h168" stroke-dasharray="1 48 1 5 1 3 1 6 3 3 5 1 1 2 1 1 3 1 2 2 1 4 1 1 3 3 2 2 1 1 1 3 2 2 2 5 1 24 1 7 1 8 1 1"/><path d="M53 90.5h125" stroke-dasharray="2 4 1 4 1 4 1 1 1 1 1 2 3 1 2 1 1 3 2 4 4 3 1 1 1 3 1 8 2 2 1 2 2 3 1 1 1 1 1 37 1 7 1 1"/><path d="M52 91.5h121" stroke-dasharray="3 1 2 1 2 9 5 1 1 1 3 1 1 1 1 1 1 1 1 4 9 4 1 4 2 2 1 1 1 7 3 1 2 27 2 6 1 5 1 1"/><path d="M49 92.5h131" stroke-dasharray="1 4 1 4 1 12 1 2 1 3 1 3 2 3 1 1 1 1 1 3 4 2 2 5 1 4 1 1 1 5 2 1 2 1 2 30 1 5 1 4 1 7 1 1"/><path d="M51 93.5h124" stroke-dasharray="1 2 2 1 3 1 3 1 1 1 4 1 1 2 2 7 1 7 1 1 4 1 6 2 1 3 1 1 2 1 3 3 1 1 6 1 1 24 1 4 1 8 1 1 1 1 1 1"/><path d="M51 94.5h126" stroke-dasharray="1 2 2 3 8 1 1 7 2 3 2 1 2 2 1 5 3 2 1 1 3 1 1 1 1 6 2 1 7 1 3 3 1 25 1 3 1 4 1 5 2 1 2 1"/><path d="M11 95.5h152" stroke-dasharray="1 40 1 1 7 1 4 1 4 9 5 4 1 8 2 1 7 1 1 2 7 1 1 1 1 1 3 2 4 23 1 5 1 1"/><path d="M44 96.5h134" stroke-dasharray="1 5 3 1 3 4 5 1 3 9 1 1 5 3 2 3 1 1 1 1 2 3 10 2 3 1 1 1 1 4 8 22 2 6 1 6 1 3 1 1 1 1"/><path d="M44 97.5h134" stroke-dasharray="2 4 1 7 1 3 4 1 3 7 2 1 7 3 1 6 3 4 4 1 1 1 1 1 1 1 1 4 5 1 1 1 2 1 3 20 1 2 1 6 1 6 1 3 1 1 1 1"/><path d="M44 98.5h133" stroke-dasharray="2 5 2 13 4 2 1 6 2 1 5 1 1 6 1 7 1 2 4 5 4 5 2 1 4 1 3 12 1 1 1 8 2 5 2 9 1 1"/><path d="M66 99.5h104" stroke-dasharray="3 4 1 4 2 1 4 1 1 3 1 16 2 3 1 1 4 1 1 1 5 3 4 1 1 11 1 3 2 8 1 7 2 1"/><path d="M51 100.5h115" stroke-dasharray="1 4 4 3 2 2 2 2 2 2 1 6 1 6 1 16 1 1 2 3 2 2 10 2 2 1 1 1 1 17 1 8 1 3 1 1"/><path d="M39 101.5h135" stroke-dasharray="1 4 1 5 1 4 1 2 3 3 7 3 2 4 6 22 3 3 2 1 17 1 1 16 2 7 2 7 1 2 1 1"/><path d="M57 102.5h117" stroke-dasharray="1 1 6 1 3 2 1 8 1 1 1 5 1 10 2 1 1 1 1 5 14 1 2 1 8 9 1 7 1 8 2 5 1 3 1 1"/><path d="M44 103.5h128" stroke-dasharray="1 13 4 1 4 5 1 2 4 3 1 11 1 7 2 3 3 1 7 2 10 1 1 2 1 2 1 6 2 1 1 6 1 16 1 1"/><path d="M41 104.5h132" stroke-dasharray="1 4 1 1 1 6 1 1 5 1 1 3 1 2 1 3 1 6 1 21 1 1 1 2 2 3 2 1 1 4 1 2 1 1 2 1 6 3 3 1 1 2 1 10 1 15 1 1"/><path d="M46 105.5h126" stroke-dasharray="1 11 5 3 1 3 2 4 1 13 1 3 1 4 1 1 1 5 1 1 1 6 3 1 4 2 1 1 5 13 1 2 1 21 1 1"/><path d="M41 106.5h118" stroke-dasharray="1 5 1 4 1 4 2 1 2 1 1 16 3 1 1 10 1 4 1 10 1 2 1 3 2 1 2 1 8 2 1 15 1 7 1 1"/><path d="M17 107.5h151" stroke-dasharray="1 29 2 2 1 2 1 1 1 2 1 3 1 2 1 9 1 1 1 1 1 1 3 2 1 6 2 2 3 10 1 1 1 3 3 1 10 2 2 31 2 1"/><path d="M49 108.5h119" stroke-dasharray="2 4 2 1 2 1 1 1 1 1 1 1 1 7 1 2 1 4 1 6 1 5 1 2 2 5 3 2 4 6 1 1 9 1 2 1 1 1 1 11 1 1 1 14 1 1"/><path d="M44 109.5h110" stroke-dasharray="1 3 2 4 3 2 3 3 2 4 1 1 1 1 1 4 3 15 4 3 1 6 1 1 2 5 1 1 5 1 1 2 1 1 1 1 1 13 2 1 1 1"/><path d="M48 110.5h105" stroke-dasharray="1 2 2 2 2 2 1 1 1 2 1 2 1 25 1 9 2 7 1 3 1 1 1 1 1 2 2 1 1 1 1 6 2 11 1 2 2 1"/><path d="M49 111.5h105" stroke-dasharray="1 1 1 1 1 1 3 1 2 12 2 3 1 11 1 13 1 5 2 1 1 6 3 1 1 3 1 8 1 15 1 1"/><path d="M57 112.5h83" stroke-dasharray="3 14 1 2 1 8 1 4 3 15 3 1 1 1 1 1 1 1 2 6 2 4 1 5 1 1"/><path d="M48 113.5h117" stroke-dasharray="1 8 2 1 3 2 1 7 1 4 1 2 1 4 1 2 1 11 1 6 1 4 2 14 2 2 2 4 1 23 2 1"/><path d="M50 114.5h92" stroke-dasharray="1 3 1 5 1 2 2 16 4 3 4 17 1 8 1 8 3 2 3 5 2 1"/><path d="M50 115.5h93" stroke-dasharray="1 5 2 1 2 2 3 16 1 1 2 3 1 6 1 3 1 5 3 7 2 1 1 6 2 1 2 1 2 8 1 1"/><path d="M46 116.5h115" stroke-dasharray="1 1 1 7 1 2 2 1 3 11 1 5 2 4 1 7 1 6 3 5 1 5 1 3 1 3 2 1 1 1 1 3 1 8 1 16 1 1"/><path d="M51 117.5h108" stroke-dasharray="1 1 1 2 1 19 1 7 1 1 1 3 1 6 4 2 1 7 2 2 5 4 1 10 1 2 1 5 1 13 1 1"/><path d="M54 118.5h79" stroke-dasharray="1 1 4 4 1 1 1 4 1 9 1 10 1 8 2 2 2 4 2 4 1 1 2 3 1 7 1 1"/><path d="M46 119.5h111" stroke-dasharray="1 7 3 8 3 29 2 3 1 1 1 4 4 2 3 2 1 2 1 3 2 4 1 6 1 11 1 3 1 1"/><path d="M25 120.5h116" stroke-dasharray="1 30 1 1 1 5 1 3 1 2 1 4 3 6 1 1 1 3 1 1 1 1 1 2 1 3 1 1 1 2 1 2 1 1 2 1 1 5 1 5 1 3 3 6 1 1"/><path d="M31 121.5h124" stroke-dasharray="2 18 1 14 1 1 1 3 1 3 1 3 1 1 1 2 1 1 3 2 1 2 1 2 1 1 1 1 3 5 1 1 3 6 1 13 1 5 1 12 1 1"/><path d="M32 122.5h122" stroke-dasharray="1 7 1 3 1 15 1 13 1 4 1 1 1 4 2 1 2 3 2 2 1 1 6 2 1 1 1 2 3 5 1 2 2 2 1 5 1 7 1 8 1 1 1 1"/><path d="M51 123.5h102" stroke-dasharray="1 7 2 12 1 1 1 4 2 2 1 2 4 3 1 4 1 1 3 1 1 4 1 3 1 3 1 1 1 13 2 1 1 6 1 7 1 1"/><path d="M32 124.5h120" stroke-dasharray="2 37 1 2 2 6 2 21 2 7 1 11 2 1 1 8 1 12 1 1"/><path d="M33 125.5h118" stroke-dasharray="1 10 1 5 1 7 1 1 1 10 1 1 2 11 1 3 1 5 1 6 2 2 1 6 2 3 4 6 1 4 1 4 1 10 1 1"/><path d="M55 126.5h87" stroke-dasharray="1 4 1 26 1 1 1 7 2 17 2 3 1 1 1 2 1 1 3 10 1 1"/><path d="M33 127.5h115" stroke-dasharray="2 8 1 3 1 23 1 25 1 1 1 15 1 3 1 1 3 1 2 1 3 16 1 1"/><path d="M34 128.5h98" stroke-dasharray="1 3 1 3 1 1 1 10 1 3 1 1 1 21 1 21 1 2 1 6 2 5 1 2 1 1 1 3 1 1"/><path d="M34 129.5h100" stroke-dasharray="1 11 1 4 1 9 1 3 1 15 1 1 1 20 1 1 1 8 1 6 6 5 1 1"/><path d="M20 130.5h112" stroke-dasharray="1 12 2 82 2 3 2 1 4 1 2 1"/><path d="M33 131.5h96" stroke-dasharray="2 9 1 1 2 4 2 2 1 1 2 1 1 54 1 3 1 1 3 1 3 1"/><path d="M33 132.5h107" stroke-dasharray="2 1 1 18 2 1 2 8 1 55 1 1 2 7 2 2 1 1"/><path d="M32 133.5h108" stroke-dasharray="3 2 1 14 4 70 1 12 1 1"/><path d="M33 134.5h106" stroke-dasharray="6 4 1 10 1 70 1 4 1 7 1 1"/><path d="M34 135.5h104" stroke-dasharray="4 7 1 3 2 78 1 7 1 1"/><path d="M23 136.5h109" stroke-dasharray="1 10 3 1 2 10 1 77 1 2 1 1"/><path d="M36 137.5h98" stroke-dasharray="6 2 2 1 1 85 1 1"/><path d="M34 138.5h9" stroke-dasharray="2 1 2 1 1 1 1 1"/><path d="M34 139.5h96" stroke-dasharray="1 2 2 1 3 2 1 4 1 78 1 1"/><path d="M27 140.5h100" stroke-dasharray="1 11 2 3 1 2 1 67 1 10 1 1"/><path d="M39 141.5h83" stroke-dasharray="4 4 1 66 2 5 1 1"/><path d="M38 142.5h76" stroke-dasharray="1 3 6 65 1 1"/><path d="M26 143.5h84" stroke-dasharray="1 20 5 26 1 11 1 17 2 1"/><path d="M29 144.5h84" stroke-dasharray="1 21 2 19 1 2 3 9 1 4 1 3 1 14 2 1"/><path d="M28 145.5h72" stroke-dasharray="1 56 1 11 1 1 1 1"/><path d="M71 146.5h32" stroke-dasharray="1 28 1 1 1 1"/><path d="M32 148.5h36" stroke-dasharray="2 33 1 1"/><path d="M35 149.5h27" stroke-dasharray="1 17 1 7 1 1"/><path d="M51 150.5h1"/><path d="M37 151.5h14" stroke-dasharray="2 10 2 1"/><path d="M47 152.5h1"/><path d="M44 153.5h3" stroke-dasharray="1 1 1 1"/></g><g stroke="#2b9089"><path d="M160 1.5h4"/><path d="M154 2.5h13" stroke-dasharray="6 2 5 1"/><path d="M153 3.5h28" stroke-dasharray="2 8 1 1 5 1 10 1"/><path d="M163 4.5h18" stroke-dasharray="2 1 6 2 7 1"/><path d="M149 5.5h30" stroke-dasharray="1 14 8 2 1 1 3 1"/><path d="M146 6.5h36" stroke-dasharray="3 13 3 1 3 5 1 2 3 1 1 1"/><path d="M144 7.5h37" stroke-dasharray="4 19 2 1 1 2 1 2 1 1 1 1 1 1"/><path d="M143 8.5h41" stroke-dasharray="2 12 1 5 1 1 1 1 1 1 1 1 1 2 1 1 3 3 2 1"/><path d="M142 9.5h38" stroke-dasharray="1 5 1 7 2 9 1 1 1 1 1 4 2 1 1 1"/><path d="M153 10.5h21" stroke-dasharray="1 1 2 11 3 2 1 1"/><path d="M153 11.5h32" stroke-dasharray="3 1 1 4 1 6 1 9 1 1 4 1"/><path d="M153 12.5h30" stroke-dasharray="2 1 1 21 1 1 3 1"/><path d="M143 13.5h41" stroke-dasharray="1 12 1 22 1 1 3 1"/><path d="M139 14.5h46" stroke-dasharray="4 1 1 8 1 2 1 16 2 2 1 1 6 1"/><path d="M135 15.5h49" stroke-dasharray="2 1 6 25 1 5 1 2 1 1 4 1"/><path d="M133 16.5h52" stroke-dasharray="3 3 1 4 1 23 1 12 2 1 1 1"/><path d="M132 17.5h50" stroke-dasharray="1 1 2 3 3 29 1 1 1 5 1 1 1 1"/><path d="M132 18.5h52" stroke-dasharray="5 5 1 37 4 1"/><path d="M130 19.5h51" stroke-dasharray="5 2 8 6 1 5 1 13 1 8 1 1"/><path d="M129 20.5h52" stroke-dasharray="4 1 1 2 2 1 2 1 1 8 1 1 1 25 1 1"/><path d="M129 21.5h34" stroke-dasharray="6 1 1 1 4 1 1 2 1 5 1 2 5 2 1 1"/><path d="M129 22.5h55" stroke-dasharray="1 2 3 1 1 1 1 1 2 5 3 1 1 2 1 1 3 7 1 16 1 1"/><path d="M129 23.5h32" stroke-dasharray="1 1 11 5 6 1 4 1 2 1"/><path d="M129 24.5h32" stroke-dasharray="2 2 10 7 5 2 1 1 2 1"/><path d="M128 25.5h28" stroke-dasharray="2 2 2 3 6 7 6 1"/><path d="M128 26.5h35" stroke-dasharray="2 3 1 1 1 1 4 7 1 2 4 1 2 4 1 1"/><path d="M127 27.5h64" stroke-dasharray="3 3 1 1 7 2 1 7 1 1 1 9 1 25 1 1"/><path d="M126 28.5h38" stroke-dasharray="4 2 8 2 3 1 1 3 3 1 1 1 1 1 1 4 1 1"/><path d="M124 29.5h67" stroke-dasharray="2 2 2 5 3 1 1 4 4 1 2 1 2 3 1 2 1 1 1 1 1 25 1 1"/><path d="M124 30.5h67" stroke-dasharray="1 2 1 7 3 1 1 1 1 2 1 2 1 2 1 1 1 1 3 1 1 2 1 1 1 1 1 24 1 1"/><path d="M121 31.5h45" stroke-dasharray="2 4 1 5 1 1 5 2 1 2 3 1 3 4 3 3 1 1 2 1"/><path d="M119 32.5h72" stroke-dasharray="5 10 7 4 3 4 1 4 1 1 1 2 1 4 1 22 1 1"/><path d="M117 33.5h74" stroke-dasharray="6 14 1 4 1 1 1 1 3 1 2 3 4 2 2 1 2 11 1 12 1 1"/><path d="M117 34.5h74" stroke-dasharray="6 12 3 3 2 2 6 2 1 3 1 3 5 24 1 1"/><path d="M116 35.5h50" stroke-dasharray="3 1 3 1 1 7 1 7 1 1 1 2 7 1 1 6 1 2 3 1"/><path d="M116 36.5h75" stroke-dasharray="1 1 4 1 3 19 8 4 2 4 2 9 1 4 1 10 1 1"/><path d="M115 37.5h76" stroke-dasharray="2 1 1 1 2 1 2 4 1 10 1 3 1 1 9 10 1 11 1 11 2 1"/><path d="M115 38.5h67" stroke-dasharray="2 1 4 3 1 10 1 3 1 2 13 1 1 3 3 1 1 5 1 1 1 3 1 1 1 1 1 1"/><path d="M114 39.5h77" stroke-dasharray="4 1 2 1 1 15 1 5 7 1 3 2 1 3 3 2 1 2 1 3 2 1 1 3 1 9 1 1"/><path d="M114 40.5h69" stroke-dasharray="2 1 1 3 1 4 1 12 1 1 1 3 10 3 1 4 1 1 1 5 1 1 2 1 1 1 2 1 2 1"/><path d="M114 41.5h66" stroke-dasharray="1 6 2 3 1 2 2 16 5 1 2 2 1 5 3 4 2 1 2 1 4 1"/><path d="M113 42.5h69" stroke-dasharray="3 9 1 1 2 2 3 3 2 2 4 2 6 11 1 3 1 3 1 8 1 1"/><path d="M113 43.5h78" stroke-dasharray="2 1 1 1 1 5 1 2 2 2 9 1 1 1 3 1 5 1 1 2 1 5 1 13 1 3 2 8 1 1"/><path d="M98 44.5h93" stroke-dasharray="1 7 1 3 1 1 2 2 1 5 1 2 1 1 1 2 3 1 6 1 1 1 1 2 6 1 1 5 1 15 4 1 4 6 1 1"/><path d="M96 45.5h87" stroke-dasharray="1 11 6 2 1 1 2 6 1 2 2 1 6 1 4 3 9 1 3 1 1 1 1 13 4 1 2 1"/><path d="M89 46.5h92" stroke-dasharray="1 7 1 4 1 4 1 1 6 1 1 2 1 4 1 1 1 1 6 1 3 1 3 1 1 1 12 3 1 15 1 3 1 1"/><path d="M88 47.5h91" stroke-dasharray="2 17 1 5 3 1 3 9 8 1 1 1 3 2 1 1 6 1 4 4 1 13 3 1"/><path d="M87 48.5h77" stroke-dasharray="5 15 1 2 1 2 1 1 1 1 3 9 1 1 7 4 3 2 5 1 6 4 1 1"/><path d="M87 49.5h92" stroke-dasharray="1 1 2 25 1 1 1 1 1 5 2 1 1 1 3 2 1 1 1 5 11 2 3 16 1 1 1 1"/><path d="M98 50.5h61" stroke-dasharray="3 4 1 2 2 6 1 2 1 1 1 1 2 2 1 3 2 1 1 2 1 1 1 1 4 1 4 1 3 1 1 1 2 1"/><path d="M83 51.5h94" stroke-dasharray="1 15 1 3 1 3 2 4 1 2 5 2 1 10 2 3 1 3 1 1 1 1 9 1 1 18 1 1"/><path d="M101 52.5h58" stroke-dasharray="3 8 1 1 6 1 1 4 1 12 1 1 1 2 10 3 2 1"/><path d="M46 53.5h130" stroke-dasharray="4 44 2 5 1 1 1 2 1 5 3 1 4 1 1 1 1 2 1 13 1 2 2 2 1 2 1 2 1 5 1 15 1 1"/><path d="M46 54.5h130" stroke-dasharray="4 44 1 1 1 1 1 4 3 6 1 2 4 1 1 1 2 7 1 7 1 3 1 2 1 2 2 5 1 1 1 2 2 6 7 1"/><path d="M46 55.5h129" stroke-dasharray="5 45 3 4 1 4 1 2 1 1 2 1 9 24 2 9 1 6 2 2 1 1 2 1"/><path d="M47 56.5h129" stroke-dasharray="4 41 1 5 2 5 1 1 1 1 1 3 1 1 1 2 1 5 1 13 6 2 1 2 3 1 2 7 3 1 1 3 2 1 3 1"/><path d="M46 57.5h146" stroke-dasharray="5 43 1 3 1 2 2 3 1 1 2 1 4 3 3 2 1 7 14 1 3 1 4 2 3 1 1 3 3 4 2 18 1 1"/><path d="M46 58.5h155" stroke-dasharray="2 1 2 39 1 8 3 1 2 2 1 4 4 1 4 2 1 4 5 9 8 2 3 3 2 3 6 3 1 2 2 13 1 1 2 1 1 1 2 1 1 1"/><path d="M46 59.5h155" stroke-dasharray="4 44 1 1 1 4 1 3 1 5 1 1 3 1 7 1 4 1 1 13 7 11 5 6 1 1 2 23 1 1"/><path d="M47 60.5h154" stroke-dasharray="2 46 1 4 1 10 5 6 2 1 2 1 1 1 1 15 3 3 1 1 1 6 2 3 1 2 2 2 1 3 1 16 1 1 1 3 1 1"/><path d="M47 61.5h154" stroke-dasharray="1 1 1 1 1 42 2 8 3 3 1 1 4 1 1 6 2 1 3 6 1 4 1 1 2 1 7 1 2 1 1 4 6 1 4 2 2 23 1 1"/><path d="M86 62.5h90" stroke-dasharray="1 1 1 7 1 2 1 5 1 2 1 2 1 2 2 1 2 4 2 2 1 11 1 3 2 1 1 1 1 1 1 3 1 7 11 2 1 1"/><path d="M54 63.5h143" stroke-dasharray="1 39 1 6 1 8 1 2 1 2 1 5 2 11 2 2 1 5 2 1 1 1 1 1 1 8 1 2 3 1 4 9 1 8 1 5 1 1"/><path d="M47 64.5h146" stroke-dasharray="1 6 1 39 1 18 2 2 1 3 2 3 2 1 1 6 2 1 3 6 1 1 1 10 1 4 1 2 2 21 1 1"/><path d="M46 65.5h153" stroke-dasharray="1 38 1 10 1 6 5 1 2 2 1 3 1 2 2 4 4 1 1 1 1 6 1 5 2 1 1 15 1 1 1 2 2 19 1 1 2 3 1 1"/><path d="M45 66.5h154" stroke-dasharray="1 2 1 1 1 37 2 2 1 4 1 1 7 1 2 1 1 2 2 3 2 2 3 2 2 4 2 5 1 4 2 1 2 15 1 1 3 5 1 13 1 1 2 5 1 1"/><path d="M99 67.5h96" stroke-dasharray="3 1 5 4 7 2 2 2 1 3 1 2 1 3 2 1 3 4 1 16 1 2 1 2 1 14 2 2 1 5 1 1"/><path d="M45 68.5h149" stroke-dasharray="1 8 1 29 1 3 1 4 1 1 2 4 14 1 1 1 2 1 1 5 1 4 2 3 2 1 1 1 1 1 1 2 1 2 2 11 1 3 2 1 1 20 1 1 1 1"/><path d="M47 69.5h147" stroke-dasharray="1 42 2 8 1 1 1 2 16 4 1 4 1 1 1 2 2 5 2 1 1 15 1 2 2 1 1 6 1 9 1 3 1 1 1 1 2 1"/><path d="M46 70.5h150" stroke-dasharray="1 2 2 48 7 1 2 2 4 1 5 6 1 1 1 2 2 2 1 5 1 14 1 3 1 3 1 1 2 13 1 2 1 1 1 3 1 3 1 1"/><path d="M46 71.5h152" stroke-dasharray="2 4 1 34 1 12 5 1 2 2 8 1 3 1 3 1 1 2 1 1 2 1 2 3 2 1 1 19 1 1 1 1 1 1 1 1 1 2 2 1 1 19 1 1"/><path d="M48 72.5h137" stroke-dasharray="1 1 1 4 1 39 1 2 16 1 7 1 1 1 1 1 1 2 1 2 1 1 2 2 3 4 1 19 1 1 6 1 1 5 1 2 1 1"/><path d="M47 73.5h150" stroke-dasharray="2 47 1 2 11 1 8 3 2 2 1 1 6 2 3 2 2 20 1 1 2 2 3 1 1 13 3 6 1 1"/><path d="M51 74.5h144" stroke-dasharray="2 1 4 3 1 35 1 1 2 3 4 1 1 1 1 1 2 1 3 2 1 4 2 2 7 1 1 2 1 3 1 2 1 2 1 4 1 4 1 1 5 2 1 1 1 16 1 4 1 1"/><path d="M52 75.5h143" stroke-dasharray="1 2 3 32 1 2 1 4 2 2 7 1 2 1 1 1 3 1 2 4 3 1 2 1 2 2 1 1 3 10 1 4 1 5 3 1 3 3 1 18 1 2 1 1"/><path d="M46 76.5h150" stroke-dasharray="3 1 1 2 8 1 4 25 1 5 3 4 2 1 4 3 6 2 1 2 8 1 1 1 2 2 1 6 1 3 1 2 1 6 1 2 1 2 1 1 1 3 1 2 1 11 1 4 1 1 1 1"/><path d="M42 77.5h154" stroke-dasharray="5 3 2 1 3 1 2 1 3 2 3 25 1 2 2 1 2 2 3 1 1 3 1 2 1 1 1 1 2 2 1 3 2 1 1 1 1 1 2 1 1 13 1 6 1 2 1 5 4 8 1 3 1 1 1 4 1 5 1 1"/><path d="M40 78.5h155" stroke-dasharray="3 3 6 2 3 1 3 6 2 26 2 3 2 2 5 2 7 1 2 1 1 4 4 3 1 1 1 8 1 6 1 1 1 10 1 1 1 6 1 1 1 8 1 4 1 3 1 1"/><path d="M39 79.5h153" stroke-dasharray="1 9 4 1 6 1 1 6 2 24 2 3 1 1 2 1 3 1 1 4 3 1 3 1 1 1 2 2 6 1 2 1 1 5 1 4 1 1 1 6 10 6 2 1 1 2 1 1 1 1 1 1 2 4 1 1"/><path d="M37 80.5h157" stroke-dasharray="1 9 1 2 9 3 1 5 2 24 1 5 1 1 1 1 4 6 7 1 1 1 2 2 1 1 1 1 4 1 1 7 1 4 1 4 17 14 1 5 2 1"/><path d="M36 81.5h156" stroke-dasharray="1 12 7 3 1 8 1 1 1 23 1 7 2 2 1 4 1 2 6 1 2 1 7 1 3 2 1 4 1 8 1 12 1 1 1 15 5 2 3 1"/><path d="M20 82.5h171" stroke-dasharray="15 13 1 2 1 3 4 1 1 9 2 16 1 2 4 5 2 1 1 1 1 2 1 2 9 1 2 2 3 1 7 6 1 19 1 5 1 15 3 1 3 1"/><path d="M29 83.5h160" stroke-dasharray="5 2 1 34 2 16 4 1 2 4 2 9 2 1 9 1 1 1 4 1 3 5 1 41 1 6 1 1"/><path d="M72 84.5h101" stroke-dasharray="1 14 5 2 1 7 3 2 1 3 1 1 1 1 1 1 3 1 5 1 3 1 3 1 1 1 1 20 4 4 1 5 1 1"/><path d="M55 85.5h131" stroke-dasharray="1 3 1 12 2 12 1 1 4 1 1 3 1 3 4 5 1 3 1 2 3 2 6 2 2 1 1 1 1 1 1 25 4 4 1 13 1 1"/><path d="M73 86.5h113" stroke-dasharray="2 11 3 1 2 3 2 2 4 2 1 3 1 2 2 3 2 1 1 3 7 3 1 26 1 10 1 11 2 1"/><path d="M8 87.5h166" stroke-dasharray="1 65 2 8 2 3 1 1 5 14 1 3 1 4 1 8 3 4 1 24 1 12 1 1"/><path d="M75 88.5h108" stroke-dasharray="2 6 2 4 1 1 3 3 1 15 2 5 1 2 2 1 2 7 1 24 1 5 1 9 1 1 1 2 2 1"/><path d="M75 89.5h102" stroke-dasharray="3 3 2 7 1 2 2 1 1 3 1 4 1 1 3 3 2 2 1 1 1 3 2 2 2 5 1 24 1 7 1 8 1 1"/><path d="M54 90.5h78" stroke-dasharray="1 18 1 2 3 1 2 1 1 3 2 4 1 1 2 3 1 1 1 12 1 3 1 2 2 3 1 3 1 1"/><path d="M52 91.5h121" stroke-dasharray="3 1 1 3 1 9 1 3 1 1 1 1 3 3 1 1 1 1 1 4 1 1 4 1 2 9 1 3 1 1 1 7 3 1 1 36 1 5 1 1"/><path d="M72 92.5h108" stroke-dasharray="1 2 1 3 1 3 2 3 1 1 1 1 1 3 4 3 1 5 1 4 1 1 1 5 2 1 2 1 2 49 1 1"/><path d="M51 93.5h122" stroke-dasharray="1 3 1 1 3 1 3 1 1 1 2 1 1 5 1 7 1 9 4 1 6 2 1 5 2 1 3 6 5 1 1 29 1 10 1 1"/><path d="M51 94.5h122" stroke-dasharray="1 2 2 3 6 1 1 1 1 7 2 3 2 1 1 3 1 6 2 2 1 1 3 1 1 1 1 6 2 1 5 1 1 1 3 3 1 25 1 14 1 1"/><path d="M52 95.5h81" stroke-dasharray="1 1 7 1 4 2 3 9 3 15 2 1 3 1 2 5 4 1 2 1 1 1 1 2 2 2 4 1"/><path d="M50 96.5h128" stroke-dasharray="3 1 1 1 1 4 5 3 1 9 1 1 4 9 1 1 1 1 2 3 3 1 3 1 2 3 2 1 1 1 1 4 8 22 1 7 1 6 1 3 1 1 1 1"/><path d="M44 97.5h134" stroke-dasharray="1 13 1 3 3 2 1 1 1 7 2 1 2 1 3 4 1 6 2 5 4 1 1 1 1 3 1 4 5 1 1 1 2 1 1 1 1 30 1 12 1 1"/><path d="M44 98.5h123" stroke-dasharray="2 5 2 26 2 1 1 12 1 10 1 1 1 6 4 5 2 2 1 1 1 2 2 12 1 1 1 8 1 6 2 1"/><path d="M66 99.5h104" stroke-dasharray="1 6 1 4 2 2 1 7 1 16 2 3 1 2 3 1 1 1 5 3 1 1 1 2 1 11 1 3 2 17 1 1"/><path d="M51 100.5h115" stroke-dasharray="1 4 3 5 1 7 1 9 1 6 1 16 1 1 2 4 1 2 1 1 8 2 1 2 1 1 1 17 1 8 1 3 1 1"/><path d="M50 101.5h104" stroke-dasharray="1 4 1 2 2 6 1 1 3 3 2 4 1 1 4 22 3 4 1 1 9 1 1 1 5 1 1 17 1 1"/><path d="M57 102.5h117" stroke-dasharray="1 1 2 1 3 1 2 3 1 8 1 1 1 5 1 15 1 5 8 1 5 1 2 1 1 1 2 1 1 11 1 7 1 8 1 6 1 3 1 1"/><path d="M58 103.5h97" stroke-dasharray="4 1 2 1 1 5 1 2 4 24 1 3 2 2 7 2 10 1 1 2 1 2 1 6 2 8 1 1"/><path d="M46 104.5h127" stroke-dasharray="1 8 1 2 4 5 1 2 1 3 1 6 1 21 1 1 1 3 1 3 2 6 1 4 2 1 3 2 1 3 2 2 1 2 1 10 1 15 1 1"/><path d="M46 105.5h126" stroke-dasharray="1 11 5 7 1 5 1 22 1 7 1 1 1 7 2 1 4 2 1 1 5 13 1 2 1 21 1 1"/><path d="M47 106.5h112" stroke-dasharray="1 4 1 5 1 1 2 18 2 2 1 10 1 4 1 17 2 1 2 1 1 1 6 18 1 7 1 1"/><path d="M48 107.5h120" stroke-dasharray="1 2 1 7 1 3 1 2 1 11 1 1 1 1 3 10 1 2 2 13 1 3 3 3 8 3 1 32 1 1"/><path d="M49 108.5h104" stroke-dasharray="2 5 1 4 1 1 1 1 1 9 1 2 1 4 1 12 1 2 2 7 1 3 3 6 1 1 2 1 6 1 2 17 1 1"/><path d="M44 109.5h110" stroke-dasharray="1 4 1 4 3 2 1 1 1 3 2 4 1 1 1 6 1 17 2 1 1 3 1 6 1 1 2 5 1 1 3 1 1 1 1 2 1 1 1 18 1 1"/><path d="M48 110.5h105" stroke-dasharray="1 3 1 2 2 2 1 1 1 5 1 44 1 3 1 3 1 2 1 4 1 6 1 12 1 3 1 1"/><path d="M49 111.5h80" stroke-dasharray="1 3 1 1 2 2 2 12 2 3 1 31 2 8 1 1 1 1 1 3 1 1"/><path d="M57 112.5h83" stroke-dasharray="3 14 1 17 1 16 3 1 1 13 2 4 1 5 1 1"/><path d="M61 113.5h104" stroke-dasharray="1 3 1 20 1 14 1 6 1 4 2 18 1 5 1 24 1 1"/><path d="M50 114.5h85" stroke-dasharray="1 13 1 16 1 1 2 3 1 1 1 18 1 8 1 8 3 2 3 1"/><path d="M56 115.5h87" stroke-dasharray="1 2 2 2 1 18 1 1 2 22 1 8 1 8 2 1 1 2 2 8 1 1"/><path d="M46 116.5h115" stroke-dasharray="1 1 1 11 1 1 2 12 1 5 1 13 1 6 1 1 1 11 1 7 2 1 1 1 1 3 1 25 1 1"/><path d="M84 117.5h61" stroke-dasharray="1 12 1 1 1 11 2 2 1 1 3 15 1 8 1 1"/><path d="M56 118.5h77" stroke-dasharray="3 7 1 14 1 10 1 8 1 3 2 4 2 4 1 1 2 11 1 1"/><path d="M55 119.5h102" stroke-dasharray="2 8 1 1 1 29 2 5 1 4 1 2 1 2 2 3 1 2 1 3 2 4 1 6 1 15 1 1"/><path d="M56 120.5h85" stroke-dasharray="1 1 1 12 1 5 1 7 1 7 1 1 1 6 1 7 1 1 2 1 1 5 1 5 1 3 1 1 1 6 1 1"/><path d="M31 121.5h124" stroke-dasharray="2 33 1 1 1 3 1 7 1 1 1 6 1 2 1 7 1 9 1 2 1 7 1 13 1 5 1 12 1 1"/><path d="M32 122.5h122" stroke-dasharray="1 11 1 29 1 6 1 12 2 2 1 1 1 1 1 1 2 2 1 1 1 2 2 6 1 6 1 13 1 10 1 1"/><path d="M59 123.5h94" stroke-dasharray="2 20 1 2 1 2 3 4 1 4 1 2 1 2 1 8 1 3 1 1 1 16 1 14 1 1"/><path d="M32 124.5h120" stroke-dasharray="2 37 1 10 2 21 2 7 1 14 1 8 1 12 1 1"/><path d="M33 125.5h118" stroke-dasharray="1 16 1 20 1 2 1 11 1 9 1 6 2 9 2 5 2 6 1 9 1 10 1 1"/><path d="M55 126.5h87" stroke-dasharray="1 31 1 10 1 17 1 6 1 4 2 11 1 1"/><path d="M33 127.5h115" stroke-dasharray="2 8 1 71 1 3 1 2 2 1 1 2 1 18 1 1"/><path d="M34 128.5h98" stroke-dasharray="1 7 1 16 1 1 1 21 1 31 1 9 1 5 1 1"/><path d="M34 129.5h100" stroke-dasharray="1 11 1 4 1 9 1 3 1 40 1 8 1 6 2 1 1 1 1 5 1 1"/><path d="M20 130.5h111" stroke-dasharray="1 12 2 83 1 7 1 3 1 1"/><path d="M33 131.5h96" stroke-dasharray="2 11 2 4 1 6 1 1 1 54 1 5 2 2 3 1"/><path d="M33 132.5h107" stroke-dasharray="2 1 1 18 2 2 1 67 1 7 1 3 1 1"/><path d="M32 133.5h108" stroke-dasharray="3 2 1 14 4 83 1 1"/><path d="M33 134.5h106" stroke-dasharray="6 4 1 10 1 75 1 7 1 1"/><path d="M35 135.5h16" stroke-dasharray="3 11 2 1"/><path d="M34 136.5h95" stroke-dasharray="3 1 1 11 1 77 1 1"/><path d="M36 137.5h98" stroke-dasharray="2 1 3 2 2 1 1 85 1 1"/><path d="M34 138.5h9" stroke-dasharray="1 2 2 1 1 1 1 1"/><path d="M38 139.5h92" stroke-dasharray="1 1 3 7 1 78 1 1"/><path d="M39 140.5h88" stroke-dasharray="2 3 1 70 1 10 1 1"/><path d="M39 141.5h83" stroke-dasharray="2 1 1 71 1 6 1 1"/><path d="M43 142.5h71" stroke-dasharray="5 65 1 1"/><path d="M47 143.5h62" stroke-dasharray="5 26 1 11 1 17 1 1"/><path d="M51 144.5h62" stroke-dasharray="2 24 1 9 1 4 1 3 1 14 2 1"/><path d="M28 145.5h72" stroke-dasharray="1 56 1 11 1 1 1 1"/><path d="M71 146.5h32" stroke-dasharray="1 30 1 1"/><path d="M32 148.5h36" stroke-dasharray="2 33 1 1"/><path d="M35 149.5h27" stroke-dasharray="1 25 1 1"/><path d="M51 150.5h1"/><path d="M37 151.5h14" stroke-dasharray="2 10 2 1"/><path d="M44 153.5h3" stroke-dasharray="1 1 1 1"/></g><g stroke="#22a884"><path d="M160 1.5h4"/><path d="M154 2.5h13" stroke-dasharray="6 2 5 1"/><path d="M153 3.5h28" stroke-dasharray="2 8 1 1 5 1 10 1"/><path d="M164 4.5h17" stroke-dasharray="1 1 5 3 7 1"/><path d="M149 5.5h28" stroke-dasharray="1 15 2 1 4 2 1 1 1 1"/><path d="M146 6.5h36" stroke-dasharray="3 13 3 1 3 9 2 1 1 1"/><path d="M144 7.5h33" stroke-dasharray="3 29 1 1"/><path d="M143 8.5h35" stroke-dasharray="2 12 1 5 1 3 1 1 1 4 1 2 1 1"/><path d="M142 9.5h36" stroke-dasharray="1 5 1 7 2 11 1 6 2 1"/><path d="M153 10.5h17" stroke-dasharray="1 1 2 12 1 1"/><path d="M162 11.5h20" stroke-dasharray="1 6 1 9 1 1 1 1"/><path d="M154 12.5h29" stroke-dasharray="1 23 1 2 2 1"/><path d="M156 13.5h27" stroke-dasharray="1 22 1 1 2 1"/><path d="M140 14.5h43" stroke-dasharray="1 1 1 1 1 28 2 6 2 1"/><path d="M135 15.5h49" stroke-dasharray="1 4 3 32 1 2 1 1 2 1 1 1"/><path d="M133 16.5h49" stroke-dasharray="2 9 1 23 1 12 1 1"/><path d="M132 17.5h50" stroke-dasharray="1 2 1 3 1 1 1 31 1 7 1 1"/><path d="M134 18.5h50" stroke-dasharray="3 5 1 38 3 1"/><path d="M130 19.5h28" stroke-dasharray="4 7 1 9 1 5 1 1"/><path d="M129 20.5h52" stroke-dasharray="4 1 1 2 2 1 2 1 1 10 1 25 1 1"/><path d="M129 21.5h34" stroke-dasharray="6 3 4 4 1 5 1 3 1 1 2 2 1 1"/><path d="M129 22.5h38" stroke-dasharray="1 2 3 1 1 1 1 1 2 5 1 3 1 2 1 1 3 7 1 1"/><path d="M129 23.5h31" stroke-dasharray="1 1 11 6 1 1 2 2 2 1 1 1 1 1"/><path d="M129 24.5h32" stroke-dasharray="2 3 3 1 4 8 1 2 2 2 1 1 2 1"/><path d="M128 25.5h28" stroke-dasharray="2 2 1 4 6 8 5 1"/><path d="M128 26.5h35" stroke-dasharray="2 3 1 1 1 2 1 1 1 7 1 3 3 7 1 1"/><path d="M127 27.5h64" stroke-dasharray="3 3 1 1 2 1 4 10 1 11 1 25 1 1"/><path d="M126 28.5h33" stroke-dasharray="1 1 1 3 1 2 5 2 2 2 1 3 2 2 1 3 1 1"/><path d="M124 29.5h67" stroke-dasharray="2 3 1 5 1 1 1 1 1 4 4 1 2 1 2 3 1 6 1 25 1 1"/><path d="M124 30.5h67" stroke-dasharray="1 10 2 2 1 4 1 2 1 7 1 5 1 1 1 26 1 1"/><path d="M121 31.5h45" stroke-dasharray="2 12 2 1 1 3 1 2 3 1 1 8 1 3 1 1 2 1"/><path d="M119 32.5h72" stroke-dasharray="4 11 4 2 1 5 2 4 1 9 1 27 1 1"/><path d="M117 33.5h74" stroke-dasharray="5 15 1 4 1 3 2 3 1 3 2 4 2 2 1 11 1 12 1 1"/><path d="M117 34.5h49" stroke-dasharray="2 1 3 12 3 3 2 3 5 2 1 9 3 1"/><path d="M116 35.5h50" stroke-dasharray="3 1 3 9 1 7 1 4 4 1 2 1 1 6 1 2 1 1 1 1"/><path d="M116 36.5h75" stroke-dasharray="1 1 1 1 2 2 2 19 5 1 2 5 1 20 1 10 1 1"/><path d="M115 37.5h76" stroke-dasharray="2 1 1 2 1 2 1 15 1 5 6 1 2 34 2 1"/><path d="M115 38.5h59" stroke-dasharray="2 1 4 21 10 1 2 6 2 1 1 5 1 1 1 1"/><path d="M114 39.5h77" stroke-dasharray="4 1 2 1 1 21 7 2 2 2 1 4 1 10 1 2 1 13 1 1"/><path d="M114 40.5h68" stroke-dasharray="2 1 1 3 1 17 1 1 1 3 9 11 1 5 1 1 2 3 1 2 1 1"/><path d="M121 41.5h59" stroke-dasharray="1 7 2 16 2 1 2 2 1 2 1 7 1 4 2 2 1 1 1 2 1 1"/><path d="M113 42.5h60" stroke-dasharray="3 9 1 1 2 2 3 3 2 2 4 2 4 1 1 15 1 3 1 1"/><path d="M113 43.5h78" stroke-dasharray="1 2 1 1 1 5 1 3 1 5 6 3 3 1 5 1 1 2 1 24 1 8 1 1"/><path d="M106 44.5h85" stroke-dasharray="1 5 2 2 1 5 1 2 1 4 3 1 6 1 1 1 1 2 6 7 1 16 3 1 3 7 1 1"/><path d="M109 45.5h73" stroke-dasharray="1 1 3 2 1 1 1 10 2 1 6 2 3 3 9 1 2 2 1 1 1 13 4 1 1 1"/><path d="M97 46.5h64" stroke-dasharray="1 9 1 2 1 1 3 4 1 4 1 3 6 1 3 3 1 3 12 3 1 1"/><path d="M88 47.5h91" stroke-dasharray="2 23 3 1 3 9 5 2 1 1 1 2 2 2 1 1 6 1 4 4 1 15 1 1"/><path d="M89 48.5h75" stroke-dasharray="2 16 1 7 1 1 3 9 1 1 7 4 2 4 1 1 2 2 2 1 2 4 1 1"/><path d="M87 49.5h92" stroke-dasharray="1 1 2 25 1 1 1 1 1 5 2 3 2 3 1 1 1 5 3 1 7 2 3 16 1 1 1 1"/><path d="M98 50.5h61" stroke-dasharray="1 1 1 7 1 7 1 2 1 1 1 1 2 6 2 1 1 2 1 1 1 1 3 2 4 2 2 1 1 1 2 1"/><path d="M83 51.5h94" stroke-dasharray="1 19 1 9 1 3 4 2 1 10 2 3 1 5 1 1 6 1 1 2 1 18 1 1"/><path d="M103 52.5h56" stroke-dasharray="1 8 1 1 6 6 1 12 1 1 1 2 2 1 1 1 1 1 3 4 1 1"/><path d="M46 53.5h130" stroke-dasharray="3 45 2 10 1 5 3 1 4 3 1 2 1 16 2 5 1 2 1 21 1 1"/><path d="M46 54.5h130" stroke-dasharray="4 46 1 6 3 6 1 2 3 2 1 1 1 8 1 14 1 2 2 5 1 1 1 3 1 7 1 1 4 1"/><path d="M46 55.5h129" stroke-dasharray="5 45 3 9 1 4 2 1 2 1 1 1 3 25 2 22 2 1"/><path d="M47 56.5h129" stroke-dasharray="3 42 1 5 2 13 1 4 1 5 1 13 5 3 1 2 3 2 1 8 2 1 1 4 1 2 2 1"/><path d="M46 57.5h146" stroke-dasharray="5 50 1 6 1 2 2 1 1 3 1 1 1 2 1 7 14 1 3 2 1 1 1 3 2 1 1 3 2 6 1 18 1 1"/><path d="M46 58.5h155" stroke-dasharray="2 1 2 48 1 1 1 1 2 2 1 4 1 1 2 1 3 8 5 9 7 4 2 3 1 4 3 1 2 3 1 3 1 13 1 1 1 4 2 1 1 1"/><path d="M46 59.5h131" stroke-dasharray="4 44 1 1 1 4 1 3 1 5 1 1 3 1 7 2 3 1 1 13 5 13 1 1 3 6 1 2 1 1"/><path d="M47 60.5h154" stroke-dasharray="2 46 1 4 1 11 4 6 1 2 2 1 1 17 3 3 1 9 1 3 1 2 2 6 1 18 1 3 1 1"/><path d="M51 61.5h150" stroke-dasharray="1 42 2 8 3 3 1 1 4 8 2 1 1 1 1 13 2 1 2 1 1 1 1 5 1 5 1 1 3 2 3 2 1 24 1 1"/><path d="M86 62.5h90" stroke-dasharray="1 9 1 14 1 3 1 2 1 4 2 2 1 15 1 2 1 1 1 1 1 3 1 8 4 1 5 2 1 1"/><path d="M54 63.5h143" stroke-dasharray="1 39 1 21 1 5 2 21 1 2 1 1 1 1 1 8 1 2 1 1 1 1 4 24 1 1"/><path d="M47 64.5h124" stroke-dasharray="1 46 1 19 1 6 2 3 1 9 2 2 2 6 1 1 1 15 1 2 2 1"/><path d="M46 65.5h153" stroke-dasharray="1 38 1 17 5 1 2 6 1 2 2 4 4 1 1 1 1 6 1 5 2 17 1 1 1 2 2 21 1 4 1 1"/><path d="M89 66.5h110" stroke-dasharray="1 2 1 6 3 1 3 1 2 5 1 3 2 2 3 3 1 4 2 10 1 2 2 15 1 1 1 1 1 5 1 15 2 5 1 1"/><path d="M99 67.5h96" stroke-dasharray="3 1 3 1 1 4 7 2 2 2 1 3 1 6 2 1 3 21 1 24 1 5 1 1"/><path d="M88 68.5h106" stroke-dasharray="1 4 1 1 1 5 13 2 1 1 2 1 1 10 2 3 2 5 1 2 1 3 1 39 1 1 1 1"/><path d="M47 69.5h147" stroke-dasharray="1 42 2 8 1 1 1 2 1 1 12 1 1 4 1 4 1 1 1 2 2 6 1 17 1 12 1 13 1 4 1 1"/><path d="M49 70.5h147" stroke-dasharray="2 48 7 1 2 3 3 1 5 6 1 4 2 2 1 20 1 3 1 3 1 1 1 17 1 9 1 1"/><path d="M46 71.5h152" stroke-dasharray="1 5 1 34 1 13 4 1 2 2 7 2 3 1 1 1 1 1 1 2 1 2 1 1 1 5 1 21 1 1 1 1 1 1 1 1 1 5 1 19 1 1"/><path d="M48 72.5h137" stroke-dasharray="1 6 1 43 9 1 5 1 7 1 1 1 1 1 1 2 1 5 1 2 1 1 1 4 1 19 1 1 2 1 1 1 1 10 1 1"/><path d="M99 73.5h98" stroke-dasharray="11 1 2 1 5 3 2 2 1 2 5 2 3 3 1 20 1 6 2 17 1 6 1 1"/><path d="M51 74.5h144" stroke-dasharray="2 2 3 41 2 3 4 1 1 1 1 1 2 1 3 2 1 4 1 3 7 1 1 2 1 3 1 2 1 7 1 4 1 1 5 2 1 1 1 21 1 1"/><path d="M52 75.5h121" stroke-dasharray="1 2 1 1 1 35 1 4 2 2 1 1 5 1 2 1 1 1 3 1 2 4 3 1 2 1 2 2 1 2 2 10 1 10 3 7 1 1"/><path d="M47 76.5h149" stroke-dasharray="2 4 4 1 3 1 4 25 1 5 3 4 1 3 3 3 6 2 1 2 6 3 1 1 2 2 1 13 1 6 1 5 1 1 1 3 1 2 1 16 1 1 1 1"/><path d="M42 77.5h154" stroke-dasharray="5 3 2 1 1 1 1 2 1 1 3 2 3 28 2 1 2 4 1 1 1 3 1 7 1 2 1 4 1 1 1 3 2 1 1 13 1 9 1 6 1 1 1 12 1 1 1 10 1 1"/><path d="M40 78.5h151" stroke-dasharray="3 3 4 1 1 2 2 2 3 6 2 26 2 3 2 2 2 1 2 2 7 2 1 1 1 4 3 4 1 1 1 8 1 6 1 1 1 10 1 1 1 8 1 8 1 4 1 1"/><path d="M39 79.5h148" stroke-dasharray="1 9 4 1 6 1 1 6 2 24 2 3 1 1 2 1 3 6 2 2 2 2 1 1 2 4 4 2 1 21 5 1 4 7 1 8 1 1 2 1"/><path d="M37 80.5h157" stroke-dasharray="1 9 1 3 2 1 4 4 1 6 1 24 1 5 1 1 1 12 1 1 1 1 2 1 1 1 1 3 1 1 1 1 4 14 1 4 17 14 1 5 2 1"/><path d="M36 81.5h156" stroke-dasharray="1 12 7 3 1 8 1 1 1 23 1 7 2 2 1 4 1 2 6 1 2 2 6 3 1 7 1 21 1 1 1 15 2 1 2 2 3 1"/><path d="M20 82.5h171" stroke-dasharray="15 16 1 3 3 2 1 9 2 19 4 6 1 6 1 3 6 1 1 1 2 2 3 2 6 26 1 21 3 2 2 1"/><path d="M29 83.5h153" stroke-dasharray="5 2 1 34 2 17 3 2 1 5 1 12 4 2 3 1 1 1 3 2 3 5 1 41 1 1"/><path d="M72 84.5h95" stroke-dasharray="1 16 3 2 1 7 2 7 1 3 1 1 3 3 3 1 3 1 3 1 1 1 1 20 2 6 1 1"/><path d="M55 85.5h117" stroke-dasharray="1 16 2 14 4 5 1 3 2 1 1 9 1 2 1 4 6 2 1 2 1 1 1 1 1 25 1 1 1 5 1 1"/><path d="M73 86.5h113" stroke-dasharray="2 11 2 2 2 4 1 2 1 1 2 2 1 3 1 3 1 3 1 2 1 3 7 53 2 1"/><path d="M74 87.5h100" stroke-dasharray="2 8 2 3 1 1 3 16 1 3 1 4 1 8 2 5 1 24 1 12 1 1"/><path d="M75 88.5h108" stroke-dasharray="2 6 2 4 1 1 3 3 1 16 1 9 1 10 1 24 1 15 1 4 2 1"/><path d="M76 89.5h84" stroke-dasharray="2 3 2 10 2 1 1 10 3 3 2 2 1 1 1 3 1 3 2 5 1 24 1 1"/><path d="M77 90.5h51" stroke-dasharray="2 1 2 1 1 3 2 4 1 1 2 5 1 12 1 3 1 2 1 4 1 1"/><path d="M53 91.5h120" stroke-dasharray="2 5 1 9 1 5 1 1 3 5 1 1 1 4 1 1 4 1 1 14 1 1 1 7 2 2 1 42 1 1"/><path d="M72 92.5h58" stroke-dasharray="1 2 1 3 1 10 1 6 3 3 1 5 1 4 1 1 1 5 2 1 2 2 1 1"/><path d="M55 93.5h118" stroke-dasharray="1 2 1 2 3 1 1 1 1 2 1 5 1 7 1 9 3 2 6 9 1 2 2 6 3 1 1 1 1 29 1 10 1 1"/><path d="M54 94.5h104" stroke-dasharray="2 3 6 1 1 10 1 17 2 2 1 1 2 4 1 6 2 1 1 1 1 1 1 1 1 1 1 1 1 3 1 25 1 1"/><path d="M52 95.5h81" stroke-dasharray="1 2 2 2 2 1 3 3 3 9 2 16 2 2 2 1 1 7 3 2 1 1 1 4 2 2 1 1 2 1"/><path d="M50 96.5h128" stroke-dasharray="2 9 1 2 1 4 1 9 1 1 3 14 2 3 3 1 2 2 2 3 2 1 1 1 1 4 2 1 3 1 1 22 1 14 1 5 1 1"/><path d="M62 97.5h116" stroke-dasharray="3 4 1 15 1 4 1 6 2 5 4 3 1 3 1 5 3 2 1 1 2 1 1 1 1 43 1 1"/><path d="M44 98.5h123" stroke-dasharray="2 6 1 27 1 25 1 9 3 5 2 4 1 3 1 12 1 1 1 8 1 6 2 1"/><path d="M66 99.5h104" stroke-dasharray="1 6 1 4 2 2 1 7 1 16 2 3 1 2 3 3 3 1 1 5 1 2 1 11 1 22 1 1"/><path d="M51 100.5h111" stroke-dasharray="1 4 3 13 1 9 1 6 1 18 2 7 1 1 8 2 1 4 1 26 1 1"/><path d="M50 101.5h104" stroke-dasharray="1 4 1 2 2 6 1 7 1 10 1 23 2 6 9 1 1 1 1 1 1 1 1 1 1 17 1 1"/><path d="M62 102.5h112" stroke-dasharray="2 2 2 14 1 27 6 1 1 1 5 1 2 1 1 1 1 2 1 28 1 6 1 3 1 1"/><path d="M58 103.5h97" stroke-dasharray="2 3 1 2 1 5 1 2 4 29 1 3 6 2 5 1 4 1 1 2 1 2 1 6 2 8 1 1"/><path d="M46 104.5h127" stroke-dasharray="1 11 3 9 1 3 1 28 1 1 1 7 2 6 1 4 2 1 3 2 1 3 2 2 1 13 1 15 1 1"/><path d="M46 105.5h126" stroke-dasharray="1 12 2 9 1 5 1 22 1 18 1 1 3 3 1 1 3 1 1 13 1 2 1 21 1 1"/><path d="M47 106.5h112" stroke-dasharray="1 4 1 5 1 21 2 2 1 10 1 4 1 20 2 1 1 1 6 18 1 7 1 1"/><path d="M48 107.5h87" stroke-dasharray="1 29 1 1 1 1 3 14 1 17 1 1 1 3 7 4 1 1"/><path d="M49 108.5h85" stroke-dasharray="1 6 1 4 1 3 1 30 1 2 1 12 1 1 1 6 1 2 1 1 5 2 1 1"/><path d="M44 109.5h91" stroke-dasharray="1 9 1 1 1 4 1 3 1 7 1 6 1 17 2 1 1 3 1 17 3 1 1 1 1 2 1 1 1 1"/><path d="M55 110.5h58" stroke-dasharray="2 2 1 52 1 1"/><path d="M56 111.5h73" stroke-dasharray="1 17 1 36 1 8 1 1 1 1 1 3 1 1"/><path d="M58 112.5h76" stroke-dasharray="2 14 1 17 1 18 1 15 1 5 1 1"/><path d="M108 113.5h57" stroke-dasharray="1 4 1 50 1 1"/><path d="M64 114.5h71" stroke-dasharray="1 16 1 1 2 3 1 1 1 27 1 8 2 3 3 1"/><path d="M59 115.5h75" stroke-dasharray="2 2 1 20 2 22 1 8 1 8 1 6 1 1"/><path d="M46 116.5h115" stroke-dasharray="1 1 1 11 1 21 1 13 1 8 1 19 2 7 1 25 1 1"/><path d="M97 117.5h23" stroke-dasharray="1 1 1 11 2 5 2 1"/><path d="M56 118.5h77" stroke-dasharray="1 1 1 22 1 10 1 8 1 3 2 4 2 6 2 11 1 1"/><path d="M55 119.5h102" stroke-dasharray="1 11 1 30 1 5 1 7 1 2 2 6 1 4 1 4 1 6 1 15 1 1"/><path d="M93 120.5h41" stroke-dasharray="1 18 2 13 1 3 1 1 1 1"/><path d="M31 121.5h124" stroke-dasharray="2 33 1 1 1 11 1 1 1 6 1 2 1 7 1 12 1 7 1 13 1 5 1 12 1 1"/><path d="M32 122.5h122" stroke-dasharray="1 48 1 13 1 2 1 1 1 1 1 7 1 2 1 7 1 20 1 10 1 1"/><path d="M81 123.5h72" stroke-dasharray="1 2 1 2 1 1 1 4 1 7 1 2 1 8 1 3 1 1 1 16 1 14 1 1"/><path d="M32 124.5h120" stroke-dasharray="2 37 1 10 2 21 2 7 1 14 1 8 1 12 1 1"/><path d="M33 125.5h118" stroke-dasharray="1 37 1 14 1 9 1 6 2 9 1 14 1 20 1 1"/><path d="M87 126.5h55" stroke-dasharray="1 28 1 24 1 1"/><path d="M33 127.5h115" stroke-dasharray="1 81 1 3 1 2 2 1 1 21 1 1"/><path d="M34 128.5h98" stroke-dasharray="1 7 1 18 1 53 1 9 1 5 1 1"/><path d="M46 129.5h88" stroke-dasharray="1 4 1 9 1 3 1 49 1 7 1 1 1 7 1 1"/><path d="M34 130.5h97" stroke-dasharray="1 91 1 3 1 1"/><path d="M33 131.5h96" stroke-dasharray="2 92 2 1"/><path d="M33 132.5h107" stroke-dasharray="2 1 1 22 1 79 1 1"/><path d="M33 133.5h107" stroke-dasharray="2 2 1 14 4 83 1 1"/><path d="M33 134.5h106" stroke-dasharray="2 1 3 4 1 10 1 75 1 7 1 1"/><path d="M35 135.5h16" stroke-dasharray="2 12 2 1"/><path d="M34 136.5h95" stroke-dasharray="2 14 1 77 1 1"/><path d="M36 137.5h6" stroke-dasharray="2 1 3 1"/><path d="M37 138.5h4" stroke-dasharray="2 1 1 1"/><path d="M40 139.5h90" stroke-dasharray="3 86 1 1"/><path d="M40 140.5h87" stroke-dasharray="1 74 1 10 1 1"/><path d="M39 141.5h83" stroke-dasharray="2 73 1 6 1 1"/><path d="M44 142.5h70" stroke-dasharray="4 65 1 1"/><path d="M47 143.5h62" stroke-dasharray="5 26 1 29 1 1"/><path d="M52 144.5h61" stroke-dasharray="1 39 1 3 1 14 2 1"/><path d="M28 145.5h72" stroke-dasharray="1 68 1 1 1 1"/><path d="M71 146.5h32" stroke-dasharray="1 30 1 1"/><path d="M32 148.5h36" stroke-dasharray="2 33 1 1"/><path d="M35 149.5h27" stroke-dasharray="1 25 1 1"/><path d="M51 150.5h1"/><path d="M37 151.5h13" stroke-dasharray="2 10 1 1"/><path d="M44 153.5h3" stroke-dasharray="1 1 1 1"/></g><g stroke="#5abc6d"><path d="M160 1.5h4"/><path d="M154 2.5h13" stroke-dasharray="6 2 5 1"/><path d="M153 3.5h28" stroke-dasharray="2 8 1 1 5 1 10 1"/><path d="M166 4.5h15" stroke-dasharray="1 2 2 4 6 1"/><path d="M149 5.5h28" stroke-dasharray="1 16 1 1 4 2 1 1 1 1"/><path d="M146 6.5h34" stroke-dasharray="3 13 1 1 1 1 3 9 2 1"/><path d="M144 7.5h3"/><path d="M143 8.5h35" stroke-dasharray="2 18 1 3 1 1 1 7 1 1"/><path d="M142 9.5h36" stroke-dasharray="1 13 1 20 1 1"/><path d="M153 10.5h4" stroke-dasharray="1 1 2 1"/><path d="M181 11.5h1"/><path d="M182 12.5h1"/><path d="M156 13.5h26" stroke-dasharray="1 24 1 1"/><path d="M173 14.5h10" stroke-dasharray="2 6 2 1"/><path d="M135 15.5h49" stroke-dasharray="1 6 1 32 1 4 1 2 1 1"/><path d="M133 16.5h49" stroke-dasharray="2 9 1 23 1 12 1 1"/><path d="M132 17.5h1"/><path d="M134 18.5h49" stroke-dasharray="2 6 1 39 1 1"/><path d="M130 19.5h22" stroke-dasharray="4 7 1 9 1 1"/><path d="M129 20.5h52" stroke-dasharray="3 6 1 1 1 39 1 1"/><path d="M129 21.5h34" stroke-dasharray="1 1 4 5 1 11 1 3 1 1 2 2 1 1"/><path d="M129 22.5h38" stroke-dasharray="1 2 3 3 1 1 2 5 1 3 1 2 1 1 2 8 1 1"/><path d="M129 23.5h31" stroke-dasharray="1 1 3 1 1 1 2 1 1 9 2 2 1 4 1 1"/><path d="M129 24.5h29" stroke-dasharray="2 4 2 1 2 13 2 2 1 1"/><path d="M128 25.5h28" stroke-dasharray="2 7 4 1 1 9 1 1 2 1"/><path d="M128 26.5h27" stroke-dasharray="1 4 1 1 1 2 1 1 1 7 1 4 2 1"/><path d="M127 27.5h64" stroke-dasharray="3 3 1 1 1 2 3 23 1 25 1 1"/><path d="M126 28.5h29" stroke-dasharray="1 5 1 4 3 3 1 6 2 2 1 1"/><path d="M124 29.5h67" stroke-dasharray="2 9 1 1 1 1 1 5 1 1 1 2 1 1 2 36 1 1"/><path d="M136 30.5h55" stroke-dasharray="1 10 1 7 1 5 1 1 1 26 1 1"/><path d="M121 31.5h42" stroke-dasharray="1 14 1 1 1 6 2 2 1 8 1 3 1 1"/><path d="M119 32.5h44" stroke-dasharray="3 12 1 1 2 2 1 5 2 14 1 1"/><path d="M117 33.5h74" stroke-dasharray="1 2 2 15 1 8 2 3 1 3 1 21 1 12 1 1"/><path d="M117 34.5h49" stroke-dasharray="2 1 3 13 2 4 1 3 1 1 2 3 1 9 1 1 1 1"/><path d="M116 35.5h50" stroke-dasharray="2 3 2 22 4 2 1 13 1 1"/><path d="M116 36.5h75" stroke-dasharray="1 7 1 20 5 1 1 6 1 20 1 10 1 1"/><path d="M115 37.5h76" stroke-dasharray="2 1 1 2 1 18 1 5 6 2 1 34 2 1"/><path d="M115 38.5h49" stroke-dasharray="2 1 4 21 4 1 5 1 1 7 2 1"/><path d="M114 39.5h77" stroke-dasharray="2 3 1 24 5 1 1 2 1 36 1 1"/><path d="M114 40.5h65" stroke-dasharray="2 5 1 19 1 4 2 2 3 21 1 3 1 1"/><path d="M129 41.5h51" stroke-dasharray="2 16 2 2 1 2 1 2 1 12 2 4 1 2 1 1"/><path d="M113 42.5h56" stroke-dasharray="1 1 1 9 1 1 2 2 2 4 2 3 3 3 3 1 1 15 1 1"/><path d="M113 43.5h78" stroke-dasharray="1 2 1 7 1 3 1 6 5 3 3 2 4 29 1 8 1 1"/><path d="M112 44.5h79" stroke-dasharray="2 2 1 5 1 7 1 1 1 3 3 2 1 1 1 3 5 24 1 3 1 9 1 1"/><path d="M109 45.5h71" stroke-dasharray="1 1 3 15 1 2 6 2 1 5 1 1 1 1 5 5 1 16 3 1"/><path d="M97 46.5h64" stroke-dasharray="1 9 1 2 1 1 1 1 1 13 5 2 3 3 1 3 6 1 5 3 1 1"/><path d="M88 47.5h91" stroke-dasharray="2 23 3 1 3 9 5 2 1 1 1 2 2 4 6 1 2 1 1 4 1 15 1 1"/><path d="M89 48.5h75" stroke-dasharray="2 27 2 9 1 3 2 15 2 2 2 1 2 4 1 1"/><path d="M89 49.5h71" stroke-dasharray="2 25 1 1 1 1 1 5 1 5 1 3 1 7 3 1 7 2 3 1"/><path d="M98 50.5h61" stroke-dasharray="1 20 1 1 1 2 1 9 1 4 1 2 2 3 3 2 2 4 1 1"/><path d="M83 51.5h75" stroke-dasharray="1 19 1 9 1 3 1 1 1 3 1 10 2 3 1 5 1 1 2 1 3 1 1 2 1 1"/><path d="M103 52.5h50" stroke-dasharray="1 8 1 1 6 19 1 4 2 1 1 1 1 1 2 1"/><path d="M46 53.5h108" stroke-dasharray="2 46 1 18 2 1 4 3 1 2 1 17 1 5 1 2 1 1"/><path d="M47 54.5h128" stroke-dasharray="3 53 1 8 1 2 3 2 1 10 1 17 2 5 1 1 1 13 3 1"/><path d="M47 55.5h128" stroke-dasharray="4 45 3 9 1 4 2 1 1 5 1 26 2 22 2 1"/><path d="M47 56.5h118" stroke-dasharray="2 43 1 5 1 14 1 10 1 13 5 6 2 3 1 8 2 1"/><path d="M46 57.5h146" stroke-dasharray="4 51 1 6 1 3 1 1 1 3 1 1 1 2 1 7 9 1 4 1 3 2 1 1 1 4 1 6 1 25 1 1"/><path d="M46 58.5h155" stroke-dasharray="2 1 2 53 1 2 1 4 1 1 1 2 1 1 1 8 5 9 7 4 2 3 1 4 3 1 2 3 1 3 1 13 1 1 1 4 2 1 1 1"/><path d="M46 59.5h131" stroke-dasharray="2 1 1 46 1 4 1 3 1 7 3 1 3 1 2 3 3 1 1 13 5 13 1 1 2 7 1 2 1 1"/><path d="M47 60.5h154" stroke-dasharray="1 47 1 17 3 6 1 2 2 19 3 13 1 3 1 2 1 30 1 1"/><path d="M51 61.5h125" stroke-dasharray="1 43 1 8 1 5 1 2 3 8 2 3 1 14 1 1 2 9 1 7 1 1 1 2 3 2 1 1"/><path d="M86 62.5h86" stroke-dasharray="1 9 1 18 1 2 1 4 2 2 1 18 1 1 1 5 1 9 1 1 1 1 4 1"/><path d="M54 63.5h143" stroke-dasharray="1 67 2 24 1 3 1 13 1 1 3 25 1 1"/><path d="M94 64.5h77" stroke-dasharray="1 19 1 6 2 13 1 4 1 8 1 15 1 3 1 1"/><path d="M46 65.5h153" stroke-dasharray="1 38 1 17 3 1 1 1 1 7 1 2 2 4 3 2 1 1 1 6 1 5 2 19 1 2 2 26 1 1"/><path d="M89 66.5h110" stroke-dasharray="1 2 1 7 2 1 3 1 1 10 2 3 1 9 1 14 1 18 1 23 1 6 1 1"/><path d="M99 67.5h96" stroke-dasharray="3 1 1 1 1 6 7 2 2 6 1 6 2 1 1 1 1 52 1 1"/><path d="M95 68.5h99" stroke-dasharray="1 5 3 3 7 2 1 1 2 13 1 3 1 55 1 1"/><path d="M47 69.5h97" stroke-dasharray="1 42 1 9 1 1 1 2 1 1 10 1 1 6 1 4 1 1 1 10 1 1"/><path d="M99 70.5h97" stroke-dasharray="4 1 2 1 2 3 3 1 2 1 1 7 1 4 2 23 1 7 1 1 1 17 1 9 1 1"/><path d="M46 71.5h152" stroke-dasharray="1 54 4 1 2 2 3 1 3 3 2 3 1 7 1 1 1 27 1 1 1 1 1 1 1 7 1 19 1 1"/><path d="M48 72.5h137" stroke-dasharray="1 50 1 1 7 2 1 4 7 1 1 1 1 1 1 2 1 10 1 24 1 17 1 1"/><path d="M99 73.5h98" stroke-dasharray="10 3 1 2 4 3 2 6 3 3 3 3 1 20 1 6 1 18 1 6 1 1"/><path d="M52 74.5h143" stroke-dasharray="1 4 1 41 2 3 4 1 1 1 1 2 1 1 1 1 1 2 1 4 1 4 1 1 1 2 1 1 1 2 1 3 1 2 1 7 1 6 1 1 1 6 1 21 1 1"/><path d="M55 75.5h110" stroke-dasharray="1 1 1 35 1 4 2 4 4 3 1 1 1 1 3 1 2 4 3 1 1 2 2 5 2 10 1 11 2 1"/><path d="M47 76.5h149" stroke-dasharray="2 6 2 1 3 1 4 25 1 5 3 8 3 3 6 5 1 1 4 3 1 2 1 2 1 13 1 6 1 11 1 2 1 16 1 1 1 1"/><path d="M42 77.5h154" stroke-dasharray="5 3 2 1 1 1 1 2 1 1 3 2 3 28 2 1 2 4 1 1 1 14 1 4 1 5 2 1 1 32 1 12 1 1 1 10 1 1"/><path d="M40 78.5h146" stroke-dasharray="3 3 4 4 2 2 3 6 2 26 2 3 2 2 2 1 2 3 1 2 3 2 1 1 1 5 2 4 1 1 1 8 1 6 1 1 1 10 1 1 1 17 1 1"/><path d="M39 79.5h148" stroke-dasharray="1 9 4 1 5 2 1 6 2 24 2 5 2 1 3 6 2 2 1 5 2 4 4 2 1 22 4 1 1 1 2 7 1 10 2 1"/><path d="M37 80.5h157" stroke-dasharray="1 13 2 1 4 4 1 6 1 24 1 7 1 14 1 1 2 1 1 1 1 5 1 1 2 16 1 4 3 1 1 1 6 1 1 2 1 20 2 1"/><path d="M36 81.5h156" stroke-dasharray="1 12 7 3 1 8 1 1 1 23 1 7 2 2 1 4 1 2 6 2 1 2 6 3 1 47 2 1 1 4 2 1"/><path d="M20 82.5h171" stroke-dasharray="15 20 1 4 1 9 2 20 3 6 1 6 1 3 2 1 3 1 1 6 2 2 6 48 1 4 2 1"/><path d="M29 83.5h111" stroke-dasharray="5 37 2 17 3 2 1 5 1 12 3 3 1 3 1 1 1 1 1 3 2 5 1 1"/><path d="M72 84.5h88" stroke-dasharray="1 16 3 2 1 20 1 1 3 3 3 1 3 1 2 25 2 1"/><path d="M55 85.5h117" stroke-dasharray="1 16 2 14 3 10 2 1 1 12 1 5 5 2 1 2 1 3 1 33 1 1"/><path d="M73 86.5h113" stroke-dasharray="2 11 2 2 2 4 1 2 1 1 1 3 1 11 1 2 1 3 5 1 1 53 2 1"/><path d="M74 87.5h100" stroke-dasharray="2 8 2 5 2 21 1 4 1 8 2 5 1 37 1 1"/><path d="M75 88.5h108" stroke-dasharray="2 6 2 7 2 20 1 9 1 10 1 24 1 15 1 4 2 1"/><path d="M76 89.5h59" stroke-dasharray="2 3 2 10 2 13 1 8 1 1 1 3 1 3 1 6 1 1"/><path d="M77 90.5h51" stroke-dasharray="2 1 2 5 2 6 2 5 1 12 1 3 1 2 1 4 1 1"/><path d="M53 91.5h120" stroke-dasharray="2 15 1 5 1 1 3 12 1 1 4 1 1 24 1 46 1 1"/><path d="M72 92.5h58" stroke-dasharray="1 2 1 3 1 10 1 7 2 3 1 12 1 6 1 2 1 2 1 1"/><path d="M63 93.5h110" stroke-dasharray="1 1 1 10 1 7 1 10 1 3 3 2 1 12 2 6 3 1 1 1 1 40 1 1"/><path d="M55 94.5h103" stroke-dasharray="1 3 1 1 1 1 1 2 1 10 1 18 1 2 1 1 2 4 1 6 2 3 1 1 1 1 1 1 1 1 1 3 1 25 1 1"/><path d="M56 95.5h77" stroke-dasharray="1 2 2 2 2 3 1 29 2 2 2 1 1 7 1 1 1 2 1 1 1 8 1 2 1 1"/><path d="M61 96.5h111" stroke-dasharray="1 2 1 33 2 3 2 2 1 4 1 3 2 1 1 1 1 4 2 2 1 2 1 22 1 14 1 1"/><path d="M63 97.5h71" stroke-dasharray="2 20 1 11 1 6 4 3 1 3 1 5 3 2 1 1 2 1 1 1 1 1"/><path d="M44 98.5h122" stroke-dasharray="1 7 1 53 1 10 1 6 2 4 1 3 1 23 1 6 1 1"/><path d="M66 99.5h81" stroke-dasharray="1 12 1 2 1 7 1 16 2 3 1 2 3 4 2 7 1 14 1 1"/><path d="M57 100.5h78" stroke-dasharray="1 14 1 9 1 25 2 7 1 1 8 2 1 4 1 1"/><path d="M55 101.5h99" stroke-dasharray="1 3 1 6 1 42 2 6 2 1 3 1 2 1 1 1 1 1 1 21 1 1"/><path d="M62 102.5h112" stroke-dasharray="2 2 2 14 1 27 6 1 1 1 5 1 1 2 1 1 1 2 1 28 1 6 1 3 1 1"/><path d="M59 103.5h86" stroke-dasharray="1 3 1 2 1 8 2 1 1 29 1 3 6 2 3 3 4 1 1 2 1 2 1 6 1 1"/><path d="M46 104.5h127" stroke-dasharray="1 11 2 10 1 32 1 1 1 7 2 6 1 4 2 1 3 7 1 2 1 29 1 1"/><path d="M46 105.5h126" stroke-dasharray="1 23 1 5 1 43 1 5 1 1 3 1 1 38 1 1"/><path d="M47 106.5h112" stroke-dasharray="1 10 1 36 1 25 2 3 6 26 1 1"/><path d="M48 107.5h87" stroke-dasharray="1 29 1 1 1 1 3 14 1 17 1 1 1 4 3 1 2 4 1 1"/><path d="M61 108.5h73" stroke-dasharray="1 3 1 30 1 2 1 12 1 1 1 9 1 1 1 1 3 2 1 1"/><path d="M44 109.5h91" stroke-dasharray="1 11 1 41 2 5 1 17 3 8 1 1"/><path d="M55 110.5h58" stroke-dasharray="2 55 1 1"/><path d="M74 111.5h55" stroke-dasharray="1 36 1 8 1 3 1 3 1 1"/><path d="M58 112.5h70" stroke-dasharray="1 52 1 15 1 1"/><path d="M113 113.5h1"/><path d="M83 114.5h51" stroke-dasharray="1 6 1 27 1 8 2 3 2 1"/><path d="M63 115.5h71" stroke-dasharray="1 44 1 24 1 1"/><path d="M48 116.5h113" stroke-dasharray="1 11 1 35 1 28 2 33 1 1"/><path d="M97 117.5h22" stroke-dasharray="1 13 1 6 1 1"/><path d="M58 118.5h55" stroke-dasharray="1 42 1 3 1 5 2 1"/><path d="M55 119.5h102" stroke-dasharray="1 11 1 36 1 18 1 9 1 22 1 1"/><path d="M112 120.5h20" stroke-dasharray="2 17 1 1"/><path d="M31 121.5h124" stroke-dasharray="2 33 1 1 1 11 1 1 1 30 1 7 1 32 1 1"/><path d="M32 122.5h122" stroke-dasharray="1 65 1 1 1 12 1 39 1 1"/><path d="M81 123.5h72" stroke-dasharray="1 2 1 2 1 6 1 7 1 11 1 22 1 14 1 1"/><path d="M33 124.5h119" stroke-dasharray="1 49 1 21 1 8 1 36 1 1"/><path d="M86 125.5h65" stroke-dasharray="1 27 1 14 1 20 1 1"/><path d="M33 127.5h91" stroke-dasharray="1 81 1 3 1 3 1 1"/><path d="M34 128.5h98" stroke-dasharray="1 96 1 1"/><path d="M61 129.5h65" stroke-dasharray="1 53 1 9 1 1"/><path d="M126 130.5h5" stroke-dasharray="1 3 1 1"/><path d="M33 131.5h96" stroke-dasharray="2 92 2 1"/><path d="M33 132.5h27" stroke-dasharray="2 24 1 1"/><path d="M33 133.5h23" stroke-dasharray="1 20 2 1"/><path d="M34 134.5h105" stroke-dasharray="1 2 2 91 1 7 1 1"/><path d="M35 135.5h2"/><path d="M35 136.5h1"/><path d="M36 137.5h6" stroke-dasharray="2 2 2 1"/><path d="M37 138.5h4" stroke-dasharray="1 2 1 1"/><path d="M40 139.5h90" stroke-dasharray="1 88 1 1"/><path d="M40 140.5h87" stroke-dasharray="1 74 1 10 1 1"/><path d="M40 141.5h82" stroke-dasharray="1 73 1 6 1 1"/><path d="M45 142.5h69" stroke-dasharray="3 65 1 1"/><path d="M47 143.5h62" stroke-dasharray="5 26 1 29 1 1"/><path d="M52 144.5h1"/><path d="M28 145.5h1"/><path d="M32 148.5h2"/><path d="M35 149.5h27" stroke-dasharray="1 25 1 1"/><path d="M37 151.5h1"/><path d="M44 153.5h3" stroke-dasharray="1 1 1 1"/></g><g stroke="#7ad151"><path d="M161 1.5h3" stroke-dasharray="1 1 1 1"/><path d="M155 2.5h12" stroke-dasharray="5 2 5 1"/><path d="M153 3.5h28" stroke-dasharray="2 11 4 1 7 1 2 1"/><path d="M170 4.5h11" stroke-dasharray="1 4 4 1 1 1"/><path d="M149 5.5h23" stroke-dasharray="1 21 1 1"/><path d="M147 6.5h32" stroke-dasharray="2 13 1 1 1 1 3 9 1 1"/><path d="M144 7.5h3"/><path d="M143 8.5h35" stroke-dasharray="2 32 1 1"/><path d="M142 9.5h1"/><path d="M181 11.5h1"/><path d="M182 12.5h1"/><path d="M156 13.5h1"/><path d="M173 14.5h2"/><path d="M135 15.5h41" stroke-dasharray="1 6 1 32 1 1"/><path d="M133 16.5h2"/><path d="M132 17.5h1"/><path d="M142 18.5h41" stroke-dasharray="1 39 1 1"/><path d="M130 19.5h4"/><path d="M129 20.5h52" stroke-dasharray="2 49 1 1"/><path d="M129 21.5h34" stroke-dasharray="1 1 1 1 2 5 1 15 1 2 1 2 1 1"/><path d="M133 22.5h34" stroke-dasharray="2 12 1 8 2 8 1 1"/><path d="M129 23.5h26" stroke-dasharray="1 1 1 1 1 3 2 11 2 2 1 1"/><path d="M129 24.5h26" stroke-dasharray="1 5 1 3 1 13 2 1"/><path d="M128 25.5h28" stroke-dasharray="2 7 2 3 1 12 1 1"/><path d="M128 26.5h27" stroke-dasharray="1 9 1 1 1 12 2 1"/><path d="M127 27.5h64" stroke-dasharray="3 3 1 4 1 51 1 1"/><path d="M126 28.5h29" stroke-dasharray="1 10 1 5 1 10 1 1"/><path d="M124 29.5h67" stroke-dasharray="2 19 1 1 1 2 1 39 1 1"/><path d="M136 30.5h55" stroke-dasharray="1 10 1 15 1 26 1 1"/><path d="M121 31.5h38" stroke-dasharray="1 14 1 1 1 6 1 12 1 1"/><path d="M121 32.5h27" stroke-dasharray="1 12 1 1 2 8 2 1"/><path d="M117 33.5h74" stroke-dasharray="1 2 2 33 1 34 1 1"/><path d="M117 34.5h37" stroke-dasharray="1 2 2 14 2 8 1 1 1 4 1 1"/><path d="M116 35.5h50" stroke-dasharray="2 3 1 23 4 2 1 13 1 1"/><path d="M116 36.5h75" stroke-dasharray="1 29 2 3 1 27 1 10 1 1"/><path d="M115 37.5h76" stroke-dasharray="2 1 1 27 6 37 2 1"/><path d="M115 38.5h37" stroke-dasharray="2 1 3 23 3 1 2 1 1 1"/><path d="M114 39.5h77" stroke-dasharray="2 3 1 24 2 1 2 1 1 2 1 36 1 1"/><path d="M115 40.5h60" stroke-dasharray="1 25 1 4 2 3 2 21 1 1"/><path d="M130 41.5h50" stroke-dasharray="1 16 2 2 1 5 1 12 1 5 1 2 1 1"/><path d="M113 42.5h40" stroke-dasharray="1 11 1 6 1 4 2 3 3 3 3 1 1 1"/><path d="M116 43.5h35" stroke-dasharray="1 7 1 12 2 5 2 3 2 1"/><path d="M113 44.5h78" stroke-dasharray="1 16 1 5 2 3 1 1 1 4 4 24 1 13 1 1"/><path d="M111 45.5h67" stroke-dasharray="3 15 1 2 4 4 1 7 1 1 2 1 1 6 1 16 1 1"/><path d="M107 46.5h54" stroke-dasharray="1 4 1 17 3 2 2 9 4 2 2 1 1 4 1 1"/><path d="M88 47.5h70" stroke-dasharray="2 23 1 1 1 1 2 11 4 2 1 1 1 3 1 4 6 4 1 1"/><path d="M89 48.5h67" stroke-dasharray="2 27 2 13 1 16 2 3 1 1"/><path d="M89 49.5h65" stroke-dasharray="2 25 1 1 1 7 1 9 1 8 2 1 1 1 4 1"/><path d="M119 50.5h40" stroke-dasharray="1 4 1 9 1 7 2 3 3 2 2 4 1 1"/><path d="M83 51.5h75" stroke-dasharray="1 19 1 9 1 3 1 1 1 14 2 3 1 7 2 1 3 1 1 2 1 1"/><path d="M103 52.5h49" stroke-dasharray="1 12 1 1 2 27 1 1 1 1 1 1"/><path d="M46 53.5h99" stroke-dasharray="1 66 1 2 4 3 1 2 1 17 1 1"/><path d="M47 54.5h126" stroke-dasharray="1 1 1 62 1 2 1 4 1 10 1 24 1 15 1 1"/><path d="M47 55.5h127" stroke-dasharray="2 47 3 14 2 7 1 27 1 22 1 1"/><path d="M47 56.5h117" stroke-dasharray="2 64 1 10 1 13 5 20 1 1"/><path d="M46 57.5h146" stroke-dasharray="2 53 1 6 1 3 1 1 1 3 1 12 9 1 4 1 2 3 1 1 1 4 1 6 1 25 1 1"/><path d="M112 58.5h86" stroke-dasharray="1 1 1 2 1 1 1 8 5 10 6 9 1 4 3 10 1 20 1 1"/><path d="M46 59.5h131" stroke-dasharray="2 1 1 55 1 7 3 1 3 1 1 4 3 16 4 13 1 1 1 11 1 1"/><path d="M47 60.5h154" stroke-dasharray="1 47 1 17 3 6 1 2 2 19 3 13 1 6 1 30 1 1"/><path d="M51 61.5h121" stroke-dasharray="1 52 1 10 1 8 2 3 1 17 1 17 1 1 1 2 2 1"/><path d="M96 62.5h74" stroke-dasharray="1 18 1 7 2 21 1 19 1 2 1 1"/><path d="M54 63.5h117" stroke-dasharray="1 67 2 24 1 3 1 16 2 1"/><path d="M94 64.5h57" stroke-dasharray="1 26 2 13 1 13 1 1"/><path d="M46 65.5h153" stroke-dasharray="1 56 3 11 1 2 2 5 2 11 1 6 1 22 1 27 1 1"/><path d="M92 66.5h107" stroke-dasharray="1 7 2 1 1 1 1 12 2 3 1 9 1 14 1 42 1 6 1 1"/><path d="M99 67.5h96" stroke-dasharray="2 2 1 1 1 6 7 3 1 71 1 1"/><path d="M95 68.5h99" stroke-dasharray="1 5 3 3 7 2 1 1 1 14 1 3 1 55 1 1"/><path d="M102 69.5h31" stroke-dasharray="1 4 7 1 2 1 1 6 1 6 1 1"/><path d="M99 70.5h97" stroke-dasharray="4 1 2 1 2 3 1 3 1 15 2 51 1 9 1 1"/><path d="M46 71.5h152" stroke-dasharray="1 54 4 1 2 2 3 1 1 5 1 12 1 29 1 1 1 31 1 1"/><path d="M48 72.5h119" stroke-dasharray="1 50 1 1 7 7 5 7 1 38 1 1"/><path d="M99 73.5h98" stroke-dasharray="9 4 1 2 4 12 2 4 1 58 1 1"/><path d="M99 74.5h74" stroke-dasharray="2 3 4 1 1 6 1 1 1 2 1 4 1 4 1 1 1 7 1 3 1 10 1 8 1 6 1 1"/><path d="M55 75.5h110" stroke-dasharray="1 42 2 5 3 5 1 1 2 2 1 6 1 2 1 2 1 6 2 23 1 1"/><path d="M47 76.5h149" stroke-dasharray="2 7 1 1 3 1 4 31 3 8 3 3 6 5 1 1 4 3 1 2 1 16 1 6 1 33 1 1"/><path d="M42 77.5h128" stroke-dasharray="5 4 1 1 1 1 1 2 1 1 3 2 3 28 2 1 2 4 1 1 1 14 1 4 1 6 1 34 1 1"/><path d="M40 78.5h128" stroke-dasharray="3 3 4 4 2 2 3 6 2 26 2 3 2 2 2 6 1 3 2 4 1 6 1 4 1 1 1 30 1 1"/><path d="M39 79.5h136" stroke-dasharray="1 9 3 2 5 2 1 6 2 24 2 5 2 1 2 8 1 2 1 5 2 6 2 27 2 1 1 10 1 1"/><path d="M37 80.5h157" stroke-dasharray="1 13 2 1 4 11 1 24 1 7 1 14 1 1 1 2 1 1 1 5 1 2 1 16 1 5 1 5 5 4 1 20 2 1"/><path d="M36 81.5h156" stroke-dasharray="1 14 5 3 1 10 1 23 1 7 2 2 1 4 1 3 3 1 1 2 1 2 2 1 3 3 1 50 1 5 1 1"/><path d="M20 82.5h171" stroke-dasharray="15 20 1 14 2 20 3 18 1 1 2 2 1 11 4 54 2 1"/><path d="M29 83.5h105" stroke-dasharray="5 37 2 18 2 2 1 18 1 1 1 7 1 7 2 1"/><path d="M72 84.5h88" stroke-dasharray="1 17 2 2 1 20 1 1 2 5 2 2 1 29 2 1"/><path d="M55 85.5h83" stroke-dasharray="1 16 2 14 3 26 1 6 2 4 1 6 1 1"/><path d="M73 86.5h113" stroke-dasharray="2 11 2 2 2 4 1 20 1 6 1 59 2 1"/><path d="M74 87.5h62" stroke-dasharray="2 8 2 5 2 21 1 4 1 8 2 5 1 1"/><path d="M75 88.5h108" stroke-dasharray="2 6 2 7 2 41 1 24 1 20 2 1"/><path d="M76 89.5h59" stroke-dasharray="2 3 2 10 2 13 1 10 1 14 1 1"/><path d="M77 90.5h51" stroke-dasharray="2 1 2 13 2 5 1 16 1 2 1 4 1 1"/><path d="M53 91.5h73" stroke-dasharray="2 23 3 15 3 26 1 1"/><path d="M72 92.5h55" stroke-dasharray="1 6 1 18 2 26 1 1"/><path d="M63 93.5h69" stroke-dasharray="1 31 1 3 3 2 1 12 1 7 1 1 1 1 1 1 1 1"/><path d="M59 94.5h99" stroke-dasharray="1 1 1 1 1 32 1 2 1 1 2 4 1 11 1 1 1 1 1 1 1 1 1 3 1 25 1 1"/><path d="M59 95.5h74" stroke-dasharray="1 3 2 3 1 33 2 1 1 9 1 4 1 11 1 1"/><path d="M98 96.5h59" stroke-dasharray="1 4 2 2 1 4 1 3 1 4 1 4 2 2 1 2 1 22 1 1"/><path d="M63 97.5h71" stroke-dasharray="1 21 1 18 2 1 1 3 1 9 3 4 2 1 1 1 1 1"/><path d="M106 98.5h29" stroke-dasharray="1 10 1 6 1 5 1 3 1 1"/><path d="M79 99.5h68" stroke-dasharray="1 27 2 3 1 2 3 4 2 7 1 14 1 1"/><path d="M57 100.5h78" stroke-dasharray="1 50 2 7 1 1 8 2 1 4 1 1"/><path d="M59 101.5h95" stroke-dasharray="1 49 2 6 1 2 3 2 1 1 1 1 1 23 1 1"/><path d="M110 102.5h64" stroke-dasharray="3 1 2 1 1 1 5 1 1 2 1 1 1 2 1 28 1 10 1 1"/><path d="M59 103.5h79" stroke-dasharray="1 3 1 11 1 32 1 3 6 2 2 4 2 6 1 2 1 1"/><path d="M58 104.5h115" stroke-dasharray="2 10 1 34 1 7 2 6 1 4 2 2 1 8 1 2 1 29 1 1"/><path d="M46 105.5h126" stroke-dasharray="1 23 1 49 1 9 1 40 1 1"/><path d="M58 106.5h74" stroke-dasharray="1 62 2 4 5 1"/><path d="M48 107.5h82" stroke-dasharray="1 29 1 20 1 24 3 1 2 1"/><path d="M96 108.5h38" stroke-dasharray="1 15 1 13 1 2 1 3 1 1"/><path d="M56 109.5h79" stroke-dasharray="1 41 2 25 1 8 1 1"/><path d="M55 110.5h58" stroke-dasharray="2 55 1 1"/><path d="M120 111.5h5" stroke-dasharray="1 3 1 1"/><path d="M113 113.5h1"/><path d="M83 114.5h51" stroke-dasharray="1 6 1 36 1 5 1 1"/><path d="M108 115.5h1"/><path d="M126 116.5h35" stroke-dasharray="1 33 1 1"/><path d="M118 117.5h1"/><path d="M105 118.5h1"/><path d="M113 120.5h1"/><path d="M31 121.5h124" stroke-dasharray="2 33 1 46 1 40 1 1"/><path d="M32 122.5h122" stroke-dasharray="1 65 1 1 1 12 1 39 1 1"/><path d="M87 123.5h66" stroke-dasharray="1 26 1 22 1 14 1 1"/><path d="M33 124.5h73" stroke-dasharray="1 71 1 1"/><path d="M150 125.5h1"/><path d="M115 127.5h9" stroke-dasharray="1 7 1 1"/><path d="M34 128.5h1"/><path d="M125 129.5h1"/><path d="M128 131.5h1"/><path d="M59 132.5h1"/><path d="M33 133.5h22" stroke-dasharray="1 20 1 1"/><path d="M34 134.5h105" stroke-dasharray="1 103 1 1"/><path d="M35 135.5h2"/><path d="M35 136.5h1"/><path d="M36 137.5h2"/><path d="M37 138.5h4" stroke-dasharray="1 2 1 1"/><path d="M115 140.5h12" stroke-dasharray="1 10 1 1"/><path d="M40 141.5h75" stroke-dasharray="1 73 1 1"/><path d="M45 142.5h69" stroke-dasharray="1 1 1 65 1 1"/><path d="M49 143.5h30" stroke-dasharray="1 1 1 26 1 1"/><path d="M52 144.5h1"/><path d="M33 148.5h1"/><path d="M37 151.5h1"/><path d="M44 153.5h3" stroke-dasharray="1 1 1 1"/></g><g stroke="#c0dd40"><path d="M161 1.5h3" stroke-dasharray="1 1 1 1"/><path d="M155 2.5h12" stroke-dasharray="2 1 2 5 2 1"/><path d="M154 3.5h27" stroke-dasharray="1 11 3 2 7 1 2 1"/><path d="M175 4.5h3"/><path d="M149 5.5h1"/><path d="M147 6.5h32" stroke-dasharray="2 29 1 1"/><path d="M144 7.5h3"/><path d="M181 11.5h1"/><path d="M173 14.5h2"/><path d="M175 15.5h1"/><path d="M133 16.5h1"/><path d="M132 17.5h1"/><path d="M182 18.5h1"/><path d="M130 19.5h2"/><path d="M129 20.5h52" stroke-dasharray="2 49 1 1"/><path d="M131 21.5h32" stroke-dasharray="1 1 2 21 1 5 1 1"/><path d="M133 22.5h34" stroke-dasharray="1 13 1 8 1 9 1 1"/><path d="M138 23.5h1"/><path d="M129 24.5h26" stroke-dasharray="1 23 2 1"/><path d="M128 25.5h28" stroke-dasharray="1 26 1 1"/><path d="M138 26.5h1"/><path d="M127 27.5h64" stroke-dasharray="1 1 1 8 1 51 1 1"/><path d="M126 28.5h29" stroke-dasharray="1 27 1 1"/><path d="M150 29.5h41" stroke-dasharray="1 39 1 1"/><path d="M145 31.5h1"/><path d="M121 32.5h17" stroke-dasharray="1 12 1 1 2 1"/><path d="M117 33.5h1"/><path d="M117 34.5h37" stroke-dasharray="1 3 1 24 1 6 1 1"/><path d="M116 35.5h50" stroke-dasharray="1 4 1 24 1 1 1 2 1 13 1 1"/><path d="M116 36.5h75" stroke-dasharray="1 29 2 31 1 10 1 1"/><path d="M115 37.5h76" stroke-dasharray="2 29 2 1 1 39 2 1"/><path d="M115 38.5h35" stroke-dasharray="1 30 1 1 2 1"/><path d="M114 39.5h77" stroke-dasharray="2 3 1 24 2 1 1 2 1 2 1 36 1 1"/><path d="M141 40.5h11" stroke-dasharray="1 9 1 1"/><path d="M130 41.5h28" stroke-dasharray="1 26 1 1"/><path d="M125 42.5h28" stroke-dasharray="1 6 1 4 2 3 3 3 1 3 1 1"/><path d="M116 43.5h30" stroke-dasharray="1 7 1 13 1 6 1 1"/><path d="M136 44.5h55" stroke-dasharray="2 3 1 8 1 39 1 1"/><path d="M111 45.5h50" stroke-dasharray="3 18 4 14 2 1 1 6 1 1"/><path d="M131 46.5h25" stroke-dasharray="2 2 2 9 1 1 2 5 1 1"/><path d="M113 47.5h39" stroke-dasharray="1 3 2 11 1 1 2 2 1 1 1 3 1 6 3 1"/><path d="M89 48.5h67" stroke-dasharray="2 27 2 30 2 3 1 1"/><path d="M90 49.5h62" stroke-dasharray="1 27 1 7 1 9 1 9 1 1 1 1 2 1"/><path d="M134 50.5h25" stroke-dasharray="1 7 2 4 1 4 1 4 1 1"/><path d="M83 51.5h72" stroke-dasharray="1 29 1 3 1 1 1 14 2 3 1 7 1 2 1 1 1 1 1 1"/><path d="M119 52.5h33" stroke-dasharray="1 27 1 1 1 1 1 1"/><path d="M113 53.5h7" stroke-dasharray="1 2 4 1"/><path d="M47 54.5h110" stroke-dasharray="1 64 1 2 1 4 1 10 1 24 1 1"/><path d="M47 55.5h68" stroke-dasharray="2 49 1 14 2 1"/><path d="M47 56.5h96" stroke-dasharray="2 64 1 24 5 1"/><path d="M47 57.5h107" stroke-dasharray="1 53 1 6 1 3 1 18 9 1 2 1 1 1 1 6 1 1"/><path d="M112 58.5h86" stroke-dasharray="1 1 1 13 5 12 2 17 2 10 1 20 1 1"/><path d="M46 59.5h131" stroke-dasharray="1 58 1 9 1 3 1 1 1 4 3 17 3 13 1 13 1 1"/><path d="M47 60.5h154" stroke-dasharray="1 47 1 17 2 10 2 19 1 1 1 51 1 1"/><path d="M51 61.5h97" stroke-dasharray="1 52 1 19 2 21 1 1"/><path d="M123 62.5h44" stroke-dasharray="2 21 1 19 1 1"/><path d="M122 63.5h2"/><path d="M94 64.5h57" stroke-dasharray="1 26 2 27 1 1"/><path d="M103 65.5h96" stroke-dasharray="2 15 2 6 1 69 1 1"/><path d="M100 66.5h99" stroke-dasharray="1 2 1 1 1 12 2 3 1 74 1 1"/><path d="M100 67.5h95" stroke-dasharray="1 2 1 8 7 3 1 71 1 1"/><path d="M101 68.5h93" stroke-dasharray="3 4 1 1 4 19 1 59 1 1"/><path d="M102 69.5h31" stroke-dasharray="1 5 5 2 2 1 1 13 1 1"/><path d="M100 70.5h96" stroke-dasharray="3 4 2 7 1 78 1 1"/><path d="M46 71.5h120" stroke-dasharray="1 54 4 1 2 3 2 20 1 31 1 1"/><path d="M101 72.5h17" stroke-dasharray="6 8 3 1"/><path d="M99 73.5h98" stroke-dasharray="4 1 3 8 1 1 2 77 1 1"/><path d="M99 74.5h74" stroke-dasharray="2 3 3 9 1 1 1 14 1 7 1 3 1 19 1 6 1 1"/><path d="M98 75.5h43" stroke-dasharray="2 6 1 6 1 1 2 2 1 9 1 9 2 1"/><path d="M47 76.5h149" stroke-dasharray="1 8 1 2 1 2 4 31 3 8 1 1 1 4 3 1 1 14 1 2 1 57 1 1"/><path d="M42 77.5h66" stroke-dasharray="5 4 1 3 1 4 3 2 3 28 2 1 2 4 1 1 1 1"/><path d="M40 78.5h73" stroke-dasharray="3 3 4 5 1 2 3 6 2 26 2 3 2 3 1 6 1 1"/><path d="M39 79.5h94" stroke-dasharray="1 9 2 6 2 9 2 24 2 5 2 2 1 8 1 17 1 1"/><path d="M37 80.5h156" stroke-dasharray="1 13 2 1 4 11 1 24 1 7 1 14 1 12 1 31 1 2 1 26 1 1"/><path d="M36 81.5h156" stroke-dasharray="1 14 5 14 1 23 1 7 2 7 1 3 2 5 1 3 1 1 1 5 1 56 1 1"/><path d="M20 82.5h171" stroke-dasharray="15 35 2 20 3 20 2 2 1 11 3 55 2 1"/><path d="M29 83.5h105" stroke-dasharray="5 37 2 18 2 23 1 16 1 1"/><path d="M72 84.5h54" stroke-dasharray="1 17 1 24 1 1 1 6 2 1"/><path d="M72 85.5h66" stroke-dasharray="2 14 3 26 1 19 1 1"/><path d="M73 86.5h113" stroke-dasharray="2 11 2 2 2 32 1 59 2 1"/><path d="M74 87.5h55" stroke-dasharray="2 8 2 5 2 35 1 1"/><path d="M75 88.5h107" stroke-dasharray="2 6 2 7 2 41 1 24 1 20 1 1"/><path d="M76 89.5h59" stroke-dasharray="2 3 2 10 2 39 1 1"/><path d="M77 90.5h51" stroke-dasharray="2 1 2 13 2 5 1 19 1 4 1 1"/><path d="M78 91.5h48" stroke-dasharray="3 15 2 27 1 1"/><path d="M72 92.5h55" stroke-dasharray="1 6 1 18 2 26 1 1"/><path d="M95 93.5h37" stroke-dasharray="1 3 3 2 1 20 1 1 1 3 1 1"/><path d="M59 94.5h73" stroke-dasharray="1 1 1 39 2 4 1 13 1 1 1 7 1 1"/><path d="M63 95.5h58" stroke-dasharray="1 4 1 33 2 16 1 1"/><path d="M98 96.5h36" stroke-dasharray="1 4 2 2 1 8 1 9 2 2 1 2 1 1"/><path d="M85 97.5h21" stroke-dasharray="1 18 2 1"/><path d="M106 98.5h25" stroke-dasharray="1 17 1 5 1 1"/><path d="M107 99.5h40" stroke-dasharray="2 7 1 5 2 22 1 1"/><path d="M108 100.5h27" stroke-dasharray="2 9 1 1 4 9 1 1"/><path d="M59 101.5h69" stroke-dasharray="1 49 2 6 1 2 2 3 1 1 1 1"/><path d="M110 102.5h19" stroke-dasharray="3 4 1 1 5 1 1 2 1 1"/><path d="M63 103.5h72" stroke-dasharray="1 48 6 2 2 4 1 7 1 1"/><path d="M58 104.5h85" stroke-dasharray="2 45 1 20 2 14 1 1"/><path d="M70 105.5h1"/><path d="M121 106.5h10" stroke-dasharray="2 4 4 1"/><path d="M126 107.5h4" stroke-dasharray="1 1 2 1"/><path d="M112 108.5h22" stroke-dasharray="1 20 1 1"/><path d="M120 111.5h5" stroke-dasharray="1 3 1 1"/><path d="M160 116.5h1"/><path d="M32 121.5h123" stroke-dasharray="1 121 1 1"/><path d="M98 122.5h1"/><path d="M150 125.5h1"/><path d="M115 127.5h9" stroke-dasharray="1 7 1 1"/><path d="M34 128.5h1"/><path d="M125 129.5h1"/><path d="M138 134.5h1"/><path d="M36 135.5h1"/><path d="M115 140.5h1"/><path d="M51 143.5h28" stroke-dasharray="1 26 1 1"/><path d="M33 148.5h1"/><path d="M37 151.5h1"/><path d="M46 153.5h1"/></g><g stroke="#fde725"><path d="M154 3.5h27" stroke-dasharray="1 25 1 1"/><path d="M177 4.5h1"/><path d="M147 6.5h2"/><path d="M144 7.5h1"/><path d="M181 11.5h1"/><path d="M173 14.5h2"/><path d="M175 15.5h1"/><path d="M182 18.5h1"/><path d="M180 20.5h1"/><path d="M156 21.5h7" stroke-dasharray="1 5 1 1"/><path d="M166 22.5h1"/><path d="M154 24.5h1"/><path d="M190 27.5h1"/><path d="M121 32.5h1"/><path d="M153 34.5h1"/><path d="M165 35.5h1"/><path d="M179 36.5h1"/><path d="M149 37.5h41" stroke-dasharray="1 39 1 1"/><path d="M149 38.5h1"/><path d="M119 39.5h35" stroke-dasharray="1 24 1 2 1 2 1 2 1 1"/><path d="M141 40.5h1"/><path d="M130 41.5h28" stroke-dasharray="1 26 1 1"/><path d="M132 42.5h13" stroke-dasharray="1 4 2 3 3 1"/><path d="M124 43.5h22" stroke-dasharray="1 13 1 6 1 1"/><path d="M136 44.5h15" stroke-dasharray="2 3 1 8 1 1"/><path d="M132 45.5h29" stroke-dasharray="3 15 2 1 1 6 1 1"/><path d="M118 47.5h33" stroke-dasharray="1 14 1 2 1 1 1 3 1 7 1 1"/><path d="M90 48.5h1"/><path d="M126 49.5h21" stroke-dasharray="1 9 1 9 1 1"/><path d="M134 50.5h25" stroke-dasharray="1 7 2 14 1 1"/><path d="M83 51.5h57" stroke-dasharray="1 50 2 3 1 1"/><path d="M149 52.5h1"/><path d="M47 54.5h110" stroke-dasharray="1 64 1 7 1 10 1 24 1 1"/><path d="M47 55.5h67" stroke-dasharray="2 64 1 1"/><path d="M113 56.5h30" stroke-dasharray="1 24 1 1 3 1"/><path d="M131 57.5h12" stroke-dasharray="9 2 1 1"/><path d="M114 58.5h32" stroke-dasharray="1 13 5 12 1 1"/><path d="M119 59.5h8" stroke-dasharray="1 6 1 1"/><path d="M125 60.5h76" stroke-dasharray="2 73 1 1"/><path d="M51 61.5h75" stroke-dasharray="1 72 2 1"/><path d="M123 62.5h2"/><path d="M123 63.5h1"/><path d="M121 64.5h2"/><path d="M103 65.5h19" stroke-dasharray="2 15 2 1"/><path d="M103 66.5h17" stroke-dasharray="1 15 1 1"/><path d="M103 67.5h92" stroke-dasharray="1 8 5 1 1 75 1 1"/><path d="M103 68.5h91" stroke-dasharray="1 6 4 79 1 1"/><path d="M102 69.5h17" stroke-dasharray="1 5 3 1 1 5 1 1"/><path d="M101 70.5h95" stroke-dasharray="2 4 1 87 1 1"/><path d="M101 71.5h7" stroke-dasharray="2 1 1 1 2 1"/><path d="M101 72.5h17" stroke-dasharray="6 8 1 1 1 1"/><path d="M99 73.5h98" stroke-dasharray="3 2 1 1 1 10 1 78 1 1"/><path d="M99 74.5h47" stroke-dasharray="2 4 1 10 1 28 1 1"/><path d="M98 75.5h18" stroke-dasharray="2 6 1 8 1 1"/><path d="M63 76.5h75" stroke-dasharray="3 31 3 16 1 20 1 1"/><path d="M43 77.5h63" stroke-dasharray="1 1 2 13 2 3 3 28 2 2 1 4 1 1"/><path d="M40 78.5h62" stroke-dasharray="2 4 4 5 1 2 3 6 2 26 2 3 2 1"/><path d="M57 79.5h76" stroke-dasharray="2 9 2 31 1 30 1 1"/><path d="M37 80.5h66" stroke-dasharray="1 13 2 2 2 37 1 7 1 1"/><path d="M36 81.5h93" stroke-dasharray="1 15 2 1 1 14 1 23 1 8 1 24 1 1"/><path d="M21 82.5h170" stroke-dasharray="2 1 3 1 7 36 1 20 1 1 1 37 1 57 1 1"/><path d="M30 83.5h87" stroke-dasharray="4 37 2 18 2 23 1 1"/><path d="M72 84.5h44" stroke-dasharray="1 17 1 24 1 1"/><path d="M73 85.5h17" stroke-dasharray="1 15 1 1"/><path d="M73 86.5h19" stroke-dasharray="2 11 2 2 2 1"/><path d="M74 87.5h55" stroke-dasharray="1 10 1 5 2 35 1 1"/><path d="M75 88.5h107" stroke-dasharray="2 6 2 7 2 41 1 45 1 1"/><path d="M76 89.5h19" stroke-dasharray="2 3 2 10 2 1"/><path d="M77 90.5h20" stroke-dasharray="2 1 2 13 2 1"/><path d="M78 91.5h20" stroke-dasharray="3 15 2 1"/><path d="M79 92.5h21" stroke-dasharray="1 18 2 1"/><path d="M99 93.5h29" stroke-dasharray="3 25 1 1"/><path d="M61 94.5h42" stroke-dasharray="1 39 2 1"/><path d="M103 95.5h18" stroke-dasharray="1 16 1 1"/><path d="M103 96.5h2"/><path d="M104 97.5h2"/><path d="M106 98.5h1"/><path d="M107 99.5h2"/><path d="M108 100.5h16" stroke-dasharray="2 11 1 1 1 1"/><path d="M109 101.5h13" stroke-dasharray="2 9 2 1"/><path d="M110 102.5h11" stroke-dasharray="3 4 1 1 2 1"/><path d="M112 103.5h9" stroke-dasharray="6 2 1 1"/><path d="M130 106.5h1"/><path d="M115 140.5h1"/><path d="M78 143.5h1"/></g></g><use href="#grid"/><path d="M195.8 710.2v11.46M418.3 710.2v11.46M640.8 710.2v11.46" stroke="#333" stroke-width="4.45" fill="none"/><text x="195.8" y="756.36" font-size="36.67" fill="#4d4d4d" text-anchor="middle">20°E</text><text x="418.3" y="756.36" font-size="36.67" fill="#4d4d4d" text-anchor="middle">25°E</text><text x="640.8" y="756.36" font-size="36.67" fill="#4d4d4d" text-anchor="middle">30°E</text></g><defs><linearGradient id="vg" x1="0" y1="1" x2="0" y2="0"><stop offset="0" stop-color="#440154"/><stop offset="0.05" stop-color="#451860"/><stop offset="0.1" stop-color="#46286d"/><stop offset="0.15" stop-color="#44367a"/><stop offset="0.2" stop-color="#414487"/><stop offset="0.25" stop-color="#3f5189"/><stop offset="0.3" stop-color="#3b5e8b"/><stop offset="0.35" stop-color="#346b8c"/><stop offset="0.4" stop-color="#2a788e"/><stop offset="0.45" stop-color="#2c848c"/><stop offset="0.5" stop-color="#2b9089"/><stop offset="0.55" stop-color="#289c87"/><stop offset="0.6" stop-color="#22a884"/><stop offset="0.65" stop-color="#44b279"/><stop offset="0.7" stop-color="#5abc6d"/><stop offset="0.75" stop-color="#6bc760"/><stop offset="0.8" stop-color="#7ad151"/><stop offset="0.85" stop-color="#9fd749"/><stop offset="0.9" stop-color="#c0dd40"/><stop offset="0.95" stop-color="#dfe234"/><stop offset="1" stop-color="#fde725"/></linearGradient></defs><text x="1837.3" y="920" font-size="45.83" fill="#000">real_occu</text><rect x="1837" y="947.6" width="72" height="359.4" fill="url(#vg)"/><text x="1931.9" y="1320.2" font-size="36.67" fill="#000">0.00</text><text x="1931.9" y="1230.35" font-size="36.67" fill="#000">0.25</text><text x="1931.9" y="1140.5" font-size="36.67" fill="#000">0.50</text><text x="1931.9" y="1050.65" font-size="36.67" fill="#000">0.75</text><text x="1931.9" y="960.8" font-size="36.67" fill="#000">1.00</text><path d="M1837 1307h14.4M1909 1307h-14.4M1837 1217.15h14.4M1909 1217.15h-14.4M1837 1127.3h14.4M1909 1127.3h-14.4M1837 1037.45h14.4M1909 1037.45h-14.4M1837 947.6h14.4M1909 947.6h-14.4" stroke="#fff" stroke-width="1.6" fill="none"/></svg></body></html>
